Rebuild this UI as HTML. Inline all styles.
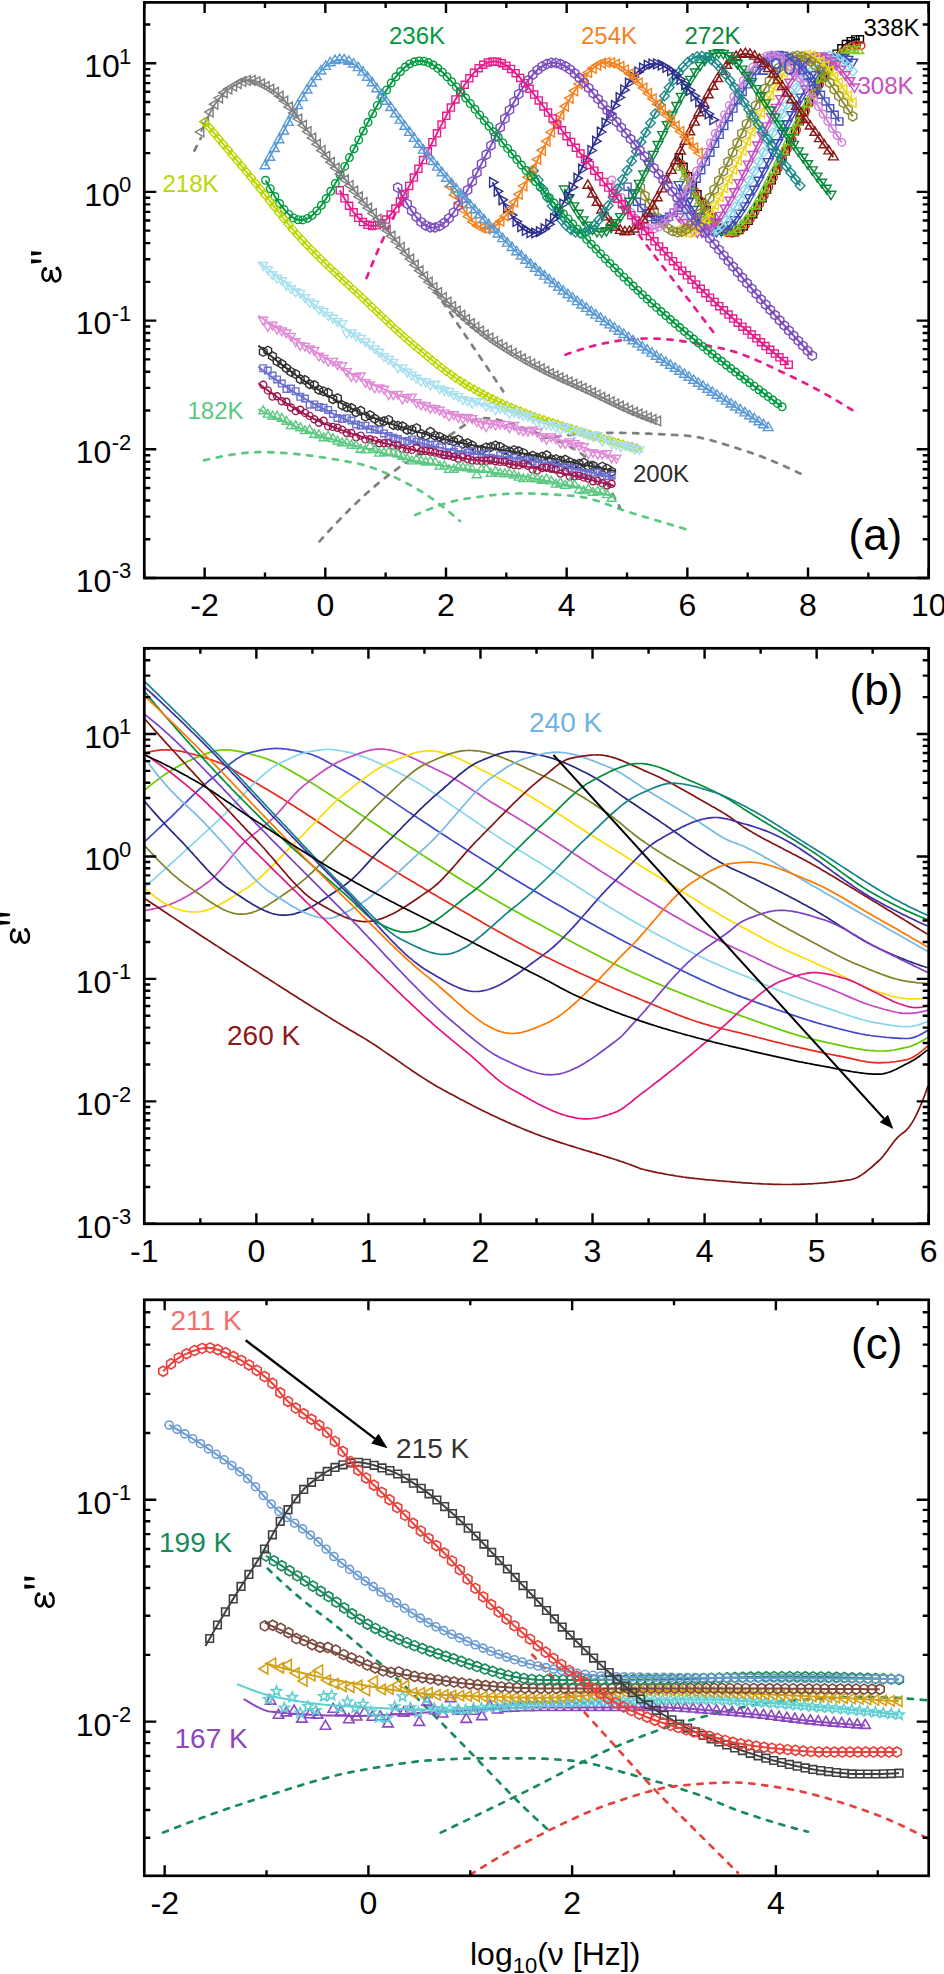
<!DOCTYPE html>
<html><head><meta charset="utf-8"><style>
html,body{margin:0;padding:0;background:#fff;}
svg{display:block;} text{font-family:"Liberation Sans",sans-serif;}
</style></head><body>
<svg width="944" height="1974" viewBox="0 0 944 1974">
<path d="M204.0 460.4 205.2 460.1 206.4 459.8 207.7 459.5 208.9 459.2 210.1 458.9 211.3 458.7 212.5 458.4 213.7 458.1 214.9 457.9 216.1 457.6 217.3 457.4 218.5 457.1 219.7 456.9 220.9 456.6 222.1 456.4 223.3 456.1 224.6 455.9 225.8 455.7 227.0 455.5 228.2 455.3 229.4 455.1 230.6 454.9 231.8 454.7 233.0 454.5 234.2 454.3 235.4 454.1 236.6 453.9 237.8 453.8 239.0 453.6 240.2 453.5 241.4 453.3 242.7 453.2 243.9 453.1 245.1 452.9 246.3 452.8 247.5 452.7 248.7 452.6 249.9 452.5 251.1 452.5 252.3 452.4 253.5 452.3 254.7 452.3 255.9 452.2 257.1 452.2 258.3 452.2 259.5 452.1 260.8 452.1 262.0 452.1 263.2 452.1 264.4 452.1 265.6 452.2 266.8 452.2 268.0 452.2 269.2 452.2 270.4 452.3 271.6 452.3 272.8 452.3 274.0 452.4 275.2 452.4 276.4 452.5 277.6 452.6 278.9 452.6 280.1 452.7 281.3 452.8 282.5 452.8 283.7 452.9 284.9 453.0 286.1 453.1 287.3 453.2 288.5 453.3 289.7 453.4 290.9 453.5 292.1 453.6 293.3 453.7 294.5 453.8 295.7 453.9 297.0 454.1 298.2 454.2 299.4 454.3 300.6 454.4 301.8 454.6 303.0 454.7 304.2 454.9 305.4 455.0 306.6 455.1 307.8 455.3 309.0 455.4 310.2 455.6 311.4 455.8 312.6 455.9 313.9 456.1 315.1 456.3 316.3 456.4 317.5 456.6 318.7 456.8 319.9 457.0 321.1 457.1 322.3 457.3 323.5 457.5 324.7 457.7 325.9 457.9 327.1 458.1 328.3 458.3 329.5 458.5 330.7 458.7 332.0 458.9 333.2 459.1 334.4 459.3 335.6 459.5 336.8 459.7 338.0 459.9 339.2 460.1 340.4 460.3 341.6 460.5 342.8 460.7 344.0 460.9 345.2 461.2 346.4 461.4 347.6 461.6 348.8 461.8 350.1 462.1 351.3 462.3 352.5 462.5 353.7 462.7 354.9 463.0 356.1 463.2 357.3 463.4 358.5 463.7 359.7 464.0 360.9 464.3 362.1 464.6 363.3 464.9 364.5 465.2 365.7 465.6 366.9 465.9 368.2 466.3 369.4 466.7 370.6 467.1 371.8 467.5 373.0 467.9 374.2 468.4 375.4 468.8 376.6 469.3 377.8 469.8 379.0 470.2 380.2 470.7 381.4 471.2 382.6 471.7 383.8 472.3 385.1 472.8 386.3 473.3 387.5 473.9 388.7 474.4 389.9 475.0 391.1 475.5 392.3 476.1 393.5 476.7 394.7 477.3 395.9 477.8 397.1 478.4 398.3 479.0 399.5 479.6 400.7 480.2 401.9 480.9 403.2 481.5 404.4 482.1 405.6 482.7 406.8 483.3 408.0 484.0 409.2 484.6 410.4 485.2 411.6 485.8 412.8 486.5 414.0 487.2 415.2 487.8 416.4 488.5 417.6 489.2 418.8 490.0 420.0 490.7 421.3 491.4 422.5 492.2 423.7 493.0 424.9 493.8 426.1 494.6 427.3 495.4 428.5 496.2 429.7 497.0 430.9 497.9 432.1 498.7 433.3 499.6 434.5 500.5 435.7 501.3 436.9 502.2 438.1 503.2 439.4 504.1 440.6 505.0 441.8 505.9 443.0 506.9 444.2 507.8 445.4 508.8 446.6 509.8 447.8 510.8 449.0 511.8 450.2 512.7 451.4 513.8 452.6 514.8 453.8 515.8 455.0 516.8 456.2 517.8 457.5 518.9 458.7 519.9 459.9 521.0" stroke="#5cc882" stroke-width="2.7" fill="none" stroke-dasharray="5.2 7.8" stroke-linecap="round"/>
<path d="M415.2 514.9 416.4 514.4 417.6 513.9 418.9 513.4 420.1 512.9 421.3 512.4 422.5 511.9 423.7 511.4 424.9 510.9 426.1 510.4 427.3 509.9 428.6 509.4 429.8 509.0 431.0 508.5 432.2 508.1 433.4 507.6 434.6 507.2 435.8 506.7 437.0 506.3 438.3 505.9 439.5 505.4 440.7 505.0 441.9 504.6 443.1 504.2 444.3 503.8 445.5 503.5 446.7 503.1 447.9 502.8 449.2 502.4 450.4 502.1 451.6 501.7 452.8 501.4 454.0 501.1 455.2 500.8 456.4 500.5 457.6 500.3 458.9 500.0 460.1 499.8 461.3 499.5 462.5 499.3 463.7 499.1 464.9 498.9 466.1 498.7 467.3 498.5 468.6 498.4 469.8 498.2 471.0 498.0 472.2 497.8 473.4 497.6 474.6 497.5 475.8 497.3 477.0 497.1 478.3 496.9 479.5 496.8 480.7 496.6 481.9 496.4 483.1 496.3 484.3 496.1 485.5 496.0 486.7 495.8 488.0 495.7 489.2 495.5 490.4 495.4 491.6 495.2 492.8 495.1 494.0 495.0 495.2 494.8 496.4 494.7 497.6 494.6 498.9 494.5 500.1 494.4 501.3 494.3 502.5 494.2 503.7 494.1 504.9 494.0 506.1 493.9 507.3 493.8 508.6 493.8 509.8 493.7 511.0 493.7 512.2 493.6 513.4 493.6 514.6 493.5 515.8 493.5 517.0 493.5 518.3 493.5 519.5 493.4 520.7 493.4 521.9 493.4 523.1 493.5 524.3 493.5 525.5 493.5 526.7 493.5 528.0 493.5 529.2 493.5 530.4 493.6 531.6 493.6 532.8 493.6 534.0 493.6 535.2 493.7 536.4 493.7 537.6 493.8 538.9 493.8 540.1 493.9 541.3 493.9 542.5 494.0 543.7 494.0 544.9 494.1 546.1 494.1 547.3 494.2 548.6 494.2 549.8 494.3 551.0 494.4 552.2 494.4 553.4 494.5 554.6 494.6 555.8 494.7 557.0 494.7 558.3 494.8 559.5 494.9 560.7 495.0 561.9 495.1 563.1 495.2 564.3 495.2 565.5 495.3 566.7 495.4 568.0 495.5 569.2 495.6 570.4 495.7 571.6 495.8 572.8 495.9 574.0 496.0 575.2 496.1 576.4 496.2 577.7 496.3 578.9 496.5 580.1 496.7 581.3 496.8 582.5 497.1 583.7 497.3 584.9 497.5 586.1 497.8 587.3 498.1 588.6 498.4 589.8 498.7 591.0 499.0 592.2 499.3 593.4 499.7 594.6 500.1 595.8 500.4 597.0 500.8 598.3 501.2 599.5 501.6 600.7 502.0 601.9 502.5 603.1 502.9 604.3 503.3 605.5 503.7 606.7 504.2 608.0 504.6 609.2 505.1 610.4 505.5 611.6 506.0 612.8 506.4 614.0 506.9 615.2 507.3 616.4 507.8 617.7 508.2 618.9 508.7 620.1 509.1 621.3 509.5 622.5 510.0 623.7 510.4 624.9 510.8 626.1 511.2 627.4 511.6 628.6 512.0 629.8 512.4 631.0 512.7 632.2 513.1 633.4 513.5 634.6 513.8 635.8 514.2 637.0 514.5 638.3 514.9 639.5 515.3 640.7 515.6 641.9 516.0 643.1 516.4 644.3 516.7 645.5 517.1 646.7 517.5 648.0 517.8 649.2 518.2 650.4 518.5 651.6 518.9 652.8 519.3 654.0 519.6 655.2 520.0 656.4 520.4 657.7 520.7 658.9 521.1 660.1 521.5 661.3 521.8 662.5 522.2 663.7 522.5 664.9 522.9 666.1 523.3 667.4 523.6 668.6 524.0 669.8 524.4 671.0 524.7 672.2 525.1 673.4 525.5 674.6 525.8 675.8 526.2 677.1 526.5 678.3 526.9 679.5 527.3 680.7 527.6 681.9 528.0 683.1 528.4 684.3 528.7 685.5 529.1" stroke="#5cc882" stroke-width="2.7" fill="none" stroke-dasharray="5.2 7.8" stroke-linecap="round"/>
<path d="M319.5 541.4 320.7 540.1 321.9 538.7 323.2 537.4 324.4 536.0 325.6 534.7 326.8 533.4 328.0 532.0 329.2 530.7 330.4 529.4 331.6 528.1 332.8 526.8 334.1 525.5 335.3 524.2 336.5 522.9 337.7 521.6 338.9 520.4 340.1 519.1 341.3 517.9 342.5 516.6 343.7 515.4 344.9 514.1 346.2 512.9 347.4 511.7 348.6 510.5 349.8 509.3 351.0 508.1 352.2 506.9 353.4 505.7 354.6 504.5 355.8 503.4 357.1 502.2 358.3 501.1 359.5 499.9 360.7 498.8 361.9 497.7 363.1 496.6 364.3 495.4 365.5 494.3 366.7 493.3 367.9 492.2 369.2 491.1 370.4 490.0 371.6 489.0 372.8 487.9 374.0 486.9 375.2 485.9 376.4 484.9 377.6 483.9 378.8 482.9 380.1 481.9 381.3 480.9 382.5 479.9 383.7 479.0 384.9 478.0 386.1 477.1 387.3 476.2 388.5 475.2 389.7 474.3 391.0 473.4 392.2 472.5 393.4 471.6 394.6 470.7 395.8 469.8 397.0 468.9 398.2 468.1 399.4 467.2 400.6 466.3 401.8 465.5 403.1 464.6 404.3 463.8 405.5 462.9 406.7 462.1 407.9 461.3 409.1 460.5 410.3 459.6 411.5 458.8 412.7 458.0 414.0 457.2 415.2 456.4 416.4 455.6 417.6 454.8 418.8 454.1 420.0 453.3 421.2 452.5 422.4 451.7 423.6 451.0 424.9 450.2 426.1 449.5 427.3 448.7 428.5 448.0 429.7 447.2 430.9 446.5 432.1 445.7 433.3 445.0 434.5 444.2 435.7 443.5 437.0 442.8 438.2 442.1 439.4 441.3 440.6 440.6 441.8 439.9 443.0 439.2 444.2 438.5 445.4 437.8 446.6 437.0 447.9 436.3 449.1 435.6 450.3 434.9 451.5 434.1 452.7 433.4 453.9 432.5 455.1 431.7 456.3 430.9 457.5 430.0 458.7 429.2 460.0 428.3 461.2 427.4 462.4 426.6 463.6 425.8 464.8 424.9 466.0 424.2 467.2 423.4 468.4 422.7 469.6 422.0 470.9 421.3 472.1 420.7 473.3 420.1 474.5 419.6 475.7 419.2 476.9 418.8 478.1 418.5 479.3 418.3 480.5 418.1 481.8 418.0 483.0 418.0 484.2 418.1 485.4 418.1 486.6 418.2 487.8 418.3 489.0 418.4 490.2 418.5 491.4 418.7 492.6 418.9 493.9 419.1 495.1 419.3 496.3 419.5 497.5 419.7 498.7 420.0 499.9 420.3 501.1 420.6 502.3 420.9 503.5 421.2 504.8 421.5 506.0 421.9 507.2 422.2 508.4 422.6 509.6 423.0 510.8 423.4 512.0 423.8 513.2 424.2 514.4 424.6 515.7 425.0 516.9 425.4 518.1 425.9 519.3 426.3 520.5 426.7 521.7 427.2 522.9 427.6 524.1 428.1 525.3 428.5 526.5 429.0 527.8 429.4 529.0 429.9 530.2 430.3 531.4 430.8 532.6 431.2 533.8 431.6 535.0 432.1 536.2 432.5 537.4 432.9 538.7 433.4 539.9 433.8 541.1 434.2 542.3 434.7 543.5 435.1 544.7 435.6 545.9 436.0 547.1 436.5 548.3 436.9 549.5 437.4 550.8 437.9 552.0 438.3 553.2 438.8 554.4 439.3 555.6 439.8 556.8 440.4 558.0 440.9 559.2 441.4 560.4 442.0 561.7 442.5 562.9 443.1 564.1 443.7 565.3 444.3 566.5 444.9 567.7 445.5 568.9 446.2 570.1 446.8 571.3 447.5 572.6 448.2 573.8 448.9 575.0 449.7 576.2 450.4 577.4 451.2 578.6 452.0 579.8 452.8 581.0 453.6 582.2 454.4 583.4 455.3 584.7 456.2 585.9 457.1 587.1 458.1 588.3 459.1 589.5 460.2 590.7 461.4 591.9 462.7 593.1 464.0 594.3 465.4 595.6 466.9 596.8 468.5 598.0 470.1 599.2 471.8 600.4 473.6 601.6 475.4 602.8 477.3 604.0 479.2 605.2 481.1 606.4 483.1 607.7 485.2 608.9 487.3 610.1 489.4 611.3 491.5 612.5 493.7 613.7 495.9 614.9 498.1 616.1 500.4 617.3 502.7 618.6 504.9 619.8 507.2" stroke="#7f7f7f" stroke-width="2.7" fill="none" stroke-dasharray="5.2 7.8" stroke-linecap="round"/>
<path d="M542.5 438.4 543.7 438.2 545.0 438.0 546.2 437.9 547.4 437.7 548.6 437.5 549.8 437.4 551.0 437.2 552.2 437.1 553.4 436.9 554.6 436.7 555.8 436.6 557.0 436.4 558.3 436.3 559.5 436.1 560.7 436.0 561.9 435.9 563.1 435.7 564.3 435.6 565.5 435.4 566.7 435.3 567.9 435.2 569.1 435.1 570.4 434.9 571.6 434.8 572.8 434.7 574.0 434.6 575.2 434.5 576.4 434.4 577.6 434.2 578.8 434.1 580.0 434.0 581.2 434.0 582.5 433.9 583.7 433.8 584.9 433.7 586.1 433.6 587.3 433.5 588.5 433.4 589.7 433.4 590.9 433.3 592.1 433.2 593.3 433.2 594.5 433.1 595.8 433.1 597.0 433.0 598.2 433.0 599.4 433.0 600.6 432.9 601.8 432.9 603.0 432.9 604.2 432.9 605.4 432.8 606.6 432.8 607.9 432.8 609.1 432.8 610.3 432.8 611.5 432.8 612.7 432.8 613.9 432.8 615.1 432.9 616.3 432.9 617.5 432.9 618.7 432.9 619.9 432.9 621.2 432.9 622.4 432.9 623.6 433.0 624.8 433.0 626.0 433.0 627.2 433.0 628.4 433.0 629.6 433.1 630.8 433.1 632.0 433.1 633.3 433.2 634.5 433.2 635.7 433.2 636.9 433.3 638.1 433.3 639.3 433.3 640.5 433.4 641.7 433.4 642.9 433.5 644.1 433.5 645.3 433.5 646.6 433.6 647.8 433.6 649.0 433.7 650.2 433.7 651.4 433.8 652.6 433.8 653.8 433.9 655.0 433.9 656.2 434.0 657.4 434.0 658.7 434.1 659.9 434.2 661.1 434.2 662.3 434.3 663.5 434.3 664.7 434.4 665.9 434.5 667.1 434.5 668.3 434.6 669.5 434.7 670.8 434.7 672.0 434.8 673.2 434.9 674.4 435.0 675.6 435.0 676.8 435.1 678.0 435.2 679.2 435.2 680.4 435.3 681.6 435.4 682.8 435.5 684.1 435.6 685.3 435.6 686.5 435.7 687.7 435.8 688.9 435.9 690.1 436.1 691.3 436.2 692.5 436.4 693.7 436.6 694.9 436.7 696.2 436.9 697.4 437.2 698.6 437.4 699.8 437.6 701.0 437.9 702.2 438.1 703.4 438.4 704.6 438.7 705.8 439.0 707.0 439.3 708.2 439.6 709.5 439.9 710.7 440.2 711.9 440.5 713.1 440.9 714.3 441.2 715.5 441.5 716.7 441.9 717.9 442.3 719.1 442.6 720.3 443.0 721.6 443.4 722.8 443.7 724.0 444.1 725.2 444.5 726.4 444.9 727.6 445.2 728.8 445.6 730.0 446.0 731.2 446.4 732.4 446.8 733.6 447.2 734.9 447.6 736.1 447.9 737.3 448.3 738.5 448.7 739.7 449.1 740.9 449.4 742.1 449.8 743.3 450.2 744.5 450.6 745.7 451.0 747.0 451.4 748.2 451.8 749.4 452.2 750.6 452.6 751.8 453.0 753.0 453.5 754.2 453.9 755.4 454.3 756.6 454.8 757.8 455.2 759.1 455.7 760.3 456.1 761.5 456.6 762.7 457.0 763.9 457.5 765.1 458.0 766.3 458.5 767.5 458.9 768.7 459.4 769.9 459.9 771.1 460.4 772.4 460.9 773.6 461.4 774.8 461.9 776.0 462.4 777.2 463.0 778.4 463.5 779.6 464.0 780.8 464.5 782.0 465.1 783.2 465.6 784.5 466.2 785.7 466.7 786.9 467.3 788.1 467.8 789.3 468.4 790.5 468.9 791.7 469.5 792.9 470.1 794.1 470.6 795.3 471.2 796.5 471.8 797.8 472.4 799.0 473.0 800.2 473.5 801.4 474.1" stroke="#7f7f7f" stroke-width="2.7" fill="none" stroke-dasharray="5.2 7.8" stroke-linecap="round"/>
<path d="M565.5 354.7 566.7 354.3 567.9 353.8 569.1 353.4 570.3 353.0 571.5 352.5 572.7 352.1 573.9 351.7 575.1 351.3 576.3 350.9 577.6 350.5 578.8 350.1 580.0 349.7 581.2 349.3 582.4 349.0 583.6 348.6 584.8 348.2 586.0 347.9 587.2 347.5 588.4 347.2 589.6 346.9 590.9 346.5 592.1 346.2 593.3 345.9 594.5 345.6 595.7 345.3 596.9 345.0 598.1 344.7 599.3 344.4 600.5 344.1 601.7 343.8 602.9 343.6 604.2 343.3 605.4 343.0 606.6 342.8 607.8 342.6 609.0 342.3 610.2 342.1 611.4 341.9 612.6 341.7 613.8 341.5 615.0 341.2 616.3 341.1 617.5 340.9 618.7 340.7 619.9 340.5 621.1 340.3 622.3 340.2 623.5 340.0 624.7 339.9 625.9 339.7 627.1 339.6 628.3 339.5 629.6 339.4 630.8 339.3 632.0 339.2 633.2 339.1 634.4 339.0 635.6 338.9 636.8 338.8 638.0 338.8 639.2 338.7 640.4 338.6 641.6 338.6 642.9 338.6 644.1 338.5 645.3 338.5 646.5 338.5 647.7 338.5 648.9 338.5 650.1 338.5 651.3 338.5 652.5 338.5 653.7 338.6 654.9 338.6 656.2 338.7 657.4 338.7 658.6 338.8 659.8 338.8 661.0 338.9 662.2 339.0 663.4 339.1 664.6 339.2 665.8 339.3 667.0 339.4 668.3 339.5 669.5 339.6 670.7 339.7 671.9 339.9 673.1 340.0 674.3 340.2 675.5 340.3 676.7 340.4 677.9 340.6 679.1 340.8 680.3 340.9 681.6 341.1 682.8 341.3 684.0 341.4 685.2 341.6 686.4 341.8 687.6 342.0 688.8 342.2 690.0 342.4 691.2 342.6 692.4 342.8 693.6 343.0 694.9 343.2 696.1 343.4 697.3 343.6 698.5 343.9 699.7 344.1 700.9 344.3 702.1 344.5 703.3 344.8 704.5 345.0 705.7 345.2 706.9 345.5 708.2 345.7 709.4 345.9 710.6 346.2 711.8 346.4 713.0 346.6 714.2 346.9 715.4 347.1 716.6 347.4 717.8 347.6 719.0 347.8 720.2 348.1 721.5 348.3 722.7 348.6 723.9 348.9 725.1 349.1 726.3 349.4 727.5 349.8 728.7 350.1 729.9 350.4 731.1 350.8 732.3 351.1 733.6 351.5 734.8 351.9 736.0 352.3 737.2 352.7 738.4 353.1 739.6 353.5 740.8 353.9 742.0 354.3 743.2 354.8 744.4 355.2 745.6 355.7 746.9 356.2 748.1 356.7 749.3 357.1 750.5 357.6 751.7 358.1 752.9 358.6 754.1 359.1 755.3 359.7 756.5 360.2 757.7 360.7 758.9 361.3 760.2 361.8 761.4 362.3 762.6 362.9 763.8 363.4 765.0 364.0 766.2 364.6 767.4 365.1 768.6 365.7 769.8 366.3 771.0 366.8 772.2 367.4 773.5 368.0 774.7 368.5 775.9 369.1 777.1 369.7 778.3 370.3 779.5 370.9 780.7 371.4 781.9 372.0 783.1 372.6 784.3 373.2 785.6 373.8 786.8 374.3 788.0 374.9 789.2 375.5 790.4 376.1 791.6 376.6 792.8 377.2 794.0 377.8 795.2 378.3 796.4 378.9 797.6 379.5 798.9 380.1 800.1 380.7 801.3 381.3 802.5 381.9 803.7 382.5 804.9 383.1 806.1 383.7 807.3 384.3 808.5 385.0 809.7 385.6 810.9 386.2 812.2 386.9 813.4 387.5 814.6 388.2 815.8 388.8 817.0 389.5 818.2 390.1 819.4 390.8 820.6 391.4 821.8 392.1 823.0 392.8 824.2 393.5 825.5 394.1 826.7 394.8 827.9 395.5 829.1 396.2 830.3 396.9 831.5 397.6 832.7 398.3 833.9 399.0 835.1 399.7 836.3 400.4 837.5 401.1 838.8 401.9 840.0 402.6 841.2 403.3 842.4 404.0 843.6 404.8 844.8 405.5 846.0 406.2 847.2 407.0 848.4 407.7 849.6 408.5 850.9 409.2 852.1 410.0 853.3 410.7 854.5 411.5 855.7 412.2 856.9 413.0" stroke="#e61e8c" stroke-width="2.7" fill="none" stroke-dasharray="5.2 7.8" stroke-linecap="round"/>
<path d="M639.1 234.8 640.3 236.5 641.5 238.2 642.7 239.9 643.9 241.5 645.2 243.2 646.4 244.9 647.6 246.5 648.8 248.2 650.0 249.8 651.2 251.4 652.5 253.0 653.7 254.7 654.9 256.3 656.1 257.9 657.3 259.4 658.5 261.0 659.8 262.6 661.0 264.2 662.2 265.8 663.4 267.3 664.6 268.9 665.8 270.5 667.1 272.0 668.3 273.6 669.5 275.1 670.7 276.7 671.9 278.2 673.1 279.8 674.4 281.4 675.6 282.9 676.8 284.5 678.0 286.0 679.2 287.6 680.4 289.2 681.7 290.8 682.9 292.3 684.1 293.9 685.3 295.5 686.5 297.1 687.7 298.7 689.0 300.2 690.2 301.8 691.4 303.4 692.6 305.0 693.8 306.6 695.0 308.2 696.3 309.8 697.5 311.4 698.7 313.0 699.9 314.5 701.1 316.1 702.3 317.7 703.6 319.3 704.8 320.9 706.0 322.5 707.2 324.1 708.4 325.7 709.6 327.3 710.9 328.9 712.1 330.5 713.3 332.1" stroke="#e61e8c" stroke-width="2.7" fill="none" stroke-dasharray="5.2 7.8" stroke-linecap="round"/>
<path d="M366.5 278.0 367.8 274.9 369.0 271.8 370.2 268.7 371.5 265.7 372.7 262.7 374.0 259.7 375.2 256.8 376.5 253.9 377.7 251.0 378.9 248.2 380.2 245.4 381.4 242.6 382.7 239.9 383.9 237.2 385.1 234.5 386.4 231.9 387.6 229.3 388.9 226.7 390.1 224.1 391.3 221.6 392.6 219.2 393.8 216.7 395.1 214.3 396.3 211.9 397.6 209.6 398.8 207.2 400.0 205.0 401.3 202.7 402.5 200.5 403.8 198.3" stroke="#e61e8c" stroke-width="2.7" fill="none" stroke-dasharray="5.2 7.8" stroke-linecap="round"/>
<path d="M194.4 150.7 195.7 148.1 197.0 145.6 198.4 143.0 199.7 140.4 201.0 137.8" stroke="#7f7f7f" stroke-width="2.7" fill="none" stroke-dasharray="5.2 7.8" stroke-linecap="round"/>
<path d="M427.9 280.3 429.1 282.1 430.3 283.9 431.5 285.7 432.8 287.5 434.0 289.2 435.2 291.0 436.4 292.8 437.6 294.6 438.8 296.4 440.1 298.2 441.3 299.9 442.5 301.7 443.7 303.5 444.9 305.3 446.1 307.1 447.4 308.9 448.6 310.7 449.8 312.4 451.0 314.2 452.2 316.0 453.4 317.8 454.7 319.6 455.9 321.4 457.1 323.2 458.3 325.0 459.5 326.7 460.7 328.5 462.0 330.3 463.2 332.1 464.4 333.9 465.6 335.7 466.8 337.5 468.0 339.3 469.3 341.1 470.5 342.9 471.7 344.6 472.9 346.4 474.1 348.2 475.3 350.0 476.6 351.8 477.8 353.6 479.0 355.4 480.2 357.2 481.4 359.0 482.6 360.8 483.8 362.6 485.1 364.4 486.3 366.2 487.5 368.0 488.7 369.8 489.9 371.6 491.1 373.4 492.4 375.2 493.6 377.0 494.8 378.8 496.0 380.6 497.2 382.4 498.4 384.2 499.7 386.0 500.9 387.8 502.1 389.6 503.3 391.4" stroke="#7f7f7f" stroke-width="2.7" fill="none" stroke-dasharray="5.2 7.8" stroke-linecap="round"/>
<path d="M678.9 157.4 680.1 159.9 681.3 162.4 682.5 164.9 683.8 167.3 685.0 169.8 686.2 172.2 687.4 174.7 688.6 177.1 689.8 179.5 691.0 181.9 692.3 184.3 693.5 186.6 694.7 189.0 695.9 191.3 697.1 193.5 698.3 195.8 699.6 198.0 700.8 200.2 702.0 202.3 703.2 204.4 704.4 206.5 705.6 208.5 706.8 210.5 708.1 212.4 709.3 214.2 710.5 216.0 711.7 217.7 712.9 219.4 714.1 221.0 715.3 222.5 716.6 223.9 717.8 225.2 719.0 226.4 720.2 227.5 721.4 228.6 722.6 229.5 723.8 230.3 725.1 231.0 726.3 231.6 727.5 232.0 728.7 232.3 729.9 232.6 731.1 232.6 732.4 232.6 733.6 232.4 734.8 232.1 736.0 231.7 737.2 231.2 738.4 230.5 739.6 229.7 740.9 228.9 742.1 227.9 743.3 226.7 744.5 225.5 745.7 224.2 746.9 222.8 748.1 221.3 749.4 219.7 750.6 218.1 751.8 216.3 753.0 214.5 754.2 212.6 755.4 210.7 756.7 208.7 757.9 206.6 759.1 204.5 760.3 202.3 761.5 200.1 762.7 197.9 763.9 195.6 765.2 193.3 766.4 190.9 767.6 188.5 768.8 186.1 770.0 183.7 771.2 181.3 772.4 178.8 773.7 176.3 774.9 173.8 776.1 171.3 777.3 168.8 778.5 166.2 779.7 163.7 780.9 161.1 782.2 158.5 783.4 156.0 784.6 153.4 785.8 150.8 787.0 148.2 788.2 145.6 789.5 143.0 790.7 140.4 791.9 137.9 793.1 135.3 794.3 132.7 795.5 130.1 796.7 127.5 798.0 124.9 799.2 122.4 800.4 119.8 801.6 117.3 802.8 114.7 804.0 112.2 805.2 109.7 806.5 107.2 807.7 104.7 808.9 102.2 810.1 99.7 811.3 97.3 812.5 94.8 813.7 92.4 815.0 90.0 816.2 87.7 817.4 85.4 818.6 83.1 819.8 80.8 821.0 78.5 822.3 76.3 823.5 74.2 824.7 72.0 825.9 70.0 827.1 67.9 828.3 65.9 829.5 64.0 830.8 62.1 832.0 60.2 833.2 58.5 834.4 56.8 835.6 55.1 836.8 53.5 838.0 52.0 839.3 50.6 840.5 49.2 841.7 47.9 842.9 46.7 844.1 45.6 845.3 44.6 846.6 43.6 847.8 42.8 849.0 42.0 850.2 41.3 851.4 40.8 852.6 40.3 853.8 39.9 855.1 39.6 856.3 39.3 857.5 39.2 858.7 39.2 859.9 39.2" stroke="#000000" stroke-width="1.9" fill="none" stroke-linejoin="round"/>
<path d="M675.3 153.8h7.1v7.1h-7.1zM680.0 163.3h7.1v7.1h-7.1zM684.6 172.7h7.1v7.1h-7.1zM689.3 181.8h7.1v7.1h-7.1zM693.9 190.6h7.1v7.1h-7.1zM698.5 199.0h7.1v7.1h-7.1zM703.2 206.8h7.1v7.1h-7.1zM707.8 213.8h7.1v7.1h-7.1zM712.5 219.7h7.1v7.1h-7.1zM717.1 224.4h7.1v7.1h-7.1zM721.7 227.5h7.1v7.1h-7.1zM726.4 229.0h7.1v7.1h-7.1zM731.0 228.6h7.1v7.1h-7.1zM735.7 226.5h7.1v7.1h-7.1zM740.3 222.6h7.1v7.1h-7.1zM745.0 217.3h7.1v7.1h-7.1zM749.6 210.7h7.1v7.1h-7.1zM754.2 203.1h7.1v7.1h-7.1zM758.9 194.8h7.1v7.1h-7.1zM763.5 186.0h7.1v7.1h-7.1zM768.2 176.7h7.1v7.1h-7.1zM772.8 167.1h7.1v7.1h-7.1zM777.4 157.4h7.1v7.1h-7.1zM782.1 147.6h7.1v7.1h-7.1zM786.7 137.7h7.1v7.1h-7.1zM791.4 127.8h7.1v7.1h-7.1zM796.0 118.0h7.1v7.1h-7.1zM800.7 108.2h7.1v7.1h-7.1zM805.3 98.7h7.1v7.1h-7.1zM809.9 89.4h7.1v7.1h-7.1zM814.6 80.4h7.1v7.1h-7.1zM819.2 71.8h7.1v7.1h-7.1zM823.9 63.8h7.1v7.1h-7.1zM828.5 56.5h7.1v7.1h-7.1zM833.1 50.1h7.1v7.1h-7.1zM837.8 44.7h7.1v7.1h-7.1zM842.4 40.5h7.1v7.1h-7.1zM847.1 37.6h7.1v7.1h-7.1zM851.7 35.9h7.1v7.1h-7.1zM856.4 35.7h7.1v7.1h-7.1z" stroke="#000000" stroke-width="1.4" fill="none"/>
<path d="M681.3 164.2 682.5 166.6 683.7 169.1 684.9 171.5 686.1 173.9 687.3 176.4 688.6 178.8 689.8 181.1 691.0 183.5 692.2 185.9 693.4 188.2 694.6 190.5 695.8 192.8 697.0 195.0 698.2 197.2 699.4 199.4 700.6 201.6 701.8 203.7 703.0 205.7 704.2 207.8 705.4 209.8 706.7 211.7 707.9 213.6 709.1 215.4 710.3 217.1 711.5 218.8 712.7 220.4 713.9 222.0 715.1 223.4 716.3 224.8 717.5 226.1 718.7 227.3 719.9 228.4 721.1 229.4 722.3 230.3 723.5 231.1 724.8 231.7 726.0 232.3 727.2 232.7 728.4 233.1 729.6 233.3 730.8 233.3 732.0 233.3 733.2 233.1 734.4 232.9 735.6 232.5 736.8 231.9 738.0 231.3 739.2 230.5 740.4 229.7 741.7 228.7 742.9 227.6 744.1 226.4 745.3 225.2 746.5 223.8 747.7 222.3 748.9 220.8 750.1 219.2 751.3 217.5 752.5 215.7 753.7 213.9 754.9 212.0 756.1 210.1 757.3 208.1 758.5 206.0 759.8 203.9 761.0 201.8 762.2 199.6 763.4 197.4 764.6 195.1 765.8 192.8 767.0 190.5 768.2 188.2 769.4 185.8 770.6 183.4 771.8 181.0 773.0 178.6 774.2 176.2 775.4 173.7 776.6 171.2 777.9 168.8 779.1 166.3 780.3 163.8 781.5 161.3 782.7 158.8 783.9 156.2 785.1 153.7 786.3 151.2 787.5 148.7 788.7 146.2 789.9 143.6 791.1 141.1 792.3 138.6 793.5 136.1 794.7 133.5 796.0 131.0 797.2 128.5 798.4 126.0 799.6 123.5 800.8 121.0 802.0 118.6 803.2 116.1 804.4 113.6 805.6 111.2 806.8 108.8 808.0 106.3 809.2 103.9 810.4 101.6 811.6 99.2 812.9 96.9 814.1 94.5 815.3 92.3 816.5 90.0 817.7 87.7 818.9 85.5 820.1 83.4 821.3 81.2 822.5 79.1 823.7 77.0 824.9 75.0 826.1 73.0 827.3 71.1 828.5 69.2 829.7 67.4 831.0 65.6 832.2 63.9 833.4 62.2 834.6 60.6 835.8 59.1 837.0 57.6 838.2 56.3 839.4 54.9 840.6 53.7 841.8 52.5 843.0 51.5 844.2 50.5 845.4 49.5 846.6 48.7 847.8 48.0 849.1 47.3 850.3 46.7 851.5 46.3 852.7 45.9 853.9 45.6 855.1 45.4 856.3 45.3 857.5 45.2 858.7 45.3 859.9 45.4 861.1 45.6" stroke="#e8291c" stroke-width="1.9" fill="none" stroke-linejoin="round"/>
<path d="M677.5 164.2a3.8 3.8 0 1 0 7.6 0a3.8 3.8 0 1 0 -7.6 0M682.1 173.5a3.8 3.8 0 1 0 7.6 0a3.8 3.8 0 1 0 -7.6 0M686.8 182.7a3.8 3.8 0 1 0 7.6 0a3.8 3.8 0 1 0 -7.6 0M691.4 191.5a3.8 3.8 0 1 0 7.6 0a3.8 3.8 0 1 0 -7.6 0M696.0 200.0a3.8 3.8 0 1 0 7.6 0a3.8 3.8 0 1 0 -7.6 0M700.6 208.0a3.8 3.8 0 1 0 7.6 0a3.8 3.8 0 1 0 -7.6 0M705.2 215.2a3.8 3.8 0 1 0 7.6 0a3.8 3.8 0 1 0 -7.6 0M709.8 221.6a3.8 3.8 0 1 0 7.6 0a3.8 3.8 0 1 0 -7.6 0M714.4 226.8a3.8 3.8 0 1 0 7.6 0a3.8 3.8 0 1 0 -7.6 0M719.0 230.6a3.8 3.8 0 1 0 7.6 0a3.8 3.8 0 1 0 -7.6 0M723.6 232.8a3.8 3.8 0 1 0 7.6 0a3.8 3.8 0 1 0 -7.6 0M728.2 233.3a3.8 3.8 0 1 0 7.6 0a3.8 3.8 0 1 0 -7.6 0M732.9 232.0a3.8 3.8 0 1 0 7.6 0a3.8 3.8 0 1 0 -7.6 0M737.5 229.0a3.8 3.8 0 1 0 7.6 0a3.8 3.8 0 1 0 -7.6 0M742.1 224.5a3.8 3.8 0 1 0 7.6 0a3.8 3.8 0 1 0 -7.6 0M746.7 218.7a3.8 3.8 0 1 0 7.6 0a3.8 3.8 0 1 0 -7.6 0M751.3 211.8a3.8 3.8 0 1 0 7.6 0a3.8 3.8 0 1 0 -7.6 0M755.9 204.0a3.8 3.8 0 1 0 7.6 0a3.8 3.8 0 1 0 -7.6 0M760.5 195.6a3.8 3.8 0 1 0 7.6 0a3.8 3.8 0 1 0 -7.6 0M765.1 186.8a3.8 3.8 0 1 0 7.6 0a3.8 3.8 0 1 0 -7.6 0M769.7 177.6a3.8 3.8 0 1 0 7.6 0a3.8 3.8 0 1 0 -7.6 0M774.4 168.2a3.8 3.8 0 1 0 7.6 0a3.8 3.8 0 1 0 -7.6 0M779.0 158.6a3.8 3.8 0 1 0 7.6 0a3.8 3.8 0 1 0 -7.6 0M783.6 149.0a3.8 3.8 0 1 0 7.6 0a3.8 3.8 0 1 0 -7.6 0M788.2 139.4a3.8 3.8 0 1 0 7.6 0a3.8 3.8 0 1 0 -7.6 0M792.8 129.7a3.8 3.8 0 1 0 7.6 0a3.8 3.8 0 1 0 -7.6 0M797.4 120.2a3.8 3.8 0 1 0 7.6 0a3.8 3.8 0 1 0 -7.6 0M802.0 110.8a3.8 3.8 0 1 0 7.6 0a3.8 3.8 0 1 0 -7.6 0M806.6 101.6a3.8 3.8 0 1 0 7.6 0a3.8 3.8 0 1 0 -7.6 0M811.2 92.7a3.8 3.8 0 1 0 7.6 0a3.8 3.8 0 1 0 -7.6 0M815.8 84.2a3.8 3.8 0 1 0 7.6 0a3.8 3.8 0 1 0 -7.6 0M820.5 76.2a3.8 3.8 0 1 0 7.6 0a3.8 3.8 0 1 0 -7.6 0M825.1 68.7a3.8 3.8 0 1 0 7.6 0a3.8 3.8 0 1 0 -7.6 0M829.7 62.1a3.8 3.8 0 1 0 7.6 0a3.8 3.8 0 1 0 -7.6 0M834.3 56.4a3.8 3.8 0 1 0 7.6 0a3.8 3.8 0 1 0 -7.6 0M838.9 51.7a3.8 3.8 0 1 0 7.6 0a3.8 3.8 0 1 0 -7.6 0M843.5 48.3a3.8 3.8 0 1 0 7.6 0a3.8 3.8 0 1 0 -7.6 0M848.1 46.1a3.8 3.8 0 1 0 7.6 0a3.8 3.8 0 1 0 -7.6 0M852.7 45.2a3.8 3.8 0 1 0 7.6 0a3.8 3.8 0 1 0 -7.6 0M857.3 45.6a3.8 3.8 0 1 0 7.6 0a3.8 3.8 0 1 0 -7.6 0" stroke="#e8291c" stroke-width="1.4" fill="none"/>
<path d="M680.1 167.4 681.3 169.8 682.5 172.3 683.7 174.7 684.9 177.1 686.1 179.5 687.3 181.8 688.6 184.2 689.8 186.5 691.0 188.8 692.2 191.1 693.4 193.4 694.6 195.6 695.8 197.8 697.0 199.9 698.2 202.1 699.4 204.2 700.6 206.2 701.8 208.2 703.0 210.1 704.2 212.0 705.4 213.9 706.7 215.7 707.9 217.4 709.1 219.0 710.3 220.6 711.5 222.1 712.7 223.5 713.9 224.8 715.1 226.0 716.3 227.2 717.5 228.2 718.7 229.2 719.9 230.0 721.1 230.7 722.3 231.3 723.5 231.8 724.8 232.2 726.0 232.5 727.2 232.6 728.4 232.7 729.6 232.6 730.8 232.4 732.0 232.0 733.2 231.6 734.4 231.0 735.6 230.3 736.8 229.5 738.0 228.6 739.2 227.6 740.4 226.5 741.7 225.3 742.9 224.0 744.1 222.6 745.3 221.2 746.5 219.6 747.7 218.0 748.9 216.3 750.1 214.5 751.3 212.7 752.5 210.8 753.7 208.9 754.9 206.9 756.1 204.8 757.3 202.7 758.5 200.6 759.8 198.4 761.0 196.2 762.2 194.0 763.4 191.8 764.6 189.5 765.8 187.2 767.0 184.8 768.2 182.5 769.4 180.1 770.6 177.7 771.8 175.3 773.0 172.9 774.2 170.4 775.4 168.0 776.6 165.5 777.9 163.1 779.1 160.6 780.3 158.1 781.5 155.7 782.7 153.2 783.9 150.7 785.1 148.2 786.3 145.7 787.5 143.3 788.7 140.8 789.9 138.3 791.1 135.8 792.3 133.3 793.5 130.9 794.7 128.4 796.0 126.0 797.2 123.5 798.4 121.1 799.6 118.6 800.8 116.2 802.0 113.8 803.2 111.4 804.4 109.1 805.6 106.7 806.8 104.4 808.0 102.1 809.2 99.8 810.4 97.5 811.6 95.2 812.9 93.0 814.1 90.8 815.3 88.7 816.5 86.5 817.7 84.4 818.9 82.4 820.1 80.4 821.3 78.4 822.5 76.4 823.7 74.6 824.9 72.7 826.1 70.9 827.3 69.2 828.5 67.5 829.7 65.9 831.0 64.4 832.2 62.9 833.4 61.5 834.6 60.1 835.8 58.9 837.0 57.7 838.2 56.6 839.4 55.5 840.6 54.6 841.8 53.7 843.0 53.0 844.2 52.3 845.4 51.7 846.6 51.1 847.8 50.7 849.1 50.4 850.3 50.1 851.5 49.9 852.7 49.9 853.9 49.9 855.1 50.0 856.3 50.1 857.5 50.4 858.7 50.7" stroke="#78c81e" stroke-width="1.9" fill="none" stroke-linejoin="round"/>
<path d="M675.2 170.2l4.9 -8.4l4.9 8.4zM679.9 179.6l4.9 -8.4l4.9 8.4zM684.6 188.8l4.9 -8.4l4.9 8.4zM689.3 197.7l4.9 -8.4l4.9 8.4zM694.0 206.1l4.9 -8.4l4.9 8.4zM698.7 213.9l4.9 -8.4l4.9 8.4zM703.4 220.8l4.9 -8.4l4.9 8.4zM708.1 226.7l4.9 -8.4l4.9 8.4zM712.8 231.2l4.9 -8.4l4.9 8.4zM717.5 234.2l4.9 -8.4l4.9 8.4zM722.2 235.4l4.9 -8.4l4.9 8.4zM726.9 234.9l4.9 -8.4l4.9 8.4zM731.6 232.6l4.9 -8.4l4.9 8.4zM736.3 228.6l4.9 -8.4l4.9 8.4zM741.0 223.2l4.9 -8.4l4.9 8.4zM745.7 216.6l4.9 -8.4l4.9 8.4zM750.4 209.0l4.9 -8.4l4.9 8.4zM755.1 200.8l4.9 -8.4l4.9 8.4zM759.8 192.0l4.9 -8.4l4.9 8.4zM764.5 182.9l4.9 -8.4l4.9 8.4zM769.2 173.5l4.9 -8.4l4.9 8.4zM773.9 163.9l4.9 -8.4l4.9 8.4zM778.6 154.3l4.9 -8.4l4.9 8.4zM783.3 144.6l4.9 -8.4l4.9 8.4zM788.0 135.0l4.9 -8.4l4.9 8.4zM792.7 125.4l4.9 -8.4l4.9 8.4zM797.4 116.0l4.9 -8.4l4.9 8.4zM802.1 106.8l4.9 -8.4l4.9 8.4zM806.8 97.9l4.9 -8.4l4.9 8.4zM811.5 89.4l4.9 -8.4l4.9 8.4zM816.2 81.5l4.9 -8.4l4.9 8.4zM820.9 74.2l4.9 -8.4l4.9 8.4zM825.6 67.8l4.9 -8.4l4.9 8.4zM830.3 62.3l4.9 -8.4l4.9 8.4zM835.0 57.9l4.9 -8.4l4.9 8.4zM839.7 54.9l4.9 -8.4l4.9 8.4zM844.4 53.1l4.9 -8.4l4.9 8.4zM849.1 52.7l4.9 -8.4l4.9 8.4zM853.8 53.5l4.9 -8.4l4.9 8.4z" stroke="#78c81e" stroke-width="1.4" fill="none"/>
<path d="M678.9 184.4 680.1 186.7 681.3 189.0 682.5 191.2 683.7 193.5 684.9 195.7 686.1 197.8 687.3 200.0 688.6 202.1 689.8 204.1 691.0 206.1 692.2 208.1 693.4 210.0 694.6 211.9 695.8 213.6 697.0 215.4 698.2 217.0 699.4 218.6 700.6 220.1 701.8 221.6 703.0 222.9 704.2 224.2 705.4 225.4 706.7 226.4 707.9 227.4 709.1 228.3 710.3 229.1 711.5 229.7 712.7 230.3 713.9 230.7 715.1 231.0 716.3 231.2 717.5 231.3 718.7 231.2 719.9 231.1 721.1 230.8 722.3 230.4 723.5 229.9 724.8 229.2 726.0 228.5 727.2 227.7 728.4 226.7 729.6 225.7 730.8 224.5 732.0 223.3 733.2 222.0 734.4 220.5 735.6 219.1 736.8 217.5 738.0 215.8 739.2 214.1 740.4 212.4 741.7 210.5 742.9 208.6 744.1 206.7 745.3 204.7 746.5 202.7 747.7 200.6 748.9 198.5 750.1 196.3 751.3 194.1 752.5 191.9 753.7 189.7 754.9 187.4 756.1 185.1 757.3 182.8 758.5 180.5 759.8 178.1 761.0 175.7 762.2 173.4 763.4 171.0 764.6 168.6 765.8 166.2 767.0 163.7 768.2 161.3 769.4 158.9 770.6 156.4 771.8 154.0 773.0 151.6 774.2 149.1 775.4 146.7 776.6 144.2 777.9 141.8 779.1 139.4 780.3 136.9 781.5 134.5 782.7 132.1 783.9 129.7 785.1 127.3 786.3 124.9 787.5 122.5 788.7 120.1 789.9 117.8 791.1 115.4 792.3 113.1 793.5 110.8 794.7 108.5 796.0 106.2 797.2 104.0 798.4 101.7 799.6 99.5 800.8 97.3 802.0 95.2 803.2 93.1 804.4 91.0 805.6 89.0 806.8 87.0 808.0 85.0 809.2 83.1 810.4 81.2 811.6 79.4 812.9 77.6 814.1 75.9 815.3 74.3 816.5 72.7 817.7 71.1 818.9 69.7 820.1 68.3 821.3 66.9 822.5 65.7 823.7 64.5 824.9 63.4 826.1 62.4 827.3 61.5 828.5 60.7 829.7 59.9 831.0 59.2 832.2 58.6 833.4 58.2 834.6 57.8 835.8 57.5 837.0 57.2 838.2 57.1 839.4 57.1 840.6 57.1 841.8 57.3 843.0 57.5 844.2 57.8 845.4 58.2 846.6 58.6 847.8 59.2 849.1 59.8 850.3 60.5 851.5 61.2 852.7 62.0" stroke="#3a4ab8" stroke-width="1.9" fill="none" stroke-linejoin="round"/>
<path d="M674.0 181.6l4.9 8.4l4.9 -8.4zM678.7 190.4l4.9 8.4l4.9 -8.4zM683.4 198.8l4.9 8.4l4.9 -8.4zM688.1 206.6l4.9 8.4l4.9 -8.4zM692.8 213.5l4.9 8.4l4.9 -8.4zM697.5 219.4l4.9 8.4l4.9 -8.4zM702.2 224.0l4.9 8.4l4.9 -8.4zM706.9 227.0l4.9 8.4l4.9 -8.4zM711.6 228.4l4.9 8.4l4.9 -8.4zM716.3 228.0l4.9 8.4l4.9 -8.4zM721.0 225.8l4.9 8.4l4.9 -8.4zM725.7 221.9l4.9 8.4l4.9 -8.4zM730.4 216.7l4.9 8.4l4.9 -8.4zM735.1 210.3l4.9 8.4l4.9 -8.4zM739.8 202.9l4.9 8.4l4.9 -8.4zM744.5 194.8l4.9 8.4l4.9 -8.4zM749.2 186.2l4.9 8.4l4.9 -8.4zM753.9 177.3l4.9 8.4l4.9 -8.4zM758.6 168.0l4.9 8.4l4.9 -8.4zM763.3 158.6l4.9 8.4l4.9 -8.4zM768.0 149.2l4.9 8.4l4.9 -8.4zM772.7 139.7l4.9 8.4l4.9 -8.4zM777.4 130.2l4.9 8.4l4.9 -8.4zM782.1 120.8l4.9 8.4l4.9 -8.4zM786.8 111.7l4.9 8.4l4.9 -8.4zM791.5 102.7l4.9 8.4l4.9 -8.4zM796.2 94.1l4.9 8.4l4.9 -8.4zM800.8 86.0l4.9 8.4l4.9 -8.4zM805.5 78.5l4.9 8.4l4.9 -8.4zM810.2 71.7l4.9 8.4l4.9 -8.4zM814.9 65.8l4.9 8.4l4.9 -8.4zM819.6 61.0l4.9 8.4l4.9 -8.4zM824.3 57.4l4.9 8.4l4.9 -8.4zM829.0 55.2l4.9 8.4l4.9 -8.4zM833.7 54.3l4.9 8.4l4.9 -8.4zM838.4 54.7l4.9 8.4l4.9 -8.4zM843.1 56.4l4.9 8.4l4.9 -8.4zM847.8 59.2l4.9 8.4l4.9 -8.4z" stroke="#3a4ab8" stroke-width="1.4" fill="none"/>
<path d="M678.9 202.0 680.1 204.1 681.3 206.1 682.5 208.1 683.7 210.1 684.9 212.0 686.1 213.8 687.3 215.6 688.6 217.3 689.8 218.9 691.0 220.5 692.2 222.0 693.4 223.4 694.6 224.7 695.8 225.9 697.0 227.1 698.2 228.1 699.4 229.0 700.6 229.8 701.8 230.6 703.0 231.2 704.2 231.6 705.4 232.0 706.7 232.3 707.9 232.4 709.1 232.4 710.3 232.3 711.5 232.1 712.7 231.7 713.9 231.2 715.1 230.7 716.3 230.0 717.5 229.1 718.7 228.2 719.9 227.2 721.1 226.1 722.3 224.9 723.5 223.5 724.8 222.1 726.0 220.6 727.2 219.1 728.4 217.4 729.6 215.7 730.8 213.9 732.0 212.1 733.2 210.2 734.4 208.2 735.6 206.2 736.8 204.2 738.0 202.1 739.2 199.9 740.4 197.7 741.7 195.5 742.9 193.3 744.1 191.0 745.3 188.7 746.5 186.4 747.7 184.0 748.9 181.6 750.1 179.3 751.3 176.9 752.5 174.4 753.7 172.0 754.9 169.6 756.1 167.1 757.3 164.6 758.5 162.2 759.8 159.7 761.0 157.2 762.2 154.7 763.4 152.3 764.6 149.8 765.8 147.3 767.0 144.8 768.2 142.3 769.4 139.8 770.6 137.3 771.8 134.9 773.0 132.4 774.2 129.9 775.4 127.5 776.6 125.0 777.9 122.6 779.1 120.1 780.3 117.7 781.5 115.3 782.7 113.0 783.9 110.6 785.1 108.2 786.3 105.9 787.5 103.6 788.7 101.3 789.9 99.1 791.1 96.8 792.3 94.6 793.5 92.5 794.7 90.3 796.0 88.2 797.2 86.2 798.4 84.2 799.6 82.2 800.8 80.3 802.0 78.4 803.2 76.6 804.4 74.9 805.6 73.2 806.8 71.5 808.0 70.0 809.2 68.5 810.4 67.0 811.6 65.7 812.9 64.4 814.1 63.2 815.3 62.1 816.5 61.1 817.7 60.2 818.9 59.3 820.1 58.6 821.3 57.9 822.5 57.4 823.7 56.9 824.9 56.5 826.1 56.3 827.3 56.1 828.5 56.0 829.7 56.0 831.0 56.1 832.2 56.3 833.4 56.6 834.6 57.0 835.8 57.5 837.0 58.0 838.2 58.6 839.4 59.3 840.6 60.1 841.8 60.9 843.0 61.9 844.2 62.8 845.4 63.9 846.6 65.0 847.8 66.1 849.1 67.3 850.3 68.6 851.5 69.9 852.7 71.2" stroke="#88d8ea" stroke-width="1.9" fill="none" stroke-linejoin="round"/>
<path d="M678.9 197.3l4.8 4.8l-4.8 4.8l-4.8 -4.8zM683.6 205.1l4.8 4.8l-4.8 4.8l-4.8 -4.8zM688.3 212.2l4.8 4.8l-4.8 4.8l-4.8 -4.8zM693.0 218.2l4.8 4.8l-4.8 4.8l-4.8 -4.8zM697.7 222.9l4.8 4.8l-4.8 4.8l-4.8 -4.8zM702.4 226.1l4.8 4.8l-4.8 4.8l-4.8 -4.8zM707.1 227.6l4.8 4.8l-4.8 4.8l-4.8 -4.8zM711.8 227.2l4.8 4.8l-4.8 4.8l-4.8 -4.8zM716.5 225.1l4.8 4.8l-4.8 4.8l-4.8 -4.8zM721.2 221.3l4.8 4.8l-4.8 4.8l-4.8 -4.8zM725.9 216.0l4.8 4.8l-4.8 4.8l-4.8 -4.8zM730.6 209.5l4.8 4.8l-4.8 4.8l-4.8 -4.8zM735.3 202.1l4.8 4.8l-4.8 4.8l-4.8 -4.8zM740.0 193.9l4.8 4.8l-4.8 4.8l-4.8 -4.8zM744.7 185.1l4.8 4.8l-4.8 4.8l-4.8 -4.8zM749.3 176.0l4.8 4.8l-4.8 4.8l-4.8 -4.8zM754.0 166.6l4.8 4.8l-4.8 4.8l-4.8 -4.8zM758.7 157.0l4.8 4.8l-4.8 4.8l-4.8 -4.8zM763.4 147.4l4.8 4.8l-4.8 4.8l-4.8 -4.8zM768.1 137.7l4.8 4.8l-4.8 4.8l-4.8 -4.8zM772.8 128.0l4.8 4.8l-4.8 4.8l-4.8 -4.8zM777.5 118.5l4.8 4.8l-4.8 4.8l-4.8 -4.8zM782.2 109.1l4.8 4.8l-4.8 4.8l-4.8 -4.8zM786.9 100.0l4.8 4.8l-4.8 4.8l-4.8 -4.8zM791.6 91.2l4.8 4.8l-4.8 4.8l-4.8 -4.8zM796.3 82.9l4.8 4.8l-4.8 4.8l-4.8 -4.8zM801.0 75.2l4.8 4.8l-4.8 4.8l-4.8 -4.8zM805.7 68.3l4.8 4.8l-4.8 4.8l-4.8 -4.8zM810.4 62.3l4.8 4.8l-4.8 4.8l-4.8 -4.8zM815.1 57.5l4.8 4.8l-4.8 4.8l-4.8 -4.8zM819.8 54.0l4.8 4.8l-4.8 4.8l-4.8 -4.8zM824.5 51.9l4.8 4.8l-4.8 4.8l-4.8 -4.8zM829.2 51.3l4.8 4.8l-4.8 4.8l-4.8 -4.8zM833.9 52.0l4.8 4.8l-4.8 4.8l-4.8 -4.8zM838.6 54.1l4.8 4.8l-4.8 4.8l-4.8 -4.8zM843.3 57.3l4.8 4.8l-4.8 4.8l-4.8 -4.8zM848.0 61.5l4.8 4.8l-4.8 4.8l-4.8 -4.8zM852.7 66.5l4.8 4.8l-4.8 4.8l-4.8 -4.8z" stroke="#88d8ea" stroke-width="1.4" fill="none"/>
<path d="M678.9 216.5 680.1 218.2 681.3 219.8 682.5 221.3 683.7 222.8 685.0 224.1 686.2 225.4 687.4 226.6 688.6 227.6 689.8 228.6 691.0 229.5 692.2 230.2 693.4 230.9 694.6 231.4 695.9 231.8 697.1 232.1 698.3 232.2 699.5 232.3 700.7 232.2 701.9 232.0 703.1 231.7 704.3 231.2 705.5 230.7 706.8 230.0 708.0 229.2 709.2 228.3 710.4 227.3 711.6 226.2 712.8 225.0 714.0 223.7 715.2 222.3 716.4 220.8 717.6 219.2 718.9 217.6 720.1 215.9 721.3 214.1 722.5 212.2 723.7 210.3 724.9 208.3 726.1 206.3 727.3 204.3 728.5 202.2 729.8 200.0 731.0 197.8 732.2 195.6 733.4 193.3 734.6 191.0 735.8 188.7 737.0 186.4 738.2 184.0 739.4 181.6 740.7 179.2 741.9 176.8 743.1 174.4 744.3 171.9 745.5 169.4 746.7 167.0 747.9 164.5 749.1 162.0 750.3 159.5 751.6 157.0 752.8 154.5 754.0 152.0 755.2 149.5 756.4 147.0 757.6 144.4 758.8 141.9 760.0 139.4 761.2 136.9 762.5 134.4 763.7 131.9 764.9 129.4 766.1 127.0 767.3 124.5 768.5 122.0 769.7 119.6 770.9 117.1 772.1 114.7 773.4 112.3 774.6 109.9 775.8 107.6 777.0 105.2 778.2 102.9 779.4 100.6 780.6 98.3 781.8 96.0 783.0 93.8 784.2 91.6 785.5 89.5 786.7 87.4 787.9 85.3 789.1 83.3 790.3 81.3 791.5 79.4 792.7 77.5 793.9 75.7 795.1 73.9 796.4 72.2 797.6 70.6 798.8 69.0 800.0 67.5 801.2 66.1 802.4 64.8 803.6 63.5 804.8 62.3 806.0 61.3 807.3 60.3 808.5 59.4 809.7 58.5 810.9 57.8 812.1 57.2 813.3 56.7 814.5 56.3 815.7 56.0 816.9 55.8 818.2 55.7 819.4 55.6 820.6 55.7 821.8 55.9 823.0 56.2 824.2 56.5 825.4 57.0 826.6 57.5 827.8 58.2 829.1 58.9 830.3 59.7 831.5 60.5 832.7 61.5 833.9 62.5 835.1 63.6 836.3 64.7 837.5 65.9 838.7 67.1 840.0 68.4 841.2 69.8 842.4 71.2 843.6 72.6 844.8 74.1 846.0 75.6 847.2 77.1 848.4 78.7 849.6 80.2 850.9 81.9 852.1 83.5 853.3 85.1 854.5 86.8" stroke="#c850c0" stroke-width="1.9" fill="none" stroke-linejoin="round"/>
<path d="M674.0 213.7l4.9 8.4l4.9 -8.4zM678.7 219.7l4.9 8.4l4.9 -8.4zM683.3 224.4l4.9 8.4l4.9 -8.4zM687.9 227.7l4.9 8.4l4.9 -8.4zM692.5 229.3l4.9 8.4l4.9 -8.4zM697.1 229.2l4.9 8.4l4.9 -8.4zM701.8 227.3l4.9 8.4l4.9 -8.4zM706.4 223.7l4.9 8.4l4.9 -8.4zM711.0 218.7l4.9 8.4l4.9 -8.4zM715.6 212.4l4.9 8.4l4.9 -8.4zM720.2 205.2l4.9 8.4l4.9 -8.4zM724.9 197.2l4.9 8.4l4.9 -8.4zM729.5 188.7l4.9 8.4l4.9 -8.4zM734.1 179.8l4.9 8.4l4.9 -8.4zM738.7 170.5l4.9 8.4l4.9 -8.4zM743.3 161.1l4.9 8.4l4.9 -8.4zM748.0 151.5l4.9 8.4l4.9 -8.4zM752.6 142.0l4.9 8.4l4.9 -8.4zM757.2 132.4l4.9 8.4l4.9 -8.4zM761.8 122.9l4.9 8.4l4.9 -8.4zM766.5 113.6l4.9 8.4l4.9 -8.4zM771.1 104.4l4.9 8.4l4.9 -8.4zM775.7 95.6l4.9 8.4l4.9 -8.4zM780.3 87.2l4.9 8.4l4.9 -8.4zM784.9 79.3l4.9 8.4l4.9 -8.4zM789.6 72.2l4.9 8.4l4.9 -8.4zM794.2 65.9l4.9 8.4l4.9 -8.4zM798.8 60.7l4.9 8.4l4.9 -8.4zM803.4 56.7l4.9 8.4l4.9 -8.4zM808.0 54.1l4.9 8.4l4.9 -8.4zM812.7 52.9l4.9 8.4l4.9 -8.4zM817.3 53.2l4.9 8.4l4.9 -8.4zM821.9 54.8l4.9 8.4l4.9 -8.4zM826.5 57.7l4.9 8.4l4.9 -8.4zM831.1 61.6l4.9 8.4l4.9 -8.4zM835.8 66.4l4.9 8.4l4.9 -8.4zM840.4 71.8l4.9 8.4l4.9 -8.4zM845.0 77.7l4.9 8.4l4.9 -8.4zM849.6 84.0l4.9 8.4l4.9 -8.4z" stroke="#c850c0" stroke-width="1.4" fill="none"/>
<path d="M678.9 229.4 680.1 230.2 681.3 230.9 682.5 231.5 683.7 232.0 685.0 232.3 686.2 232.5 687.4 232.6 688.6 232.6 689.8 232.5 691.0 232.2 692.2 231.8 693.4 231.3 694.6 230.7 695.9 229.9 697.1 229.1 698.3 228.1 699.5 227.1 700.7 225.9 701.9 224.6 703.1 223.3 704.3 221.8 705.5 220.3 706.8 218.7 708.0 217.0 709.2 215.2 710.4 213.4 711.6 211.5 712.8 209.5 714.0 207.5 715.2 205.5 716.4 203.4 717.6 201.2 718.9 199.1 720.1 196.8 721.3 194.6 722.5 192.3 723.7 190.0 724.9 187.6 726.1 185.2 727.3 182.9 728.5 180.4 729.8 178.0 731.0 175.6 732.2 173.1 733.4 170.6 734.6 168.2 735.8 165.7 737.0 163.2 738.2 160.7 739.4 158.1 740.7 155.6 741.9 153.1 743.1 150.6 744.3 148.1 745.5 145.5 746.7 143.0 747.9 140.5 749.1 138.0 750.3 135.4 751.6 132.9 752.8 130.4 754.0 127.9 755.2 125.4 756.4 122.9 757.6 120.5 758.8 118.0 760.0 115.6 761.2 113.1 762.5 110.7 763.7 108.3 764.9 105.9 766.1 103.6 767.3 101.3 768.5 99.0 769.7 96.7 770.9 94.4 772.1 92.2 773.4 90.0 774.6 87.9 775.8 85.8 777.0 83.7 778.2 81.7 779.4 79.7 780.6 77.8 781.8 76.0 783.0 74.1 784.3 72.4 785.5 70.7 786.7 69.1 787.9 67.6 789.1 66.1 790.3 64.8 791.5 63.5 792.7 62.2 793.9 61.1 795.2 60.1 796.4 59.1 797.6 58.3 798.8 57.6 800.0 56.9 801.2 56.4 802.4 55.9 803.6 55.6 804.8 55.3 806.0 55.2 807.3 55.2 808.5 55.2 809.7 55.4 810.9 55.6 812.1 56.0 813.3 56.5 814.5 57.0 815.7 57.6 816.9 58.3 818.2 59.1 819.4 60.0 820.6 61.0 821.8 62.0 823.0 63.1 824.2 64.2 825.4 65.4 826.6 66.7 827.8 68.0 829.1 69.4 830.3 70.8 831.5 72.3 832.7 73.8 833.9 75.3 835.1 76.9 836.3 78.5 837.5 80.1 838.7 81.7 840.0 83.4 841.2 85.1 842.4 86.8 843.6 88.5 844.8 90.3 846.0 92.0 847.2 93.8 848.4 95.5 849.6 97.3 850.9 99.1 852.1 100.8 853.3 102.6" stroke="#ebd520" stroke-width="1.9" fill="none" stroke-linejoin="round"/>
<path d="M681.7 224.6l-8.4 4.9l8.4 4.9zM686.3 227.0l-8.4 4.9l8.4 4.9zM690.9 227.8l-8.4 4.9l8.4 4.9zM695.5 226.8l-8.4 4.9l8.4 4.9zM700.1 224.1l-8.4 4.9l8.4 4.9zM704.7 219.8l-8.4 4.9l8.4 4.9zM709.2 214.2l-8.4 4.9l8.4 4.9zM713.8 207.5l-8.4 4.9l8.4 4.9zM718.4 200.0l-8.4 4.9l8.4 4.9zM723.0 191.7l-8.4 4.9l8.4 4.9zM727.6 183.0l-8.4 4.9l8.4 4.9zM732.2 173.9l-8.4 4.9l8.4 4.9zM736.8 164.6l-8.4 4.9l8.4 4.9zM741.4 155.1l-8.4 4.9l8.4 4.9zM746.0 145.6l-8.4 4.9l8.4 4.9zM750.5 136.0l-8.4 4.9l8.4 4.9zM755.1 126.5l-8.4 4.9l8.4 4.9zM759.7 117.0l-8.4 4.9l8.4 4.9zM764.3 107.8l-8.4 4.9l8.4 4.9zM768.9 98.7l-8.4 4.9l8.4 4.9zM773.5 90.0l-8.4 4.9l8.4 4.9zM778.1 81.8l-8.4 4.9l8.4 4.9zM782.7 74.2l-8.4 4.9l8.4 4.9zM787.3 67.3l-8.4 4.9l8.4 4.9zM791.8 61.3l-8.4 4.9l8.4 4.9zM796.4 56.5l-8.4 4.9l8.4 4.9zM801.0 53.0l-8.4 4.9l8.4 4.9zM805.6 50.9l-8.4 4.9l8.4 4.9zM810.2 50.3l-8.4 4.9l8.4 4.9zM814.8 51.1l-8.4 4.9l8.4 4.9zM819.4 53.2l-8.4 4.9l8.4 4.9zM824.0 56.6l-8.4 4.9l8.4 4.9zM828.6 60.9l-8.4 4.9l8.4 4.9zM833.1 66.0l-8.4 4.9l8.4 4.9zM837.7 71.8l-8.4 4.9l8.4 4.9zM842.3 77.9l-8.4 4.9l8.4 4.9zM846.9 84.4l-8.4 4.9l8.4 4.9zM851.5 91.0l-8.4 4.9l8.4 4.9zM856.1 97.8l-8.4 4.9l8.4 4.9z" stroke="#ebd520" stroke-width="1.4" fill="none"/>
<path d="M640.3 187.3 641.5 189.5 642.7 191.8 643.9 194.1 645.1 196.3 646.3 198.5 647.5 200.6 648.7 202.7 649.9 204.8 651.1 206.8 652.3 208.8 653.6 210.7 654.8 212.6 656.0 214.4 657.2 216.1 658.4 217.8 659.6 219.4 660.8 220.9 662.0 222.4 663.2 223.8 664.4 225.0 665.6 226.2 666.8 227.3 668.0 228.3 669.2 229.2 670.5 230.0 671.7 230.7 672.9 231.2 674.1 231.6 675.3 232.0 676.5 232.2 677.7 232.3 678.9 232.2 680.1 232.1 681.3 231.8 682.5 231.4 683.7 230.9 684.9 230.2 686.1 229.5 687.3 228.6 688.6 227.7 689.8 226.6 691.0 225.5 692.2 224.2 693.4 222.9 694.6 221.4 695.8 219.9 697.0 218.3 698.2 216.6 699.4 214.9 700.6 213.1 701.8 211.2 703.0 209.3 704.2 207.3 705.4 205.3 706.7 203.2 707.9 201.1 709.1 199.0 710.3 196.8 711.5 194.5 712.7 192.3 713.9 190.0 715.1 187.7 716.3 185.4 717.5 183.0 718.7 180.6 719.9 178.2 721.1 175.8 722.3 173.4 723.5 171.0 724.8 168.5 726.0 166.1 727.2 163.6 728.4 161.1 729.6 158.6 730.8 156.2 732.0 153.7 733.2 151.2 734.4 148.7 735.6 146.2 736.8 143.7 738.0 141.2 739.2 138.7 740.4 136.2 741.7 133.8 742.9 131.3 744.1 128.8 745.3 126.4 746.5 123.9 747.7 121.5 748.9 119.0 750.1 116.6 751.3 114.2 752.5 111.8 753.7 109.5 754.9 107.1 756.1 104.8 757.3 102.5 758.5 100.2 759.8 97.9 761.0 95.7 762.2 93.5 763.4 91.3 764.6 89.2 765.8 87.1 767.0 85.0 768.2 83.0 769.4 81.1 770.6 79.2 771.8 77.3 773.0 75.5 774.2 73.7 775.4 72.1 776.6 70.4 777.9 68.9 779.1 67.4 780.3 66.0 781.5 64.7 782.7 63.5 783.9 62.3 785.1 61.2 786.3 60.3 787.5 59.4 788.7 58.6 789.9 57.9 791.1 57.3 792.3 56.8 793.5 56.4 794.7 56.1 796.0 55.9 797.2 55.9 798.4 55.9 799.6 56.0 800.8 56.2 802.0 56.5 803.2 56.9 804.4 57.4 805.6 58.0 806.8 58.6 808.0 59.4 809.2 60.2 810.4 61.1 811.6 62.1 812.9 63.1 814.1 64.2 815.3 65.4 816.5 66.6 817.7 67.9 818.9 69.3 820.1 70.6 821.3 72.1 822.5 73.5 823.7 75.1 824.9 76.6 826.1 78.2 827.3 79.8 828.5 81.4 829.7 83.1 831.0 84.8 832.2 86.5 833.4 88.2 834.6 89.9 835.8 91.6 837.0 93.4 838.2 95.1 839.4 96.9 840.6 98.7 841.8 100.5 843.0 102.2 844.2 104.0 845.4 105.8 846.6 107.6 847.8 109.3 849.1 111.1 850.3 112.9 851.5 114.6 852.7 116.4" stroke="#8a8a30" stroke-width="1.9" fill="none" stroke-linejoin="round"/>
<path d="M644.4 189.6L640.3 192.0L636.2 189.6L636.2 184.9L640.3 182.5L644.4 184.9zM649.0 198.3L644.9 200.6L640.8 198.3L640.8 193.5L644.9 191.1L649.0 193.5zM653.6 206.4L649.5 208.8L645.4 206.4L645.4 201.7L649.5 199.3L653.6 201.7zM658.2 214.0L654.1 216.3L650.0 214.0L650.0 209.2L654.1 206.8L658.2 209.2zM662.9 220.7L658.8 223.0L654.6 220.7L654.6 215.9L658.8 213.5L662.9 215.9zM667.5 226.3L663.4 228.7L659.3 226.3L659.3 221.6L663.4 219.2L667.5 221.6zM672.1 230.6L668.0 233.0L663.9 230.6L663.9 225.9L668.0 223.5L672.1 225.9zM676.7 233.5L672.6 235.8L668.5 233.5L668.5 228.7L672.6 226.3L676.7 228.7zM681.3 234.6L677.2 237.0L673.1 234.6L673.1 229.9L677.2 227.5L681.3 229.9zM686.0 234.0L681.8 236.4L677.7 234.0L677.7 229.2L681.8 226.9L686.0 229.2zM690.6 231.7L686.5 234.0L682.3 231.7L682.3 226.9L686.5 224.5L690.6 226.9zM695.2 227.7L691.1 230.1L687.0 227.7L687.0 223.0L691.1 220.6L695.2 223.0zM699.8 222.4L695.7 224.8L691.6 222.4L691.6 217.7L695.7 215.3L699.8 217.7zM704.4 215.9L700.3 218.3L696.2 215.9L696.2 211.2L700.3 208.8L704.4 211.2zM709.0 208.6L704.9 210.9L700.8 208.6L700.8 203.8L704.9 201.4L709.0 203.8zM713.7 200.5L709.5 202.9L705.4 200.5L705.4 195.7L709.5 193.3L713.7 195.7zM718.3 191.9L714.2 194.2L710.0 191.9L710.0 187.1L714.2 184.7L718.3 187.1zM722.9 182.9L718.8 185.3L714.7 182.9L714.7 178.1L718.8 175.8L722.9 178.1zM727.5 173.7L723.4 176.0L719.3 173.7L719.3 168.9L723.4 166.5L727.5 168.9zM732.1 164.2L728.0 166.6L723.9 164.2L723.9 159.5L728.0 157.1L732.1 159.5zM736.7 154.7L732.6 157.1L728.5 154.7L728.5 150.0L732.6 147.6L736.7 150.0zM741.4 145.2L737.2 147.6L733.1 145.2L733.1 140.5L737.2 138.1L741.4 140.5zM746.0 135.7L741.9 138.1L737.7 135.7L737.7 131.0L741.9 128.6L746.0 131.0zM750.6 126.3L746.5 128.7L742.4 126.3L742.4 121.5L746.5 119.2L750.6 121.5zM755.2 117.0L751.1 119.4L747.0 117.0L747.0 112.3L751.1 109.9L755.2 112.3zM759.8 108.0L755.7 110.3L751.6 108.0L751.6 103.2L755.7 100.8L759.8 103.2zM764.4 99.2L760.3 101.6L756.2 99.2L756.2 94.5L760.3 92.1L764.4 94.5zM769.1 90.9L764.9 93.3L760.8 90.9L760.8 86.2L764.9 83.8L769.1 86.2zM773.7 83.2L769.6 85.6L765.4 83.2L765.4 78.4L769.6 76.1L773.7 78.4zM778.3 76.2L774.2 78.6L770.1 76.2L770.1 71.4L774.2 69.1L778.3 71.4zM782.9 70.1L778.8 72.5L774.7 70.1L774.7 65.4L778.8 63.0L782.9 65.4zM787.5 65.1L783.4 67.5L779.3 65.1L779.3 60.4L783.4 58.0L787.5 60.4zM792.1 61.4L788.0 63.8L783.9 61.4L783.9 56.6L788.0 54.3L792.1 56.6zM796.8 59.1L792.6 61.5L788.5 59.1L788.5 54.3L792.6 52.0L796.8 54.3zM801.4 58.2L797.3 60.6L793.2 58.2L793.2 53.5L797.3 51.1L801.4 53.5zM806.0 58.8L801.9 61.2L797.8 58.8L797.8 54.1L801.9 51.7L806.0 54.1zM810.6 60.8L806.5 63.2L802.4 60.8L802.4 56.1L806.5 53.7L810.6 56.1zM815.2 64.0L811.1 66.4L807.0 64.0L807.0 59.3L811.1 56.9L815.2 59.3zM819.9 68.2L815.7 70.6L811.6 68.2L811.6 63.5L815.7 61.1L819.9 63.5zM824.5 73.3L820.4 75.7L816.2 73.3L816.2 68.6L820.4 66.2L824.5 68.6zM829.1 79.0L825.0 81.4L820.9 79.0L820.9 74.3L825.0 71.9L829.1 74.3zM833.7 85.2L829.6 87.6L825.5 85.2L825.5 80.5L829.6 78.1L833.7 80.5zM838.3 91.7L834.2 94.1L830.1 91.7L830.1 87.0L834.2 84.6L838.3 87.0zM842.9 98.4L838.8 100.8L834.7 98.4L834.7 93.7L838.8 91.3L842.9 93.7zM847.6 105.2L843.4 107.6L839.3 105.2L839.3 100.5L843.4 98.1L847.6 100.5zM852.2 112.0L848.1 114.4L843.9 112.0L843.9 107.3L848.1 104.9L852.2 107.3zM856.8 118.7L852.7 121.1L848.6 118.7L848.6 114.0L852.7 111.6L856.8 114.0z" stroke="#8a8a30" stroke-width="1.4" fill="none"/>
<path d="M627.6 186.7 628.8 188.8 630.0 190.9 631.2 192.9 632.5 194.9 633.7 196.9 634.9 198.8 636.1 200.6 637.3 202.4 638.5 204.1 639.7 205.8 640.9 207.4 642.1 208.9 643.3 210.3 644.6 211.7 645.8 213.0 647.0 214.1 648.2 215.2 649.4 216.2 650.6 217.1 651.8 217.9 653.0 218.5 654.2 219.1 655.4 219.5 656.7 219.9 657.9 220.1 659.1 220.2 660.3 220.2 661.5 220.1 662.7 219.9 663.9 219.5 665.1 219.1 666.3 218.5 667.5 217.8 668.8 217.0 670.0 216.2 671.2 215.2 672.4 214.1 673.6 213.0 674.8 211.7 676.0 210.4 677.2 209.0 678.4 207.5 679.7 205.9 680.9 204.3 682.1 202.6 683.3 200.9 684.5 199.1 685.7 197.3 686.9 195.4 688.1 193.4 689.3 191.4 690.5 189.4 691.8 187.4 693.0 185.3 694.2 183.2 695.4 181.0 696.6 178.9 697.8 176.7 699.0 174.4 700.2 172.2 701.4 170.0 702.6 167.7 703.9 165.4 705.1 163.1 706.3 160.8 707.5 158.5 708.7 156.2 709.9 153.9 711.1 151.5 712.3 149.2 713.5 146.8 714.7 144.5 716.0 142.1 717.2 139.8 718.4 137.4 719.6 135.1 720.8 132.7 722.0 130.4 723.2 128.1 724.4 125.7 725.6 123.4 726.8 121.1 728.1 118.8 729.3 116.5 730.5 114.2 731.7 111.9 732.9 109.7 734.1 107.4 735.3 105.2 736.5 103.0 737.7 100.8 739.0 98.6 740.2 96.5 741.4 94.3 742.6 92.2 743.8 90.2 745.0 88.2 746.2 86.2 747.4 84.2 748.6 82.3 749.8 80.4 751.1 78.5 752.3 76.8 753.5 75.0 754.7 73.3 755.9 71.7 757.1 70.1 758.3 68.6 759.5 67.2 760.7 65.8 761.9 64.5 763.2 63.2 764.4 62.1 765.6 61.0 766.8 60.0 768.0 59.1 769.2 58.3 770.4 57.5 771.6 56.9 772.8 56.4 774.0 55.9 775.3 55.5 776.5 55.3 777.7 55.1 778.9 55.0 780.1 55.0 781.3 55.1 782.5 55.3 783.7 55.6 784.9 56.0 786.1 56.5 787.4 57.1 788.6 57.7 789.8 58.4 791.0 59.2 792.2 60.1 793.4 61.0 794.6 62.0 795.8 63.1 797.0 64.3 798.3 65.4 799.5 66.7 800.7 68.0 801.9 69.4 803.1 70.7 804.3 72.2 805.5 73.7 806.7 75.2 807.9 76.7 809.1 78.3 810.4 79.9 811.6 81.5 812.8 83.2 814.0 84.9 815.2 86.5 816.4 88.3 817.6 90.0 818.8 91.7 820.0 93.4 821.2 95.2 822.5 96.9 823.7 98.7 824.9 100.5 826.1 102.2 827.3 104.0 828.5 105.8 829.7 107.5 830.9 109.3 832.1 111.1 833.3 112.8 834.6 114.6 835.8 116.3 837.0 118.1 838.2 119.8 839.4 121.5" stroke="#4a55c0" stroke-width="1.9" fill="none" stroke-linejoin="round"/>
<path d="M624.0 183.1h7.1v7.1h-7.1zM628.7 191.0h7.1v7.1h-7.1zM633.3 198.2h7.1v7.1h-7.1zM637.9 204.5h7.1v7.1h-7.1zM642.5 209.7h7.1v7.1h-7.1zM647.1 213.5h7.1v7.1h-7.1zM651.7 215.9h7.1v7.1h-7.1zM656.3 216.7h7.1v7.1h-7.1zM660.9 215.8h7.1v7.1h-7.1zM665.5 213.3h7.1v7.1h-7.1zM670.1 209.3h7.1v7.1h-7.1zM674.7 204.2h7.1v7.1h-7.1zM679.3 197.9h7.1v7.1h-7.1zM683.9 190.9h7.1v7.1h-7.1zM688.5 183.3h7.1v7.1h-7.1zM693.1 175.1h7.1v7.1h-7.1zM697.7 166.7h7.1v7.1h-7.1zM702.3 158.0h7.1v7.1h-7.1zM706.9 149.2h7.1v7.1h-7.1zM711.5 140.3h7.1v7.1h-7.1zM716.1 131.3h7.1v7.1h-7.1zM720.7 122.4h7.1v7.1h-7.1zM725.3 113.6h7.1v7.1h-7.1zM729.9 105.0h7.1v7.1h-7.1zM734.5 96.6h7.1v7.1h-7.1zM739.1 88.5h7.1v7.1h-7.1zM743.8 80.8h7.1v7.1h-7.1zM748.4 73.7h7.1v7.1h-7.1zM753.0 67.3h7.1v7.1h-7.1zM757.6 61.8h7.1v7.1h-7.1zM762.2 57.3h7.1v7.1h-7.1zM766.8 54.0h7.1v7.1h-7.1zM771.4 52.1h7.1v7.1h-7.1zM776.0 51.5h7.1v7.1h-7.1zM780.6 52.2h7.1v7.1h-7.1zM785.2 54.2h7.1v7.1h-7.1zM789.8 57.4h7.1v7.1h-7.1zM794.4 61.6h7.1v7.1h-7.1zM799.0 66.6h7.1v7.1h-7.1zM803.6 72.2h7.1v7.1h-7.1zM808.2 78.3h7.1v7.1h-7.1zM812.8 84.7h7.1v7.1h-7.1zM817.4 91.2h7.1v7.1h-7.1zM822.0 97.9h7.1v7.1h-7.1zM826.6 104.7h7.1v7.1h-7.1zM831.2 111.3h7.1v7.1h-7.1zM835.8 117.9h7.1v7.1h-7.1z" stroke="#4a55c0" stroke-width="1.4" fill="none"/>
<path d="M611.9 180.0 613.1 182.3 614.3 184.6 615.6 186.9 616.8 189.2 618.0 191.4 619.2 193.6 620.4 195.8 621.6 197.9 622.8 200.0 624.0 202.0 625.2 204.0 626.4 206.0 627.7 207.9 628.9 209.7 630.1 211.5 631.3 213.2 632.5 214.9 633.7 216.5 634.9 218.0 636.1 219.4 637.3 220.7 638.5 222.0 639.8 223.2 641.0 224.2 642.2 225.2 643.4 226.0 644.6 226.8 645.8 227.4 647.0 227.9 648.2 228.3 649.4 228.6 650.6 228.8 651.9 228.9 653.1 228.8 654.3 228.6 655.5 228.3 656.7 227.9 657.9 227.4 659.1 226.7 660.3 226.0 661.5 225.1 662.7 224.2 664.0 223.1 665.2 222.0 666.4 220.7 667.6 219.4 668.8 217.9 670.0 216.4 671.2 214.9 672.4 213.2 673.6 211.5 674.8 209.7 676.1 207.9 677.3 206.0 678.5 204.0 679.7 202.0 680.9 200.0 682.1 197.9 683.3 195.8 684.5 193.6 685.7 191.4 686.9 189.2 688.1 187.0 689.4 184.7 690.6 182.4 691.8 180.1 693.0 177.8 694.2 175.4 695.4 173.1 696.6 170.7 697.8 168.3 699.0 165.9 700.2 163.5 701.5 161.0 702.7 158.6 703.9 156.2 705.1 153.7 706.3 151.3 707.5 148.9 708.7 146.4 709.9 144.0 711.1 141.5 712.3 139.1 713.6 136.6 714.8 134.2 716.0 131.7 717.2 129.3 718.4 126.9 719.6 124.4 720.8 122.0 722.0 119.6 723.2 117.2 724.4 114.8 725.7 112.5 726.9 110.1 728.1 107.8 729.3 105.5 730.5 103.2 731.7 100.9 732.9 98.6 734.1 96.4 735.3 94.2 736.5 92.0 737.8 89.9 739.0 87.8 740.2 85.7 741.4 83.7 742.6 81.7 743.8 79.7 745.0 77.8 746.2 76.0 747.4 74.2 748.6 72.5 749.9 70.8 751.1 69.2 752.3 67.7 753.5 66.2 754.7 64.8 755.9 63.5 757.1 62.3 758.3 61.2 759.5 60.1 760.7 59.2 762.0 58.3 763.2 57.5 764.4 56.9 765.6 56.3 766.8 55.8 768.0 55.5 769.2 55.2 770.4 55.1 771.6 55.0 772.8 55.1 774.1 55.3 775.3 55.5 776.5 55.9 777.7 56.3 778.9 56.9 780.1 57.6 781.3 58.3 782.5 59.1 783.7 60.0 784.9 61.0 786.2 62.1 787.4 63.2 788.6 64.5 789.8 65.7 791.0 67.1 792.2 68.5 793.4 69.9 794.6 71.4 795.8 73.0 797.0 74.6 798.3 76.2 799.5 77.9 800.7 79.6 801.9 81.3 803.1 83.1 804.3 84.8 805.5 86.7 806.7 88.5 807.9 90.3 809.1 92.2 810.4 94.1 811.6 95.9 812.8 97.8 814.0 99.7 815.2 101.6 816.4 103.5 817.6 105.4 818.8 107.4 820.0 109.3 821.2 111.2 822.5 113.1 823.7 115.0 824.9 116.9 826.1 118.7 827.3 120.6 828.5 122.5 829.7 124.3 830.9 126.2 832.1 128.0 833.3 129.9 834.6 131.7 835.8 133.5 837.0 135.3 838.2 137.1 839.4 138.9 840.6 140.7 841.8 142.4" stroke="#d080d8" stroke-width="1.9" fill="none" stroke-linejoin="round"/>
<path d="M608.1 180.0a3.8 3.8 0 1 0 7.6 0a3.8 3.8 0 1 0 -7.6 0M612.8 188.9a3.8 3.8 0 1 0 7.6 0a3.8 3.8 0 1 0 -7.6 0M617.5 197.4a3.8 3.8 0 1 0 7.6 0a3.8 3.8 0 1 0 -7.6 0M622.2 205.3a3.8 3.8 0 1 0 7.6 0a3.8 3.8 0 1 0 -7.6 0M626.9 212.4a3.8 3.8 0 1 0 7.6 0a3.8 3.8 0 1 0 -7.6 0M631.6 218.5a3.8 3.8 0 1 0 7.6 0a3.8 3.8 0 1 0 -7.6 0M636.3 223.4a3.8 3.8 0 1 0 7.6 0a3.8 3.8 0 1 0 -7.6 0M641.0 226.9a3.8 3.8 0 1 0 7.6 0a3.8 3.8 0 1 0 -7.6 0M645.7 228.6a3.8 3.8 0 1 0 7.6 0a3.8 3.8 0 1 0 -7.6 0M650.4 228.7a3.8 3.8 0 1 0 7.6 0a3.8 3.8 0 1 0 -7.6 0M655.1 226.9a3.8 3.8 0 1 0 7.6 0a3.8 3.8 0 1 0 -7.6 0M659.8 223.5a3.8 3.8 0 1 0 7.6 0a3.8 3.8 0 1 0 -7.6 0M664.4 218.6a3.8 3.8 0 1 0 7.6 0a3.8 3.8 0 1 0 -7.6 0M669.1 212.5a3.8 3.8 0 1 0 7.6 0a3.8 3.8 0 1 0 -7.6 0M673.8 205.4a3.8 3.8 0 1 0 7.6 0a3.8 3.8 0 1 0 -7.6 0M678.5 197.6a3.8 3.8 0 1 0 7.6 0a3.8 3.8 0 1 0 -7.6 0M683.2 189.1a3.8 3.8 0 1 0 7.6 0a3.8 3.8 0 1 0 -7.6 0M687.9 180.3a3.8 3.8 0 1 0 7.6 0a3.8 3.8 0 1 0 -7.6 0M692.6 171.2a3.8 3.8 0 1 0 7.6 0a3.8 3.8 0 1 0 -7.6 0M697.3 161.8a3.8 3.8 0 1 0 7.6 0a3.8 3.8 0 1 0 -7.6 0M702.0 152.4a3.8 3.8 0 1 0 7.6 0a3.8 3.8 0 1 0 -7.6 0M706.7 142.9a3.8 3.8 0 1 0 7.6 0a3.8 3.8 0 1 0 -7.6 0M711.4 133.4a3.8 3.8 0 1 0 7.6 0a3.8 3.8 0 1 0 -7.6 0M716.1 124.0a3.8 3.8 0 1 0 7.6 0a3.8 3.8 0 1 0 -7.6 0M720.7 114.7a3.8 3.8 0 1 0 7.6 0a3.8 3.8 0 1 0 -7.6 0M725.4 105.6a3.8 3.8 0 1 0 7.6 0a3.8 3.8 0 1 0 -7.6 0M730.1 96.8a3.8 3.8 0 1 0 7.6 0a3.8 3.8 0 1 0 -7.6 0M734.8 88.4a3.8 3.8 0 1 0 7.6 0a3.8 3.8 0 1 0 -7.6 0M739.5 80.6a3.8 3.8 0 1 0 7.6 0a3.8 3.8 0 1 0 -7.6 0M744.2 73.4a3.8 3.8 0 1 0 7.6 0a3.8 3.8 0 1 0 -7.6 0M748.9 67.2a3.8 3.8 0 1 0 7.6 0a3.8 3.8 0 1 0 -7.6 0M753.6 62.1a3.8 3.8 0 1 0 7.6 0a3.8 3.8 0 1 0 -7.6 0M758.3 58.2a3.8 3.8 0 1 0 7.6 0a3.8 3.8 0 1 0 -7.6 0M763.0 55.9a3.8 3.8 0 1 0 7.6 0a3.8 3.8 0 1 0 -7.6 0M767.7 55.0a3.8 3.8 0 1 0 7.6 0a3.8 3.8 0 1 0 -7.6 0M772.3 55.8a3.8 3.8 0 1 0 7.6 0a3.8 3.8 0 1 0 -7.6 0M777.0 58.0a3.8 3.8 0 1 0 7.6 0a3.8 3.8 0 1 0 -7.6 0M781.7 61.5a3.8 3.8 0 1 0 7.6 0a3.8 3.8 0 1 0 -7.6 0M786.4 66.2a3.8 3.8 0 1 0 7.6 0a3.8 3.8 0 1 0 -7.6 0M791.1 71.8a3.8 3.8 0 1 0 7.6 0a3.8 3.8 0 1 0 -7.6 0M795.8 78.0a3.8 3.8 0 1 0 7.6 0a3.8 3.8 0 1 0 -7.6 0M800.5 84.8a3.8 3.8 0 1 0 7.6 0a3.8 3.8 0 1 0 -7.6 0M805.2 91.9a3.8 3.8 0 1 0 7.6 0a3.8 3.8 0 1 0 -7.6 0M809.9 99.2a3.8 3.8 0 1 0 7.6 0a3.8 3.8 0 1 0 -7.6 0M814.6 106.6a3.8 3.8 0 1 0 7.6 0a3.8 3.8 0 1 0 -7.6 0M819.3 114.0a3.8 3.8 0 1 0 7.6 0a3.8 3.8 0 1 0 -7.6 0M824.0 121.3a3.8 3.8 0 1 0 7.6 0a3.8 3.8 0 1 0 -7.6 0M828.6 128.5a3.8 3.8 0 1 0 7.6 0a3.8 3.8 0 1 0 -7.6 0M833.3 135.5a3.8 3.8 0 1 0 7.6 0a3.8 3.8 0 1 0 -7.6 0M838.0 142.4a3.8 3.8 0 1 0 7.6 0a3.8 3.8 0 1 0 -7.6 0" stroke="#d080d8" stroke-width="1.4" fill="none"/>
<text x="756" y="75" font-size="24" fill="#4a55c0">290K</text>
<path d="M587.8 185.5 589.0 187.8 590.2 190.1 591.4 192.4 592.6 194.6 593.8 196.8 595.0 199.0 596.3 201.1 597.5 203.2 598.7 205.3 599.9 207.3 601.1 209.3 602.3 211.2 603.5 213.0 604.7 214.8 605.9 216.6 607.1 218.2 608.4 219.8 609.6 221.3 610.8 222.7 612.0 224.1 613.2 225.3 614.4 226.5 615.6 227.5 616.8 228.5 618.0 229.3 619.2 230.0 620.5 230.7 621.7 231.2 622.9 231.5 624.1 231.8 625.3 231.9 626.5 231.9 627.7 231.8 628.9 231.6 630.1 231.2 631.3 230.8 632.5 230.2 633.8 229.5 635.0 228.6 636.2 227.7 637.4 226.7 638.6 225.5 639.8 224.3 641.0 222.9 642.2 221.5 643.4 220.0 644.6 218.4 645.9 216.7 647.1 215.0 648.3 213.1 649.5 211.3 650.7 209.3 651.9 207.3 653.1 205.3 654.3 203.2 655.5 201.0 656.7 198.8 658.0 196.6 659.2 194.4 660.4 192.1 661.6 189.8 662.8 187.4 664.0 185.0 665.2 182.6 666.4 180.2 667.6 177.8 668.8 175.4 670.1 172.9 671.3 170.4 672.5 167.9 673.7 165.4 674.9 162.9 676.1 160.4 677.3 157.9 678.5 155.4 679.7 152.8 680.9 150.3 682.1 147.8 683.4 145.2 684.6 142.7 685.8 140.2 687.0 137.6 688.2 135.1 689.4 132.6 690.6 130.1 691.8 127.6 693.0 125.1 694.2 122.6 695.5 120.1 696.7 117.6 697.9 115.2 699.1 112.7 700.3 110.3 701.5 107.9 702.7 105.5 703.9 103.1 705.1 100.8 706.3 98.5 707.6 96.2 708.8 93.9 710.0 91.7 711.2 89.5 712.4 87.4 713.6 85.2 714.8 83.2 716.0 81.1 717.2 79.1 718.4 77.2 719.6 75.3 720.9 73.5 722.1 71.7 723.3 70.0 724.5 68.4 725.7 66.8 726.9 65.4 728.1 64.0 729.3 62.6 730.5 61.4 731.7 60.2 733.0 59.1 734.2 58.2 735.4 57.3 736.6 56.5 737.8 55.8 739.0 55.2 740.2 54.7 741.4 54.3 742.6 54.0 743.8 53.8 745.1 53.7 746.3 53.7 747.5 53.8 748.7 54.0 749.9 54.3 751.1 54.7 752.3 55.2 753.5 55.8 754.7 56.4 755.9 57.1 757.2 57.9 758.4 58.8 759.6 59.8 760.8 60.8 762.0 61.9 763.2 63.0 764.4 64.2 765.6 65.5 766.8 66.8 768.0 68.1 769.2 69.5 770.5 71.0 771.7 72.4 772.9 74.0 774.1 75.5 775.3 77.1 776.5 78.7 777.7 80.3 778.9 81.9 780.1 83.6 781.3 85.2 782.6 86.9 783.8 88.6 785.0 90.3 786.2 92.0 787.4 93.8 788.6 95.5 789.8 97.2 791.0 99.0 792.2 100.7 793.4 102.4 794.7 104.2 795.9 105.9 797.1 107.6 798.3 109.4 799.5 111.1 800.7 112.8 801.9 114.5 803.1 116.3 804.3 118.0 805.5 119.7 806.8 121.4 808.0 123.0 809.2 124.7 810.4 126.4 811.6 128.1 812.8 129.7 814.0 131.4 815.2 133.0 816.4 134.7 817.6 136.3 818.8 137.9 820.1 139.6 821.3 141.2 822.5 142.8 823.7 144.4 824.9 146.0 826.1 147.6 827.3 149.2 828.5 150.8 829.7 152.4 830.9 154.0 832.2 155.5 833.4 157.1" stroke="#8b1a1a" stroke-width="1.9" fill="none" stroke-linejoin="round"/>
<path d="M582.9 188.3l4.9 -8.4l4.9 8.4zM587.6 197.0l4.9 -8.4l4.9 8.4zM592.2 205.3l4.9 -8.4l4.9 8.4zM596.8 213.0l4.9 -8.4l4.9 8.4zM601.5 219.9l4.9 -8.4l4.9 8.4zM606.1 225.7l4.9 -8.4l4.9 8.4zM610.7 230.3l4.9 -8.4l4.9 8.4zM615.4 233.4l4.9 -8.4l4.9 8.4zM620.0 234.7l4.9 -8.4l4.9 8.4zM624.6 234.3l4.9 -8.4l4.9 8.4zM629.3 232.0l4.9 -8.4l4.9 8.4zM633.9 228.2l4.9 -8.4l4.9 8.4zM638.5 222.8l4.9 -8.4l4.9 8.4zM643.2 216.3l4.9 -8.4l4.9 8.4zM647.8 208.9l4.9 -8.4l4.9 8.4zM652.4 200.7l4.9 -8.4l4.9 8.4zM657.1 191.9l4.9 -8.4l4.9 8.4zM661.7 182.8l4.9 -8.4l4.9 8.4zM666.3 173.4l4.9 -8.4l4.9 8.4zM671.0 163.8l4.9 -8.4l4.9 8.4zM675.6 154.1l4.9 -8.4l4.9 8.4zM680.2 144.4l4.9 -8.4l4.9 8.4zM684.9 134.7l4.9 -8.4l4.9 8.4zM689.5 125.1l4.9 -8.4l4.9 8.4zM694.1 115.7l4.9 -8.4l4.9 8.4zM698.8 106.5l4.9 -8.4l4.9 8.4zM703.4 97.7l4.9 -8.4l4.9 8.4zM708.0 89.3l4.9 -8.4l4.9 8.4zM712.7 81.5l4.9 -8.4l4.9 8.4zM717.3 74.4l4.9 -8.4l4.9 8.4zM721.9 68.3l4.9 -8.4l4.9 8.4zM726.6 63.3l4.9 -8.4l4.9 8.4zM731.2 59.6l4.9 -8.4l4.9 8.4zM735.8 57.3l4.9 -8.4l4.9 8.4zM740.5 56.5l4.9 -8.4l4.9 8.4zM745.1 57.2l4.9 -8.4l4.9 8.4zM749.7 59.1l4.9 -8.4l4.9 8.4zM754.4 62.3l4.9 -8.4l4.9 8.4zM759.0 66.5l4.9 -8.4l4.9 8.4zM763.6 71.5l4.9 -8.4l4.9 8.4zM768.3 77.1l4.9 -8.4l4.9 8.4zM772.9 83.1l4.9 -8.4l4.9 8.4zM777.5 89.5l4.9 -8.4l4.9 8.4zM782.2 96.1l4.9 -8.4l4.9 8.4zM786.8 102.7l4.9 -8.4l4.9 8.4zM791.4 109.3l4.9 -8.4l4.9 8.4zM796.1 116.0l4.9 -8.4l4.9 8.4zM800.7 122.5l4.9 -8.4l4.9 8.4zM805.3 129.0l4.9 -8.4l4.9 8.4zM810.0 135.3l4.9 -8.4l4.9 8.4zM814.6 141.6l4.9 -8.4l4.9 8.4zM819.2 147.8l4.9 -8.4l4.9 8.4zM823.9 153.9l4.9 -8.4l4.9 8.4zM828.5 159.9l4.9 -8.4l4.9 8.4z" stroke="#8b1a1a" stroke-width="1.4" fill="none"/>
<path d="M564.3 188.8 565.5 191.1 566.7 193.4 567.9 195.6 569.1 197.8 570.3 199.9 571.5 202.1 572.7 204.1 573.9 206.2 575.1 208.2 576.3 210.1 577.5 212.0 578.7 213.8 579.9 215.6 581.2 217.3 582.4 218.9 583.6 220.4 584.8 221.9 586.0 223.3 587.2 224.6 588.4 225.8 589.6 226.9 590.8 227.9 592.0 228.8 593.2 229.5 594.4 230.2 595.6 230.8 596.8 231.2 598.0 231.5 599.3 231.7 600.5 231.8 601.7 231.7 602.9 231.6 604.1 231.3 605.3 230.9 606.5 230.3 607.7 229.7 608.9 228.9 610.1 228.0 611.3 227.0 612.5 225.9 613.7 224.7 614.9 223.4 616.1 222.0 617.4 220.5 618.6 218.9 619.8 217.3 621.0 215.6 622.2 213.8 623.4 211.9 624.6 210.0 625.8 208.0 627.0 205.9 628.2 203.8 629.4 201.7 630.6 199.5 631.8 197.3 633.0 195.1 634.2 192.8 635.5 190.4 636.7 188.1 637.9 185.7 639.1 183.3 640.3 180.9 641.5 178.4 642.7 176.0 643.9 173.5 645.1 171.0 646.3 168.5 647.5 166.0 648.7 163.5 649.9 161.0 651.1 158.4 652.3 155.9 653.6 153.3 654.8 150.8 656.0 148.2 657.2 145.7 658.4 143.1 659.6 140.5 660.8 138.0 662.0 135.4 663.2 132.9 664.4 130.4 665.6 127.8 666.8 125.3 668.0 122.8 669.2 120.3 670.5 117.8 671.7 115.3 672.9 112.8 674.1 110.3 675.3 107.9 676.5 105.5 677.7 103.1 678.9 100.7 680.1 98.3 681.3 96.0 682.5 93.7 683.7 91.4 684.9 89.2 686.1 87.0 687.3 84.8 688.6 82.7 689.8 80.6 691.0 78.6 692.2 76.6 693.4 74.7 694.6 72.8 695.8 71.0 697.0 69.3 698.2 67.6 699.4 66.0 700.6 64.5 701.8 63.0 703.0 61.7 704.2 60.4 705.4 59.2 706.7 58.1 707.9 57.1 709.1 56.2 710.3 55.4 711.5 54.7 712.7 54.1 713.9 53.6 715.1 53.2 716.3 52.9 717.5 52.7 718.7 52.6 719.9 52.7 721.1 52.8 722.3 53.0 723.5 53.4 724.8 53.8 726.0 54.3 727.2 55.0 728.4 55.7 729.6 56.5 730.8 57.4 732.0 58.3 733.2 59.4 734.4 60.5 735.6 61.6 736.8 62.9 738.0 64.2 739.2 65.5 740.4 66.9 741.7 68.4 742.9 69.9 744.1 71.4 745.3 73.0 746.5 74.6 747.7 76.3 748.9 78.0 750.1 79.7 751.3 81.4 752.5 83.2 753.7 84.9 754.9 86.7 756.1 88.5 757.3 90.3 758.5 92.2 759.8 94.0 761.0 95.8 762.2 97.7 763.4 99.5 764.6 101.4 765.8 103.2 767.0 105.1 768.2 106.9 769.4 108.7 770.6 110.6 771.8 112.4 773.0 114.3 774.2 116.1 775.4 117.9 776.6 119.7 777.9 121.5 779.1 123.3 780.3 125.1 781.5 126.9 782.7 128.7 783.9 130.4 785.1 132.2 786.3 133.9 787.5 135.7 788.7 137.4 789.9 139.1 791.1 140.8 792.3 142.5 793.5 144.2 794.7 145.9 796.0 147.6 797.2 149.3 798.4 151.0 799.6 152.6 800.8 154.3 802.0 155.9 803.2 157.6 804.4 159.2 805.6 160.9 806.8 162.5 808.0 164.1 809.2 165.7 810.4 167.3 811.6 169.0 812.9 170.6 814.1 172.2 815.3 173.8 816.5 175.3 817.7 176.9 818.9 178.5 820.1 180.1 821.3 181.7 822.5 183.2 823.7 184.8 824.9 186.4 826.1 187.9 827.3 189.5 828.5 191.0 829.7 192.6 831.0 194.1" stroke="#0a8a3c" stroke-width="1.9" fill="none" stroke-linejoin="round"/>
<path d="M559.4 186.0l4.9 8.4l4.9 -8.4zM564.1 194.7l4.9 8.4l4.9 -8.4zM568.8 202.9l4.9 8.4l4.9 -8.4zM573.4 210.3l4.9 8.4l4.9 -8.4zM578.1 216.9l4.9 8.4l4.9 -8.4zM582.8 222.2l4.9 8.4l4.9 -8.4zM587.5 226.2l4.9 8.4l4.9 -8.4zM592.1 228.5l4.9 8.4l4.9 -8.4zM596.8 228.9l4.9 8.4l4.9 -8.4zM601.5 227.6l4.9 8.4l4.9 -8.4zM606.2 224.4l4.9 8.4l4.9 -8.4zM610.9 219.7l4.9 8.4l4.9 -8.4zM615.5 213.6l4.9 8.4l4.9 -8.4zM620.2 206.4l4.9 8.4l4.9 -8.4zM624.9 198.3l4.9 8.4l4.9 -8.4zM629.6 189.6l4.9 8.4l4.9 -8.4zM634.3 180.4l4.9 8.4l4.9 -8.4zM638.9 170.9l4.9 8.4l4.9 -8.4zM643.6 161.2l4.9 8.4l4.9 -8.4zM648.3 151.4l4.9 8.4l4.9 -8.4zM653.0 141.5l4.9 8.4l4.9 -8.4zM657.7 131.6l4.9 8.4l4.9 -8.4zM662.3 121.7l4.9 8.4l4.9 -8.4zM667.0 112.0l4.9 8.4l4.9 -8.4zM671.7 102.5l4.9 8.4l4.9 -8.4zM676.4 93.4l4.9 8.4l4.9 -8.4zM681.0 84.6l4.9 8.4l4.9 -8.4zM685.7 76.4l4.9 8.4l4.9 -8.4zM690.4 69.0l4.9 8.4l4.9 -8.4zM695.1 62.5l4.9 8.4l4.9 -8.4zM699.8 57.2l4.9 8.4l4.9 -8.4zM704.4 53.2l4.9 8.4l4.9 -8.4zM709.1 50.7l4.9 8.4l4.9 -8.4zM713.8 49.8l4.9 8.4l4.9 -8.4zM718.5 50.5l4.9 8.4l4.9 -8.4zM723.2 52.7l4.9 8.4l4.9 -8.4zM727.8 56.1l4.9 8.4l4.9 -8.4zM732.5 60.7l4.9 8.4l4.9 -8.4zM737.2 66.1l4.9 8.4l4.9 -8.4zM741.9 72.2l4.9 8.4l4.9 -8.4zM746.6 78.8l4.9 8.4l4.9 -8.4zM751.2 85.6l4.9 8.4l4.9 -8.4zM755.9 92.7l4.9 8.4l4.9 -8.4zM760.6 99.9l4.9 8.4l4.9 -8.4zM765.3 107.0l4.9 8.4l4.9 -8.4zM769.9 114.1l4.9 8.4l4.9 -8.4zM774.6 121.1l4.9 8.4l4.9 -8.4zM779.3 128.0l4.9 8.4l4.9 -8.4zM784.0 134.8l4.9 8.4l4.9 -8.4zM788.7 141.4l4.9 8.4l4.9 -8.4zM793.3 147.9l4.9 8.4l4.9 -8.4zM798.0 154.3l4.9 8.4l4.9 -8.4zM802.7 160.7l4.9 8.4l4.9 -8.4zM807.4 166.9l4.9 8.4l4.9 -8.4zM812.1 173.1l4.9 8.4l4.9 -8.4zM816.7 179.3l4.9 8.4l4.9 -8.4zM821.4 185.3l4.9 8.4l4.9 -8.4zM826.1 191.3l4.9 8.4l4.9 -8.4z" stroke="#0a8a3c" stroke-width="1.4" fill="none"/>
<path d="M533.5 170.7 534.7 173.1 535.9 175.5 537.1 177.9 538.3 180.3 539.5 182.7 540.7 185.0 541.9 187.3 543.1 189.6 544.3 191.9 545.6 194.2 546.8 196.4 548.0 198.6 549.2 200.7 550.4 202.8 551.6 204.9 552.8 206.9 554.0 208.9 555.2 210.9 556.4 212.7 557.6 214.6 558.8 216.3 560.0 218.0 561.2 219.6 562.4 221.2 563.7 222.7 564.9 224.1 566.1 225.4 567.3 226.6 568.5 227.7 569.7 228.7 570.9 229.7 572.1 230.5 573.3 231.2 574.5 231.8 575.7 232.3 576.9 232.7 578.1 232.9 579.3 233.0 580.5 233.1 581.8 233.0 583.0 232.7 584.2 232.4 585.4 232.0 586.6 231.4 587.8 230.7 589.0 229.9 590.2 229.0 591.4 228.0 592.6 227.0 593.8 225.8 595.0 224.5 596.2 223.1 597.4 221.7 598.6 220.1 599.9 218.5 601.1 216.9 602.3 215.1 603.5 213.3 604.7 211.5 605.9 209.5 607.1 207.6 608.3 205.6 609.5 203.5 610.7 201.4 611.9 199.3 613.1 197.1 614.3 194.9 615.5 192.7 616.8 190.4 618.0 188.1 619.2 185.8 620.4 183.5 621.6 181.2 622.8 178.8 624.0 176.4 625.2 174.0 626.4 171.6 627.6 169.2 628.8 166.8 630.0 164.4 631.2 161.9 632.4 159.5 633.6 157.0 634.9 154.6 636.1 152.1 637.3 149.7 638.5 147.2 639.7 144.8 640.9 142.3 642.1 139.8 643.3 137.4 644.5 134.9 645.7 132.5 646.9 130.0 648.1 127.6 649.3 125.2 650.5 122.8 651.7 120.4 653.0 118.0 654.2 115.6 655.4 113.2 656.6 110.8 657.8 108.5 659.0 106.2 660.2 103.9 661.4 101.6 662.6 99.3 663.8 97.1 665.0 94.9 666.2 92.7 667.4 90.6 668.6 88.5 669.8 86.4 671.1 84.4 672.3 82.4 673.5 80.5 674.7 78.6 675.9 76.7 677.1 74.9 678.3 73.2 679.5 71.6 680.7 70.0 681.9 68.4 683.1 67.0 684.3 65.6 685.5 64.3 686.7 63.1 687.9 62.0 689.2 60.9 690.4 60.0 691.6 59.1 692.8 58.4 694.0 57.7 695.2 57.2 696.4 56.7 697.6 56.4 698.8 56.2 700.0 56.0 701.2 56.0 702.4 56.1 703.6 56.2 704.8 56.5 706.1 56.9 707.3 57.4 708.5 58.0 709.7 58.6 710.9 59.4 712.1 60.2 713.3 61.1 714.5 62.1 715.7 63.2 716.9 64.4 718.1 65.6 719.3 66.9 720.5 68.2 721.7 69.7 722.9 71.1 724.2 72.6 725.4 74.2 726.6 75.8 727.8 77.4 729.0 79.1 730.2 80.8 731.4 82.6 732.6 84.3 733.8 86.1 735.0 88.0 736.2 89.8 737.4 91.7 738.6 93.5 739.8 95.4 741.0 97.3 742.3 99.2 743.5 101.1 744.7 103.1 745.9 105.0 747.1 106.9 748.3 108.8 749.5 110.8 750.7 112.7 751.9 114.6 753.1 116.6 754.3 118.5 755.5 120.4 756.7 122.3 757.9 124.2 759.1 126.1 760.4 128.0 761.6 129.8 762.8 131.7 764.0 133.6 765.2 135.4 766.4 137.3 767.6 139.1 768.8 140.9 770.0 142.7 771.2 144.6 772.4 146.3 773.6 148.1 774.8 149.9 776.0 151.7 777.3 153.5 778.5 155.2 779.7 157.0 780.9 158.7 782.1 160.4 783.3 162.2 784.5 163.9 785.7 165.6 786.9 167.3 788.1 169.0 789.3 170.7 790.5 172.4 791.7 174.0 792.9 175.7 794.1 177.4 795.4 179.1 796.6 180.7 797.8 182.4 799.0 184.0 800.2 185.7" stroke="#1f8a8a" stroke-width="1.9" fill="none" stroke-linejoin="round"/>
<path d="M533.5 166.0l4.8 4.8l-4.8 4.8l-4.8 -4.8zM538.2 175.3l4.8 4.8l-4.8 4.8l-4.8 -4.8zM542.8 184.3l4.8 4.8l-4.8 4.8l-4.8 -4.8zM547.5 193.0l4.8 4.8l-4.8 4.8l-4.8 -4.8zM552.2 201.2l4.8 4.8l-4.8 4.8l-4.8 -4.8zM556.9 208.7l4.8 4.8l-4.8 4.8l-4.8 -4.8zM561.6 215.3l4.8 4.8l-4.8 4.8l-4.8 -4.8zM566.2 220.8l4.8 4.8l-4.8 4.8l-4.8 -4.8zM570.9 224.9l4.8 4.8l-4.8 4.8l-4.8 -4.8zM575.6 227.5l4.8 4.8l-4.8 4.8l-4.8 -4.8zM580.3 228.3l4.8 4.8l-4.8 4.8l-4.8 -4.8zM585.0 227.4l4.8 4.8l-4.8 4.8l-4.8 -4.8zM589.6 224.7l4.8 4.8l-4.8 4.8l-4.8 -4.8zM594.3 220.5l4.8 4.8l-4.8 4.8l-4.8 -4.8zM599.0 214.9l4.8 4.8l-4.8 4.8l-4.8 -4.8zM603.7 208.3l4.8 4.8l-4.8 4.8l-4.8 -4.8zM608.3 200.7l4.8 4.8l-4.8 4.8l-4.8 -4.8zM613.0 192.5l4.8 4.8l-4.8 4.8l-4.8 -4.8zM617.7 183.9l4.8 4.8l-4.8 4.8l-4.8 -4.8zM622.4 174.8l4.8 4.8l-4.8 4.8l-4.8 -4.8zM627.1 165.6l4.8 4.8l-4.8 4.8l-4.8 -4.8zM631.7 156.2l4.8 4.8l-4.8 4.8l-4.8 -4.8zM636.4 146.6l4.8 4.8l-4.8 4.8l-4.8 -4.8zM641.1 137.1l4.8 4.8l-4.8 4.8l-4.8 -4.8zM645.8 127.6l4.8 4.8l-4.8 4.8l-4.8 -4.8zM650.5 118.2l4.8 4.8l-4.8 4.8l-4.8 -4.8zM655.1 108.9l4.8 4.8l-4.8 4.8l-4.8 -4.8zM659.8 99.9l4.8 4.8l-4.8 4.8l-4.8 -4.8zM664.5 91.1l4.8 4.8l-4.8 4.8l-4.8 -4.8zM669.2 82.8l4.8 4.8l-4.8 4.8l-4.8 -4.8zM673.8 75.1l4.8 4.8l-4.8 4.8l-4.8 -4.8zM678.5 68.1l4.8 4.8l-4.8 4.8l-4.8 -4.8zM683.2 62.1l4.8 4.8l-4.8 4.8l-4.8 -4.8zM687.9 57.3l4.8 4.8l-4.8 4.8l-4.8 -4.8zM692.6 53.8l4.8 4.8l-4.8 4.8l-4.8 -4.8zM697.2 51.7l4.8 4.8l-4.8 4.8l-4.8 -4.8zM701.9 51.3l4.8 4.8l-4.8 4.8l-4.8 -4.8zM706.6 52.4l4.8 4.8l-4.8 4.8l-4.8 -4.8zM711.3 54.9l4.8 4.8l-4.8 4.8l-4.8 -4.8zM716.0 58.7l4.8 4.8l-4.8 4.8l-4.8 -4.8zM720.6 63.6l4.8 4.8l-4.8 4.8l-4.8 -4.8zM725.3 69.4l4.8 4.8l-4.8 4.8l-4.8 -4.8zM730.0 75.8l4.8 4.8l-4.8 4.8l-4.8 -4.8zM734.7 82.7l4.8 4.8l-4.8 4.8l-4.8 -4.8zM739.4 89.9l4.8 4.8l-4.8 4.8l-4.8 -4.8zM744.0 97.3l4.8 4.8l-4.8 4.8l-4.8 -4.8zM748.7 104.8l4.8 4.8l-4.8 4.8l-4.8 -4.8zM753.4 112.2l4.8 4.8l-4.8 4.8l-4.8 -4.8zM758.1 119.6l4.8 4.8l-4.8 4.8l-4.8 -4.8zM762.7 126.9l4.8 4.8l-4.8 4.8l-4.8 -4.8zM767.4 134.1l4.8 4.8l-4.8 4.8l-4.8 -4.8zM772.1 141.1l4.8 4.8l-4.8 4.8l-4.8 -4.8zM776.8 148.0l4.8 4.8l-4.8 4.8l-4.8 -4.8zM781.5 154.8l4.8 4.8l-4.8 4.8l-4.8 -4.8zM786.1 161.5l4.8 4.8l-4.8 4.8l-4.8 -4.8zM790.8 168.0l4.8 4.8l-4.8 4.8l-4.8 -4.8zM795.5 174.5l4.8 4.8l-4.8 4.8l-4.8 -4.8zM800.2 180.9l4.8 4.8l-4.8 4.8l-4.8 -4.8z" stroke="#1f8a8a" stroke-width="1.4" fill="none"/>
<path d="M492.5 182.2 493.7 184.6 494.9 186.9 496.1 189.2 497.3 191.5 498.5 193.8 499.7 196.0 500.9 198.2 502.1 200.3 503.3 202.5 504.6 204.5 505.8 206.6 507.0 208.6 508.2 210.5 509.4 212.4 510.6 214.2 511.8 216.0 513.0 217.7 514.2 219.3 515.4 220.9 516.7 222.4 517.9 223.8 519.1 225.1 520.3 226.3 521.5 227.5 522.7 228.5 523.9 229.5 525.1 230.3 526.3 231.0 527.5 231.6 528.8 232.1 530.0 232.5 531.2 232.8 532.4 233.0 533.6 233.0 534.8 232.9 536.0 232.7 537.2 232.4 538.4 232.0 539.6 231.5 540.9 230.8 542.1 230.0 543.3 229.2 544.5 228.2 545.7 227.1 546.9 226.0 548.1 224.7 549.3 223.4 550.5 222.0 551.7 220.5 553.0 218.9 554.2 217.3 555.4 215.5 556.6 213.8 557.8 211.9 559.0 210.1 560.2 208.1 561.4 206.2 562.6 204.1 563.8 202.1 565.1 200.0 566.3 197.8 567.5 195.7 568.7 193.5 569.9 191.2 571.1 189.0 572.3 186.7 573.5 184.4 574.7 182.1 575.9 179.8 577.2 177.5 578.4 175.1 579.6 172.8 580.8 170.4 582.0 168.0 583.2 165.6 584.4 163.2 585.6 160.9 586.8 158.5 588.0 156.0 589.3 153.6 590.5 151.2 591.7 148.8 592.9 146.4 594.1 144.0 595.3 141.6 596.5 139.3 597.7 136.9 598.9 134.5 600.2 132.1 601.4 129.8 602.6 127.4 603.8 125.1 605.0 122.8 606.2 120.5 607.4 118.2 608.6 115.9 609.8 113.7 611.0 111.4 612.3 109.2 613.5 107.0 614.7 104.9 615.9 102.7 617.1 100.6 618.3 98.6 619.5 96.5 620.7 94.5 621.9 92.6 623.1 90.7 624.4 88.8 625.6 87.0 626.8 85.2 628.0 83.5 629.2 81.8 630.4 80.2 631.6 78.7 632.8 77.2 634.0 75.8 635.2 74.4 636.5 73.1 637.7 71.9 638.9 70.8 640.1 69.7 641.3 68.8 642.5 67.9 643.7 67.1 644.9 66.3 646.1 65.7 647.3 65.2 648.6 64.7 649.8 64.3 651.0 64.1 652.2 63.9 653.4 63.8 654.6 63.7 655.8 63.8 657.0 63.9 658.2 64.2 659.4 64.5 660.7 64.9 661.9 65.3 663.1 65.9 664.3 66.5 665.5 67.2 666.7 67.9 667.9 68.7 669.1 69.6 670.3 70.5 671.5 71.5 672.8 72.6 674.0 73.6 675.2 74.8 676.4 75.9 677.6 77.1 678.8 78.4 680.0 79.7 681.2 81.0 682.4 82.3 683.6 83.7 684.9 85.1 686.1 86.5 687.3 87.9 688.5 89.4 689.7 90.8 690.9 92.3 692.1 93.8 693.3 95.3 694.5 96.8 695.7 98.3 697.0 99.8 698.2 101.4 699.4 102.9 700.6 104.4 701.8 106.0 703.0 107.5 704.2 109.0 705.4 110.6 706.6 112.1 707.8 113.6 709.1 115.1 710.3 116.7 711.5 118.2 712.7 119.7" stroke="#2e2e8f" stroke-width="1.9" fill="none" stroke-linejoin="round"/>
<path d="M489.6 177.4l8.4 4.9l-8.4 4.9zM494.3 186.4l8.4 4.9l-8.4 4.9zM499.0 194.9l8.4 4.9l-8.4 4.9zM503.7 202.9l8.4 4.9l-8.4 4.9zM508.4 210.2l8.4 4.9l-8.4 4.9zM513.1 216.6l8.4 4.9l-8.4 4.9zM517.8 221.8l8.4 4.9l-8.4 4.9zM522.4 225.5l8.4 4.9l-8.4 4.9zM527.1 227.7l8.4 4.9l-8.4 4.9zM531.8 228.1l8.4 4.9l-8.4 4.9zM536.5 226.8l8.4 4.9l-8.4 4.9zM541.2 223.8l8.4 4.9l-8.4 4.9zM545.9 219.3l8.4 4.9l-8.4 4.9zM550.6 213.5l8.4 4.9l-8.4 4.9zM555.2 206.7l8.4 4.9l-8.4 4.9zM559.9 199.1l8.4 4.9l-8.4 4.9zM564.6 190.9l8.4 4.9l-8.4 4.9zM569.3 182.3l8.4 4.9l-8.4 4.9zM574.0 173.3l8.4 4.9l-8.4 4.9zM578.7 164.2l8.4 4.9l-8.4 4.9zM583.4 154.9l8.4 4.9l-8.4 4.9zM588.0 145.6l8.4 4.9l-8.4 4.9zM592.7 136.3l8.4 4.9l-8.4 4.9zM597.4 127.1l8.4 4.9l-8.4 4.9zM602.1 118.1l8.4 4.9l-8.4 4.9zM606.8 109.2l8.4 4.9l-8.4 4.9zM611.5 100.7l8.4 4.9l-8.4 4.9zM616.2 92.6l8.4 4.9l-8.4 4.9zM620.8 85.0l8.4 4.9l-8.4 4.9zM625.5 78.1l8.4 4.9l-8.4 4.9zM630.2 72.1l8.4 4.9l-8.4 4.9zM634.9 67.0l8.4 4.9l-8.4 4.9zM639.6 63.1l8.4 4.9l-8.4 4.9zM644.3 60.4l8.4 4.9l-8.4 4.9zM649.0 59.1l8.4 4.9l-8.4 4.9zM653.6 59.0l8.4 4.9l-8.4 4.9zM658.3 60.2l8.4 4.9l-8.4 4.9zM663.0 62.5l8.4 4.9l-8.4 4.9zM667.7 65.8l8.4 4.9l-8.4 4.9zM672.4 69.9l8.4 4.9l-8.4 4.9zM677.1 74.7l8.4 4.9l-8.4 4.9zM681.8 79.9l8.4 4.9l-8.4 4.9zM686.5 85.4l8.4 4.9l-8.4 4.9zM691.1 91.2l8.4 4.9l-8.4 4.9zM695.8 97.1l8.4 4.9l-8.4 4.9zM700.5 103.0l8.4 4.9l-8.4 4.9zM705.2 109.0l8.4 4.9l-8.4 4.9zM709.9 114.8l8.4 4.9l-8.4 4.9z" stroke="#2e2e8f" stroke-width="1.4" fill="none"/>
<path d="M450.2 186.4 451.4 188.7 452.6 190.9 453.8 193.1 455.1 195.3 456.3 197.4 457.5 199.5 458.7 201.5 459.9 203.6 461.1 205.5 462.3 207.4 463.5 209.3 464.7 211.1 465.9 212.8 467.2 214.5 468.4 216.1 469.6 217.6 470.8 219.0 472.0 220.4 473.2 221.6 474.4 222.8 475.6 223.9 476.8 224.9 478.0 225.8 479.2 226.5 480.5 227.2 481.7 227.7 482.9 228.2 484.1 228.5 485.3 228.7 486.5 228.8 487.7 228.8 488.9 228.6 490.1 228.4 491.3 228.0 492.6 227.5 493.8 226.9 495.0 226.2 496.2 225.4 497.4 224.5 498.6 223.5 499.8 222.3 501.0 221.1 502.2 219.8 503.4 218.5 504.7 217.0 505.9 215.5 507.1 213.9 508.3 212.2 509.5 210.5 510.7 208.7 511.9 206.8 513.1 204.9 514.3 203.0 515.5 201.0 516.7 198.9 518.0 196.9 519.2 194.7 520.4 192.6 521.6 190.4 522.8 188.2 524.0 186.0 525.2 183.8 526.4 181.5 527.6 179.2 528.8 176.9 530.1 174.6 531.3 172.3 532.5 169.9 533.7 167.6 534.9 165.2 536.1 162.9 537.3 160.5 538.5 158.1 539.7 155.7 540.9 153.4 542.2 151.0 543.4 148.6 544.6 146.2 545.8 143.8 547.0 141.5 548.2 139.1 549.4 136.7 550.6 134.4 551.8 132.0 553.0 129.7 554.3 127.4 555.5 125.0 556.7 122.7 557.9 120.4 559.1 118.2 560.3 115.9 561.5 113.7 562.7 111.5 563.9 109.3 565.1 107.1 566.3 104.9 567.6 102.8 568.8 100.7 570.0 98.7 571.2 96.6 572.4 94.7 573.6 92.7 574.8 90.8 576.0 88.9 577.2 87.1 578.4 85.3 579.7 83.6 580.9 81.9 582.1 80.3 583.3 78.7 584.5 77.2 585.7 75.7 586.9 74.4 588.1 73.0 589.3 71.8 590.5 70.6 591.8 69.5 593.0 68.5 594.2 67.5 595.4 66.6 596.6 65.8 597.8 65.1 599.0 64.5 600.2 63.9 601.4 63.5 602.6 63.1 603.8 62.8 605.1 62.5 606.3 62.4 607.5 62.3 608.7 62.3 609.9 62.4 611.1 62.6 612.3 62.9 613.5 63.2 614.7 63.6 615.9 64.0 617.2 64.5 618.4 65.1 619.6 65.8 620.8 66.5 622.0 67.3 623.2 68.1 624.4 68.9 625.6 69.9 626.8 70.8 628.0 71.8 629.3 72.9 630.5 74.0 631.7 75.1 632.9 76.2 634.1 77.4 635.3 78.6 636.5 79.9 637.7 81.1 638.9 82.4 640.1 83.7 641.3 85.0 642.6 86.4 643.8 87.7 645.0 89.1 646.2 90.5 647.4 91.9 648.6 93.3 649.8 94.7 651.0 96.1 652.2 97.5 653.4 98.9 654.7 100.3 655.9 101.8 657.1 103.2 658.3 104.6 659.5 106.1 660.7 107.5 661.9 108.9 663.1 110.4 664.3 111.8 665.5 113.3 666.8 114.7 668.0 116.1 669.2 117.5 670.4 119.0 671.6 120.4 672.8 121.8 674.0 123.3 675.2 124.7 676.4 126.1 677.6 127.5 678.8 128.9 680.1 130.4 681.3 131.8 682.5 133.2 683.7 134.6 684.9 136.0 686.1 137.5 687.3 138.9 688.5 140.3 689.7 141.7 690.9 143.1 692.2 144.5 693.4 146.0 694.6 147.4 695.8 148.8 697.0 150.2 698.2 151.6 699.4 153.1" stroke="#f5821f" stroke-width="1.9" fill="none" stroke-linejoin="round"/>
<path d="M453.0 181.5l-8.4 4.9l8.4 4.9zM457.6 190.0l-8.4 4.9l8.4 4.9zM462.3 198.0l-8.4 4.9l8.4 4.9zM466.9 205.2l-8.4 4.9l8.4 4.9zM471.5 211.6l-8.4 4.9l8.4 4.9zM476.1 216.9l-8.4 4.9l8.4 4.9zM480.7 220.8l-8.4 4.9l8.4 4.9zM485.3 223.2l-8.4 4.9l8.4 4.9zM489.9 224.0l-8.4 4.9l8.4 4.9zM494.6 223.0l-8.4 4.9l8.4 4.9zM499.2 220.4l-8.4 4.9l8.4 4.9zM503.8 216.3l-8.4 4.9l8.4 4.9zM508.4 211.0l-8.4 4.9l8.4 4.9zM513.0 204.5l-8.4 4.9l8.4 4.9zM517.6 197.3l-8.4 4.9l8.4 4.9zM522.2 189.4l-8.4 4.9l8.4 4.9zM526.9 181.1l-8.4 4.9l8.4 4.9zM531.5 172.4l-8.4 4.9l8.4 4.9zM536.1 163.5l-8.4 4.9l8.4 4.9zM540.7 154.5l-8.4 4.9l8.4 4.9zM545.3 145.4l-8.4 4.9l8.4 4.9zM549.9 136.3l-8.4 4.9l8.4 4.9zM554.5 127.3l-8.4 4.9l8.4 4.9zM559.2 118.5l-8.4 4.9l8.4 4.9zM563.8 109.8l-8.4 4.9l8.4 4.9zM568.4 101.4l-8.4 4.9l8.4 4.9zM573.0 93.4l-8.4 4.9l8.4 4.9zM577.6 85.9l-8.4 4.9l8.4 4.9zM582.2 79.0l-8.4 4.9l8.4 4.9zM586.9 72.9l-8.4 4.9l8.4 4.9zM591.5 67.6l-8.4 4.9l8.4 4.9zM596.1 63.4l-8.4 4.9l8.4 4.9zM600.7 60.2l-8.4 4.9l8.4 4.9zM605.3 58.3l-8.4 4.9l8.4 4.9zM609.9 57.5l-8.4 4.9l8.4 4.9zM614.5 57.9l-8.4 4.9l8.4 4.9zM619.2 59.3l-8.4 4.9l8.4 4.9zM623.8 61.7l-8.4 4.9l8.4 4.9zM628.4 65.0l-8.4 4.9l8.4 4.9zM633.0 68.9l-8.4 4.9l8.4 4.9zM637.6 73.3l-8.4 4.9l8.4 4.9zM642.2 78.1l-8.4 4.9l8.4 4.9zM646.8 83.2l-8.4 4.9l8.4 4.9zM651.5 88.5l-8.4 4.9l8.4 4.9zM656.1 93.8l-8.4 4.9l8.4 4.9zM660.7 99.3l-8.4 4.9l8.4 4.9zM665.3 104.8l-8.4 4.9l8.4 4.9zM669.9 110.2l-8.4 4.9l8.4 4.9zM674.5 115.7l-8.4 4.9l8.4 4.9zM679.1 121.1l-8.4 4.9l8.4 4.9zM683.8 126.6l-8.4 4.9l8.4 4.9zM688.4 132.0l-8.4 4.9l8.4 4.9zM693.0 137.4l-8.4 4.9l8.4 4.9zM697.6 142.8l-8.4 4.9l8.4 4.9zM702.2 148.2l-8.4 4.9l8.4 4.9z" stroke="#f5821f" stroke-width="1.4" fill="none"/>
<path d="M397.7 187.5 398.9 189.8 400.1 192.0 401.3 194.1 402.6 196.3 403.8 198.3 405.0 200.4 406.2 202.4 407.4 204.4 408.6 206.3 409.8 208.1 411.0 209.9 412.2 211.6 413.4 213.3 414.6 214.9 415.8 216.4 417.1 217.8 418.3 219.2 419.5 220.4 420.7 221.6 421.9 222.7 423.1 223.7 424.3 224.5 425.5 225.3 426.7 226.0 427.9 226.5 429.1 227.0 430.4 227.3 431.6 227.5 432.8 227.6 434.0 227.6 435.2 227.5 436.4 227.2 437.6 226.8 438.8 226.3 440.0 225.8 441.2 225.1 442.4 224.3 443.6 223.3 444.9 222.3 446.1 221.2 447.3 220.0 448.5 218.8 449.7 217.4 450.9 215.9 452.1 214.4 453.3 212.8 454.5 211.2 455.7 209.5 456.9 207.7 458.1 205.8 459.4 204.0 460.6 202.0 461.8 200.0 463.0 198.0 464.2 196.0 465.4 193.9 466.6 191.7 467.8 189.6 469.0 187.4 470.2 185.2 471.4 183.0 472.7 180.7 473.9 178.5 475.1 176.2 476.3 173.9 477.5 171.6 478.7 169.2 479.9 166.9 481.1 164.6 482.3 162.2 483.5 159.9 484.7 157.5 485.9 155.1 487.2 152.8 488.4 150.4 489.6 148.0 490.8 145.7 492.0 143.3 493.2 141.0 494.4 138.6 495.6 136.2 496.8 133.9 498.0 131.6 499.2 129.2 500.4 126.9 501.7 124.6 502.9 122.3 504.1 120.1 505.3 117.8 506.5 115.6 507.7 113.3 508.9 111.1 510.1 109.0 511.3 106.8 512.5 104.7 513.7 102.6 514.9 100.5 516.2 98.4 517.4 96.4 518.6 94.4 519.8 92.5 521.0 90.6 522.2 88.8 523.4 86.9 524.6 85.2 525.8 83.5 527.0 81.8 528.2 80.2 529.5 78.6 530.7 77.1 531.9 75.7 533.1 74.3 534.3 73.0 535.5 71.8 536.7 70.7 537.9 69.6 539.1 68.6 540.3 67.6 541.5 66.8 542.7 66.0 544.0 65.3 545.2 64.7 546.4 64.2 547.6 63.7 548.8 63.4 550.0 63.1 551.2 62.9 552.4 62.8 553.6 62.8 554.8 62.8 556.0 62.9 557.2 63.1 558.5 63.4 559.7 63.8 560.9 64.2 562.1 64.7 563.3 65.3 564.5 65.9 565.7 66.6 566.9 67.3 568.1 68.1 569.3 69.0 570.5 69.9 571.7 70.8 573.0 71.9 574.2 72.9 575.4 74.0 576.6 75.1 577.8 76.3 579.0 77.5 580.2 78.7 581.4 79.9 582.6 81.2 583.8 82.5 585.0 83.9 586.3 85.2 587.5 86.6 588.7 88.0 589.9 89.4 591.1 90.8 592.3 92.2 593.5 93.6 594.7 95.1 595.9 96.5 597.1 98.0 598.3 99.4 599.5 100.9 600.8 102.4 602.0 103.8 603.2 105.3 604.4 106.8 605.6 108.3 606.8 109.8 608.0 111.3 609.2 112.7 610.4 114.2 611.6 115.7 612.8 117.2 614.0 118.7 615.3 120.2 616.5 121.6 617.7 123.1 618.9 124.6 620.1 126.1 621.3 127.6 622.5 129.1 623.7 130.6 624.9 132.0 626.1 133.5 627.3 135.0 628.6 136.5 629.8 138.0 631.0 139.5 632.2 141.0 633.4 142.5 634.6 144.0 635.8 145.5 637.0 147.0 638.2 148.5 639.4 150.0 640.6 151.5 641.8 153.0 643.1 154.5 644.3 156.0 645.5 157.5 646.7 159.0 647.9 160.6 649.1 162.1 650.3 163.6 651.5 165.1 652.7 166.6 653.9 168.2 655.1 169.7 656.3 171.2 657.6 172.7 658.8 174.3 660.0 175.8 661.2 177.3 662.4 178.9 663.6 180.4 664.8 181.9 666.0 183.5 667.2 185.0 668.4 186.5 669.6 188.0 670.8 189.6 672.1 191.1 673.3 192.6 674.5 194.2 675.7 195.7 676.9 197.2 678.1 198.8 679.3 200.3 680.5 201.8 681.7 203.4 682.9 204.9 684.1 206.4 685.4 207.9 686.6 209.5 687.8 211.0 689.0 212.5 690.2 214.0 691.4 215.5 692.6 217.0 693.8 218.6 695.0 220.1 696.2 221.6 697.4 223.1 698.6 224.6 699.9 226.1 701.1 227.6 702.3 229.1 703.5 230.6 704.7 232.1 705.9 233.6 707.1 235.1 708.3 236.6 709.5 238.1 710.7 239.6 711.9 241.0 713.1 242.5 714.4 244.0 715.6 245.5 716.8 247.0 718.0 248.4 719.2 249.9 720.4 251.4 721.6 252.8 722.8 254.3 724.0 255.8 725.2 257.2 726.4 258.7 727.6 260.1 728.9 261.6 730.1 263.0 731.3 264.5 732.5 265.9 733.7 267.4 734.9 268.8 736.1 270.3 737.3 271.7 738.5 273.1 739.7 274.6 740.9 276.0 742.2 277.4 743.4 278.8 744.6 280.2 745.8 281.7 747.0 283.1 748.2 284.5 749.4 285.9 750.6 287.3 751.8 288.7 753.0 290.1 754.2 291.5 755.4 292.9 756.7 294.3 757.9 295.7 759.1 297.1 760.3 298.5 761.5 299.8 762.7 301.2 763.9 302.6 765.1 304.0 766.3 305.4 767.5 306.7 768.7 308.1 769.9 309.5 771.2 310.8 772.4 312.2 773.6 313.5 774.8 314.9 776.0 316.2 777.2 317.6 778.4 318.9 779.6 320.3 780.8 321.6 782.0 323.0 783.2 324.3 784.5 325.6 785.7 327.0 786.9 328.3 788.1 329.6 789.3 330.9 790.5 332.3 791.7 333.6 792.9 334.9 794.1 336.2 795.3 337.5 796.5 338.8 797.7 340.1 799.0 341.4 800.2 342.8 801.4 344.1 802.6 345.3 803.8 346.6 805.0 347.9 806.2 349.2 807.4 350.5 808.6 351.8 809.8 353.1 811.0 354.4 812.2 355.6" stroke="#7b4cc0" stroke-width="1.9" fill="none" stroke-linejoin="round"/>
<path d="M401.8 189.9L397.7 192.3L393.6 189.9L393.6 185.2L397.7 182.8L401.8 185.2zM406.5 198.3L402.4 200.7L398.3 198.3L398.3 193.6L402.4 191.2L406.5 193.6zM411.2 206.2L407.0 208.5L402.9 206.2L402.9 201.4L407.0 199.0L411.2 201.4zM415.8 213.2L411.7 215.6L407.6 213.2L407.6 208.5L411.7 206.1L415.8 208.5zM420.5 219.4L416.4 221.7L412.2 219.4L412.2 214.6L416.4 212.2L420.5 214.6zM425.1 224.3L421.0 226.7L416.9 224.3L416.9 219.5L421.0 217.2L425.1 219.5zM429.8 227.8L425.7 230.2L421.6 227.8L421.6 223.0L425.7 220.7L429.8 223.0zM434.4 229.7L430.3 232.1L426.2 229.7L426.2 224.9L430.3 222.5L434.4 224.9zM439.1 229.9L435.0 232.2L430.9 229.9L430.9 225.1L435.0 222.7L439.1 225.1zM443.8 228.3L439.6 230.7L435.5 228.3L435.5 223.6L439.6 221.2L443.8 223.6zM448.4 225.2L444.3 227.6L440.2 225.2L440.2 220.4L444.3 218.1L448.4 220.4zM453.1 220.6L449.0 223.0L444.8 220.6L444.8 215.9L449.0 213.5L453.1 215.9zM457.7 214.8L453.6 217.2L449.5 214.8L449.5 210.1L453.6 207.7L457.7 210.1zM462.4 208.0L458.3 210.4L454.2 208.0L454.2 203.3L458.3 200.9L462.4 203.3zM467.0 200.5L462.9 202.9L458.8 200.5L458.8 195.7L462.9 193.4L467.0 195.7zM471.7 192.4L467.6 194.8L463.5 192.4L463.5 187.6L467.6 185.3L471.7 187.6zM476.4 183.9L472.2 186.2L468.1 183.9L468.1 179.1L472.2 176.7L476.4 179.1zM481.0 175.1L476.9 177.4L472.8 175.1L472.8 170.3L476.9 167.9L481.0 170.3zM485.7 166.1L481.6 168.4L477.4 166.1L477.4 161.3L481.6 158.9L485.7 161.3zM490.3 157.0L486.2 159.4L482.1 157.0L482.1 152.2L486.2 149.9L490.3 152.2zM495.0 147.9L490.9 150.2L486.8 147.9L486.8 143.1L490.9 140.7L495.0 143.1zM499.6 138.8L495.5 141.2L491.4 138.8L491.4 134.0L495.5 131.7L499.6 134.0zM504.3 129.8L500.2 132.2L496.1 129.8L496.1 125.1L500.2 122.7L504.3 125.1zM509.0 121.0L504.8 123.4L500.7 121.0L500.7 116.2L504.8 113.9L509.0 116.2zM513.6 112.4L509.5 114.8L505.4 112.4L505.4 107.7L509.5 105.3L513.6 107.7zM518.3 104.2L514.2 106.6L510.0 104.2L510.0 99.5L514.2 97.1L518.3 99.5zM522.9 96.4L518.8 98.8L514.7 96.4L514.7 91.7L518.8 89.3L522.9 91.7zM527.6 89.2L523.5 91.6L519.4 89.2L519.4 84.5L523.5 82.1L527.6 84.5zM532.2 82.7L528.1 85.1L524.0 82.7L524.0 78.0L528.1 75.6L532.2 78.0zM536.9 77.0L532.8 79.4L528.7 77.0L528.7 72.3L532.8 69.9L536.9 72.3zM541.6 72.4L537.4 74.7L533.3 72.4L533.3 67.6L537.4 65.2L541.6 67.6zM546.2 68.8L542.1 71.2L538.0 68.8L538.0 64.0L542.1 61.7L546.2 64.0zM550.9 66.4L546.8 68.8L542.6 66.4L542.6 61.6L546.8 59.3L550.9 61.6zM555.5 65.2L551.4 67.6L547.3 65.2L547.3 60.5L551.4 58.1L555.5 60.5zM560.2 65.3L556.1 67.7L552.0 65.3L552.0 60.6L556.1 58.2L560.2 60.6zM564.9 66.5L560.7 68.9L556.6 66.5L556.6 61.8L560.7 59.4L564.9 61.8zM569.5 68.8L565.4 71.1L561.3 68.8L561.3 64.0L565.4 61.6L569.5 64.0zM574.2 71.9L570.1 74.3L565.9 71.9L565.9 67.1L570.1 64.8L574.2 67.1zM578.8 75.8L574.7 78.1L570.6 75.8L570.6 71.0L574.7 68.6L578.8 71.0zM583.5 80.2L579.4 82.6L575.3 80.2L575.3 75.5L579.4 73.1L583.5 75.5zM588.1 85.1L584.0 87.5L579.9 85.1L579.9 80.4L584.0 78.0L588.1 80.4zM592.8 90.3L588.7 92.7L584.6 90.3L584.6 85.6L588.7 83.2L592.8 85.6zM597.5 95.8L593.3 98.2L589.2 95.8L589.2 91.0L593.3 88.7L597.5 91.0zM602.1 101.4L598.0 103.8L593.9 101.4L593.9 96.6L598.0 94.3L602.1 96.6zM606.8 107.1L602.7 109.4L598.5 107.1L598.5 102.3L602.7 99.9L606.8 102.3zM611.4 112.8L607.3 115.2L603.2 112.8L603.2 108.0L607.3 105.6L611.4 108.0zM616.1 118.5L612.0 120.9L607.9 118.5L607.9 113.7L612.0 111.4L616.1 113.7zM620.7 124.2L616.6 126.6L612.5 124.2L612.5 119.5L616.6 117.1L620.7 119.5zM625.4 129.9L621.3 132.3L617.2 129.9L617.2 125.2L621.3 122.8L625.4 125.2zM630.1 135.7L625.9 138.0L621.8 135.7L621.8 130.9L625.9 128.5L630.1 130.9zM634.7 141.4L630.6 143.8L626.5 141.4L626.5 136.7L630.6 134.3L634.7 136.7zM639.4 147.2L635.3 149.5L631.1 147.2L631.1 142.4L635.3 140.0L639.4 142.4zM644.0 153.0L639.9 155.3L635.8 153.0L635.8 148.2L639.9 145.8L644.0 148.2zM648.7 158.8L644.6 161.1L640.5 158.8L640.5 154.0L644.6 151.6L648.7 154.0zM653.3 164.6L649.2 167.0L645.1 164.6L645.1 159.9L649.2 157.5L653.3 159.9zM658.0 170.5L653.9 172.9L649.8 170.5L649.8 165.7L653.9 163.4L658.0 165.7zM662.7 176.4L658.5 178.7L654.4 176.4L654.4 171.6L658.5 169.2L662.7 171.6zM667.3 182.3L663.2 184.6L659.1 182.3L659.1 177.5L663.2 175.1L667.3 177.5zM672.0 188.2L667.9 190.5L663.7 188.2L663.7 183.4L667.9 181.0L672.0 183.4zM676.6 194.1L672.5 196.5L668.4 194.1L668.4 189.3L672.5 186.9L676.6 189.3zM681.3 200.0L677.2 202.4L673.1 200.0L673.1 195.2L677.2 192.8L681.3 195.2zM685.9 205.9L681.8 208.2L677.7 205.9L677.7 201.1L681.8 198.7L685.9 201.1zM690.6 211.7L686.5 214.1L682.4 211.7L682.4 207.0L686.5 204.6L690.6 207.0zM695.3 217.6L691.1 220.0L687.0 217.6L687.0 212.8L691.1 210.5L695.3 212.8zM699.9 223.4L695.8 225.8L691.7 223.4L691.7 218.7L695.8 216.3L699.9 218.7zM704.6 229.2L700.5 231.6L696.3 229.2L696.3 224.5L700.5 222.1L704.6 224.5zM709.2 235.0L705.1 237.4L701.0 235.0L701.0 230.3L705.1 227.9L709.2 230.3zM713.9 240.8L709.8 243.1L705.7 240.8L705.7 236.0L709.8 233.6L713.9 236.0zM718.6 246.5L714.4 248.9L710.3 246.5L710.3 241.7L714.4 239.4L718.6 241.7zM723.2 252.2L719.1 254.5L715.0 252.2L715.0 247.4L719.1 245.0L723.2 247.4zM727.9 257.8L723.8 260.2L719.6 257.8L719.6 253.1L723.8 250.7L727.9 253.1zM732.5 263.4L728.4 265.8L724.3 263.4L724.3 258.7L728.4 256.3L732.5 258.7zM737.2 269.0L733.1 271.4L729.0 269.0L729.0 264.3L733.1 261.9L737.2 264.3zM741.8 274.6L737.7 276.9L733.6 274.6L733.6 269.8L737.7 267.4L741.8 269.8zM746.5 280.1L742.4 282.4L738.3 280.1L738.3 275.3L742.4 272.9L746.5 275.3zM751.2 285.5L747.0 287.9L742.9 285.5L742.9 280.8L747.0 278.4L751.2 280.8zM755.8 290.9L751.7 293.3L747.6 290.9L747.6 286.2L751.7 283.8L755.8 286.2zM760.5 296.3L756.4 298.7L752.2 296.3L752.2 291.6L756.4 289.2L760.5 291.6zM765.1 301.7L761.0 304.1L756.9 301.7L756.9 296.9L761.0 294.6L765.1 296.9zM769.8 307.0L765.7 309.4L761.6 307.0L761.6 302.2L765.7 299.9L769.8 302.2zM774.4 312.3L770.3 314.6L766.2 312.3L766.2 307.5L770.3 305.1L774.4 307.5zM779.1 317.5L775.0 319.9L770.9 317.5L770.9 312.7L775.0 310.4L779.1 312.7zM783.8 322.7L779.6 325.1L775.5 322.7L775.5 317.9L779.6 315.6L783.8 317.9zM788.4 327.8L784.3 330.2L780.2 327.8L780.2 323.1L784.3 320.7L788.4 323.1zM793.1 333.0L789.0 335.3L784.8 333.0L784.8 328.2L789.0 325.8L793.1 328.2zM797.7 338.0L793.6 340.4L789.5 338.0L789.5 333.3L793.6 330.9L797.7 333.3zM802.4 343.1L798.3 345.5L794.2 343.1L794.2 338.3L798.3 336.0L802.4 338.3zM807.0 348.1L802.9 350.5L798.8 348.1L798.8 343.4L802.9 341.0L807.0 343.4zM811.7 353.1L807.6 355.5L803.5 353.1L803.5 348.3L807.6 346.0L811.7 348.3zM816.4 358.0L812.2 360.4L808.1 358.0L808.1 353.3L812.2 350.9L816.4 353.3z" stroke="#7b4cc0" stroke-width="1.4" fill="none"/>
<path d="M339.8 190.3 341.0 192.5 342.2 194.6 343.4 196.7 344.6 198.8 345.8 200.8 347.1 202.7 348.3 204.6 349.5 206.4 350.7 208.2 351.9 210.0 353.1 211.6 354.3 213.2 355.5 214.7 356.7 216.1 357.9 217.5 359.2 218.7 360.4 219.9 361.6 221.0 362.8 222.0 364.0 222.8 365.2 223.6 366.4 224.3 367.6 224.8 368.8 225.3 370.0 225.6 371.3 225.8 372.5 226.0 373.7 225.9 374.9 225.8 376.1 225.6 377.3 225.2 378.5 224.8 379.7 224.2 380.9 223.5 382.1 222.7 383.4 221.9 384.6 220.9 385.8 219.8 387.0 218.7 388.2 217.4 389.4 216.1 390.6 214.7 391.8 213.2 393.0 211.6 394.2 210.0 395.5 208.3 396.7 206.6 397.9 204.8 399.1 203.0 400.3 201.1 401.5 199.1 402.7 197.2 403.9 195.1 405.1 193.1 406.3 191.0 407.6 188.9 408.8 186.8 410.0 184.6 411.2 182.4 412.4 180.2 413.6 178.0 414.8 175.7 416.0 173.5 417.2 171.2 418.4 168.9 419.7 166.6 420.9 164.3 422.1 162.0 423.3 159.7 424.5 157.4 425.7 155.0 426.9 152.7 428.1 150.4 429.3 148.0 430.5 145.7 431.8 143.4 433.0 141.0 434.2 138.7 435.4 136.4 436.6 134.1 437.8 131.7 439.0 129.4 440.2 127.1 441.4 124.9 442.6 122.6 443.9 120.3 445.1 118.1 446.3 115.8 447.5 113.6 448.7 111.4 449.9 109.2 451.1 107.1 452.3 104.9 453.5 102.8 454.7 100.7 456.0 98.7 457.2 96.7 458.4 94.7 459.6 92.7 460.8 90.8 462.0 88.9 463.2 87.0 464.4 85.2 465.6 83.5 466.8 81.8 468.1 80.1 469.3 78.5 470.5 77.0 471.7 75.5 472.9 74.1 474.1 72.7 475.3 71.4 476.5 70.2 477.7 69.1 478.9 68.0 480.2 67.0 481.4 66.1 482.6 65.2 483.8 64.5 485.0 63.8 486.2 63.2 487.4 62.7 488.6 62.3 489.8 61.9 491.0 61.7 492.3 61.5 493.5 61.4 494.7 61.5 495.9 61.5 497.1 61.7 498.3 62.0 499.5 62.3 500.7 62.7 501.9 63.2 503.1 63.8 504.4 64.4 505.6 65.1 506.8 65.9 508.0 66.7 509.2 67.6 510.4 68.5 511.6 69.5 512.8 70.5 514.0 71.6 515.2 72.8 516.5 74.0 517.7 75.2 518.9 76.4 520.1 77.7 521.3 79.1 522.5 80.4 523.7 81.8 524.9 83.2 526.1 84.6 527.4 86.1 528.6 87.6 529.8 89.1 531.0 90.6 532.2 92.1 533.4 93.6 534.6 95.1 535.8 96.7 537.0 98.2 538.2 99.8 539.5 101.3 540.7 102.9 541.9 104.5 543.1 106.1 544.3 107.6 545.5 109.2 546.7 110.8 547.9 112.3 549.1 113.9 550.3 115.5 551.6 117.0 552.8 118.6 554.0 120.2 555.2 121.7 556.4 123.3 557.6 124.8 558.8 126.4 560.0 127.9 561.2 129.4 562.4 131.0 563.7 132.5 564.9 134.0 566.1 135.6 567.3 137.1 568.5 138.6 569.7 140.1 570.9 141.6 572.1 143.2 573.3 144.7 574.5 146.2 575.8 147.7 577.0 149.2 578.2 150.7 579.4 152.2 580.6 153.7 581.8 155.2 583.0 156.7 584.2 158.2 585.4 159.7 586.6 161.2 587.9 162.7 589.1 164.2 590.3 165.6 591.5 167.1 592.7 168.6 593.9 170.1 595.1 171.6 596.3 173.1 597.5 174.6 598.7 176.1 600.0 177.5 601.2 179.0 602.4 180.5 603.6 182.0 604.8 183.4 606.0 184.9 607.2 186.4 608.4 187.9 609.6 189.3 610.8 190.8 612.1 192.2 613.3 193.7 614.5 195.2 615.7 196.6 616.9 198.1 618.1 199.5 619.3 201.0 620.5 202.4 621.7 203.8 622.9 205.3 624.2 206.7 625.4 208.1 626.6 209.6 627.8 211.0 629.0 212.4 630.2 213.8 631.4 215.2 632.6 216.6 633.8 218.0 635.0 219.4 636.3 220.8 637.5 222.2 638.7 223.6 639.9 225.0 641.1 226.4 642.3 227.8 643.5 229.1 644.7 230.5 645.9 231.9 647.1 233.2 648.4 234.6 649.6 235.9 650.8 237.3 652.0 238.6 653.2 239.9 654.4 241.3 655.6 242.6 656.8 243.9 658.0 245.2 659.2 246.6 660.5 247.9 661.7 249.2 662.9 250.5 664.1 251.8 665.3 253.0 666.5 254.3 667.7 255.6 668.9 256.9 670.1 258.2 671.3 259.4 672.6 260.7 673.8 262.0 675.0 263.2 676.2 264.5 677.4 265.7 678.6 266.9 679.8 268.2 681.0 269.4 682.2 270.6 683.4 271.9 684.7 273.1 685.9 274.3 687.1 275.5 688.3 276.7 689.5 277.9 690.7 279.1 691.9 280.3 693.1 281.5 694.3 282.7 695.5 283.8 696.8 285.0 698.0 286.2 699.2 287.4 700.4 288.5 701.6 289.7 702.8 290.8 704.0 292.0 705.2 293.1 706.4 294.3 707.6 295.4 708.9 296.5 710.1 297.7 711.3 298.8 712.5 299.9 713.7 301.1 714.9 302.2 716.1 303.3 717.3 304.4 718.5 305.5 719.7 306.6 721.0 307.7 722.2 308.8 723.4 309.9 724.6 311.0 725.8 312.1 727.0 313.1 728.2 314.2 729.4 315.3 730.6 316.4 731.8 317.4 733.1 318.5 734.3 319.6 735.5 320.6 736.7 321.7 737.9 322.7 739.1 323.8 740.3 324.8 741.5 325.9 742.7 326.9 743.9 327.9 745.2 329.0 746.4 330.0 747.6 331.0 748.8 332.1 750.0 333.1 751.2 334.1 752.4 335.1 753.6 336.2 754.8 337.2 756.0 338.2 757.3 339.2 758.5 340.2 759.7 341.2 760.9 342.2 762.1 343.2 763.3 344.2 764.5 345.2 765.7 346.2 766.9 347.2 768.1 348.2 769.4 349.2 770.6 350.1 771.8 351.1 773.0 352.1 774.2 353.1 775.4 354.1 776.6 355.0 777.8 356.0 779.0 357.0 780.2 358.0 781.5 358.9 782.7 359.9 783.9 360.8 785.1 361.8 786.3 362.8 787.5 363.7 788.7 364.7" stroke="#e61e8c" stroke-width="1.9" fill="none" stroke-linejoin="round"/>
<path d="M336.2 186.8h7.1v7.1h-7.1zM340.9 194.8h7.1v7.1h-7.1zM345.5 202.2h7.1v7.1h-7.1zM350.1 208.8h7.1v7.1h-7.1zM354.7 214.3h7.1v7.1h-7.1zM359.4 218.5h7.1v7.1h-7.1zM364.0 221.3h7.1v7.1h-7.1zM368.6 222.4h7.1v7.1h-7.1zM373.3 221.8h7.1v7.1h-7.1zM377.9 219.6h7.1v7.1h-7.1zM382.5 216.0h7.1v7.1h-7.1zM387.1 211.0h7.1v7.1h-7.1zM391.8 205.0h7.1v7.1h-7.1zM396.4 198.0h7.1v7.1h-7.1zM401.0 190.5h7.1v7.1h-7.1zM405.7 182.4h7.1v7.1h-7.1zM410.3 174.0h7.1v7.1h-7.1zM414.9 165.3h7.1v7.1h-7.1zM419.5 156.5h7.1v7.1h-7.1zM424.2 147.6h7.1v7.1h-7.1zM428.8 138.6h7.1v7.1h-7.1zM433.4 129.8h7.1v7.1h-7.1zM438.0 121.0h7.1v7.1h-7.1zM442.7 112.3h7.1v7.1h-7.1zM447.3 104.0h7.1v7.1h-7.1zM451.9 95.9h7.1v7.1h-7.1zM456.6 88.3h7.1v7.1h-7.1zM461.2 81.2h7.1v7.1h-7.1zM465.8 74.8h7.1v7.1h-7.1zM470.4 69.3h7.1v7.1h-7.1zM475.1 64.7h7.1v7.1h-7.1zM479.7 61.2h7.1v7.1h-7.1zM484.3 59.0h7.1v7.1h-7.1zM489.0 57.9h7.1v7.1h-7.1zM493.6 58.2h7.1v7.1h-7.1zM498.2 59.6h7.1v7.1h-7.1zM502.8 62.1h7.1v7.1h-7.1zM507.5 65.4h7.1v7.1h-7.1zM512.1 69.6h7.1v7.1h-7.1zM516.7 74.4h7.1v7.1h-7.1zM521.4 79.6h7.1v7.1h-7.1zM526.0 85.2h7.1v7.1h-7.1zM530.6 91.0h7.1v7.1h-7.1zM535.2 96.9h7.1v7.1h-7.1zM539.9 102.9h7.1v7.1h-7.1zM544.5 109.0h7.1v7.1h-7.1zM549.1 114.9h7.1v7.1h-7.1zM553.7 120.9h7.1v7.1h-7.1zM558.4 126.8h7.1v7.1h-7.1zM563.0 132.6h7.1v7.1h-7.1zM567.6 138.4h7.1v7.1h-7.1zM572.3 144.2h7.1v7.1h-7.1zM576.9 150.0h7.1v7.1h-7.1zM581.5 155.7h7.1v7.1h-7.1zM586.1 161.4h7.1v7.1h-7.1zM590.8 167.1h7.1v7.1h-7.1zM595.4 172.8h7.1v7.1h-7.1zM600.0 178.4h7.1v7.1h-7.1zM604.7 184.0h7.1v7.1h-7.1zM609.3 189.6h7.1v7.1h-7.1zM613.9 195.2h7.1v7.1h-7.1zM618.5 200.7h7.1v7.1h-7.1zM623.2 206.2h7.1v7.1h-7.1zM627.8 211.6h7.1v7.1h-7.1zM632.4 217.0h7.1v7.1h-7.1zM637.1 222.3h7.1v7.1h-7.1zM641.7 227.5h7.1v7.1h-7.1zM646.3 232.7h7.1v7.1h-7.1zM650.9 237.8h7.1v7.1h-7.1zM655.6 242.9h7.1v7.1h-7.1zM660.2 247.8h7.1v7.1h-7.1zM664.8 252.8h7.1v7.1h-7.1zM669.5 257.6h7.1v7.1h-7.1zM674.1 262.4h7.1v7.1h-7.1zM678.7 267.1h7.1v7.1h-7.1zM683.3 271.8h7.1v7.1h-7.1zM688.0 276.3h7.1v7.1h-7.1zM692.6 280.9h7.1v7.1h-7.1zM697.2 285.3h7.1v7.1h-7.1zM701.8 289.7h7.1v7.1h-7.1zM706.5 294.1h7.1v7.1h-7.1zM711.1 298.4h7.1v7.1h-7.1zM715.7 302.6h7.1v7.1h-7.1zM720.4 306.8h7.1v7.1h-7.1zM725.0 311.0h7.1v7.1h-7.1zM729.6 315.0h7.1v7.1h-7.1zM734.2 319.1h7.1v7.1h-7.1zM738.9 323.1h7.1v7.1h-7.1zM743.5 327.0h7.1v7.1h-7.1zM748.1 331.0h7.1v7.1h-7.1zM752.8 334.8h7.1v7.1h-7.1zM757.4 338.7h7.1v7.1h-7.1zM762.0 342.5h7.1v7.1h-7.1zM766.6 346.3h7.1v7.1h-7.1zM771.3 350.0h7.1v7.1h-7.1zM775.9 353.8h7.1v7.1h-7.1zM780.5 357.5h7.1v7.1h-7.1zM785.2 361.1h7.1v7.1h-7.1z" stroke="#e61e8c" stroke-width="1.4" fill="none"/>
<path d="M265.6 180.3 266.8 182.5 268.0 184.7 269.2 186.9 270.4 189.0 271.6 191.1 272.8 193.1 274.0 195.1 275.2 197.0 276.4 198.9 277.6 200.7 278.9 202.5 280.1 204.2 281.3 205.9 282.5 207.4 283.7 208.9 284.9 210.4 286.1 211.7 287.3 212.9 288.5 214.1 289.7 215.2 290.9 216.1 292.1 217.0 293.3 217.8 294.5 218.4 295.7 219.0 297.0 219.4 298.2 219.7 299.4 219.9 300.6 220.0 301.8 220.0 303.0 219.9 304.2 219.6 305.4 219.3 306.6 218.8 307.8 218.3 309.0 217.6 310.2 216.8 311.4 215.9 312.6 214.9 313.9 213.9 315.1 212.7 316.3 211.4 317.5 210.1 318.7 208.7 319.9 207.2 321.1 205.7 322.3 204.1 323.5 202.4 324.7 200.7 325.9 198.9 327.1 197.0 328.3 195.1 329.5 193.2 330.7 191.2 332.0 189.2 333.2 187.2 334.4 185.1 335.6 183.0 336.8 180.9 338.0 178.7 339.2 176.6 340.4 174.4 341.6 172.1 342.8 169.9 344.0 167.7 345.2 165.4 346.4 163.1 347.6 160.9 348.8 158.6 350.1 156.3 351.3 154.0 352.5 151.7 353.7 149.4 354.9 147.1 356.1 144.8 357.3 142.5 358.5 140.1 359.7 137.8 360.9 135.5 362.1 133.2 363.3 131.0 364.5 128.7 365.7 126.4 366.9 124.1 368.2 121.9 369.4 119.7 370.6 117.4 371.8 115.2 373.0 113.0 374.2 110.8 375.4 108.7 376.6 106.6 377.8 104.4 379.0 102.4 380.2 100.3 381.4 98.3 382.6 96.2 383.8 94.3 385.1 92.3 386.3 90.4 387.5 88.6 388.7 86.7 389.9 85.0 391.1 83.2 392.3 81.5 393.5 79.9 394.7 78.3 395.9 76.8 397.1 75.3 398.3 73.9 399.5 72.6 400.7 71.3 401.9 70.1 403.2 68.9 404.4 67.8 405.6 66.8 406.8 65.9 408.0 65.0 409.2 64.3 410.4 63.6 411.6 62.9 412.8 62.4 414.0 61.9 415.2 61.6 416.4 61.3 417.6 61.1 418.8 60.9 420.0 60.9 421.3 60.9 422.5 61.0 423.7 61.2 424.9 61.4 426.1 61.8 427.3 62.2 428.5 62.6 429.7 63.2 430.9 63.8 432.1 64.4 433.3 65.2 434.5 65.9 435.7 66.8 436.9 67.6 438.1 68.6 439.4 69.6 440.6 70.6 441.8 71.6 443.0 72.8 444.2 73.9 445.4 75.1 446.6 76.3 447.8 77.5 449.0 78.8 450.2 80.1 451.4 81.4 452.6 82.7 453.8 84.0 455.0 85.4 456.2 86.8 457.5 88.2 458.7 89.6 459.9 91.0 461.1 92.5 462.3 93.9 463.5 95.3 464.7 96.8 465.9 98.3 467.1 99.7 468.3 101.2 469.5 102.6 470.7 104.1 471.9 105.6 473.1 107.1 474.4 108.5 475.6 110.0 476.8 111.5 478.0 112.9 479.2 114.4 480.4 115.9 481.6 117.3 482.8 118.8 484.0 120.2 485.2 121.7 486.4 123.2 487.6 124.6 488.8 126.1 490.0 127.5 491.2 129.0 492.5 130.4 493.7 131.9 494.9 133.3 496.1 134.7 497.3 136.2 498.5 137.6 499.7 139.1 500.9 140.5 502.1 141.9 503.3 143.4 504.5 144.8 505.7 146.3 506.9 147.7 508.1 149.1 509.3 150.6 510.6 152.0 511.8 153.4 513.0 154.9 514.2 156.3 515.4 157.7 516.6 159.2 517.8 160.6 519.0 162.0 520.2 163.5 521.4 164.9 522.6 166.3 523.8 167.8 525.0 169.2 526.2 170.6 527.4 172.0 528.7 173.5 529.9 174.9 531.1 176.3 532.3 177.7 533.5 179.2 534.7 180.6 535.9 182.0 537.1 183.4 538.3 184.8 539.5 186.3 540.7 187.7 541.9 189.1 543.1 190.5 544.3 191.9 545.6 193.3 546.8 194.7 548.0 196.1 549.2 197.5 550.4 198.9 551.6 200.3 552.8 201.7 554.0 203.0 555.2 204.4 556.4 205.8 557.6 207.2 558.8 208.6 560.0 209.9 561.2 211.3 562.4 212.7 563.7 214.0 564.9 215.4 566.1 216.7 567.3 218.1 568.5 219.4 569.7 220.8 570.9 222.1 572.1 223.5 573.3 224.8 574.5 226.1 575.7 227.4 576.9 228.8 578.1 230.1 579.3 231.4 580.5 232.7 581.8 234.0 583.0 235.3 584.2 236.6 585.4 237.9 586.6 239.2 587.8 240.5 589.0 241.8 590.2 243.0 591.4 244.3 592.6 245.6 593.8 246.9 595.0 248.1 596.2 249.4 597.4 250.6 598.6 251.9 599.9 253.1 601.1 254.4 602.3 255.6 603.5 256.9 604.7 258.1 605.9 259.3 607.1 260.5 608.3 261.8 609.5 263.0 610.7 264.2 611.9 265.4 613.1 266.6 614.3 267.8 615.5 269.0 616.8 270.2 618.0 271.4 619.2 272.6 620.4 273.7 621.6 274.9 622.8 276.1 624.0 277.3 625.2 278.4 626.4 279.6 627.6 280.8 628.8 281.9 630.0 283.1 631.2 284.2 632.4 285.3 633.6 286.5 634.9 287.6 636.1 288.8 637.3 289.9 638.5 291.0 639.7 292.1 640.9 293.2 642.1 294.4 643.3 295.5 644.5 296.6 645.7 297.7 646.9 298.8 648.1 299.9 649.3 301.0 650.5 302.1 651.7 303.2 653.0 304.2 654.2 305.3 655.4 306.4 656.6 307.5 657.8 308.5 659.0 309.6 660.2 310.7 661.4 311.7 662.6 312.8 663.8 313.8 665.0 314.9 666.2 315.9 667.4 317.0 668.6 318.0 669.8 319.1 671.1 320.1 672.3 321.1 673.5 322.2 674.7 323.2 675.9 324.2 677.1 325.3 678.3 326.3 679.5 327.3 680.7 328.3 681.9 329.3 683.1 330.3 684.3 331.3 685.5 332.4 686.7 333.4 687.9 334.4 689.2 335.4 690.4 336.3 691.6 337.3 692.8 338.3 694.0 339.3 695.2 340.3 696.4 341.3 697.6 342.3 698.8 343.3 700.0 344.2 701.2 345.2 702.4 346.2 703.6 347.1 704.8 348.1 706.1 349.1 707.3 350.0 708.5 351.0 709.7 352.0 710.9 352.9 712.1 353.9 713.3 354.8 714.5 355.8 715.7 356.7 716.9 357.7 718.1 358.6 719.3 359.6 720.5 360.5 721.7 361.5 722.9 362.4 724.2 363.3 725.4 364.3 726.6 365.2 727.8 366.2 729.0 367.1 730.2 368.0 731.4 368.9 732.6 369.9 733.8 370.8 735.0 371.7 736.2 372.6 737.4 373.6 738.6 374.5 739.8 375.4 741.0 376.3 742.3 377.2 743.5 378.1 744.7 379.1 745.9 380.0 747.1 380.9 748.3 381.8 749.5 382.7 750.7 383.6 751.9 384.5 753.1 385.4 754.3 386.3 755.5 387.2 756.7 388.1 757.9 389.0 759.1 389.9 760.4 390.8 761.6 391.7 762.8 392.6 764.0 393.5 765.2 394.4 766.4 395.3 767.6 396.2 768.8 397.1 770.0 397.9 771.2 398.8 772.4 399.7 773.6 400.6 774.8 401.5 776.0 402.4 777.3 403.3 778.5 404.1 779.7 405.0 780.9 405.9 782.1 406.8" stroke="#009a3e" stroke-width="1.9" fill="none" stroke-linejoin="round"/>
<path d="M261.8 180.3a3.8 3.8 0 1 0 7.6 0a3.8 3.8 0 1 0 -7.6 0M266.5 188.7a3.8 3.8 0 1 0 7.6 0a3.8 3.8 0 1 0 -7.6 0M271.1 196.5a3.8 3.8 0 1 0 7.6 0a3.8 3.8 0 1 0 -7.6 0M275.8 203.5a3.8 3.8 0 1 0 7.6 0a3.8 3.8 0 1 0 -7.6 0M280.4 209.6a3.8 3.8 0 1 0 7.6 0a3.8 3.8 0 1 0 -7.6 0M285.1 214.4a3.8 3.8 0 1 0 7.6 0a3.8 3.8 0 1 0 -7.6 0M289.7 217.9a3.8 3.8 0 1 0 7.6 0a3.8 3.8 0 1 0 -7.6 0M294.4 219.7a3.8 3.8 0 1 0 7.6 0a3.8 3.8 0 1 0 -7.6 0M299.0 219.9a3.8 3.8 0 1 0 7.6 0a3.8 3.8 0 1 0 -7.6 0M303.7 218.4a3.8 3.8 0 1 0 7.6 0a3.8 3.8 0 1 0 -7.6 0M308.3 215.4a3.8 3.8 0 1 0 7.6 0a3.8 3.8 0 1 0 -7.6 0M313.0 210.9a3.8 3.8 0 1 0 7.6 0a3.8 3.8 0 1 0 -7.6 0M317.6 205.3a3.8 3.8 0 1 0 7.6 0a3.8 3.8 0 1 0 -7.6 0M322.3 198.6a3.8 3.8 0 1 0 7.6 0a3.8 3.8 0 1 0 -7.6 0M326.9 191.3a3.8 3.8 0 1 0 7.6 0a3.8 3.8 0 1 0 -7.6 0M331.6 183.4a3.8 3.8 0 1 0 7.6 0a3.8 3.8 0 1 0 -7.6 0M336.3 175.0a3.8 3.8 0 1 0 7.6 0a3.8 3.8 0 1 0 -7.6 0M340.9 166.4a3.8 3.8 0 1 0 7.6 0a3.8 3.8 0 1 0 -7.6 0M345.6 157.6a3.8 3.8 0 1 0 7.6 0a3.8 3.8 0 1 0 -7.6 0M350.2 148.8a3.8 3.8 0 1 0 7.6 0a3.8 3.8 0 1 0 -7.6 0M354.9 139.9a3.8 3.8 0 1 0 7.6 0a3.8 3.8 0 1 0 -7.6 0M359.5 131.0a3.8 3.8 0 1 0 7.6 0a3.8 3.8 0 1 0 -7.6 0M364.2 122.3a3.8 3.8 0 1 0 7.6 0a3.8 3.8 0 1 0 -7.6 0M368.8 113.7a3.8 3.8 0 1 0 7.6 0a3.8 3.8 0 1 0 -7.6 0M373.5 105.4a3.8 3.8 0 1 0 7.6 0a3.8 3.8 0 1 0 -7.6 0M378.1 97.5a3.8 3.8 0 1 0 7.6 0a3.8 3.8 0 1 0 -7.6 0M382.8 90.0a3.8 3.8 0 1 0 7.6 0a3.8 3.8 0 1 0 -7.6 0M387.4 83.0a3.8 3.8 0 1 0 7.6 0a3.8 3.8 0 1 0 -7.6 0M392.1 76.8a3.8 3.8 0 1 0 7.6 0a3.8 3.8 0 1 0 -7.6 0M396.7 71.5a3.8 3.8 0 1 0 7.6 0a3.8 3.8 0 1 0 -7.6 0M401.4 67.1a3.8 3.8 0 1 0 7.6 0a3.8 3.8 0 1 0 -7.6 0M406.0 63.9a3.8 3.8 0 1 0 7.6 0a3.8 3.8 0 1 0 -7.6 0M410.7 61.8a3.8 3.8 0 1 0 7.6 0a3.8 3.8 0 1 0 -7.6 0M415.4 60.9a3.8 3.8 0 1 0 7.6 0a3.8 3.8 0 1 0 -7.6 0M420.0 61.2a3.8 3.8 0 1 0 7.6 0a3.8 3.8 0 1 0 -7.6 0M424.7 62.6a3.8 3.8 0 1 0 7.6 0a3.8 3.8 0 1 0 -7.6 0M429.3 65.0a3.8 3.8 0 1 0 7.6 0a3.8 3.8 0 1 0 -7.6 0M434.0 68.3a3.8 3.8 0 1 0 7.6 0a3.8 3.8 0 1 0 -7.6 0M438.6 72.2a3.8 3.8 0 1 0 7.6 0a3.8 3.8 0 1 0 -7.6 0M443.3 76.7a3.8 3.8 0 1 0 7.6 0a3.8 3.8 0 1 0 -7.6 0M447.9 81.7a3.8 3.8 0 1 0 7.6 0a3.8 3.8 0 1 0 -7.6 0M452.6 86.9a3.8 3.8 0 1 0 7.6 0a3.8 3.8 0 1 0 -7.6 0M457.2 92.4a3.8 3.8 0 1 0 7.6 0a3.8 3.8 0 1 0 -7.6 0M461.9 98.0a3.8 3.8 0 1 0 7.6 0a3.8 3.8 0 1 0 -7.6 0M466.5 103.6a3.8 3.8 0 1 0 7.6 0a3.8 3.8 0 1 0 -7.6 0M471.2 109.3a3.8 3.8 0 1 0 7.6 0a3.8 3.8 0 1 0 -7.6 0M475.8 114.9a3.8 3.8 0 1 0 7.6 0a3.8 3.8 0 1 0 -7.6 0M480.5 120.6a3.8 3.8 0 1 0 7.6 0a3.8 3.8 0 1 0 -7.6 0M485.2 126.2a3.8 3.8 0 1 0 7.6 0a3.8 3.8 0 1 0 -7.6 0M489.8 131.8a3.8 3.8 0 1 0 7.6 0a3.8 3.8 0 1 0 -7.6 0M494.5 137.3a3.8 3.8 0 1 0 7.6 0a3.8 3.8 0 1 0 -7.6 0M499.1 142.9a3.8 3.8 0 1 0 7.6 0a3.8 3.8 0 1 0 -7.6 0M503.8 148.4a3.8 3.8 0 1 0 7.6 0a3.8 3.8 0 1 0 -7.6 0M508.4 154.0a3.8 3.8 0 1 0 7.6 0a3.8 3.8 0 1 0 -7.6 0M513.1 159.5a3.8 3.8 0 1 0 7.6 0a3.8 3.8 0 1 0 -7.6 0M517.7 165.0a3.8 3.8 0 1 0 7.6 0a3.8 3.8 0 1 0 -7.6 0M522.4 170.5a3.8 3.8 0 1 0 7.6 0a3.8 3.8 0 1 0 -7.6 0M527.0 176.0a3.8 3.8 0 1 0 7.6 0a3.8 3.8 0 1 0 -7.6 0M531.7 181.5a3.8 3.8 0 1 0 7.6 0a3.8 3.8 0 1 0 -7.6 0M536.3 187.0a3.8 3.8 0 1 0 7.6 0a3.8 3.8 0 1 0 -7.6 0M541.0 192.4a3.8 3.8 0 1 0 7.6 0a3.8 3.8 0 1 0 -7.6 0M545.6 197.8a3.8 3.8 0 1 0 7.6 0a3.8 3.8 0 1 0 -7.6 0M550.3 203.1a3.8 3.8 0 1 0 7.6 0a3.8 3.8 0 1 0 -7.6 0M554.9 208.4a3.8 3.8 0 1 0 7.6 0a3.8 3.8 0 1 0 -7.6 0M559.6 213.7a3.8 3.8 0 1 0 7.6 0a3.8 3.8 0 1 0 -7.6 0M564.3 218.9a3.8 3.8 0 1 0 7.6 0a3.8 3.8 0 1 0 -7.6 0M568.9 224.1a3.8 3.8 0 1 0 7.6 0a3.8 3.8 0 1 0 -7.6 0M573.6 229.2a3.8 3.8 0 1 0 7.6 0a3.8 3.8 0 1 0 -7.6 0M578.2 234.3a3.8 3.8 0 1 0 7.6 0a3.8 3.8 0 1 0 -7.6 0M582.9 239.3a3.8 3.8 0 1 0 7.6 0a3.8 3.8 0 1 0 -7.6 0M587.5 244.2a3.8 3.8 0 1 0 7.6 0a3.8 3.8 0 1 0 -7.6 0M592.2 249.1a3.8 3.8 0 1 0 7.6 0a3.8 3.8 0 1 0 -7.6 0M596.8 253.9a3.8 3.8 0 1 0 7.6 0a3.8 3.8 0 1 0 -7.6 0M601.5 258.7a3.8 3.8 0 1 0 7.6 0a3.8 3.8 0 1 0 -7.6 0M606.1 263.4a3.8 3.8 0 1 0 7.6 0a3.8 3.8 0 1 0 -7.6 0M610.8 268.0a3.8 3.8 0 1 0 7.6 0a3.8 3.8 0 1 0 -7.6 0M615.4 272.6a3.8 3.8 0 1 0 7.6 0a3.8 3.8 0 1 0 -7.6 0M620.1 277.2a3.8 3.8 0 1 0 7.6 0a3.8 3.8 0 1 0 -7.6 0M624.7 281.6a3.8 3.8 0 1 0 7.6 0a3.8 3.8 0 1 0 -7.6 0M629.4 286.0a3.8 3.8 0 1 0 7.6 0a3.8 3.8 0 1 0 -7.6 0M634.1 290.4a3.8 3.8 0 1 0 7.6 0a3.8 3.8 0 1 0 -7.6 0M638.7 294.7a3.8 3.8 0 1 0 7.6 0a3.8 3.8 0 1 0 -7.6 0M643.4 299.0a3.8 3.8 0 1 0 7.6 0a3.8 3.8 0 1 0 -7.6 0M648.0 303.2a3.8 3.8 0 1 0 7.6 0a3.8 3.8 0 1 0 -7.6 0M652.7 307.4a3.8 3.8 0 1 0 7.6 0a3.8 3.8 0 1 0 -7.6 0M657.3 311.5a3.8 3.8 0 1 0 7.6 0a3.8 3.8 0 1 0 -7.6 0M662.0 315.5a3.8 3.8 0 1 0 7.6 0a3.8 3.8 0 1 0 -7.6 0M666.6 319.6a3.8 3.8 0 1 0 7.6 0a3.8 3.8 0 1 0 -7.6 0M671.3 323.5a3.8 3.8 0 1 0 7.6 0a3.8 3.8 0 1 0 -7.6 0M675.9 327.5a3.8 3.8 0 1 0 7.6 0a3.8 3.8 0 1 0 -7.6 0M680.6 331.4a3.8 3.8 0 1 0 7.6 0a3.8 3.8 0 1 0 -7.6 0M685.2 335.2a3.8 3.8 0 1 0 7.6 0a3.8 3.8 0 1 0 -7.6 0M689.9 339.1a3.8 3.8 0 1 0 7.6 0a3.8 3.8 0 1 0 -7.6 0M694.5 342.9a3.8 3.8 0 1 0 7.6 0a3.8 3.8 0 1 0 -7.6 0M699.2 346.6a3.8 3.8 0 1 0 7.6 0a3.8 3.8 0 1 0 -7.6 0M703.8 350.3a3.8 3.8 0 1 0 7.6 0a3.8 3.8 0 1 0 -7.6 0M708.5 354.0a3.8 3.8 0 1 0 7.6 0a3.8 3.8 0 1 0 -7.6 0M713.2 357.7a3.8 3.8 0 1 0 7.6 0a3.8 3.8 0 1 0 -7.6 0M717.8 361.3a3.8 3.8 0 1 0 7.6 0a3.8 3.8 0 1 0 -7.6 0M722.5 365.0a3.8 3.8 0 1 0 7.6 0a3.8 3.8 0 1 0 -7.6 0M727.1 368.6a3.8 3.8 0 1 0 7.6 0a3.8 3.8 0 1 0 -7.6 0M731.8 372.1a3.8 3.8 0 1 0 7.6 0a3.8 3.8 0 1 0 -7.6 0M736.4 375.7a3.8 3.8 0 1 0 7.6 0a3.8 3.8 0 1 0 -7.6 0M741.1 379.2a3.8 3.8 0 1 0 7.6 0a3.8 3.8 0 1 0 -7.6 0M745.7 382.7a3.8 3.8 0 1 0 7.6 0a3.8 3.8 0 1 0 -7.6 0M750.4 386.2a3.8 3.8 0 1 0 7.6 0a3.8 3.8 0 1 0 -7.6 0M755.0 389.7a3.8 3.8 0 1 0 7.6 0a3.8 3.8 0 1 0 -7.6 0M759.7 393.1a3.8 3.8 0 1 0 7.6 0a3.8 3.8 0 1 0 -7.6 0M764.3 396.6a3.8 3.8 0 1 0 7.6 0a3.8 3.8 0 1 0 -7.6 0M769.0 400.0a3.8 3.8 0 1 0 7.6 0a3.8 3.8 0 1 0 -7.6 0M773.6 403.4a3.8 3.8 0 1 0 7.6 0a3.8 3.8 0 1 0 -7.6 0M778.3 406.8a3.8 3.8 0 1 0 7.6 0a3.8 3.8 0 1 0 -7.6 0" stroke="#009a3e" stroke-width="1.4" fill="none"/>
<path d="M265.0 166.0 266.2 163.8 267.4 161.6 268.6 159.3 269.8 157.1 271.0 154.8 272.2 152.6 273.4 150.3 274.6 148.1 275.8 145.8 277.0 143.5 278.3 141.3 279.5 139.0 280.7 136.7 281.9 134.5 283.1 132.2 284.3 130.0 285.5 127.7 286.7 125.5 287.9 123.3 289.1 121.0 290.3 118.8 291.5 116.6 292.7 114.4 293.9 112.3 295.1 110.1 296.4 108.0 297.6 105.8 298.8 103.7 300.0 101.7 301.2 99.6 302.4 97.6 303.6 95.6 304.8 93.6 306.0 91.7 307.2 89.7 308.4 87.9 309.6 86.0 310.8 84.2 312.0 82.5 313.2 80.8 314.5 79.1 315.7 77.5 316.9 75.9 318.1 74.4 319.3 73.0 320.5 71.6 321.7 70.3 322.9 69.0 324.1 67.9 325.3 66.7 326.5 65.7 327.7 64.8 328.9 63.9 330.1 63.1 331.3 62.3 332.6 61.7 333.8 61.2 335.0 60.7 336.2 60.3 337.4 60.0 338.6 59.8 339.8 59.7 341.0 59.7 342.2 59.7 343.4 59.9 344.6 60.1 345.8 60.4 347.0 60.8 348.2 61.3 349.5 61.8 350.7 62.4 351.9 63.1 353.1 63.9 354.3 64.7 355.5 65.6 356.7 66.6 357.9 67.6 359.1 68.6 360.3 69.8 361.5 70.9 362.7 72.1 363.9 73.4 365.1 74.7 366.3 76.1 367.6 77.4 368.8 78.8 370.0 80.3 371.2 81.7 372.4 83.2 373.6 84.8 374.8 86.3 376.0 87.8 377.2 89.4 378.4 91.0 379.6 92.6 380.8 94.2 382.0 95.8 383.2 97.5 384.4 99.1 385.7 100.7 386.9 102.4 388.1 104.0 389.3 105.7 390.5 107.3 391.7 109.0 392.9 110.6 394.1 112.2 395.3 113.9 396.5 115.5 397.7 117.1 398.9 118.8 400.1 120.4 401.3 122.0 402.5 123.6 403.8 125.2 405.0 126.8 406.2 128.4 407.4 129.9 408.6 131.5 409.8 133.1 411.0 134.6 412.2 136.2 413.4 137.7 414.6 139.3 415.8 140.8 417.0 142.3 418.2 143.9 419.4 145.4 420.7 146.9 421.9 148.4 423.1 149.9 424.3 151.4 425.5 152.9 426.7 154.4 427.9 155.8 429.1 157.3 430.3 158.8 431.5 160.3 432.7 161.7 433.9 163.2 435.1 164.6 436.3 166.1 437.5 167.5 438.8 169.0 440.0 170.4 441.2 171.8 442.4 173.3 443.6 174.7 444.8 176.1 446.0 177.6 447.2 179.0 448.4 180.4 449.6 181.8 450.8 183.2 452.0 184.6 453.2 186.0 454.4 187.4 455.6 188.8 456.9 190.2 458.1 191.5 459.3 192.9 460.5 194.3 461.7 195.6 462.9 197.0 464.1 198.4 465.3 199.7 466.5 201.1 467.7 202.4 468.9 203.7 470.1 205.1 471.3 206.4 472.5 207.7 473.7 209.0 475.0 210.3 476.2 211.6 477.4 212.9 478.6 214.2 479.8 215.5 481.0 216.8 482.2 218.1 483.4 219.4 484.6 220.6 485.8 221.9 487.0 223.1 488.2 224.4 489.4 225.6 490.6 226.9 491.8 228.1 493.1 229.3 494.3 230.5 495.5 231.7 496.7 232.9 497.9 234.1 499.1 235.3 500.3 236.5 501.5 237.7 502.7 238.9 503.9 240.1 505.1 241.2 506.3 242.4 507.5 243.5 508.7 244.7 510.0 245.8 511.2 247.0 512.4 248.1 513.6 249.2 514.8 250.3 516.0 251.4 517.2 252.6 518.4 253.7 519.6 254.8 520.8 255.8 522.0 256.9 523.2 258.0 524.4 259.1 525.6 260.2 526.8 261.2 528.1 262.3 529.3 263.3 530.5 264.4 531.7 265.4 532.9 266.5 534.1 267.5 535.3 268.5 536.5 269.6 537.7 270.6 538.9 271.6 540.1 272.6 541.3 273.6 542.5 274.6 543.7 275.6 544.9 276.6 546.2 277.6 547.4 278.6 548.6 279.6 549.8 280.6 551.0 281.5 552.2 282.5 553.4 283.5 554.6 284.4 555.8 285.4 557.0 286.3 558.2 287.3 559.4 288.2 560.6 289.2 561.8 290.1 563.0 291.0 564.3 292.0 565.5 292.9 566.7 293.8 567.9 294.8 569.1 295.7 570.3 296.6 571.5 297.5 572.7 298.4 573.9 299.3 575.1 300.2 576.3 301.1 577.5 302.0 578.7 302.9 579.9 303.8 581.2 304.7 582.4 305.6 583.6 306.5 584.8 307.3 586.0 308.2 587.2 309.1 588.4 310.0 589.6 310.8 590.8 311.7 592.0 312.6 593.2 313.4 594.4 314.3 595.6 315.2 596.8 316.0 598.0 316.9 599.3 317.7 600.5 318.6 601.7 319.4 602.9 320.3 604.1 321.1 605.3 322.0 606.5 322.8 607.7 323.7 608.9 324.5 610.1 325.3 611.3 326.2 612.5 327.0 613.7 327.8 614.9 328.7 616.1 329.5 617.4 330.3 618.6 331.1 619.8 332.0 621.0 332.8 622.2 333.6 623.4 334.4 624.6 335.2 625.8 336.1 627.0 336.9 628.2 337.7 629.4 338.5 630.6 339.3 631.8 340.1 633.0 340.9 634.2 341.7 635.5 342.6 636.7 343.4 637.9 344.2 639.1 345.0 640.3 345.8 641.5 346.6 642.7 347.4 643.9 348.2 645.1 349.0 646.3 349.8 647.5 350.6 648.7 351.4 649.9 352.2 651.1 352.9 652.3 353.7 653.6 354.5 654.8 355.3 656.0 356.1 657.2 356.9 658.4 357.7 659.6 358.5 660.8 359.3 662.0 360.1 663.2 360.8 664.4 361.6 665.6 362.4 666.8 363.2 668.0 364.0 669.2 364.8 670.5 365.6 671.7 366.3 672.9 367.1 674.1 367.9 675.3 368.7 676.5 369.5 677.7 370.2 678.9 371.0 680.1 371.8 681.3 372.6 682.5 373.4 683.7 374.1 684.9 374.9 686.1 375.7 687.3 376.5 688.6 377.2 689.8 378.0 691.0 378.8 692.2 379.6 693.4 380.3 694.6 381.1 695.8 381.9 697.0 382.6 698.2 383.4 699.4 384.2 700.6 385.0 701.8 385.7 703.0 386.5 704.2 387.3 705.4 388.0 706.7 388.8 707.9 389.6 709.1 390.4 710.3 391.1 711.5 391.9 712.7 392.7 713.9 393.4 715.1 394.2 716.3 395.0 717.5 395.7 718.7 396.5 719.9 397.3 721.1 398.0 722.3 398.8 723.5 399.6 724.8 400.3 726.0 401.1 727.2 401.9 728.4 402.6 729.6 403.4 730.8 404.2 732.0 404.9 733.2 405.7 734.4 406.4 735.6 407.2 736.8 408.0 738.0 408.7 739.2 409.5 740.4 410.3 741.7 411.0 742.9 411.8 744.1 412.6 745.3 413.3 746.5 414.1 747.7 414.8 748.9 415.6 750.1 416.4 751.3 417.1 752.5 417.9 753.7 418.6 754.9 419.4 756.1 420.2 757.3 420.9 758.5 421.7 759.8 422.5 761.0 423.2 762.2 424.0 763.4 424.7 764.6 425.5 765.8 426.3 767.0 427.0 768.2 427.8" stroke="#5b9bd5" stroke-width="1.9" fill="none" stroke-linejoin="round"/>
<path d="M260.1 168.8l4.9 -8.4l4.9 8.4zM264.8 160.2l4.9 -8.4l4.9 8.4zM269.4 151.5l4.9 -8.4l4.9 8.4zM274.1 142.7l4.9 -8.4l4.9 8.4zM278.8 134.0l4.9 -8.4l4.9 8.4zM283.4 125.4l4.9 -8.4l4.9 8.4zM288.1 116.9l4.9 -8.4l4.9 8.4zM292.7 108.6l4.9 -8.4l4.9 8.4zM297.4 100.6l4.9 -8.4l4.9 8.4zM302.1 93.0l4.9 -8.4l4.9 8.4zM306.7 86.0l4.9 -8.4l4.9 8.4zM311.4 79.6l4.9 -8.4l4.9 8.4zM316.0 74.0l4.9 -8.4l4.9 8.4zM320.7 69.4l4.9 -8.4l4.9 8.4zM325.3 65.8l4.9 -8.4l4.9 8.4zM330.0 63.5l4.9 -8.4l4.9 8.4zM334.7 62.5l4.9 -8.4l4.9 8.4zM339.3 62.8l4.9 -8.4l4.9 8.4zM344.0 64.3l4.9 -8.4l4.9 8.4zM348.6 67.0l4.9 -8.4l4.9 8.4zM353.3 70.6l4.9 -8.4l4.9 8.4zM358.0 75.1l4.9 -8.4l4.9 8.4zM362.6 80.2l4.9 -8.4l4.9 8.4zM367.3 85.8l4.9 -8.4l4.9 8.4zM371.9 91.7l4.9 -8.4l4.9 8.4zM376.6 97.9l4.9 -8.4l4.9 8.4zM381.3 104.2l4.9 -8.4l4.9 8.4zM385.9 110.5l4.9 -8.4l4.9 8.4zM390.6 116.9l4.9 -8.4l4.9 8.4zM395.2 123.1l4.9 -8.4l4.9 8.4zM399.9 129.3l4.9 -8.4l4.9 8.4zM404.6 135.4l4.9 -8.4l4.9 8.4zM409.2 141.4l4.9 -8.4l4.9 8.4zM413.9 147.3l4.9 -8.4l4.9 8.4zM418.5 153.1l4.9 -8.4l4.9 8.4zM423.2 158.9l4.9 -8.4l4.9 8.4zM427.9 164.5l4.9 -8.4l4.9 8.4zM432.5 170.1l4.9 -8.4l4.9 8.4zM437.2 175.7l4.9 -8.4l4.9 8.4zM441.8 181.2l4.9 -8.4l4.9 8.4zM446.5 186.6l4.9 -8.4l4.9 8.4zM451.2 192.0l4.9 -8.4l4.9 8.4zM455.8 197.3l4.9 -8.4l4.9 8.4zM460.5 202.6l4.9 -8.4l4.9 8.4zM465.1 207.7l4.9 -8.4l4.9 8.4zM469.8 212.8l4.9 -8.4l4.9 8.4zM474.5 217.8l4.9 -8.4l4.9 8.4zM479.1 222.8l4.9 -8.4l4.9 8.4zM483.8 227.6l4.9 -8.4l4.9 8.4zM488.4 232.4l4.9 -8.4l4.9 8.4zM493.1 237.0l4.9 -8.4l4.9 8.4zM497.7 241.6l4.9 -8.4l4.9 8.4zM502.4 246.1l4.9 -8.4l4.9 8.4zM507.1 250.5l4.9 -8.4l4.9 8.4zM511.7 254.8l4.9 -8.4l4.9 8.4zM516.4 259.0l4.9 -8.4l4.9 8.4zM521.0 263.2l4.9 -8.4l4.9 8.4zM525.7 267.3l4.9 -8.4l4.9 8.4zM530.4 271.3l4.9 -8.4l4.9 8.4zM535.0 275.2l4.9 -8.4l4.9 8.4zM539.7 279.1l4.9 -8.4l4.9 8.4zM544.3 282.9l4.9 -8.4l4.9 8.4zM549.0 286.6l4.9 -8.4l4.9 8.4zM553.7 290.3l4.9 -8.4l4.9 8.4zM558.3 294.0l4.9 -8.4l4.9 8.4zM563.0 297.5l4.9 -8.4l4.9 8.4zM567.6 301.1l4.9 -8.4l4.9 8.4zM572.3 304.6l4.9 -8.4l4.9 8.4zM577.0 308.0l4.9 -8.4l4.9 8.4zM581.6 311.4l4.9 -8.4l4.9 8.4zM586.3 314.8l4.9 -8.4l4.9 8.4zM590.9 318.1l4.9 -8.4l4.9 8.4zM595.6 321.4l4.9 -8.4l4.9 8.4zM600.3 324.7l4.9 -8.4l4.9 8.4zM604.9 327.9l4.9 -8.4l4.9 8.4zM609.6 331.1l4.9 -8.4l4.9 8.4zM614.2 334.3l4.9 -8.4l4.9 8.4zM618.9 337.5l4.9 -8.4l4.9 8.4zM623.6 340.6l4.9 -8.4l4.9 8.4zM628.2 343.8l4.9 -8.4l4.9 8.4zM632.9 346.9l4.9 -8.4l4.9 8.4zM637.5 350.0l4.9 -8.4l4.9 8.4zM642.2 353.1l4.9 -8.4l4.9 8.4zM646.9 356.1l4.9 -8.4l4.9 8.4zM651.5 359.2l4.9 -8.4l4.9 8.4zM656.2 362.2l4.9 -8.4l4.9 8.4zM660.8 365.3l4.9 -8.4l4.9 8.4zM665.5 368.3l4.9 -8.4l4.9 8.4zM670.2 371.3l4.9 -8.4l4.9 8.4zM674.8 374.3l4.9 -8.4l4.9 8.4zM679.5 377.3l4.9 -8.4l4.9 8.4zM684.1 380.3l4.9 -8.4l4.9 8.4zM688.8 383.3l4.9 -8.4l4.9 8.4zM693.4 386.3l4.9 -8.4l4.9 8.4zM698.1 389.3l4.9 -8.4l4.9 8.4zM702.8 392.2l4.9 -8.4l4.9 8.4zM707.4 395.2l4.9 -8.4l4.9 8.4zM712.1 398.2l4.9 -8.4l4.9 8.4zM716.7 401.1l4.9 -8.4l4.9 8.4zM721.4 404.1l4.9 -8.4l4.9 8.4zM726.1 407.0l4.9 -8.4l4.9 8.4zM730.7 410.0l4.9 -8.4l4.9 8.4zM735.4 412.9l4.9 -8.4l4.9 8.4zM740.0 415.9l4.9 -8.4l4.9 8.4zM744.7 418.8l4.9 -8.4l4.9 8.4zM749.4 421.8l4.9 -8.4l4.9 8.4zM754.0 424.7l4.9 -8.4l4.9 8.4zM758.7 427.7l4.9 -8.4l4.9 8.4zM763.3 430.6l4.9 -8.4l4.9 8.4z" stroke="#5b9bd5" stroke-width="1.4" fill="none"/>
<path d="M201.0 131.9 202.2 129.1 203.4 126.3 204.6 123.6 205.9 120.9 207.1 118.4 208.3 116.0 209.5 113.7 210.7 111.4 211.9 109.3 213.1 107.2 214.3 105.3 215.5 103.5 216.7 101.7 217.9 100.1 219.1 98.6 220.4 97.1 221.6 95.7 222.8 94.4 224.0 93.1 225.2 92.0 226.4 90.9 227.6 90.0 228.8 89.2 230.0 88.4 231.2 87.7 232.4 86.9 233.6 86.2 234.9 85.5 236.1 84.8 237.3 84.1 238.5 83.5 239.7 82.9 240.9 82.3 242.1 81.8 243.3 81.4 244.5 81.0 245.7 80.7 246.9 80.4 248.1 80.3 249.4 80.2 250.6 80.2 251.8 80.3 253.0 80.5 254.2 80.8 255.4 81.1 256.6 81.5 257.8 82.0 259.0 82.5 260.2 83.1 261.4 83.7 262.6 84.3 263.9 85.0 265.1 85.7 266.3 86.4 267.5 87.1 268.7 87.8 269.9 88.6 271.1 89.3 272.3 90.0 273.5 90.8 274.7 91.6 275.9 92.5 277.1 93.5 278.4 94.5 279.6 95.6 280.8 96.7 282.0 97.8 283.2 99.0 284.4 100.4 285.6 101.8 286.8 103.3 288.0 104.9 289.2 106.4 290.4 108.0 291.6 109.6 292.9 111.1 294.1 112.7 295.3 114.2 296.5 115.8 297.7 117.4 298.9 119.0 300.1 120.6 301.3 122.2 302.5 123.8 303.7 125.5 304.9 127.1 306.1 128.7 307.4 130.4 308.6 132.0 309.8 133.7 311.0 135.3 312.2 136.9 313.4 138.6 314.6 140.2 315.8 141.8 317.0 143.5 318.2 145.1 319.4 146.7 320.6 148.3 321.9 149.9 323.1 151.4 324.3 153.0 325.5 154.5 326.7 156.1 327.9 157.6 329.1 159.1 330.3 160.7 331.5 162.2 332.7 163.7 333.9 165.2 335.1 166.8 336.4 168.3 337.6 169.8 338.8 171.3 340.0 172.8 341.2 174.3 342.4 175.8 343.6 177.3 344.8 178.8 346.0 180.3 347.2 181.7 348.4 183.2 349.6 184.7 350.9 186.2 352.1 187.7 353.3 189.1 354.5 190.6 355.7 192.1 356.9 193.5 358.1 195.0 359.3 196.5 360.5 197.9 361.7 199.4 362.9 200.9 364.1 202.3 365.4 203.8 366.6 205.2 367.8 206.7 369.0 208.1 370.2 209.6 371.4 211.1 372.6 212.5 373.8 214.0 375.0 215.4 376.2 216.9 377.4 218.3 378.6 219.8 379.9 221.2 381.1 222.7 382.3 224.1 383.5 225.6 384.7 227.0 385.9 228.5 387.1 229.9 388.3 231.4 389.5 232.8 390.7 234.3 391.9 235.8 393.1 237.2 394.4 238.7 395.6 240.1 396.8 241.6 398.0 243.1 399.2 244.5 400.4 246.0 401.6 247.5 402.8 249.0 404.0 250.5 405.2 252.1 406.4 253.6 407.6 255.1 408.9 256.6 410.1 258.1 411.3 259.7 412.5 261.2 413.7 262.7 414.9 264.2 416.1 265.7 417.3 267.3 418.5 268.8 419.7 270.3 420.9 271.8 422.1 273.3 423.4 274.7 424.6 276.2 425.8 277.7 427.0 279.1 428.2 280.6 429.4 282.0 430.6 283.4 431.8 284.8 433.0 286.2 434.2 287.6 435.4 289.0 436.6 290.3 437.9 291.6 439.1 292.9 440.3 294.2 441.5 295.5 442.7 296.7 443.9 298.0 445.1 299.2 446.3 300.4 447.5 301.6 448.7 302.8 449.9 303.9 451.1 305.1 452.4 306.3 453.6 307.4 454.8 308.6 456.0 309.7 457.2 310.8 458.4 312.0 459.6 313.1 460.8 314.2 462.0 315.3 463.2 316.4 464.4 317.5 465.7 318.5 466.9 319.6 468.1 320.7 469.3 321.7 470.5 322.7 471.7 323.8 472.9 324.8 474.1 325.8 475.3 326.8 476.5 327.8 477.7 328.8 478.9 329.7 480.2 330.7 481.4 331.6 482.6 332.6 483.8 333.5 485.0 334.4 486.2 335.3 487.4 336.2 488.6 337.1 489.8 338.0 491.0 338.8 492.2 339.7 493.4 340.5 494.7 341.4 495.9 342.2 497.1 343.0 498.3 343.8 499.5 344.6 500.7 345.4 501.9 346.2 503.1 347.0 504.3 347.8 505.5 348.6 506.7 349.3 507.9 350.1 509.2 350.8 510.4 351.6 511.6 352.3 512.8 353.0 514.0 353.7 515.2 354.5 516.4 355.2 517.6 355.9 518.8 356.6 520.0 357.3 521.2 358.0 522.4 358.6 523.7 359.3 524.9 360.0 526.1 360.7 527.3 361.3 528.5 362.0 529.7 362.7 530.9 363.3 532.1 364.0 533.3 364.6 534.5 365.3 535.7 365.9 536.9 366.5 538.2 367.2 539.4 367.8 540.6 368.4 541.8 369.1 543.0 369.7 544.2 370.3 545.4 370.9 546.6 371.5 547.8 372.1 549.0 372.7 550.2 373.2 551.4 373.8 552.7 374.4 553.9 375.0 555.1 375.5 556.3 376.1 557.5 376.7 558.7 377.2 559.9 377.8 561.1 378.3 562.3 378.9 563.5 379.4 564.7 380.0 565.9 380.5 567.2 381.0 568.4 381.6 569.6 382.1 570.8 382.7 572.0 383.2 573.2 383.7 574.4 384.3 575.6 384.8 576.8 385.4 578.0 385.9 579.2 386.5 580.4 387.0 581.7 387.6 582.9 388.1 584.1 388.7 585.3 389.2 586.5 389.8 587.7 390.4 588.9 390.9 590.1 391.5 591.3 392.1 592.5 392.7 593.7 393.2 594.9 393.8 596.2 394.4 597.4 395.0 598.6 395.6 599.8 396.2 601.0 396.7 602.2 397.3 603.4 397.9 604.6 398.5 605.8 399.1 607.0 399.7 608.2 400.3 609.4 400.8 610.7 401.4 611.9 402.0 613.1 402.6 614.3 403.1 615.5 403.7 616.7 404.3 617.9 404.9 619.1 405.4 620.3 406.0 621.5 406.5 622.7 407.1 623.9 407.6 625.2 408.2 626.4 408.7 627.6 409.3 628.8 409.8 630.0 410.3 631.2 410.8 632.4 411.3 633.6 411.8 634.8 412.3 636.0 412.8 637.2 413.3 638.4 413.8 639.7 414.3 640.9 414.8 642.1 415.2 643.3 415.7 644.5 416.2 645.7 416.6 646.9 417.1 648.1 417.5 649.3 418.0 650.5 418.4 651.7 418.9 652.9 419.3 654.2 419.7 655.4 420.2 656.6 420.6 657.8 421.0" stroke="#7f7f7f" stroke-width="1.9" fill="none" stroke-linejoin="round"/>
<path d="M203.8 127.1l-8.4 4.9l8.4 4.9zM208.5 116.5l-8.4 4.9l8.4 4.9zM213.1 107.2l-8.4 4.9l8.4 4.9zM217.8 99.4l-8.4 4.9l8.4 4.9zM222.5 93.1l-8.4 4.9l8.4 4.9zM227.1 87.9l-8.4 4.9l8.4 4.9zM231.8 84.2l-8.4 4.9l8.4 4.9zM236.5 81.3l-8.4 4.9l8.4 4.9zM241.1 78.7l-8.4 4.9l8.4 4.9zM245.8 76.6l-8.4 4.9l8.4 4.9zM250.4 75.5l-8.4 4.9l8.4 4.9zM255.1 75.5l-8.4 4.9l8.4 4.9zM259.8 76.8l-8.4 4.9l8.4 4.9zM264.4 78.9l-8.4 4.9l8.4 4.9zM269.1 81.6l-8.4 4.9l8.4 4.9zM273.7 84.3l-8.4 4.9l8.4 4.9zM278.4 87.4l-8.4 4.9l8.4 4.9zM283.1 91.3l-8.4 4.9l8.4 4.9zM287.7 96.1l-8.4 4.9l8.4 4.9zM292.4 102.0l-8.4 4.9l8.4 4.9zM297.0 108.0l-8.4 4.9l8.4 4.9zM301.7 114.1l-8.4 4.9l8.4 4.9zM306.4 120.4l-8.4 4.9l8.4 4.9zM311.0 126.7l-8.4 4.9l8.4 4.9zM315.7 133.0l-8.4 4.9l8.4 4.9zM320.3 139.3l-8.4 4.9l8.4 4.9zM325.0 145.5l-8.4 4.9l8.4 4.9zM329.7 151.4l-8.4 4.9l8.4 4.9zM334.3 157.3l-8.4 4.9l8.4 4.9zM339.0 163.2l-8.4 4.9l8.4 4.9zM343.7 169.0l-8.4 4.9l8.4 4.9zM348.3 174.8l-8.4 4.9l8.4 4.9zM353.0 180.5l-8.4 4.9l8.4 4.9zM357.6 186.2l-8.4 4.9l8.4 4.9zM362.3 191.8l-8.4 4.9l8.4 4.9zM367.0 197.5l-8.4 4.9l8.4 4.9zM371.6 203.1l-8.4 4.9l8.4 4.9zM376.3 208.7l-8.4 4.9l8.4 4.9zM380.9 214.3l-8.4 4.9l8.4 4.9zM385.6 219.9l-8.4 4.9l8.4 4.9zM390.3 225.5l-8.4 4.9l8.4 4.9zM394.9 231.1l-8.4 4.9l8.4 4.9zM399.6 236.7l-8.4 4.9l8.4 4.9zM404.2 242.5l-8.4 4.9l8.4 4.9zM408.9 248.3l-8.4 4.9l8.4 4.9zM413.6 254.2l-8.4 4.9l8.4 4.9zM418.2 260.0l-8.4 4.9l8.4 4.9zM422.9 265.8l-8.4 4.9l8.4 4.9zM427.5 271.6l-8.4 4.9l8.4 4.9zM432.2 277.2l-8.4 4.9l8.4 4.9zM436.9 282.6l-8.4 4.9l8.4 4.9zM441.5 287.7l-8.4 4.9l8.4 4.9zM446.2 292.6l-8.4 4.9l8.4 4.9zM450.9 297.2l-8.4 4.9l8.4 4.9zM455.5 301.7l-8.4 4.9l8.4 4.9zM460.2 306.2l-8.4 4.9l8.4 4.9zM464.8 310.4l-8.4 4.9l8.4 4.9zM469.5 314.6l-8.4 4.9l8.4 4.9zM474.2 318.6l-8.4 4.9l8.4 4.9zM478.8 322.5l-8.4 4.9l8.4 4.9zM483.5 326.2l-8.4 4.9l8.4 4.9zM488.1 329.8l-8.4 4.9l8.4 4.9zM492.8 333.2l-8.4 4.9l8.4 4.9zM497.5 336.5l-8.4 4.9l8.4 4.9zM502.1 339.7l-8.4 4.9l8.4 4.9zM506.8 342.7l-8.4 4.9l8.4 4.9zM511.4 345.6l-8.4 4.9l8.4 4.9zM516.1 348.5l-8.4 4.9l8.4 4.9zM520.8 351.2l-8.4 4.9l8.4 4.9zM525.4 353.9l-8.4 4.9l8.4 4.9zM530.1 356.5l-8.4 4.9l8.4 4.9zM534.7 359.0l-8.4 4.9l8.4 4.9zM539.4 361.5l-8.4 4.9l8.4 4.9zM544.1 363.9l-8.4 4.9l8.4 4.9zM548.7 366.3l-8.4 4.9l8.4 4.9zM553.4 368.6l-8.4 4.9l8.4 4.9zM558.0 370.8l-8.4 4.9l8.4 4.9zM562.7 372.9l-8.4 4.9l8.4 4.9zM567.4 375.0l-8.4 4.9l8.4 4.9zM572.0 377.1l-8.4 4.9l8.4 4.9zM576.7 379.2l-8.4 4.9l8.4 4.9zM581.4 381.3l-8.4 4.9l8.4 4.9zM586.0 383.4l-8.4 4.9l8.4 4.9zM590.7 385.6l-8.4 4.9l8.4 4.9zM595.3 387.8l-8.4 4.9l8.4 4.9zM600.0 390.0l-8.4 4.9l8.4 4.9zM604.7 392.3l-8.4 4.9l8.4 4.9zM609.3 394.6l-8.4 4.9l8.4 4.9zM614.0 396.8l-8.4 4.9l8.4 4.9zM618.6 399.0l-8.4 4.9l8.4 4.9zM623.3 401.2l-8.4 4.9l8.4 4.9zM628.0 403.3l-8.4 4.9l8.4 4.9zM632.6 405.4l-8.4 4.9l8.4 4.9zM637.3 407.3l-8.4 4.9l8.4 4.9zM641.9 409.2l-8.4 4.9l8.4 4.9zM646.6 411.0l-8.4 4.9l8.4 4.9zM651.3 412.8l-8.4 4.9l8.4 4.9zM655.9 414.5l-8.4 4.9l8.4 4.9zM660.6 416.1l-8.4 4.9l8.4 4.9z" stroke="#7f7f7f" stroke-width="1.4" fill="none"/>
<path d="M204.6 122.1 205.8 123.6 207.1 125.0 208.3 126.4 209.5 127.8 210.7 129.3 211.9 130.7 213.1 132.1 214.3 133.5 215.5 135.0 216.7 136.4 217.9 137.8 219.1 139.3 220.3 140.7 221.6 142.1 222.8 143.6 224.0 145.0 225.2 146.4 226.4 147.9 227.6 149.3 228.8 150.7 230.0 152.2 231.2 153.6 232.4 155.1 233.6 156.5 234.8 158.0 236.1 159.4 237.3 160.9 238.5 162.3 239.7 163.8 240.9 165.2 242.1 166.7 243.3 168.1 244.5 169.6 245.7 171.0 246.9 172.5 248.1 174.0 249.4 175.4 250.6 176.9 251.8 178.3 253.0 179.8 254.2 181.3 255.4 182.8 256.6 184.3 257.8 185.8 259.0 187.4 260.2 188.9 261.4 190.4 262.6 191.9 263.9 193.5 265.1 195.0 266.3 196.6 267.5 198.1 268.7 199.6 269.9 201.2 271.1 202.7 272.3 204.3 273.5 205.8 274.7 207.3 275.9 208.9 277.1 210.4 278.4 211.9 279.6 213.5 280.8 215.0 282.0 216.5 283.2 218.0 284.4 219.5 285.6 221.0 286.8 222.4 288.0 223.9 289.2 225.3 290.4 226.8 291.6 228.2 292.9 229.6 294.1 231.0 295.3 232.4 296.5 233.8 297.7 235.2 298.9 236.5 300.1 237.8 301.3 239.2 302.5 240.5 303.7 241.7 304.9 243.0 306.1 244.3 307.4 245.6 308.6 246.8 309.8 248.1 311.0 249.3 312.2 250.5 313.4 251.8 314.6 253.0 315.8 254.2 317.0 255.4 318.2 256.6 319.4 257.8 320.6 258.9 321.9 260.1 323.1 261.3 324.3 262.5 325.5 263.6 326.7 264.8 327.9 265.9 329.1 267.1 330.3 268.2 331.5 269.3 332.7 270.5 333.9 271.6 335.2 272.7 336.4 273.9 337.6 275.0 338.8 276.1 340.0 277.2 341.2 278.3 342.4 279.5 343.6 280.6 344.8 281.7 346.0 282.8 347.2 283.9 348.4 285.0 349.7 286.1 350.9 287.2 352.1 288.4 353.3 289.5 354.5 290.6 355.7 291.7 356.9 292.8 358.1 293.9 359.3 295.1 360.5 296.2 361.7 297.3 362.9 298.4 364.2 299.6 365.4 300.7 366.6 301.8 367.8 303.0 369.0 304.1 370.2 305.3 371.4 306.4 372.6 307.5 373.8 308.7 375.0 309.8 376.2 311.0 377.4 312.1 378.7 313.3 379.9 314.4 381.1 315.6 382.3 316.7 383.5 317.8 384.7 319.0 385.9 320.1 387.1 321.2 388.3 322.4 389.5 323.5 390.7 324.6 391.9 325.8 393.2 326.9 394.4 328.0 395.6 329.1 396.8 330.2 398.0 331.3 399.2 332.4 400.4 333.5 401.6 334.6 402.8 335.7 404.0 336.7 405.2 337.8 406.4 338.9 407.7 339.9 408.9 341.0 410.1 342.0 411.3 343.0 412.5 344.1 413.7 345.1 414.9 346.1 416.1 347.1 417.3 348.1 418.5 349.1 419.7 350.1 420.9 351.1 422.2 352.1 423.4 353.1 424.6 354.1 425.8 355.1 427.0 356.0 428.2 357.0 429.4 358.0 430.6 359.0 431.8 360.0 433.0 361.0 434.2 361.9 435.5 362.9 436.7 363.8 437.9 364.8 439.1 365.7 440.3 366.7 441.5 367.6 442.7 368.5 443.9 369.5 445.1 370.4 446.3 371.3 447.5 372.2 448.7 373.1 450.0 373.9 451.2 374.8 452.4 375.7 453.6 376.5 454.8 377.4 456.0 378.2 457.2 379.0 458.4 379.8 459.6 380.6 460.8 381.4 462.0 382.2 463.2 382.9 464.5 383.7 465.7 384.4 466.9 385.1 468.1 385.9 469.3 386.6 470.5 387.3 471.7 388.0 472.9 388.7 474.1 389.3 475.3 390.0 476.5 390.7 477.7 391.3 479.0 392.0 480.2 392.7 481.4 393.3 482.6 393.9 483.8 394.6 485.0 395.2 486.2 395.8 487.4 396.5 488.6 397.1 489.8 397.7 491.0 398.3 492.2 398.9 493.5 399.5 494.7 400.0 495.9 400.6 497.1 401.2 498.3 401.8 499.5 402.3 500.7 402.9 501.9 403.4 503.1 404.0 504.3 404.5 505.5 405.1 506.7 405.6 508.0 406.1 509.2 406.7 510.4 407.2 511.6 407.7 512.8 408.2 514.0 408.7 515.2 409.2 516.4 409.7 517.6 410.2 518.8 410.7 520.0 411.2 521.2 411.7 522.5 412.2 523.7 412.6 524.9 413.1 526.1 413.6 527.3 414.0 528.5 414.5 529.7 414.9 530.9 415.4 532.1 415.8 533.3 416.2 534.5 416.7 535.8 417.1 537.0 417.5 538.2 418.0 539.4 418.4 540.6 418.8 541.8 419.2 543.0 419.6 544.2 420.0 545.4 420.4 546.6 420.9 547.8 421.3 549.0 421.7 550.3 422.1 551.5 422.5 552.7 422.8 553.9 423.2 555.1 423.6 556.3 424.0 557.5 424.4 558.7 424.8 559.9 425.2 561.1 425.6 562.3 426.0 563.5 426.4 564.8 426.7 566.0 427.1 567.2 427.5 568.4 427.9 569.6 428.3 570.8 428.7 572.0 429.1 573.2 429.4 574.4 429.8 575.6 430.2 576.8 430.6 578.0 431.0 579.3 431.4 580.5 431.7 581.7 432.1 582.9 432.5 584.1 432.9 585.3 433.2 586.5 433.6 587.7 434.0 588.9 434.4 590.1 434.7 591.3 435.1 592.5 435.5 593.8 435.9 595.0 436.2 596.2 436.6 597.4 437.0 598.6 437.3 599.8 437.7 601.0 438.0 602.2 438.4 603.4 438.8 604.6 439.1 605.8 439.5 607.0 439.8 608.3 440.2 609.5 440.5 610.7 440.9 611.9 441.2 613.1 441.6 614.3 441.9 615.5 442.3 616.7 442.6 617.9 443.0 619.1 443.3 620.3 443.7 621.6 444.0 622.8 444.4 624.0 444.7 625.2 445.0 626.4 445.4 627.6 445.7 628.8 446.0 630.0 446.4 631.2 446.7 632.4 447.0 633.6 447.4 634.8 447.7 636.1 448.0 637.3 448.3 638.5 448.7 639.7 449.0 640.9 449.3" stroke="#bcd600" stroke-width="1.9" fill="none" stroke-linejoin="round"/>
<path d="M204.6 117.8l4.3 4.3l-4.3 4.3l-4.3 -4.3zM209.3 123.3l4.3 4.3l-4.3 4.3l-4.3 -4.3zM213.9 128.8l4.3 4.3l-4.3 4.3l-4.3 -4.3zM218.6 134.3l4.3 4.3l-4.3 4.3l-4.3 -4.3zM223.2 139.8l4.3 4.3l-4.3 4.3l-4.3 -4.3zM227.9 145.3l4.3 4.3l-4.3 4.3l-4.3 -4.3zM232.5 150.9l4.3 4.3l-4.3 4.3l-4.3 -4.3zM237.2 156.4l4.3 4.3l-4.3 4.3l-4.3 -4.3zM241.8 162.0l4.3 4.3l-4.3 4.3l-4.3 -4.3zM246.5 167.6l4.3 4.3l-4.3 4.3l-4.3 -4.3zM251.1 173.2l4.3 4.3l-4.3 4.3l-4.3 -4.3zM255.7 179.0l4.3 4.3l-4.3 4.3l-4.3 -4.3zM260.4 184.8l4.3 4.3l-4.3 4.3l-4.3 -4.3zM265.0 190.7l4.3 4.3l-4.3 4.3l-4.3 -4.3zM269.7 196.6l4.3 4.3l-4.3 4.3l-4.3 -4.3zM274.3 202.5l4.3 4.3l-4.3 4.3l-4.3 -4.3zM279.0 208.4l4.3 4.3l-4.3 4.3l-4.3 -4.3zM283.6 214.2l4.3 4.3l-4.3 4.3l-4.3 -4.3zM288.3 219.9l4.3 4.3l-4.3 4.3l-4.3 -4.3zM292.9 225.4l4.3 4.3l-4.3 4.3l-4.3 -4.3zM297.6 230.7l4.3 4.3l-4.3 4.3l-4.3 -4.3zM302.2 235.8l4.3 4.3l-4.3 4.3l-4.3 -4.3zM306.9 240.7l4.3 4.3l-4.3 4.3l-4.3 -4.3zM311.5 245.5l4.3 4.3l-4.3 4.3l-4.3 -4.3zM316.1 250.2l4.3 4.3l-4.3 4.3l-4.3 -4.3zM320.8 254.8l4.3 4.3l-4.3 4.3l-4.3 -4.3zM325.4 259.3l4.3 4.3l-4.3 4.3l-4.3 -4.3zM330.1 263.7l4.3 4.3l-4.3 4.3l-4.3 -4.3zM334.7 268.0l4.3 4.3l-4.3 4.3l-4.3 -4.3zM339.4 272.4l4.3 4.3l-4.3 4.3l-4.3 -4.3zM344.0 276.7l4.3 4.3l-4.3 4.3l-4.3 -4.3zM348.7 280.9l4.3 4.3l-4.3 4.3l-4.3 -4.3zM353.3 285.2l4.3 4.3l-4.3 4.3l-4.3 -4.3zM358.0 289.5l4.3 4.3l-4.3 4.3l-4.3 -4.3zM362.6 293.8l4.3 4.3l-4.3 4.3l-4.3 -4.3zM367.3 298.2l4.3 4.3l-4.3 4.3l-4.3 -4.3zM371.9 302.6l4.3 4.3l-4.3 4.3l-4.3 -4.3zM376.5 307.0l4.3 4.3l-4.3 4.3l-4.3 -4.3zM381.2 311.4l4.3 4.3l-4.3 4.3l-4.3 -4.3zM385.8 315.7l4.3 4.3l-4.3 4.3l-4.3 -4.3zM390.5 320.1l4.3 4.3l-4.3 4.3l-4.3 -4.3zM395.1 324.4l4.3 4.3l-4.3 4.3l-4.3 -4.3zM399.8 328.6l4.3 4.3l-4.3 4.3l-4.3 -4.3zM404.4 332.8l4.3 4.3l-4.3 4.3l-4.3 -4.3zM409.1 336.8l4.3 4.3l-4.3 4.3l-4.3 -4.3zM413.7 340.8l4.3 4.3l-4.3 4.3l-4.3 -4.3zM418.4 344.6l4.3 4.3l-4.3 4.3l-4.3 -4.3zM423.0 348.5l4.3 4.3l-4.3 4.3l-4.3 -4.3zM427.6 352.3l4.3 4.3l-4.3 4.3l-4.3 -4.3zM432.3 356.1l4.3 4.3l-4.3 4.3l-4.3 -4.3zM436.9 359.8l4.3 4.3l-4.3 4.3l-4.3 -4.3zM441.6 363.4l4.3 4.3l-4.3 4.3l-4.3 -4.3zM446.2 366.9l4.3 4.3l-4.3 4.3l-4.3 -4.3zM450.9 370.3l4.3 4.3l-4.3 4.3l-4.3 -4.3zM455.5 373.6l4.3 4.3l-4.3 4.3l-4.3 -4.3zM460.2 376.7l4.3 4.3l-4.3 4.3l-4.3 -4.3zM464.8 379.6l4.3 4.3l-4.3 4.3l-4.3 -4.3zM469.5 382.4l4.3 4.3l-4.3 4.3l-4.3 -4.3zM474.1 385.0l4.3 4.3l-4.3 4.3l-4.3 -4.3zM478.8 387.6l4.3 4.3l-4.3 4.3l-4.3 -4.3zM483.4 390.1l4.3 4.3l-4.3 4.3l-4.3 -4.3zM488.0 392.5l4.3 4.3l-4.3 4.3l-4.3 -4.3zM492.7 394.8l4.3 4.3l-4.3 4.3l-4.3 -4.3zM497.3 397.0l4.3 4.3l-4.3 4.3l-4.3 -4.3zM502.0 399.2l4.3 4.3l-4.3 4.3l-4.3 -4.3zM506.6 401.3l4.3 4.3l-4.3 4.3l-4.3 -4.3zM511.3 403.3l4.3 4.3l-4.3 4.3l-4.3 -4.3zM515.9 405.2l4.3 4.3l-4.3 4.3l-4.3 -4.3zM520.6 407.1l4.3 4.3l-4.3 4.3l-4.3 -4.3zM525.2 408.9l4.3 4.3l-4.3 4.3l-4.3 -4.3zM529.9 410.7l4.3 4.3l-4.3 4.3l-4.3 -4.3zM534.5 412.4l4.3 4.3l-4.3 4.3l-4.3 -4.3zM539.2 414.0l4.3 4.3l-4.3 4.3l-4.3 -4.3zM543.8 415.6l4.3 4.3l-4.3 4.3l-4.3 -4.3zM548.4 417.2l4.3 4.3l-4.3 4.3l-4.3 -4.3zM553.1 418.7l4.3 4.3l-4.3 4.3l-4.3 -4.3zM557.7 420.2l4.3 4.3l-4.3 4.3l-4.3 -4.3zM562.4 421.7l4.3 4.3l-4.3 4.3l-4.3 -4.3zM567.0 423.2l4.3 4.3l-4.3 4.3l-4.3 -4.3zM571.7 424.7l4.3 4.3l-4.3 4.3l-4.3 -4.3zM576.3 426.1l4.3 4.3l-4.3 4.3l-4.3 -4.3zM581.0 427.6l4.3 4.3l-4.3 4.3l-4.3 -4.3zM585.6 429.0l4.3 4.3l-4.3 4.3l-4.3 -4.3zM590.3 430.5l4.3 4.3l-4.3 4.3l-4.3 -4.3zM594.9 431.9l4.3 4.3l-4.3 4.3l-4.3 -4.3zM599.6 433.3l4.3 4.3l-4.3 4.3l-4.3 -4.3zM604.2 434.7l4.3 4.3l-4.3 4.3l-4.3 -4.3zM608.8 436.1l4.3 4.3l-4.3 4.3l-4.3 -4.3zM613.5 437.4l4.3 4.3l-4.3 4.3l-4.3 -4.3zM618.1 438.7l4.3 4.3l-4.3 4.3l-4.3 -4.3zM622.8 440.1l4.3 4.3l-4.3 4.3l-4.3 -4.3zM627.4 441.4l4.3 4.3l-4.3 4.3l-4.3 -4.3zM632.1 442.6l4.3 4.3l-4.3 4.3l-4.3 -4.3zM636.7 443.9l4.3 4.3l-4.3 4.3l-4.3 -4.3z" stroke="#bcd600" stroke-width="1.4" fill="none"/>
<path d="M258.3 261.7 259.5 262.6 260.8 263.5 262.0 264.5 263.2 265.4 264.4 266.4 265.6 267.3 266.8 268.2 268.0 269.2 269.2 270.1 270.4 271.1 271.6 272.0 272.8 272.9 274.0 273.9 275.2 274.8 276.4 275.7 277.6 276.7 278.9 277.6 280.1 278.5 281.3 279.5 282.5 280.4 283.7 281.3 284.9 282.3 286.1 283.2 287.3 284.1 288.5 285.0 289.7 286.0 290.9 286.9 292.1 287.8 293.3 288.7 294.5 289.7 295.7 290.6 297.0 291.5 298.2 292.4 299.4 293.4 300.6 294.3 301.8 295.2 303.0 296.1 304.2 297.1 305.4 298.0 306.6 298.9 307.8 299.8 309.0 300.7 310.2 301.7 311.4 302.6 312.6 303.5 313.9 304.4 315.1 305.3 316.3 306.2 317.5 307.2 318.7 308.1 319.9 309.0 321.1 309.9 322.3 310.8 323.5 311.8 324.7 312.7 325.9 313.6 327.1 314.5 328.3 315.5 329.5 316.4 330.7 317.3 332.0 318.2 333.2 319.1 334.4 320.1 335.6 321.0 336.8 321.9 338.0 322.8 339.2 323.7 340.4 324.6 341.6 325.5 342.8 326.4 344.0 327.4 345.2 328.3 346.4 329.2 347.6 330.1 348.8 331.0 350.1 331.9 351.3 332.8 352.5 333.6 353.7 334.5 354.9 335.4 356.1 336.3 357.3 337.2 358.5 338.0 359.7 338.9 360.9 339.8 362.1 340.6 363.3 341.5 364.5 342.3 365.7 343.2 366.9 344.1 368.2 344.9 369.4 345.8 370.6 346.6 371.8 347.5 373.0 348.4 374.2 349.2 375.4 350.1 376.6 351.0 377.8 351.8 379.0 352.7 380.2 353.5 381.4 354.4 382.6 355.2 383.8 356.1 385.1 356.9 386.3 357.8 387.5 358.6 388.7 359.5 389.9 360.3 391.1 361.1 392.3 362.0 393.5 362.8 394.7 363.6 395.9 364.4 397.1 365.2 398.3 366.0 399.5 366.8 400.7 367.6 401.9 368.3 403.2 369.1 404.4 369.9 405.6 370.6 406.8 371.3 408.0 372.1 409.2 372.8 410.4 373.5 411.6 374.2 412.8 374.9 414.0 375.5 415.2 376.2 416.4 376.9 417.6 377.5 418.8 378.1 420.0 378.8 421.3 379.4 422.5 380.1 423.7 380.7 424.9 381.3 426.1 381.9 427.3 382.5 428.5 383.1 429.7 383.8 430.9 384.4 432.1 385.0 433.3 385.5 434.5 386.1 435.7 386.7 436.9 387.3 438.1 387.9 439.4 388.4 440.6 389.0 441.8 389.5 443.0 390.1 444.2 390.6 445.4 391.2 446.6 391.7 447.8 392.2 449.0 392.7 450.2 393.3 451.4 393.8 452.6 394.3 453.8 394.8 455.0 395.2 456.2 395.7 457.5 396.2 458.7 396.7 459.9 397.1 461.1 397.6 462.3 398.1 463.5 398.5 464.7 398.9 465.9 399.4 467.1 399.8 468.3 400.2 469.5 400.6 470.7 401.0 471.9 401.4 473.1 401.8 474.4 402.2 475.6 402.6 476.8 402.9 478.0 403.3 479.2 403.7 480.4 404.0 481.6 404.4 482.8 404.7 484.0 405.1 485.2 405.4 486.4 405.7 487.6 406.1 488.8 406.4 490.0 406.7 491.2 407.1 492.5 407.4 493.7 407.7 494.9 408.0 496.1 408.4 497.3 408.7 498.5 409.0 499.7 409.3 500.9 409.7 502.1 410.0 503.3 410.3 504.5 410.6 505.7 411.0 506.9 411.3 508.1 411.6 509.3 411.9 510.6 412.3 511.8 412.6 513.0 413.0 514.2 413.3 515.4 413.6 516.6 414.0 517.8 414.3 519.0 414.7 520.2 415.0 521.4 415.4 522.6 415.8 523.8 416.1 525.0 416.5 526.2 416.8 527.4 417.2 528.7 417.5 529.9 417.9 531.1 418.2 532.3 418.6 533.5 418.9 534.7 419.3 535.9 419.7 537.1 420.0 538.3 420.4 539.5 420.7 540.7 421.1 541.9 421.4 543.1 421.8 544.3 422.1 545.6 422.5 546.8 422.9 548.0 423.2 549.2 423.6 550.4 423.9 551.6 424.3 552.8 424.6 554.0 425.0 555.2 425.4 556.4 425.7 557.6 426.1 558.8 426.4 560.0 426.8 561.2 427.1 562.4 427.5 563.7 427.9 564.9 428.2 566.1 428.6 567.3 428.9 568.5 429.3 569.7 429.7 570.9 430.0 572.1 430.4 573.3 430.7 574.5 431.1 575.7 431.5 576.9 431.8 578.1 432.2 579.3 432.5 580.5 432.9 581.8 433.3 583.0 433.6 584.2 434.0 585.4 434.3 586.6 434.7 587.8 435.1 589.0 435.4 590.2 435.8 591.4 436.1 592.6 436.5 593.8 436.9 595.0 437.2 596.2 437.6 597.4 438.0 598.6 438.3 599.9 438.7 601.1 439.0 602.3 439.4 603.5 439.8 604.7 440.1 605.9 440.5 607.1 440.9 608.3 441.2 609.5 441.6 610.7 442.0 611.9 442.3 613.1 442.7 614.3 443.1 615.5 443.4 616.8 443.8 618.0 444.2 619.2 444.5 620.4 444.9 621.6 445.2 622.8 445.6 624.0 446.0 625.2 446.3 626.4 446.7 627.6 447.1 628.8 447.5 630.0 447.8 631.2 448.2 632.4 448.6 633.6 448.9 634.9 449.3 636.1 449.7 637.3 450.0 638.5 450.4 639.7 450.8 640.9 451.1 642.1 451.5 643.3 451.9" stroke="#a8e0f0" stroke-width="1.9" fill="none" stroke-linejoin="round"/>
<path d="M258.7 262.5l4.5 7.8l4.5 -7.8zM263.3 266.7l4.5 7.8l4.5 -7.8zM268.0 271.8l4.5 7.8l4.5 -7.8zM272.6 275.3l4.5 7.8l4.5 -7.8zM277.3 277.8l4.5 7.8l4.5 -7.8zM281.9 282.3l4.5 7.8l4.5 -7.8zM286.5 285.7l4.5 7.8l4.5 -7.8zM291.2 289.0l4.5 7.8l4.5 -7.8zM295.8 290.4l4.5 7.8l4.5 -7.8zM300.5 294.8l4.5 7.8l4.5 -7.8zM305.1 299.3l4.5 7.8l4.5 -7.8zM309.8 301.3l4.5 7.8l4.5 -7.8zM314.4 306.6l4.5 7.8l4.5 -7.8zM319.1 308.6l4.5 7.8l4.5 -7.8zM323.7 312.5l4.5 7.8l4.5 -7.8zM328.4 315.3l4.5 7.8l4.5 -7.8zM333.0 318.6l4.5 7.8l4.5 -7.8zM337.6 320.9l4.5 7.8l4.5 -7.8zM342.3 330.6l4.5 7.8l4.5 -7.8zM346.9 329.9l4.5 7.8l4.5 -7.8zM351.6 333.2l4.5 7.8l4.5 -7.8zM356.2 335.4l4.5 7.8l4.5 -7.8zM360.9 339.0l4.5 7.8l4.5 -7.8zM365.5 341.9l4.5 7.8l4.5 -7.8zM370.2 345.9l4.5 7.8l4.5 -7.8zM374.8 349.2l4.5 7.8l4.5 -7.8zM379.5 353.7l4.5 7.8l4.5 -7.8zM384.1 356.5l4.5 7.8l4.5 -7.8zM388.8 359.4l4.5 7.8l4.5 -7.8zM393.4 365.0l4.5 7.8l4.5 -7.8zM398.0 364.9l4.5 7.8l4.5 -7.8zM402.7 369.2l4.5 7.8l4.5 -7.8zM407.3 372.3l4.5 7.8l4.5 -7.8zM412.0 375.3l4.5 7.8l4.5 -7.8zM416.6 378.5l4.5 7.8l4.5 -7.8zM421.3 379.0l4.5 7.8l4.5 -7.8zM425.9 382.4l4.5 7.8l4.5 -7.8zM430.6 381.2l4.5 7.8l4.5 -7.8zM435.2 385.9l4.5 7.8l4.5 -7.8zM439.9 387.5l4.5 7.8l4.5 -7.8zM444.5 388.6l4.5 7.8l4.5 -7.8zM449.2 391.8l4.5 7.8l4.5 -7.8zM453.8 393.6l4.5 7.8l4.5 -7.8zM458.4 396.8l4.5 7.8l4.5 -7.8zM463.1 397.7l4.5 7.8l4.5 -7.8zM467.7 400.4l4.5 7.8l4.5 -7.8zM472.4 398.6l4.5 7.8l4.5 -7.8zM477.0 399.0l4.5 7.8l4.5 -7.8zM481.7 403.3l4.5 7.8l4.5 -7.8zM486.3 403.6l4.5 7.8l4.5 -7.8zM491.0 406.8l4.5 7.8l4.5 -7.8zM495.6 405.6l4.5 7.8l4.5 -7.8zM500.3 406.0l4.5 7.8l4.5 -7.8zM504.9 410.6l4.5 7.8l4.5 -7.8zM509.6 409.2l4.5 7.8l4.5 -7.8zM514.2 410.9l4.5 7.8l4.5 -7.8zM518.8 412.6l4.5 7.8l4.5 -7.8zM523.5 413.5l4.5 7.8l4.5 -7.8zM528.1 415.3l4.5 7.8l4.5 -7.8zM532.8 420.0l4.5 7.8l4.5 -7.8zM537.4 421.6l4.5 7.8l4.5 -7.8zM542.1 421.7l4.5 7.8l4.5 -7.8zM546.7 422.2l4.5 7.8l4.5 -7.8zM551.4 424.4l4.5 7.8l4.5 -7.8zM556.0 426.7l4.5 7.8l4.5 -7.8zM560.7 424.3l4.5 7.8l4.5 -7.8zM565.3 426.8l4.5 7.8l4.5 -7.8zM570.0 430.9l4.5 7.8l4.5 -7.8zM574.6 428.4l4.5 7.8l4.5 -7.8zM579.2 430.2l4.5 7.8l4.5 -7.8zM583.9 432.4l4.5 7.8l4.5 -7.8zM588.5 433.7l4.5 7.8l4.5 -7.8zM593.2 432.8l4.5 7.8l4.5 -7.8zM597.8 438.4l4.5 7.8l4.5 -7.8zM602.5 436.1l4.5 7.8l4.5 -7.8zM607.1 441.1l4.5 7.8l4.5 -7.8zM611.8 441.8l4.5 7.8l4.5 -7.8zM616.4 443.9l4.5 7.8l4.5 -7.8zM621.1 442.7l4.5 7.8l4.5 -7.8zM625.7 444.4l4.5 7.8l4.5 -7.8zM630.4 446.1l4.5 7.8l4.5 -7.8zM635.0 446.6l4.5 7.8l4.5 -7.8z" stroke="#a8e0f0" stroke-width="1.4" fill="none"/>
<path d="M258.3 315.8 259.5 316.6 260.8 317.4 262.0 318.2 263.2 319.0 264.4 319.8 265.6 320.6 266.8 321.4 268.0 322.2 269.2 322.9 270.4 323.7 271.6 324.5 272.8 325.3 274.0 326.1 275.2 326.8 276.4 327.6 277.6 328.4 278.9 329.2 280.1 329.9 281.3 330.7 282.5 331.5 283.7 332.2 284.9 333.0 286.1 333.8 287.3 334.5 288.5 335.3 289.7 336.0 290.9 336.8 292.1 337.6 293.3 338.3 294.5 339.1 295.7 339.8 297.0 340.6 298.2 341.3 299.4 342.1 300.6 342.8 301.8 343.6 303.0 344.3 304.2 345.0 305.4 345.8 306.6 346.5 307.8 347.3 309.0 348.0 310.2 348.7 311.4 349.5 312.6 350.2 313.9 350.9 315.1 351.7 316.3 352.4 317.5 353.1 318.7 353.9 319.9 354.6 321.1 355.4 322.3 356.1 323.5 356.9 324.7 357.6 325.9 358.3 327.1 359.1 328.3 359.8 329.5 360.6 330.7 361.3 332.0 362.1 333.2 362.8 334.4 363.5 335.6 364.3 336.8 365.0 338.0 365.7 339.2 366.5 340.4 367.2 341.6 367.9 342.8 368.6 344.0 369.3 345.2 370.0 346.4 370.7 347.6 371.4 348.8 372.1 350.1 372.8 351.3 373.5 352.5 374.1 353.7 374.8 354.9 375.4 356.1 376.1 357.3 376.7 358.5 377.4 359.7 378.0 360.9 378.6 362.1 379.2 363.3 379.8 364.5 380.4 365.7 381.0 366.9 381.6 368.2 382.1 369.4 382.7 370.6 383.3 371.8 383.8 373.0 384.4 374.2 384.9 375.4 385.4 376.6 386.0 377.8 386.5 379.0 387.0 380.2 387.6 381.4 388.1 382.6 388.6 383.8 389.1 385.1 389.6 386.3 390.1 387.5 390.6 388.7 391.1 389.9 391.6 391.1 392.1 392.3 392.6 393.5 393.1 394.7 393.6 395.9 394.0 397.1 394.5 398.3 395.0 399.5 395.5 400.7 395.9 401.9 396.4 403.2 396.9 404.4 397.3 405.6 397.8 406.8 398.2 408.0 398.7 409.2 399.2 410.4 399.6 411.6 400.1 412.8 400.5 414.0 401.0 415.2 401.4 416.4 401.9 417.6 402.3 418.8 402.8 420.0 403.2 421.3 403.7 422.5 404.1 423.7 404.6 424.9 405.0 426.1 405.5 427.3 405.9 428.5 406.4 429.7 406.8 430.9 407.3 432.1 407.7 433.3 408.1 434.5 408.6 435.7 409.0 436.9 409.4 438.1 409.9 439.4 410.3 440.6 410.7 441.8 411.1 443.0 411.6 444.2 412.0 445.4 412.4 446.6 412.8 447.8 413.2 449.0 413.6 450.2 414.0 451.4 414.4 452.6 414.7 453.8 415.1 455.0 415.5 456.2 415.8 457.5 416.2 458.7 416.6 459.9 416.9 461.1 417.2 462.3 417.6 463.5 417.9 464.7 418.2 465.9 418.5 467.1 418.8 468.3 419.1 469.5 419.4 470.7 419.7 471.9 420.0 473.1 420.3 474.4 420.5 475.6 420.8 476.8 421.1 478.0 421.3 479.2 421.6 480.4 421.8 481.6 422.0 482.8 422.3 484.0 422.5 485.2 422.7 486.4 423.0 487.6 423.2 488.8 423.4 490.0 423.6 491.2 423.9 492.5 424.1 493.7 424.3 494.9 424.5 496.1 424.8 497.3 425.0 498.5 425.2 499.7 425.4 500.9 425.7 502.1 425.9 503.3 426.1 504.5 426.4 505.7 426.6 506.9 426.8 508.1 427.1 509.3 427.3 510.6 427.6 511.8 427.9 513.0 428.1 514.2 428.4 515.4 428.7 516.6 429.0 517.8 429.2 519.0 429.5 520.2 429.8 521.4 430.1 522.6 430.4 523.8 430.7 525.0 431.0 526.2 431.3 527.4 431.6 528.7 431.9 529.9 432.2 531.1 432.5 532.3 432.8 533.5 433.1 534.7 433.5 535.9 433.8 537.1 434.1 538.3 434.4 539.5 434.7 540.7 435.0 541.9 435.4 543.1 435.7 544.3 436.0 545.6 436.3 546.8 436.7 548.0 437.0 549.2 437.3 550.4 437.7 551.6 438.0 552.8 438.3 554.0 438.7 555.2 439.0 556.4 439.4 557.6 439.7 558.8 440.1 560.0 440.4 561.2 440.8 562.4 441.1 563.7 441.5 564.9 441.8 566.1 442.2 567.3 442.5 568.5 442.9 569.7 443.3 570.9 443.6 572.1 444.0 573.3 444.4 574.5 444.7 575.7 445.1 576.9 445.5 578.1 445.8 579.3 446.2 580.5 446.6 581.8 447.0 583.0 447.4 584.2 447.7 585.4 448.1 586.6 448.5 587.8 448.9 589.0 449.3 590.2 449.7 591.4 450.1 592.6 450.5 593.8 450.9 595.0 451.3 596.2 451.7 597.4 452.1 598.6 452.5 599.9 452.9 601.1 453.3 602.3 453.7 603.5 454.1 604.7 454.5 605.9 455.0 607.1 455.4 608.3 455.8 609.5 456.2 610.7 456.6 611.9 457.1 613.1 457.5 614.3 457.9 615.5 458.3 616.8 458.8 618.0 459.2" stroke="#e08ad8" stroke-width="1.9" fill="none" stroke-linejoin="round"/>
<path d="M258.7 317.3l4.5 7.8l4.5 -7.8zM263.3 323.6l4.5 7.8l4.5 -7.8zM268.0 322.3l4.5 7.8l4.5 -7.8zM272.6 326.3l4.5 7.8l4.5 -7.8zM277.3 328.0l4.5 7.8l4.5 -7.8zM281.9 330.0l4.5 7.8l4.5 -7.8zM286.5 333.5l4.5 7.8l4.5 -7.8zM291.2 338.7l4.5 7.8l4.5 -7.8zM295.8 342.6l4.5 7.8l4.5 -7.8zM300.5 343.4l4.5 7.8l4.5 -7.8zM305.1 345.9l4.5 7.8l4.5 -7.8zM309.8 347.5l4.5 7.8l4.5 -7.8zM314.4 353.2l4.5 7.8l4.5 -7.8zM319.1 355.4l4.5 7.8l4.5 -7.8zM323.7 358.4l4.5 7.8l4.5 -7.8zM328.4 358.4l4.5 7.8l4.5 -7.8zM333.0 361.9l4.5 7.8l4.5 -7.8zM337.6 362.8l4.5 7.8l4.5 -7.8zM342.3 368.6l4.5 7.8l4.5 -7.8zM346.9 373.6l4.5 7.8l4.5 -7.8zM351.6 374.4l4.5 7.8l4.5 -7.8zM356.2 373.0l4.5 7.8l4.5 -7.8zM360.9 379.6l4.5 7.8l4.5 -7.8zM365.5 382.0l4.5 7.8l4.5 -7.8zM370.2 385.0l4.5 7.8l4.5 -7.8zM374.8 385.0l4.5 7.8l4.5 -7.8zM379.5 386.2l4.5 7.8l4.5 -7.8zM384.1 391.9l4.5 7.8l4.5 -7.8zM388.8 391.9l4.5 7.8l4.5 -7.8zM393.4 391.4l4.5 7.8l4.5 -7.8zM398.0 396.4l4.5 7.8l4.5 -7.8zM402.7 394.8l4.5 7.8l4.5 -7.8zM407.3 394.1l4.5 7.8l4.5 -7.8zM412.0 399.8l4.5 7.8l4.5 -7.8zM416.6 402.1l4.5 7.8l4.5 -7.8zM421.3 402.8l4.5 7.8l4.5 -7.8zM425.9 405.2l4.5 7.8l4.5 -7.8zM430.6 405.6l4.5 7.8l4.5 -7.8zM435.2 407.2l4.5 7.8l4.5 -7.8zM439.9 410.1l4.5 7.8l4.5 -7.8zM444.5 413.0l4.5 7.8l4.5 -7.8zM449.2 411.8l4.5 7.8l4.5 -7.8zM453.8 414.3l4.5 7.8l4.5 -7.8zM458.4 415.5l4.5 7.8l4.5 -7.8zM463.1 414.5l4.5 7.8l4.5 -7.8zM467.7 415.7l4.5 7.8l4.5 -7.8zM472.4 418.7l4.5 7.8l4.5 -7.8zM477.0 421.2l4.5 7.8l4.5 -7.8zM481.7 423.7l4.5 7.8l4.5 -7.8zM486.3 420.5l4.5 7.8l4.5 -7.8zM491.0 422.0l4.5 7.8l4.5 -7.8zM495.6 421.3l4.5 7.8l4.5 -7.8zM500.3 421.6l4.5 7.8l4.5 -7.8zM504.9 424.7l4.5 7.8l4.5 -7.8zM509.6 422.5l4.5 7.8l4.5 -7.8zM514.2 426.9l4.5 7.8l4.5 -7.8zM518.8 428.1l4.5 7.8l4.5 -7.8zM523.5 428.3l4.5 7.8l4.5 -7.8zM528.1 427.2l4.5 7.8l4.5 -7.8zM532.8 429.3l4.5 7.8l4.5 -7.8zM537.4 433.8l4.5 7.8l4.5 -7.8zM542.1 436.3l4.5 7.8l4.5 -7.8zM546.7 434.0l4.5 7.8l4.5 -7.8zM551.4 435.9l4.5 7.8l4.5 -7.8zM556.0 440.1l4.5 7.8l4.5 -7.8zM560.7 440.6l4.5 7.8l4.5 -7.8zM565.3 438.9l4.5 7.8l4.5 -7.8zM570.0 440.6l4.5 7.8l4.5 -7.8zM574.6 442.8l4.5 7.8l4.5 -7.8zM579.2 443.8l4.5 7.8l4.5 -7.8zM583.9 450.6l4.5 7.8l4.5 -7.8zM588.5 449.6l4.5 7.8l4.5 -7.8zM593.2 451.4l4.5 7.8l4.5 -7.8zM597.8 451.3l4.5 7.8l4.5 -7.8zM602.5 450.6l4.5 7.8l4.5 -7.8zM607.1 455.1l4.5 7.8l4.5 -7.8zM611.8 455.3l4.5 7.8l4.5 -7.8z" stroke="#e08ad8" stroke-width="1.4" fill="none"/>
<path d="M258.3 345.6 259.5 346.6 260.8 347.6 262.0 348.6 263.2 349.7 264.4 350.7 265.6 351.7 266.8 352.7 268.0 353.7 269.2 354.7 270.4 355.6 271.6 356.6 272.8 357.6 274.1 358.6 275.3 359.5 276.5 360.5 277.7 361.4 278.9 362.4 280.1 363.3 281.3 364.2 282.5 365.2 283.7 366.1 284.9 367.0 286.1 367.9 287.4 368.8 288.6 369.7 289.8 370.6 291.0 371.5 292.2 372.4 293.4 373.2 294.6 374.1 295.8 375.0 297.0 375.8 298.2 376.7 299.4 377.5 300.6 378.3 301.9 379.2 303.1 380.0 304.3 380.8 305.5 381.6 306.7 382.4 307.9 383.2 309.1 384.0 310.3 384.7 311.5 385.5 312.7 386.3 313.9 387.0 315.2 387.8 316.4 388.5 317.6 389.3 318.8 390.0 320.0 390.8 321.2 391.5 322.4 392.2 323.6 393.0 324.8 393.7 326.0 394.4 327.2 395.1 328.5 395.8 329.7 396.6 330.9 397.3 332.1 398.0 333.3 398.7 334.5 399.3 335.7 400.0 336.9 400.7 338.1 401.4 339.3 402.0 340.5 402.7 341.7 403.3 343.0 404.0 344.2 404.6 345.4 405.3 346.6 405.9 347.8 406.5 349.0 407.1 350.2 407.7 351.4 408.3 352.6 408.9 353.8 409.5 355.0 410.1 356.3 410.6 357.5 411.2 358.7 411.7 359.9 412.3 361.1 412.8 362.3 413.3 363.5 413.8 364.7 414.3 365.9 414.8 367.1 415.3 368.3 415.8 369.6 416.3 370.8 416.7 372.0 417.2 373.2 417.6 374.4 418.1 375.6 418.5 376.8 419.0 378.0 419.4 379.2 419.9 380.4 420.3 381.6 420.7 382.8 421.1 384.1 421.5 385.3 422.0 386.5 422.4 387.7 422.8 388.9 423.2 390.1 423.6 391.3 424.0 392.5 424.3 393.7 424.7 394.9 425.1 396.1 425.5 397.4 425.9 398.6 426.2 399.8 426.6 401.0 427.0 402.2 427.3 403.4 427.7 404.6 428.1 405.8 428.4 407.0 428.8 408.2 429.1 409.4 429.5 410.7 429.8 411.9 430.2 413.1 430.5 414.3 430.9 415.5 431.2 416.7 431.6 417.9 431.9 419.1 432.3 420.3 432.6 421.5 432.9 422.7 433.3 423.9 433.6 425.2 434.0 426.4 434.3 427.6 434.6 428.8 435.0 430.0 435.3 431.2 435.6 432.4 435.9 433.6 436.3 434.8 436.6 436.0 436.9 437.2 437.2 438.5 437.5 439.7 437.8 440.9 438.2 442.1 438.5 443.3 438.8 444.5 439.1 445.7 439.4 446.9 439.7 448.1 440.0 449.3 440.2 450.5 440.5 451.8 440.8 453.0 441.1 454.2 441.4 455.4 441.7 456.6 441.9 457.8 442.2 459.0 442.5 460.2 442.7 461.4 443.0 462.6 443.2 463.8 443.5 465.0 443.7 466.3 444.0 467.5 444.2 468.7 444.4 469.9 444.7 471.1 444.9 472.3 445.1 473.5 445.3 474.7 445.5 475.9 445.8 477.1 446.0 478.3 446.2 479.6 446.4 480.8 446.6 482.0 446.8 483.2 447.0 484.4 447.2 485.6 447.4 486.8 447.6 488.0 447.7 489.2 447.9 490.4 448.1 491.6 448.3 492.8 448.5 494.1 448.7 495.3 448.9 496.5 449.1 497.7 449.2 498.9 449.4 500.1 449.6 501.3 449.8 502.5 450.0 503.7 450.2 504.9 450.4 506.1 450.6 507.4 450.7 508.6 450.9 509.8 451.1 511.0 451.3 512.2 451.5 513.4 451.7 514.6 451.9 515.8 452.1 517.0 452.4 518.2 452.6 519.4 452.8 520.7 453.0 521.9 453.2 523.1 453.4 524.3 453.6 525.5 453.9 526.7 454.1 527.9 454.3 529.1 454.5 530.3 454.7 531.5 454.9 532.7 455.2 533.9 455.4 535.2 455.6 536.4 455.8 537.6 456.0 538.8 456.3 540.0 456.5 541.2 456.7 542.4 456.9 543.6 457.1 544.8 457.4 546.0 457.6 547.2 457.8 548.5 458.0 549.7 458.3 550.9 458.5 552.1 458.7 553.3 458.9 554.5 459.2 555.7 459.4 556.9 459.6 558.1 459.8 559.3 460.1 560.5 460.3 561.8 460.5 563.0 460.7 564.2 461.0 565.4 461.2 566.6 461.4 567.8 461.7 569.0 461.9 570.2 462.1 571.4 462.4 572.6 462.6 573.8 462.8 575.0 463.1 576.3 463.3 577.5 463.5 578.7 463.8 579.9 464.0 581.1 464.2 582.3 464.5 583.5 464.7 584.7 464.9 585.9 465.2 587.1 465.4 588.3 465.7 589.6 465.9 590.8 466.1 592.0 466.4 593.2 466.6 594.4 466.9 595.6 467.1 596.8 467.3 598.0 467.6 599.2 467.8 600.4 468.1 601.6 468.3 602.9 468.6 604.1 468.8 605.3 469.1 606.5 469.3 607.7 469.6 608.9 469.8 610.1 470.1 611.3 470.3 612.5 470.5 613.7 470.8 614.9 471.1" stroke="#2f2f2f" stroke-width="1.9" fill="none" stroke-linejoin="round"/>
<path d="M267.0 354.1L263.2 356.3L259.4 354.1L259.4 349.7L263.2 347.5L267.0 349.7zM271.6 352.8L267.8 355.0L264.0 352.8L264.0 348.4L267.8 346.2L271.6 348.4zM276.3 358.4L272.5 360.6L268.6 358.4L268.6 354.0L272.5 351.8L276.3 354.0zM280.9 363.6L277.1 365.8L273.3 363.6L273.3 359.2L277.1 357.0L280.9 359.2zM285.6 366.2L281.8 368.4L277.9 366.2L277.9 361.8L281.8 359.6L285.6 361.8zM290.2 370.4L286.4 372.6L282.6 370.4L282.6 366.0L286.4 363.8L290.2 366.0zM294.9 374.1L291.0 376.3L287.2 374.1L287.2 369.7L291.0 367.5L294.9 369.7zM299.5 376.3L295.7 378.5L291.9 376.3L291.9 371.9L295.7 369.7L299.5 371.9zM304.1 381.4L300.3 383.6L296.5 381.4L296.5 377.0L300.3 374.8L304.1 377.0zM308.8 382.2L305.0 384.4L301.2 382.2L301.2 377.8L305.0 375.6L308.8 377.8zM313.4 386.4L309.6 388.6L305.8 386.4L305.8 382.0L309.6 379.8L313.4 382.0zM318.1 387.4L314.3 389.6L310.5 387.4L310.5 383.0L314.3 380.8L318.1 383.0zM322.7 392.0L318.9 394.2L315.1 392.0L315.1 387.6L318.9 385.4L322.7 387.6zM327.4 393.6L323.6 395.8L319.8 393.6L319.8 389.2L323.6 387.0L327.4 389.2zM332.0 395.0L328.2 397.2L324.4 395.0L324.4 390.6L328.2 388.4L332.0 390.6zM336.7 401.4L332.9 403.6L329.0 401.4L329.0 397.0L332.9 394.8L336.7 397.0zM341.3 400.4L337.5 402.6L333.7 400.4L333.7 396.0L337.5 393.8L341.3 396.0zM346.0 407.4L342.1 409.6L338.3 407.4L338.3 403.0L342.1 400.8L346.0 403.0zM350.6 409.5L346.8 411.7L343.0 409.5L343.0 405.1L346.8 402.9L350.6 405.1zM355.3 410.2L351.4 412.4L347.6 410.2L347.6 405.8L351.4 403.6L355.3 405.8zM359.9 414.5L356.1 416.7L352.3 414.5L352.3 410.1L356.1 407.9L359.9 410.1zM364.5 413.0L360.7 415.2L356.9 413.0L356.9 408.6L360.7 406.4L364.5 408.6zM369.2 418.8L365.4 421.0L361.6 418.8L361.6 414.4L365.4 412.2L369.2 414.4zM373.8 417.4L370.0 419.6L366.2 417.4L366.2 413.0L370.0 410.8L373.8 413.0zM378.5 420.9L374.7 423.1L370.9 420.9L370.9 416.5L374.7 414.3L378.5 416.5zM383.1 424.1L379.3 426.3L375.5 424.1L375.5 419.7L379.3 417.5L383.1 419.7zM387.8 423.4L384.0 425.6L380.2 423.4L380.2 419.0L384.0 416.8L387.8 419.0zM392.4 422.1L388.6 424.3L384.8 422.1L384.8 417.7L388.6 415.5L392.4 417.7zM397.1 427.2L393.3 429.4L389.4 427.2L389.4 422.8L393.3 420.6L397.1 422.8zM401.7 427.8L397.9 430.0L394.1 427.8L394.1 423.4L397.9 421.2L401.7 423.4zM406.4 428.5L402.5 430.7L398.7 428.5L398.7 424.1L402.5 421.9L406.4 424.1zM411.0 432.0L407.2 434.2L403.4 432.0L403.4 427.6L407.2 425.4L411.0 427.6zM415.7 432.1L411.8 434.3L408.0 432.1L408.0 427.7L411.8 425.5L415.7 427.7zM420.3 430.3L416.5 432.5L412.7 430.3L412.7 425.9L416.5 423.7L420.3 425.9zM424.9 436.1L421.1 438.3L417.3 436.1L417.3 431.7L421.1 429.5L424.9 431.7zM429.6 437.9L425.8 440.1L422.0 437.9L422.0 433.5L425.8 431.3L429.6 433.5zM434.2 434.0L430.4 436.2L426.6 434.0L426.6 429.6L430.4 427.4L434.2 429.6zM438.9 437.9L435.1 440.1L431.3 437.9L431.3 433.5L435.1 431.3L438.9 433.5zM443.5 439.1L439.7 441.3L435.9 439.1L435.9 434.7L439.7 432.5L443.5 434.7zM448.2 441.7L444.4 443.9L440.6 441.7L440.6 437.3L444.4 435.1L448.2 437.3zM452.8 442.3L449.0 444.5L445.2 442.3L445.2 437.9L449.0 435.7L452.8 437.9zM457.5 443.5L453.7 445.7L449.8 443.5L449.8 439.1L453.7 436.9L457.5 439.1zM462.1 441.9L458.3 444.1L454.5 441.9L454.5 437.5L458.3 435.3L462.1 437.5zM466.8 446.0L462.9 448.2L459.1 446.0L459.1 441.6L462.9 439.4L466.8 441.6zM471.4 445.4L467.6 447.6L463.8 445.4L463.8 441.0L467.6 438.8L471.4 441.0zM476.1 447.7L472.2 449.9L468.4 447.7L468.4 443.3L472.2 441.1L476.1 443.3zM480.7 452.1L476.9 454.3L473.1 452.1L473.1 447.7L476.9 445.5L480.7 447.7zM485.3 451.9L481.5 454.1L477.7 451.9L477.7 447.5L481.5 445.3L485.3 447.5zM490.0 449.6L486.2 451.8L482.4 449.6L482.4 445.2L486.2 443.0L490.0 445.2zM494.6 449.2L490.8 451.4L487.0 449.2L487.0 444.8L490.8 442.6L494.6 444.8zM499.3 447.7L495.5 449.9L491.7 447.7L491.7 443.3L495.5 441.1L499.3 443.3zM503.9 449.1L500.1 451.3L496.3 449.1L496.3 444.7L500.1 442.5L503.9 444.7zM508.6 452.0L504.8 454.2L501.0 452.0L501.0 447.6L504.8 445.4L508.6 447.6zM513.2 453.6L509.4 455.8L505.6 453.6L505.6 449.2L509.4 447.0L513.2 449.2zM517.9 452.3L514.1 454.5L510.2 452.3L510.2 447.9L514.1 445.7L517.9 447.9zM522.5 453.4L518.7 455.6L514.9 453.4L514.9 449.0L518.7 446.8L522.5 449.0zM527.2 455.3L523.3 457.5L519.5 455.3L519.5 450.9L523.3 448.7L527.2 450.9zM531.8 459.4L528.0 461.6L524.2 459.4L524.2 455.0L528.0 452.8L531.8 455.0zM536.4 457.9L532.6 460.1L528.8 457.9L528.8 453.5L532.6 451.3L536.4 453.5zM541.1 460.0L537.3 462.2L533.5 460.0L533.5 455.6L537.3 453.4L541.1 455.6zM545.7 458.9L541.9 461.1L538.1 458.9L538.1 454.5L541.9 452.3L545.7 454.5zM550.4 457.4L546.6 459.6L542.8 457.4L542.8 453.0L546.6 450.8L550.4 453.0zM555.0 461.5L551.2 463.7L547.4 461.5L547.4 457.1L551.2 454.9L555.0 457.1zM559.7 461.3L555.9 463.5L552.1 461.3L552.1 456.9L555.9 454.7L559.7 456.9zM564.3 462.9L560.5 465.1L556.7 462.9L556.7 458.5L560.5 456.3L564.3 458.5zM569.0 461.9L565.2 464.1L561.4 461.9L561.4 457.5L565.2 455.3L569.0 457.5zM573.6 464.3L569.8 466.5L566.0 464.3L566.0 459.9L569.8 457.7L573.6 459.9zM578.3 466.2L574.5 468.4L570.6 466.2L570.6 461.8L574.5 459.6L578.3 461.8zM582.9 466.0L579.1 468.2L575.3 466.0L575.3 461.6L579.1 459.4L582.9 461.6zM587.6 464.9L583.7 467.1L579.9 464.9L579.9 460.5L583.7 458.3L587.6 460.5zM592.2 468.2L588.4 470.4L584.6 468.2L584.6 463.8L588.4 461.6L592.2 463.8zM596.8 467.9L593.0 470.1L589.2 467.9L589.2 463.5L593.0 461.3L596.8 463.5zM601.5 472.1L597.7 474.3L593.9 472.1L593.9 467.7L597.7 465.5L601.5 467.7zM606.1 468.8L602.3 471.0L598.5 468.8L598.5 464.4L602.3 462.2L606.1 464.4zM610.8 470.8L607.0 473.0L603.2 470.8L603.2 466.4L607.0 464.2L610.8 466.4zM615.4 473.9L611.6 476.1L607.8 473.9L607.8 469.5L611.6 467.3L615.4 469.5z" stroke="#2f2f2f" stroke-width="1.4" fill="none"/>
<path d="M258.3 366.8 259.5 367.7 260.8 368.7 262.0 369.6 263.2 370.5 264.4 371.4 265.6 372.3 266.8 373.2 268.0 374.1 269.2 375.0 270.4 375.9 271.6 376.8 272.8 377.7 274.1 378.6 275.3 379.4 276.5 380.3 277.7 381.2 278.9 382.0 280.1 382.8 281.3 383.7 282.5 384.5 283.7 385.3 284.9 386.2 286.1 387.0 287.4 387.8 288.6 388.6 289.8 389.4 291.0 390.2 292.2 391.0 293.4 391.7 294.6 392.5 295.8 393.3 297.0 394.0 298.2 394.8 299.4 395.5 300.6 396.2 301.9 397.0 303.1 397.7 304.3 398.4 305.5 399.1 306.7 399.8 307.9 400.5 309.1 401.2 310.3 401.9 311.5 402.5 312.7 403.2 313.9 403.9 315.2 404.5 316.4 405.2 317.6 405.8 318.8 406.4 320.0 407.1 321.2 407.7 322.4 408.3 323.6 409.0 324.8 409.6 326.0 410.2 327.2 410.8 328.5 411.4 329.7 412.0 330.9 412.6 332.1 413.2 333.3 413.8 334.5 414.3 335.7 414.9 336.9 415.5 338.1 416.1 339.3 416.6 340.5 417.2 341.7 417.7 343.0 418.3 344.2 418.8 345.4 419.3 346.6 419.9 347.8 420.4 349.0 420.9 350.2 421.4 351.4 421.9 352.6 422.4 353.8 422.9 355.0 423.4 356.3 423.9 357.5 424.3 358.7 424.8 359.9 425.3 361.1 425.7 362.3 426.2 363.5 426.6 364.7 427.0 365.9 427.5 367.1 427.9 368.3 428.3 369.6 428.7 370.8 429.1 372.0 429.5 373.2 429.9 374.4 430.3 375.6 430.7 376.8 431.1 378.0 431.5 379.2 431.9 380.4 432.3 381.6 432.7 382.8 433.0 384.1 433.4 385.3 433.8 386.5 434.1 387.7 434.5 388.9 434.8 390.1 435.2 391.3 435.5 392.5 435.9 393.7 436.2 394.9 436.6 396.1 436.9 397.4 437.2 398.6 437.6 399.8 437.9 401.0 438.2 402.2 438.5 403.4 438.8 404.6 439.2 405.8 439.5 407.0 439.8 408.2 440.1 409.4 440.4 410.7 440.7 411.9 441.0 413.1 441.3 414.3 441.6 415.5 441.9 416.7 442.2 417.9 442.5 419.1 442.8 420.3 443.1 421.5 443.4 422.7 443.6 423.9 443.9 425.2 444.2 426.4 444.5 427.6 444.8 428.8 445.1 430.0 445.3 431.2 445.6 432.4 445.9 433.6 446.2 434.8 446.4 436.0 446.7 437.2 447.0 438.5 447.2 439.7 447.5 440.9 447.7 442.1 448.0 443.3 448.2 444.5 448.5 445.7 448.7 446.9 449.0 448.1 449.2 449.3 449.5 450.5 449.7 451.8 449.9 453.0 450.2 454.2 450.4 455.4 450.6 456.6 450.8 457.8 451.0 459.0 451.3 460.2 451.5 461.4 451.7 462.6 451.9 463.8 452.1 465.0 452.3 466.3 452.4 467.5 452.6 468.7 452.8 469.9 453.0 471.1 453.1 472.3 453.3 473.5 453.5 474.7 453.6 475.9 453.8 477.1 453.9 478.3 454.1 479.6 454.2 480.8 454.4 482.0 454.5 483.2 454.7 484.4 454.8 485.6 454.9 486.8 455.1 488.0 455.2 489.2 455.3 490.4 455.5 491.6 455.6 492.8 455.7 494.1 455.9 495.3 456.0 496.5 456.1 497.7 456.3 498.9 456.4 500.1 456.5 501.3 456.7 502.5 456.8 503.7 456.9 504.9 457.1 506.1 457.2 507.4 457.4 508.6 457.5 509.8 457.7 511.0 457.8 512.2 458.0 513.4 458.2 514.6 458.3 515.8 458.5 517.0 458.7 518.2 458.9 519.4 459.0 520.7 459.2 521.9 459.4 523.1 459.6 524.3 459.8 525.5 460.0 526.7 460.1 527.9 460.3 529.1 460.5 530.3 460.7 531.5 460.9 532.7 461.1 533.9 461.3 535.2 461.5 536.4 461.7 537.6 461.9 538.8 462.1 540.0 462.3 541.2 462.5 542.4 462.8 543.6 463.0 544.8 463.2 546.0 463.4 547.2 463.6 548.5 463.8 549.7 464.0 550.9 464.3 552.1 464.5 553.3 464.7 554.5 464.9 555.7 465.2 556.9 465.4 558.1 465.6 559.3 465.8 560.5 466.1 561.8 466.3 563.0 466.5 564.2 466.8 565.4 467.0 566.6 467.2 567.8 467.5 569.0 467.7 570.2 468.0 571.4 468.2 572.6 468.5 573.8 468.7 575.0 469.0 576.3 469.2 577.5 469.5 578.7 469.7 579.9 470.0 581.1 470.2 582.3 470.5 583.5 470.7 584.7 471.0 585.9 471.3 587.1 471.5 588.3 471.8 589.6 472.1 590.8 472.3 592.0 472.6 593.2 472.9 594.4 473.1 595.6 473.4 596.8 473.7 598.0 474.0 599.2 474.3 600.4 474.5 601.6 474.8 602.9 475.1 604.1 475.4 605.3 475.7 606.5 476.0 607.7 476.2 608.9 476.5 610.1 476.8 611.3 477.1 612.5 477.4 613.7 477.7 614.9 478.0" stroke="#6a6fd0" stroke-width="1.9" fill="none" stroke-linejoin="round"/>
<path d="M259.9 364.9h6.6v6.6h-6.6zM264.5 367.3h6.6v6.6h-6.6zM269.2 372.3h6.6v6.6h-6.6zM273.8 376.1h6.6v6.6h-6.6zM278.5 380.3h6.6v6.6h-6.6zM283.1 385.7h6.6v6.6h-6.6zM287.7 385.3h6.6v6.6h-6.6zM292.4 387.9h6.6v6.6h-6.6zM297.0 393.5h6.6v6.6h-6.6zM301.7 395.2h6.6v6.6h-6.6zM306.3 401.4h6.6v6.6h-6.6zM311.0 401.1h6.6v6.6h-6.6zM315.6 403.6h6.6v6.6h-6.6zM320.3 404.5h6.6v6.6h-6.6zM324.9 406.6h6.6v6.6h-6.6zM329.6 410.6h6.6v6.6h-6.6zM334.2 414.6h6.6v6.6h-6.6zM338.8 415.8h6.6v6.6h-6.6zM343.5 414.9h6.6v6.6h-6.6zM348.1 417.2h6.6v6.6h-6.6zM352.8 421.1h6.6v6.6h-6.6zM357.4 422.5h6.6v6.6h-6.6zM362.1 422.4h6.6v6.6h-6.6zM366.7 426.0h6.6v6.6h-6.6zM371.4 426.3h6.6v6.6h-6.6zM376.0 426.8h6.6v6.6h-6.6zM380.7 430.1h6.6v6.6h-6.6zM385.3 432.7h6.6v6.6h-6.6zM390.0 434.4h6.6v6.6h-6.6zM394.6 435.7h6.6v6.6h-6.6zM399.2 438.1h6.6v6.6h-6.6zM403.9 437.8h6.6v6.6h-6.6zM408.5 436.1h6.6v6.6h-6.6zM413.2 438.4h6.6v6.6h-6.6zM417.8 439.3h6.6v6.6h-6.6zM422.5 440.4h6.6v6.6h-6.6zM427.1 441.6h6.6v6.6h-6.6zM431.8 441.2h6.6v6.6h-6.6zM436.4 444.1h6.6v6.6h-6.6zM441.1 451.2h6.6v6.6h-6.6zM445.7 443.3h6.6v6.6h-6.6zM450.4 448.5h6.6v6.6h-6.6zM455.0 446.4h6.6v6.6h-6.6zM459.6 451.0h6.6v6.6h-6.6zM464.3 449.2h6.6v6.6h-6.6zM468.9 447.7h6.6v6.6h-6.6zM473.6 451.2h6.6v6.6h-6.6zM478.2 450.9h6.6v6.6h-6.6zM482.9 450.0h6.6v6.6h-6.6zM487.5 454.4h6.6v6.6h-6.6zM492.2 455.5h6.6v6.6h-6.6zM496.8 452.0h6.6v6.6h-6.6zM501.5 452.3h6.6v6.6h-6.6zM506.1 456.2h6.6v6.6h-6.6zM510.8 454.5h6.6v6.6h-6.6zM515.4 457.3h6.6v6.6h-6.6zM520.0 456.9h6.6v6.6h-6.6zM524.7 456.9h6.6v6.6h-6.6zM529.3 458.0h6.6v6.6h-6.6zM534.0 459.9h6.6v6.6h-6.6zM538.6 460.3h6.6v6.6h-6.6zM543.3 463.0h6.6v6.6h-6.6zM547.9 461.4h6.6v6.6h-6.6zM552.6 460.4h6.6v6.6h-6.6zM557.2 463.8h6.6v6.6h-6.6zM561.9 463.5h6.6v6.6h-6.6zM566.5 465.1h6.6v6.6h-6.6zM571.2 465.3h6.6v6.6h-6.6zM575.8 468.6h6.6v6.6h-6.6zM580.4 469.5h6.6v6.6h-6.6zM585.1 470.8h6.6v6.6h-6.6zM589.7 469.5h6.6v6.6h-6.6zM594.4 469.2h6.6v6.6h-6.6zM599.0 473.2h6.6v6.6h-6.6zM603.7 472.9h6.6v6.6h-6.6zM608.3 472.4h6.6v6.6h-6.6z" stroke="#6a6fd0" stroke-width="1.4" fill="none"/>
<path d="M258.3 383.3 259.5 384.2 260.8 385.1 262.0 386.1 263.2 387.0 264.4 387.9 265.6 388.8 266.8 389.7 268.0 390.6 269.2 391.5 270.4 392.4 271.6 393.2 272.8 394.1 274.1 395.0 275.3 395.8 276.5 396.7 277.7 397.5 278.9 398.3 280.1 399.2 281.3 400.0 282.5 400.8 283.7 401.6 284.9 402.4 286.1 403.2 287.4 403.9 288.6 404.7 289.8 405.5 291.0 406.2 292.2 407.0 293.4 407.7 294.6 408.4 295.8 409.1 297.0 409.9 298.2 410.6 299.4 411.2 300.6 411.9 301.9 412.6 303.1 413.3 304.3 413.9 305.5 414.5 306.7 415.2 307.9 415.8 309.1 416.4 310.3 417.0 311.5 417.6 312.7 418.2 313.9 418.8 315.2 419.3 316.4 419.9 317.6 420.4 318.8 421.0 320.0 421.5 321.2 422.0 322.4 422.6 323.6 423.1 324.8 423.6 326.0 424.1 327.2 424.6 328.5 425.1 329.7 425.6 330.9 426.1 332.1 426.5 333.3 427.0 334.5 427.5 335.7 428.0 336.9 428.4 338.1 428.9 339.3 429.3 340.5 429.8 341.7 430.2 343.0 430.6 344.2 431.1 345.4 431.5 346.6 431.9 347.8 432.3 349.0 432.7 350.2 433.1 351.4 433.5 352.6 433.9 353.8 434.3 355.0 434.7 356.3 435.1 357.5 435.5 358.7 435.9 359.9 436.2 361.1 436.6 362.3 437.0 363.5 437.3 364.7 437.7 365.9 438.1 367.1 438.4 368.3 438.8 369.6 439.1 370.8 439.5 372.0 439.8 373.2 440.1 374.4 440.5 375.6 440.8 376.8 441.1 378.0 441.5 379.2 441.8 380.4 442.1 381.6 442.4 382.8 442.8 384.1 443.1 385.3 443.4 386.5 443.7 387.7 444.0 388.9 444.3 390.1 444.6 391.3 444.9 392.5 445.2 393.7 445.5 394.9 445.8 396.1 446.1 397.4 446.3 398.6 446.6 399.8 446.9 401.0 447.2 402.2 447.4 403.4 447.7 404.6 448.0 405.8 448.2 407.0 448.5 408.2 448.8 409.4 449.0 410.7 449.3 411.9 449.5 413.1 449.8 414.3 450.0 415.5 450.3 416.7 450.5 417.9 450.7 419.1 451.0 420.3 451.2 421.5 451.4 422.7 451.7 423.9 451.9 425.2 452.1 426.4 452.3 427.6 452.6 428.8 452.8 430.0 453.0 431.2 453.2 432.4 453.4 433.6 453.6 434.8 453.8 436.0 454.0 437.2 454.3 438.5 454.5 439.7 454.7 440.9 454.9 442.1 455.1 443.3 455.3 444.5 455.4 445.7 455.6 446.9 455.8 448.1 456.0 449.3 456.2 450.5 456.4 451.8 456.6 453.0 456.8 454.2 457.0 455.4 457.1 456.6 457.3 457.8 457.5 459.0 457.7 460.2 457.9 461.4 458.0 462.6 458.2 463.8 458.4 465.0 458.6 466.3 458.7 467.5 458.9 468.7 459.1 469.9 459.2 471.1 459.4 472.3 459.6 473.5 459.7 474.7 459.9 475.9 460.0 477.1 460.2 478.3 460.3 479.6 460.5 480.8 460.6 482.0 460.7 483.2 460.9 484.4 461.0 485.6 461.2 486.8 461.3 488.0 461.4 489.2 461.6 490.4 461.7 491.6 461.9 492.8 462.0 494.1 462.1 495.3 462.3 496.5 462.4 497.7 462.6 498.9 462.7 500.1 462.8 501.3 463.0 502.5 463.1 503.7 463.3 504.9 463.4 506.1 463.6 507.4 463.7 508.6 463.9 509.8 464.1 511.0 464.2 512.2 464.4 513.4 464.6 514.6 464.7 515.8 464.9 517.0 465.1 518.2 465.3 519.4 465.5 520.7 465.7 521.9 465.9 523.1 466.1 524.3 466.3 525.5 466.4 526.7 466.6 527.9 466.9 529.1 467.1 530.3 467.3 531.5 467.5 532.7 467.7 533.9 467.9 535.2 468.1 536.4 468.3 537.6 468.5 538.8 468.7 540.0 469.0 541.2 469.2 542.4 469.4 543.6 469.6 544.8 469.9 546.0 470.1 547.2 470.3 548.5 470.5 549.7 470.8 550.9 471.0 552.1 471.3 553.3 471.5 554.5 471.7 555.7 472.0 556.9 472.2 558.1 472.5 559.3 472.7 560.5 473.0 561.8 473.2 563.0 473.5 564.2 473.7 565.4 474.0 566.6 474.2 567.8 474.5 569.0 474.8 570.2 475.0 571.4 475.3 572.6 475.6 573.8 475.8 575.0 476.1 576.3 476.4 577.5 476.6 578.7 476.9 579.9 477.2 581.1 477.5 582.3 477.8 583.5 478.0 584.7 478.3 585.9 478.6 587.1 478.9 588.3 479.2 589.6 479.5 590.8 479.8 592.0 480.1 593.2 480.4 594.4 480.7 595.6 481.0 596.8 481.3 598.0 481.6 599.2 481.9 600.4 482.2 601.6 482.5 602.9 482.8 604.1 483.1 605.3 483.4 606.5 483.7 607.7 484.0 608.9 484.4 610.1 484.7 611.3 485.0 612.5 485.3 613.7 485.7 614.9 486.0" stroke="#a0174f" stroke-width="1.9" fill="none" stroke-linejoin="round"/>
<path d="M259.7 384.7a3.5 3.5 0 1 0 7.0 0a3.5 3.5 0 1 0 -7.0 0M264.3 390.4a3.5 3.5 0 1 0 7.0 0a3.5 3.5 0 1 0 -7.0 0M269.0 396.6a3.5 3.5 0 1 0 7.0 0a3.5 3.5 0 1 0 -7.0 0M273.6 396.3a3.5 3.5 0 1 0 7.0 0a3.5 3.5 0 1 0 -7.0 0M278.3 401.2a3.5 3.5 0 1 0 7.0 0a3.5 3.5 0 1 0 -7.0 0M282.9 401.8a3.5 3.5 0 1 0 7.0 0a3.5 3.5 0 1 0 -7.0 0M287.5 407.5a3.5 3.5 0 1 0 7.0 0a3.5 3.5 0 1 0 -7.0 0M292.2 411.1a3.5 3.5 0 1 0 7.0 0a3.5 3.5 0 1 0 -7.0 0M296.8 409.7a3.5 3.5 0 1 0 7.0 0a3.5 3.5 0 1 0 -7.0 0M301.5 412.9a3.5 3.5 0 1 0 7.0 0a3.5 3.5 0 1 0 -7.0 0M306.1 415.9a3.5 3.5 0 1 0 7.0 0a3.5 3.5 0 1 0 -7.0 0M310.8 419.3a3.5 3.5 0 1 0 7.0 0a3.5 3.5 0 1 0 -7.0 0M315.4 422.8a3.5 3.5 0 1 0 7.0 0a3.5 3.5 0 1 0 -7.0 0M320.1 420.7a3.5 3.5 0 1 0 7.0 0a3.5 3.5 0 1 0 -7.0 0M324.7 426.4a3.5 3.5 0 1 0 7.0 0a3.5 3.5 0 1 0 -7.0 0M329.4 426.9a3.5 3.5 0 1 0 7.0 0a3.5 3.5 0 1 0 -7.0 0M334.0 427.7a3.5 3.5 0 1 0 7.0 0a3.5 3.5 0 1 0 -7.0 0M338.6 429.6a3.5 3.5 0 1 0 7.0 0a3.5 3.5 0 1 0 -7.0 0M343.3 433.0a3.5 3.5 0 1 0 7.0 0a3.5 3.5 0 1 0 -7.0 0M347.9 433.0a3.5 3.5 0 1 0 7.0 0a3.5 3.5 0 1 0 -7.0 0M352.6 437.3a3.5 3.5 0 1 0 7.0 0a3.5 3.5 0 1 0 -7.0 0M357.2 435.6a3.5 3.5 0 1 0 7.0 0a3.5 3.5 0 1 0 -7.0 0M361.9 439.4a3.5 3.5 0 1 0 7.0 0a3.5 3.5 0 1 0 -7.0 0M366.5 439.3a3.5 3.5 0 1 0 7.0 0a3.5 3.5 0 1 0 -7.0 0M371.2 440.4a3.5 3.5 0 1 0 7.0 0a3.5 3.5 0 1 0 -7.0 0M375.8 443.3a3.5 3.5 0 1 0 7.0 0a3.5 3.5 0 1 0 -7.0 0M380.5 443.2a3.5 3.5 0 1 0 7.0 0a3.5 3.5 0 1 0 -7.0 0M385.1 443.4a3.5 3.5 0 1 0 7.0 0a3.5 3.5 0 1 0 -7.0 0M389.8 445.9a3.5 3.5 0 1 0 7.0 0a3.5 3.5 0 1 0 -7.0 0M394.4 445.5a3.5 3.5 0 1 0 7.0 0a3.5 3.5 0 1 0 -7.0 0M399.0 448.8a3.5 3.5 0 1 0 7.0 0a3.5 3.5 0 1 0 -7.0 0M403.7 449.4a3.5 3.5 0 1 0 7.0 0a3.5 3.5 0 1 0 -7.0 0M408.3 449.9a3.5 3.5 0 1 0 7.0 0a3.5 3.5 0 1 0 -7.0 0M413.0 447.5a3.5 3.5 0 1 0 7.0 0a3.5 3.5 0 1 0 -7.0 0M417.6 451.2a3.5 3.5 0 1 0 7.0 0a3.5 3.5 0 1 0 -7.0 0M422.3 451.0a3.5 3.5 0 1 0 7.0 0a3.5 3.5 0 1 0 -7.0 0M426.9 451.7a3.5 3.5 0 1 0 7.0 0a3.5 3.5 0 1 0 -7.0 0M431.6 452.6a3.5 3.5 0 1 0 7.0 0a3.5 3.5 0 1 0 -7.0 0M436.2 453.6a3.5 3.5 0 1 0 7.0 0a3.5 3.5 0 1 0 -7.0 0M440.9 455.2a3.5 3.5 0 1 0 7.0 0a3.5 3.5 0 1 0 -7.0 0M445.5 455.5a3.5 3.5 0 1 0 7.0 0a3.5 3.5 0 1 0 -7.0 0M450.2 456.8a3.5 3.5 0 1 0 7.0 0a3.5 3.5 0 1 0 -7.0 0M454.8 458.7a3.5 3.5 0 1 0 7.0 0a3.5 3.5 0 1 0 -7.0 0M459.4 457.1a3.5 3.5 0 1 0 7.0 0a3.5 3.5 0 1 0 -7.0 0M464.1 459.0a3.5 3.5 0 1 0 7.0 0a3.5 3.5 0 1 0 -7.0 0M468.7 460.5a3.5 3.5 0 1 0 7.0 0a3.5 3.5 0 1 0 -7.0 0M473.4 460.6a3.5 3.5 0 1 0 7.0 0a3.5 3.5 0 1 0 -7.0 0M478.0 461.0a3.5 3.5 0 1 0 7.0 0a3.5 3.5 0 1 0 -7.0 0M482.7 461.0a3.5 3.5 0 1 0 7.0 0a3.5 3.5 0 1 0 -7.0 0M487.3 460.3a3.5 3.5 0 1 0 7.0 0a3.5 3.5 0 1 0 -7.0 0M492.0 461.3a3.5 3.5 0 1 0 7.0 0a3.5 3.5 0 1 0 -7.0 0M496.6 461.9a3.5 3.5 0 1 0 7.0 0a3.5 3.5 0 1 0 -7.0 0M501.3 461.7a3.5 3.5 0 1 0 7.0 0a3.5 3.5 0 1 0 -7.0 0M505.9 463.8a3.5 3.5 0 1 0 7.0 0a3.5 3.5 0 1 0 -7.0 0M510.6 465.1a3.5 3.5 0 1 0 7.0 0a3.5 3.5 0 1 0 -7.0 0M515.2 465.4a3.5 3.5 0 1 0 7.0 0a3.5 3.5 0 1 0 -7.0 0M519.8 464.1a3.5 3.5 0 1 0 7.0 0a3.5 3.5 0 1 0 -7.0 0M524.5 465.7a3.5 3.5 0 1 0 7.0 0a3.5 3.5 0 1 0 -7.0 0M529.1 469.6a3.5 3.5 0 1 0 7.0 0a3.5 3.5 0 1 0 -7.0 0M533.8 470.2a3.5 3.5 0 1 0 7.0 0a3.5 3.5 0 1 0 -7.0 0M538.4 468.0a3.5 3.5 0 1 0 7.0 0a3.5 3.5 0 1 0 -7.0 0M543.1 467.9a3.5 3.5 0 1 0 7.0 0a3.5 3.5 0 1 0 -7.0 0M547.7 468.7a3.5 3.5 0 1 0 7.0 0a3.5 3.5 0 1 0 -7.0 0M552.4 469.6a3.5 3.5 0 1 0 7.0 0a3.5 3.5 0 1 0 -7.0 0M557.0 473.6a3.5 3.5 0 1 0 7.0 0a3.5 3.5 0 1 0 -7.0 0M561.7 471.8a3.5 3.5 0 1 0 7.0 0a3.5 3.5 0 1 0 -7.0 0M566.3 476.5a3.5 3.5 0 1 0 7.0 0a3.5 3.5 0 1 0 -7.0 0M571.0 476.2a3.5 3.5 0 1 0 7.0 0a3.5 3.5 0 1 0 -7.0 0M575.6 475.9a3.5 3.5 0 1 0 7.0 0a3.5 3.5 0 1 0 -7.0 0M580.2 477.4a3.5 3.5 0 1 0 7.0 0a3.5 3.5 0 1 0 -7.0 0M584.9 478.6a3.5 3.5 0 1 0 7.0 0a3.5 3.5 0 1 0 -7.0 0M589.5 481.3a3.5 3.5 0 1 0 7.0 0a3.5 3.5 0 1 0 -7.0 0M594.2 480.9a3.5 3.5 0 1 0 7.0 0a3.5 3.5 0 1 0 -7.0 0M598.8 483.2a3.5 3.5 0 1 0 7.0 0a3.5 3.5 0 1 0 -7.0 0M603.5 485.5a3.5 3.5 0 1 0 7.0 0a3.5 3.5 0 1 0 -7.0 0M608.1 483.7a3.5 3.5 0 1 0 7.0 0a3.5 3.5 0 1 0 -7.0 0" stroke="#a0174f" stroke-width="1.4" fill="none"/>
<path d="M258.3 409.1 259.5 409.8 260.8 410.4 262.0 411.0 263.2 411.6 264.4 412.2 265.6 412.8 266.8 413.4 268.0 414.0 269.2 414.6 270.4 415.2 271.6 415.8 272.8 416.4 274.1 416.9 275.3 417.5 276.5 418.1 277.7 418.7 278.9 419.2 280.1 419.8 281.3 420.3 282.5 420.9 283.7 421.4 284.9 422.0 286.1 422.5 287.4 423.0 288.6 423.6 289.8 424.1 291.0 424.6 292.2 425.1 293.4 425.6 294.6 426.1 295.8 426.6 297.0 427.1 298.2 427.6 299.4 428.1 300.6 428.6 301.9 429.0 303.1 429.5 304.3 430.0 305.5 430.4 306.7 430.9 307.9 431.3 309.1 431.8 310.3 432.2 311.5 432.6 312.7 433.1 313.9 433.5 315.2 433.9 316.4 434.3 317.6 434.7 318.8 435.1 320.0 435.5 321.2 435.9 322.4 436.3 323.6 436.7 324.8 437.1 326.0 437.5 327.2 437.8 328.5 438.2 329.7 438.6 330.9 438.9 332.1 439.3 333.3 439.6 334.5 440.0 335.7 440.3 336.9 440.7 338.1 441.0 339.3 441.4 340.5 441.7 341.7 442.0 343.0 442.4 344.2 442.7 345.4 443.0 346.6 443.4 347.8 443.7 349.0 444.0 350.2 444.4 351.4 444.7 352.6 445.0 353.8 445.3 355.0 445.6 356.3 446.0 357.5 446.3 358.7 446.6 359.9 446.9 361.1 447.3 362.3 447.6 363.5 447.9 364.7 448.2 365.9 448.6 367.1 448.9 368.3 449.2 369.6 449.5 370.8 449.9 372.0 450.2 373.2 450.5 374.4 450.9 375.6 451.2 376.8 451.5 378.0 451.8 379.2 452.2 380.4 452.5 381.6 452.8 382.8 453.1 384.1 453.5 385.3 453.8 386.5 454.1 387.7 454.4 388.9 454.7 390.1 455.0 391.3 455.4 392.5 455.7 393.7 456.0 394.9 456.3 396.1 456.6 397.4 456.9 398.6 457.2 399.8 457.5 401.0 457.8 402.2 458.0 403.4 458.3 404.6 458.6 405.8 458.9 407.0 459.1 408.2 459.4 409.4 459.7 410.7 459.9 411.9 460.2 413.1 460.4 414.3 460.7 415.5 460.9 416.7 461.2 417.9 461.4 419.1 461.6 420.3 461.9 421.5 462.1 422.7 462.3 423.9 462.6 425.2 462.8 426.4 463.0 427.6 463.2 428.8 463.4 430.0 463.6 431.2 463.9 432.4 464.1 433.6 464.3 434.8 464.5 436.0 464.7 437.2 464.9 438.5 465.1 439.7 465.3 440.9 465.5 442.1 465.7 443.3 465.9 444.5 466.1 445.7 466.2 446.9 466.4 448.1 466.6 449.3 466.8 450.5 467.0 451.8 467.2 453.0 467.4 454.2 467.5 455.4 467.7 456.6 467.9 457.8 468.1 459.0 468.3 460.2 468.4 461.4 468.6 462.6 468.8 463.8 469.0 465.0 469.1 466.3 469.3 467.5 469.5 468.7 469.6 469.9 469.8 471.1 470.0 472.3 470.1 473.5 470.3 474.7 470.4 475.9 470.6 477.1 470.7 478.3 470.9 479.6 471.0 480.8 471.2 482.0 471.3 483.2 471.4 484.4 471.6 485.6 471.7 486.8 471.9 488.0 472.0 489.2 472.1 490.4 472.3 491.6 472.4 492.8 472.5 494.1 472.7 495.3 472.8 496.5 473.0 497.7 473.1 498.9 473.2 500.1 473.4 501.3 473.5 502.5 473.7 503.7 473.8 504.9 474.0 506.1 474.1 507.4 474.3 508.6 474.4 509.8 474.6 511.0 474.8 512.2 474.9 513.4 475.1 514.6 475.3 515.8 475.5 517.0 475.7 518.2 475.8 519.4 476.0 520.7 476.2 521.9 476.4 523.1 476.6 524.3 476.8 525.5 477.0 526.7 477.2 527.9 477.4 529.1 477.6 530.3 477.8 531.5 478.0 532.7 478.2 533.9 478.5 535.2 478.7 536.4 478.9 537.6 479.1 538.8 479.3 540.0 479.5 541.2 479.8 542.4 480.0 543.6 480.2 544.8 480.4 546.0 480.7 547.2 480.9 548.5 481.1 549.7 481.4 550.9 481.6 552.1 481.9 553.3 482.1 554.5 482.3 555.7 482.6 556.9 482.8 558.1 483.1 559.3 483.3 560.5 483.6 561.8 483.8 563.0 484.1 564.2 484.4 565.4 484.6 566.6 484.9 567.8 485.1 569.0 485.4 570.2 485.7 571.4 485.9 572.6 486.2 573.8 486.5 575.0 486.8 576.3 487.0 577.5 487.3 578.7 487.6 579.9 487.9 581.1 488.2 582.3 488.4 583.5 488.7 584.7 489.0 585.9 489.3 587.1 489.6 588.3 489.9 589.6 490.2 590.8 490.5 592.0 490.8 593.2 491.1 594.4 491.4 595.6 491.7 596.8 492.0 598.0 492.3 599.2 492.6 600.4 492.9 601.6 493.2 602.9 493.5 604.1 493.9 605.3 494.2 606.5 494.5 607.7 494.8 608.9 495.1 610.1 495.5 611.3 495.8 612.5 496.1 613.7 496.5 614.9 496.8" stroke="#5cc882" stroke-width="1.9" fill="none" stroke-linejoin="round"/>
<path d="M258.7 413.8l4.5 -7.8l4.5 7.8zM263.3 417.1l4.5 -7.8l4.5 7.8zM268.0 419.0l4.5 -7.8l4.5 7.8zM272.6 419.3l4.5 -7.8l4.5 7.8zM277.3 421.2l4.5 -7.8l4.5 7.8zM281.9 424.3l4.5 -7.8l4.5 7.8zM286.5 428.6l4.5 -7.8l4.5 7.8zM291.2 428.7l4.5 -7.8l4.5 7.8zM295.8 430.8l4.5 -7.8l4.5 7.8zM300.5 433.6l4.5 -7.8l4.5 7.8zM305.1 432.8l4.5 -7.8l4.5 7.8zM309.8 437.3l4.5 -7.8l4.5 7.8zM314.4 437.7l4.5 -7.8l4.5 7.8zM319.1 440.8l4.5 -7.8l4.5 7.8zM323.7 439.1l4.5 -7.8l4.5 7.8zM328.4 441.5l4.5 -7.8l4.5 7.8zM333.0 444.0l4.5 -7.8l4.5 7.8zM337.6 445.7l4.5 -7.8l4.5 7.8zM342.3 445.7l4.5 -7.8l4.5 7.8zM346.9 448.1l4.5 -7.8l4.5 7.8zM351.6 448.4l4.5 -7.8l4.5 7.8zM356.2 452.2l4.5 -7.8l4.5 7.8zM360.9 452.9l4.5 -7.8l4.5 7.8zM365.5 448.8l4.5 -7.8l4.5 7.8zM370.2 452.6l4.5 -7.8l4.5 7.8zM374.8 456.1l4.5 -7.8l4.5 7.8zM379.5 455.7l4.5 -7.8l4.5 7.8zM384.1 455.0l4.5 -7.8l4.5 7.8zM388.8 455.8l4.5 -7.8l4.5 7.8zM393.4 456.9l4.5 -7.8l4.5 7.8zM398.0 459.2l4.5 -7.8l4.5 7.8zM402.7 461.6l4.5 -7.8l4.5 7.8zM407.3 463.9l4.5 -7.8l4.5 7.8zM412.0 462.0l4.5 -7.8l4.5 7.8zM416.6 463.8l4.5 -7.8l4.5 7.8zM421.3 465.0l4.5 -7.8l4.5 7.8zM425.9 464.1l4.5 -7.8l4.5 7.8zM430.6 465.1l4.5 -7.8l4.5 7.8zM435.2 469.1l4.5 -7.8l4.5 7.8zM439.9 468.9l4.5 -7.8l4.5 7.8zM444.5 472.4l4.5 -7.8l4.5 7.8zM449.2 472.3l4.5 -7.8l4.5 7.8zM453.8 470.3l4.5 -7.8l4.5 7.8zM458.4 470.4l4.5 -7.8l4.5 7.8zM463.1 470.7l4.5 -7.8l4.5 7.8zM467.7 472.0l4.5 -7.8l4.5 7.8zM472.4 477.7l4.5 -7.8l4.5 7.8zM477.0 472.2l4.5 -7.8l4.5 7.8zM481.7 471.8l4.5 -7.8l4.5 7.8zM486.3 476.3l4.5 -7.8l4.5 7.8zM491.0 474.3l4.5 -7.8l4.5 7.8zM495.6 476.2l4.5 -7.8l4.5 7.8zM500.3 476.7l4.5 -7.8l4.5 7.8zM504.9 476.5l4.5 -7.8l4.5 7.8zM509.6 478.1l4.5 -7.8l4.5 7.8zM514.2 480.1l4.5 -7.8l4.5 7.8zM518.8 481.6l4.5 -7.8l4.5 7.8zM523.5 481.6l4.5 -7.8l4.5 7.8zM528.1 480.1l4.5 -7.8l4.5 7.8zM532.8 481.7l4.5 -7.8l4.5 7.8zM537.4 483.2l4.5 -7.8l4.5 7.8zM542.1 482.0l4.5 -7.8l4.5 7.8zM546.7 483.9l4.5 -7.8l4.5 7.8zM551.4 487.1l4.5 -7.8l4.5 7.8zM556.0 485.8l4.5 -7.8l4.5 7.8zM560.7 488.3l4.5 -7.8l4.5 7.8zM565.3 486.0l4.5 -7.8l4.5 7.8zM570.0 487.7l4.5 -7.8l4.5 7.8zM574.6 492.8l4.5 -7.8l4.5 7.8zM579.2 493.6l4.5 -7.8l4.5 7.8zM583.9 492.0l4.5 -7.8l4.5 7.8zM588.5 495.3l4.5 -7.8l4.5 7.8zM593.2 494.2l4.5 -7.8l4.5 7.8zM597.8 494.8l4.5 -7.8l4.5 7.8zM602.5 497.6l4.5 -7.8l4.5 7.8zM607.1 501.3l4.5 -7.8l4.5 7.8z" stroke="#5cc882" stroke-width="1.4" fill="none"/>
<path d="M204.64 578.00v-10.5M204.64 2.40v10.5M325.32 578.00v-10.5M325.32 2.40v10.5M445.99 578.00v-10.5M445.99 2.40v10.5M566.67 578.00v-10.5M566.67 2.40v10.5M687.35 578.00v-10.5M687.35 2.40v10.5M808.02 578.00v-10.5M808.02 2.40v10.5M928.70 578.00v-10.5M928.70 2.40v10.5M144.30 578.00v-5.5M144.30 2.40v5.5M264.98 578.00v-5.5M264.98 2.40v5.5M385.65 578.00v-5.5M385.65 2.40v5.5M506.33 578.00v-5.5M506.33 2.40v5.5M627.01 578.00v-5.5M627.01 2.40v5.5M747.68 578.00v-5.5M747.68 2.40v5.5M868.36 578.00v-5.5M868.36 2.40v5.5M144.30 578.00h12M928.70 578.00h-12M144.30 539.26h6M928.70 539.26h-6M144.30 516.59h6M928.70 516.59h-6M144.30 500.51h6M928.70 500.51h-6M144.30 488.04h6M928.70 488.04h-6M144.30 477.85h6M928.70 477.85h-6M144.30 469.24h6M928.70 469.24h-6M144.30 461.77h6M928.70 461.77h-6M144.30 455.19h6M928.70 455.19h-6M144.30 449.30h12M928.70 449.30h-12M144.30 410.56h6M928.70 410.56h-6M144.30 387.89h6M928.70 387.89h-6M144.30 371.81h6M928.70 371.81h-6M144.30 359.34h6M928.70 359.34h-6M144.30 349.15h6M928.70 349.15h-6M144.30 340.54h6M928.70 340.54h-6M144.30 333.07h6M928.70 333.07h-6M144.30 326.49h6M928.70 326.49h-6M144.30 320.60h12M928.70 320.60h-12M144.30 281.86h6M928.70 281.86h-6M144.30 259.19h6M928.70 259.19h-6M144.30 243.11h6M928.70 243.11h-6M144.30 230.64h6M928.70 230.64h-6M144.30 220.45h6M928.70 220.45h-6M144.30 211.84h6M928.70 211.84h-6M144.30 204.37h6M928.70 204.37h-6M144.30 197.79h6M928.70 197.79h-6M144.30 191.90h12M928.70 191.90h-12M144.30 153.16h6M928.70 153.16h-6M144.30 130.49h6M928.70 130.49h-6M144.30 114.41h6M928.70 114.41h-6M144.30 101.94h6M928.70 101.94h-6M144.30 91.75h6M928.70 91.75h-6M144.30 83.14h6M928.70 83.14h-6M144.30 75.67h6M928.70 75.67h-6M144.30 69.09h6M928.70 69.09h-6M144.30 63.20h12M928.70 63.20h-12M144.30 24.46h6M928.70 24.46h-6" stroke="#000" stroke-width="2.4" fill="none"/>
<rect x="144.30" y="2.40" width="784.40" height="575.60" stroke="#000" stroke-width="2.7" fill="none"/>
<text x="119.8" y="77.0" text-anchor="end" font-size="32">10</text>
<text x="131.2" y="63.6" text-anchor="end" font-size="22">1</text>
<text x="119.8" y="205.7" text-anchor="end" font-size="32">10</text>
<text x="131.2" y="192.3" text-anchor="end" font-size="22">0</text>
<text x="111.4" y="334.4" text-anchor="end" font-size="32">10</text>
<text x="131.2" y="321.0" text-anchor="end" font-size="22">-1</text>
<text x="111.4" y="463.1" text-anchor="end" font-size="32">10</text>
<text x="131.2" y="449.7" text-anchor="end" font-size="22">-2</text>
<text x="111.4" y="591.8" text-anchor="end" font-size="32">10</text>
<text x="131.2" y="578.4" text-anchor="end" font-size="22">-3</text>
<text x="204.6" y="616.2" text-anchor="middle"  font-size="32">-2</text>
<text x="325.3" y="616.2" text-anchor="middle"  font-size="32">0</text>
<text x="446.0" y="616.2" text-anchor="middle"  font-size="32">2</text>
<text x="566.7" y="616.2" text-anchor="middle"  font-size="32">4</text>
<text x="687.3" y="616.2" text-anchor="middle"  font-size="32">6</text>
<text x="808.0" y="616.2" text-anchor="middle"  font-size="32">8</text>
<text x="928.7" y="616.2" text-anchor="middle"  font-size="32">10</text>
<path d="M144.3 753.2 146.5 752.6 148.8 752.1 151.0 751.5 153.3 751.1 155.5 750.7 157.8 750.4 160.0 750.1 162.3 749.9 164.5 749.8 166.7 749.8 169.0 749.9 171.2 750.0 173.5 750.2 175.7 750.5 178.0 750.8 180.2 751.2 182.5 751.6 184.7 752.1 186.9 752.6 189.2 753.2 191.4 753.8 193.7 754.4 195.9 755.0 198.2 755.7 200.4 756.4 202.7 757.1 204.9 757.8 207.1 758.5 209.4 759.2 211.6 759.9 213.9 760.7 216.1 761.5 218.4 762.4 220.6 763.3 222.9 764.4 225.1 765.5 227.3 766.6 229.6 767.8 231.8 769.0 234.1 770.3 236.3 771.6 238.6 772.9 240.8 774.2 243.1 775.5 245.3 776.8 247.5 778.1 249.8 779.5 252.0 780.8 254.3 782.0 256.5 783.3 258.8 784.6 261.0 785.9 263.3 787.2 265.5 788.5 267.7 789.8 270.0 791.2 272.2 792.5 274.5 793.9 276.7 795.3 279.0 796.7 281.2 798.0 283.4 799.4 285.7 800.9 287.9 802.3 290.2 803.7 292.4 805.1 294.7 806.5 296.9 808.0 299.2 809.4 301.4 810.8 303.6 812.3 305.9 813.7 308.1 815.2 310.4 816.7 312.6 818.2 314.9 819.7 317.1 821.2 319.4 822.7 321.6 824.3 323.8 825.8 326.1 827.3 328.3 828.9 330.6 830.4 332.8 831.9 335.1 833.4 337.3 834.9 339.6 836.4 341.8 837.9 344.0 839.3 346.3 840.8 348.5 842.2 350.8 843.7 353.0 845.1 355.3 846.5 357.5 847.9 359.8 849.3 362.0 850.7 364.2 852.2 366.5 853.6 368.7 855.0 371.0 856.4 373.2 857.8 375.5 859.1 377.7 860.5 380.0 861.9 382.2 863.3 384.4 864.7 386.7 866.0 388.9 867.4 391.2 868.8 393.4 870.1 395.7 871.5 397.9 872.9 400.2 874.2 402.4 875.6 404.6 876.9 406.9 878.3 409.1 879.6 411.4 881.0 413.6 882.3 415.9 883.6 418.1 885.0 420.4 886.3 422.6 887.6 424.8 889.0 427.1 890.3 429.3 891.6 431.6 892.9 433.8 894.2 436.1 895.5 438.3 896.9 440.6 898.2 442.8 899.5 445.0 900.8 447.3 902.1 449.5 903.4 451.8 904.7 454.0 906.0 456.3 907.3 458.5 908.6 460.8 909.9 463.0 911.2 465.2 912.5 467.5 913.8 469.7 915.1 472.0 916.4 474.2 917.7 476.5 919.0 478.7 920.3 481.0 921.6 483.2 922.9 485.4 924.2 487.7 925.4 489.9 926.7 492.2 928.0 494.4 929.3 496.7 930.5 498.9 931.8 501.2 933.1 503.4 934.3 505.6 935.6 507.9 936.8 510.1 938.0 512.4 939.3 514.6 940.5 516.9 941.7 519.1 942.9 521.4 944.1 523.6 945.3 525.8 946.5 528.1 947.7 530.3 948.9 532.6 950.1 534.8 951.2 537.1 952.4 539.3 953.5 541.6 954.6 543.8 955.8 546.0 956.9 548.3 958.0 550.5 959.1 552.8 960.2 555.0 961.3 557.3 962.4 559.5 963.5 561.7 964.5 564.0 965.6 566.2 966.7 568.5 967.7 570.7 968.8 573.0 969.8 575.2 970.9 577.5 971.9 579.7 973.0 581.9 974.0 584.2 975.0 586.4 976.0 588.7 977.0 590.9 978.1 593.2 979.1 595.4 980.1 597.7 981.1 599.9 982.1 602.1 983.0 604.4 984.0 606.6 985.0 608.9 986.0 611.1 987.0 613.4 987.9 615.6 988.9 617.9 989.9 620.1 990.8 622.3 991.8 624.6 992.7 626.8 993.7 629.1 994.6 631.3 995.6 633.6 996.5 635.8 997.4 638.1 998.4 640.3 999.3 642.5 1000.2 644.8 1001.2 647.0 1002.1 649.3 1003.0 651.5 1004.0 653.8 1004.9 656.0 1005.9 658.3 1006.8 660.5 1007.7 662.7 1008.7 665.0 1009.6 667.2 1010.5 669.5 1011.4 671.7 1012.3 674.0 1013.2 676.2 1014.1 678.5 1015.0 680.7 1015.9 682.9 1016.7 685.2 1017.6 687.4 1018.4 689.7 1019.2 691.9 1020.0 694.2 1020.7 696.4 1021.5 698.7 1022.2 700.9 1022.9 703.1 1023.6 705.4 1024.3 707.6 1024.9 709.9 1025.6 712.1 1026.2 714.4 1026.8 716.6 1027.3 718.9 1027.9 721.1 1028.4 723.3 1029.0 725.6 1029.5 727.8 1030.0 730.1 1030.5 732.3 1031.1 734.6 1031.6 736.8 1032.1 739.1 1032.7 741.3 1033.2 743.5 1033.8 745.8 1034.3 748.0 1034.9 750.3 1035.5 752.5 1036.0 754.8 1036.6 757.0 1037.2 759.3 1037.8 761.5 1038.3 763.7 1038.9 766.0 1039.5 768.2 1040.1 770.5 1040.6 772.7 1041.2 775.0 1041.8 777.2 1042.3 779.5 1042.9 781.7 1043.4 783.9 1044.0 786.2 1044.5 788.4 1045.0 790.7 1045.6 792.9 1046.1 795.2 1046.6 797.4 1047.1 799.7 1047.6 801.9 1048.2 804.1 1048.7 806.4 1049.2 808.6 1049.7 810.9 1050.2 813.1 1050.7 815.4 1051.2 817.6 1051.7 819.9 1052.1 822.1 1052.6 824.3 1053.1 826.6 1053.6 828.8 1054.0 831.1 1054.5 833.3 1054.9 835.6 1055.4 837.8 1055.8 840.0 1056.2 842.3 1056.7 844.5 1057.2 846.8 1057.7 849.0 1058.2 851.3 1058.7 853.5 1059.2 855.8 1059.7 858.0 1060.1 860.2 1060.6 862.5 1061.0 864.7 1061.4 867.0 1061.8 869.2 1062.1 871.5 1062.4 873.7 1062.6 876.0 1062.7 878.2 1062.8 880.4 1062.8 882.7 1062.7 884.9 1062.6 887.2 1062.5 889.4 1062.3 891.7 1062.0 893.9 1061.8 896.2 1061.5 898.4 1061.1 900.6 1060.8 902.9 1060.4 905.1 1059.9 907.4 1059.5 909.6 1058.7 911.9 1057.8 914.1 1056.5 916.4 1055.1 918.6 1053.6 920.8 1051.9 923.1 1050.1 925.3 1048.2 927.6 1046.2" stroke="#e8291c" stroke-width="1.7" fill="none" stroke-linejoin="round"/>
<path d="M144.3 790.4 146.5 788.6 148.8 786.7 151.0 784.9 153.3 783.1 155.5 781.4 157.8 779.7 160.0 778.0 162.3 776.4 164.5 774.8 166.7 773.3 169.0 771.8 171.2 770.4 173.5 769.0 175.7 767.7 178.0 766.4 180.2 765.1 182.5 764.0 184.7 762.8 186.9 761.7 189.2 760.7 191.4 759.7 193.7 758.8 195.9 757.9 198.2 757.0 200.4 756.1 202.7 755.2 204.9 754.3 207.1 753.4 209.4 752.6 211.6 751.9 213.9 751.3 216.1 750.7 218.4 750.3 220.6 750.0 222.9 749.8 225.1 749.8 227.3 749.9 229.6 750.0 231.8 750.3 234.1 750.6 236.3 750.9 238.6 751.3 240.8 751.7 243.1 752.2 245.3 752.8 247.5 753.3 249.8 753.9 252.0 754.5 254.3 755.1 256.5 755.8 258.8 756.4 261.0 757.0 263.3 757.7 265.5 758.4 267.7 759.2 270.0 760.1 272.2 761.0 274.5 762.1 276.7 763.1 279.0 764.3 281.2 765.5 283.4 766.7 285.7 767.9 287.9 769.2 290.2 770.5 292.4 771.8 294.7 773.2 296.9 774.5 299.2 775.8 301.4 777.1 303.6 778.4 305.9 779.7 308.1 781.0 310.4 782.3 312.6 783.6 314.9 785.0 317.1 786.4 319.4 787.8 321.6 789.2 323.8 790.6 326.1 792.1 328.3 793.5 330.6 795.0 332.8 796.4 335.1 797.9 337.3 799.4 339.6 800.8 341.8 802.3 344.0 803.7 346.3 805.2 348.5 806.6 350.8 808.1 353.0 809.5 355.3 811.0 357.5 812.5 359.8 814.0 362.0 815.4 364.2 816.9 366.5 818.4 368.7 819.9 371.0 821.3 373.2 822.8 375.5 824.3 377.7 825.8 380.0 827.3 382.2 828.7 384.4 830.2 386.7 831.7 388.9 833.2 391.2 834.7 393.4 836.2 395.7 837.6 397.9 839.1 400.2 840.6 402.4 842.0 404.6 843.5 406.9 844.9 409.1 846.4 411.4 847.8 413.6 849.3 415.9 850.8 418.1 852.2 420.4 853.7 422.6 855.1 424.8 856.6 427.1 858.0 429.3 859.5 431.6 860.9 433.8 862.3 436.1 863.8 438.3 865.2 440.6 866.7 442.8 868.1 445.0 869.5 447.3 870.9 449.5 872.4 451.8 873.8 454.0 875.2 456.3 876.6 458.5 878.0 460.8 879.3 463.0 880.7 465.2 882.1 467.5 883.4 469.7 884.8 472.0 886.1 474.2 887.5 476.5 888.8 478.7 890.1 481.0 891.5 483.2 892.8 485.4 894.1 487.7 895.4 489.9 896.7 492.2 898.0 494.4 899.3 496.7 900.6 498.9 901.9 501.2 903.2 503.4 904.4 505.6 905.7 507.9 907.0 510.1 908.2 512.4 909.5 514.6 910.7 516.9 912.0 519.1 913.2 521.4 914.5 523.6 915.7 525.8 917.0 528.1 918.2 530.3 919.4 532.6 920.7 534.8 921.9 537.1 923.1 539.3 924.3 541.6 925.5 543.8 926.7 546.0 928.0 548.3 929.2 550.5 930.4 552.8 931.6 555.0 932.8 557.3 934.0 559.5 935.2 561.7 936.4 564.0 937.6 566.2 938.8 568.5 940.1 570.7 941.3 573.0 942.5 575.2 943.7 577.5 944.9 579.7 946.0 581.9 947.2 584.2 948.4 586.4 949.6 588.7 950.8 590.9 952.0 593.2 953.1 595.4 954.3 597.7 955.5 599.9 956.6 602.1 957.8 604.4 958.9 606.6 960.0 608.9 961.2 611.1 962.3 613.4 963.4 615.6 964.5 617.9 965.6 620.1 966.7 622.3 967.8 624.6 968.8 626.8 969.9 629.1 970.9 631.3 972.0 633.6 973.0 635.8 974.0 638.1 975.1 640.3 976.1 642.5 977.1 644.8 978.0 647.0 979.0 649.3 980.0 651.5 981.0 653.8 981.9 656.0 982.9 658.3 983.9 660.5 984.8 662.7 985.8 665.0 986.7 667.2 987.6 669.5 988.6 671.7 989.5 674.0 990.4 676.2 991.3 678.5 992.2 680.7 993.1 682.9 994.0 685.2 994.9 687.4 995.8 689.7 996.7 691.9 997.6 694.2 998.5 696.4 999.3 698.7 1000.2 700.9 1001.1 703.1 1001.9 705.4 1002.8 707.6 1003.6 709.9 1004.5 712.1 1005.3 714.4 1006.1 716.6 1007.0 718.9 1007.8 721.1 1008.6 723.3 1009.5 725.6 1010.3 727.8 1011.1 730.1 1011.9 732.3 1012.7 734.6 1013.5 736.8 1014.3 739.1 1015.1 741.3 1015.9 743.5 1016.7 745.8 1017.5 748.0 1018.3 750.3 1019.1 752.5 1019.9 754.8 1020.7 757.0 1021.5 759.3 1022.3 761.5 1023.1 763.7 1023.9 766.0 1024.7 768.2 1025.5 770.5 1026.3 772.7 1027.1 775.0 1027.9 777.2 1028.6 779.5 1029.4 781.7 1030.2 783.9 1030.9 786.2 1031.6 788.4 1032.4 790.7 1033.1 792.9 1033.8 795.2 1034.5 797.4 1035.1 799.7 1035.8 801.9 1036.4 804.1 1037.1 806.4 1037.7 808.6 1038.2 810.9 1038.8 813.1 1039.3 815.4 1039.8 817.6 1040.3 819.9 1040.8 822.1 1041.3 824.3 1041.8 826.6 1042.4 828.8 1042.9 831.1 1043.4 833.3 1043.9 835.6 1044.4 837.8 1044.9 840.0 1045.4 842.3 1045.9 844.5 1046.4 846.8 1046.8 849.0 1047.3 851.3 1047.7 853.5 1048.1 855.8 1048.5 858.0 1048.9 860.2 1049.2 862.5 1049.6 864.7 1049.9 867.0 1050.1 869.2 1050.4 871.5 1050.6 873.7 1050.7 876.0 1050.9 878.2 1051.0 880.4 1051.0 882.7 1051.0 884.9 1051.0 887.2 1050.8 889.4 1050.6 891.7 1050.3 893.9 1050.0 896.2 1049.6 898.4 1049.2 900.6 1048.7 902.9 1048.2 905.1 1047.7 907.4 1047.2 909.6 1046.6 911.9 1045.8 914.1 1044.9 916.4 1043.9 918.6 1042.8 920.8 1041.6 923.1 1040.3 925.3 1039.0 927.6 1037.7" stroke="#66cc00" stroke-width="1.7" fill="none" stroke-linejoin="round"/>
<path d="M144.3 842.0 146.5 839.9 148.8 837.8 151.0 835.7 153.3 833.6 155.5 831.5 157.7 829.4 160.0 827.3 162.2 825.2 164.5 823.1 166.7 821.0 169.0 818.9 171.2 816.8 173.4 814.6 175.7 812.4 177.9 810.2 180.2 808.0 182.4 805.7 184.6 803.5 186.9 801.3 189.1 799.1 191.4 796.9 193.6 794.7 195.8 792.5 198.1 790.4 200.3 788.3 202.6 786.3 204.8 784.3 207.1 782.4 209.3 780.5 211.5 778.7 213.8 777.0 216.0 775.2 218.3 773.3 220.5 771.5 222.7 769.6 225.0 767.8 227.2 766.0 229.5 764.2 231.7 762.5 233.9 760.9 236.2 759.3 238.4 757.9 240.7 756.5 242.9 755.3 245.2 754.3 247.4 753.4 249.6 752.7 251.9 752.1 254.1 751.6 256.4 751.1 258.6 750.6 260.8 750.1 263.1 749.7 265.3 749.3 267.6 749.0 269.8 748.8 272.0 748.6 274.3 748.5 276.5 748.4 278.8 748.5 281.0 748.6 283.3 748.8 285.5 749.0 287.7 749.3 290.0 749.7 292.2 750.0 294.5 750.4 296.7 750.9 298.9 751.3 301.2 751.8 303.4 752.3 305.7 752.7 307.9 753.4 310.1 754.0 312.4 754.8 314.6 755.7 316.9 756.6 319.1 757.6 321.4 758.7 323.6 759.8 325.8 761.0 328.1 762.2 330.3 763.4 332.6 764.6 334.8 765.8 337.0 767.1 339.3 768.3 341.5 769.5 343.8 770.7 346.0 771.9 348.2 773.2 350.5 774.4 352.7 775.7 355.0 777.0 357.2 778.3 359.4 779.7 361.7 781.0 363.9 782.4 366.2 783.8 368.4 785.3 370.7 786.7 372.9 788.1 375.1 789.6 377.4 791.1 379.6 792.6 381.9 794.1 384.1 795.6 386.3 797.1 388.6 798.6 390.8 800.1 393.1 801.6 395.3 803.1 397.5 804.6 399.8 806.1 402.0 807.6 404.3 809.1 406.5 810.6 408.8 812.1 411.0 813.5 413.2 815.0 415.5 816.4 417.7 817.9 420.0 819.4 422.2 820.8 424.4 822.3 426.7 823.8 428.9 825.2 431.2 826.7 433.4 828.2 435.6 829.7 437.9 831.1 440.1 832.6 442.4 834.1 444.6 835.5 446.9 837.0 449.1 838.5 451.3 839.9 453.6 841.4 455.8 842.8 458.1 844.2 460.3 845.6 462.5 847.0 464.8 848.4 467.0 849.9 469.3 851.3 471.5 852.7 473.7 854.1 476.0 855.5 478.2 856.9 480.5 858.3 482.7 859.7 485.0 861.1 487.2 862.4 489.4 863.8 491.7 865.2 493.9 866.6 496.2 868.0 498.4 869.3 500.6 870.7 502.9 872.1 505.1 873.4 507.4 874.8 509.6 876.2 511.8 877.5 514.1 878.9 516.3 880.2 518.6 881.6 520.8 882.9 523.1 884.3 525.3 885.6 527.5 886.9 529.8 888.3 532.0 889.6 534.3 890.9 536.5 892.2 538.7 893.5 541.0 894.8 543.2 896.2 545.5 897.5 547.7 898.8 549.9 900.1 552.2 901.4 554.4 902.7 556.7 904.0 558.9 905.2 561.2 906.5 563.4 907.8 565.6 909.1 567.9 910.4 570.1 911.7 572.4 913.0 574.6 914.2 576.8 915.5 579.1 916.8 581.3 918.0 583.6 919.3 585.8 920.6 588.0 921.8 590.3 923.1 592.5 924.3 594.8 925.6 597.0 926.8 599.3 928.0 601.5 929.2 603.7 930.5 606.0 931.7 608.2 932.9 610.5 934.1 612.7 935.3 614.9 936.5 617.2 937.7 619.4 938.9 621.7 940.1 623.9 941.3 626.1 942.4 628.4 943.6 630.6 944.7 632.9 945.9 635.1 947.1 637.4 948.2 639.6 949.4 641.8 950.5 644.1 951.7 646.3 952.8 648.6 953.9 650.8 955.1 653.0 956.2 655.3 957.4 657.5 958.5 659.8 959.6 662.0 960.7 664.2 961.9 666.5 963.0 668.7 964.1 671.0 965.2 673.2 966.3 675.5 967.4 677.7 968.5 679.9 969.6 682.2 970.7 684.4 971.8 686.7 972.8 688.9 973.9 691.1 975.0 693.4 976.0 695.6 977.1 697.9 978.1 700.1 979.2 702.3 980.2 704.6 981.2 706.8 982.3 709.1 983.3 711.3 984.3 713.6 985.3 715.8 986.3 718.0 987.2 720.3 988.2 722.5 989.2 724.8 990.1 727.0 991.1 729.2 992.0 731.5 992.9 733.7 993.8 736.0 994.7 738.2 995.6 740.4 996.4 742.7 997.3 744.9 998.1 747.2 998.9 749.4 999.8 751.6 1000.6 753.9 1001.4 756.1 1002.3 758.4 1003.1 760.6 1003.9 762.9 1004.7 765.1 1005.5 767.3 1006.3 769.6 1007.1 771.8 1007.9 774.1 1008.7 776.3 1009.5 778.5 1010.2 780.8 1011.0 783.0 1011.8 785.3 1012.5 787.5 1013.3 789.7 1014.0 792.0 1014.8 794.2 1015.6 796.5 1016.3 798.7 1017.1 801.0 1017.8 803.2 1018.6 805.4 1019.3 807.7 1020.0 809.9 1020.7 812.2 1021.4 814.4 1022.1 816.6 1022.8 818.9 1023.4 821.1 1024.0 823.4 1024.7 825.6 1025.3 827.8 1025.9 830.1 1026.4 832.3 1027.0 834.6 1027.6 836.8 1028.2 839.1 1028.8 841.3 1029.3 843.5 1029.9 845.8 1030.5 848.0 1031.0 850.3 1031.5 852.5 1032.1 854.7 1032.6 857.0 1033.1 859.2 1033.5 861.5 1034.0 863.7 1034.4 865.9 1034.8 868.2 1035.1 870.4 1035.5 872.7 1035.8 874.9 1036.0 877.2 1036.3 879.4 1036.5 881.6 1036.8 883.9 1037.0 886.1 1037.3 888.4 1037.5 890.6 1037.7 892.8 1037.9 895.1 1038.1 897.3 1038.2 899.6 1038.3 901.8 1038.4 904.0 1038.5 906.3 1038.5 908.5 1038.5 910.8 1038.2 913.0 1037.6 915.3 1036.9 917.5 1036.0 919.7 1034.9 922.0 1033.7 924.2 1032.5 926.5 1031.2 928.7 1029.8" stroke="#3f48c8" stroke-width="1.7" fill="none" stroke-linejoin="round"/>
<path d="M144.3 887.6 146.5 885.6 148.8 883.6 151.0 881.6 153.3 879.6 155.5 877.6 157.7 875.6 160.0 873.6 162.2 871.6 164.5 869.6 166.7 867.6 169.0 865.5 171.2 863.5 173.4 861.5 175.7 859.5 177.9 857.4 180.2 855.4 182.4 853.4 184.6 851.3 186.9 849.3 189.1 847.2 191.4 845.2 193.6 843.1 195.8 841.1 198.1 839.0 200.3 836.9 202.6 834.9 204.8 832.8 207.1 830.7 209.3 828.6 211.5 826.5 213.8 824.4 216.0 822.4 218.3 820.3 220.5 818.2 222.7 816.0 225.0 813.8 227.2 811.5 229.5 809.2 231.7 806.9 233.9 804.5 236.2 802.1 238.4 799.7 240.7 797.3 242.9 795.0 245.2 792.6 247.4 790.2 249.6 787.9 251.9 785.6 254.1 783.4 256.4 781.2 258.6 779.1 260.8 777.0 263.1 775.0 265.3 773.1 267.6 771.3 269.8 769.6 272.0 767.9 274.3 766.4 276.5 765.1 278.8 763.8 281.0 762.6 283.3 761.5 285.5 760.4 287.7 759.4 290.0 758.4 292.2 757.4 294.5 756.4 296.7 755.5 298.9 754.7 301.2 753.9 303.4 753.2 305.7 752.6 307.9 752.0 310.1 751.5 312.4 751.1 314.6 750.8 316.9 750.4 319.1 750.1 321.4 749.8 323.6 749.6 325.8 749.5 328.1 749.4 330.3 749.5 332.6 749.7 334.8 749.9 337.0 750.2 339.3 750.6 341.5 751.0 343.8 751.3 346.0 751.8 348.2 752.2 350.5 752.7 352.7 753.3 355.0 753.9 357.2 754.6 359.4 755.3 361.7 756.1 363.9 756.9 366.2 757.7 368.4 758.6 370.7 759.5 372.9 760.4 375.1 761.4 377.4 762.4 379.6 763.4 381.9 764.4 384.1 765.5 386.3 766.6 388.6 767.7 390.8 768.8 393.1 769.9 395.3 771.0 397.5 772.1 399.8 773.3 402.0 774.4 404.3 775.5 406.5 776.7 408.8 777.8 411.0 779.0 413.2 780.2 415.5 781.4 417.7 782.8 420.0 784.1 422.2 785.5 424.4 786.9 426.7 788.3 428.9 789.8 431.2 791.3 433.4 792.8 435.6 794.3 437.9 795.8 440.1 797.3 442.4 798.9 444.6 800.4 446.9 802.0 449.1 803.5 451.3 805.1 453.6 806.6 455.8 808.1 458.1 809.7 460.3 811.1 462.5 812.6 464.8 814.1 467.0 815.7 469.3 817.2 471.5 818.7 473.7 820.3 476.0 821.8 478.2 823.4 480.5 824.9 482.7 826.5 485.0 828.0 487.2 829.5 489.4 831.1 491.7 832.6 493.9 834.1 496.2 835.6 498.4 837.1 500.6 838.6 502.9 840.0 505.1 841.5 507.4 842.9 509.6 844.3 511.8 845.7 514.1 847.1 516.3 848.5 518.6 849.9 520.8 851.2 523.1 852.6 525.3 854.0 527.5 855.3 529.8 856.7 532.0 858.1 534.3 859.4 536.5 860.8 538.7 862.1 541.0 863.5 543.2 864.9 545.5 866.3 547.7 867.7 549.9 869.1 552.2 870.5 554.4 871.9 556.7 873.3 558.9 874.8 561.2 876.2 563.4 877.6 565.6 879.1 567.9 880.5 570.1 881.9 572.4 883.4 574.6 884.8 576.8 886.3 579.1 887.7 581.3 889.2 583.6 890.6 585.8 892.0 588.0 893.5 590.3 894.9 592.5 896.4 594.8 897.8 597.0 899.2 599.3 900.6 601.5 902.1 603.7 903.5 606.0 904.9 608.2 906.3 610.5 907.7 612.7 909.0 614.9 910.4 617.2 911.8 619.4 913.1 621.7 914.5 623.9 915.8 626.1 917.1 628.4 918.5 630.6 919.8 632.9 921.1 635.1 922.3 637.4 923.6 639.6 924.8 641.8 926.1 644.1 927.3 646.3 928.6 648.6 929.8 650.8 931.0 653.0 932.2 655.3 933.4 657.5 934.6 659.8 935.9 662.0 937.0 664.2 938.2 666.5 939.4 668.7 940.6 671.0 941.8 673.2 943.0 675.5 944.1 677.7 945.3 679.9 946.4 682.2 947.6 684.4 948.7 686.7 949.8 688.9 951.0 691.1 952.1 693.4 953.2 695.6 954.3 697.9 955.4 700.1 956.5 702.3 957.5 704.6 958.6 706.8 959.7 709.1 960.7 711.3 961.7 713.6 962.8 715.8 963.8 718.0 964.8 720.3 965.8 722.5 966.8 724.8 967.8 727.0 968.8 729.2 969.8 731.5 970.7 733.7 971.6 736.0 972.4 738.2 973.3 740.4 974.2 742.7 975.0 744.9 976.0 747.2 976.9 749.4 977.8 751.6 978.8 753.9 979.8 756.1 980.7 758.4 981.7 760.6 982.7 762.9 983.7 765.1 984.7 767.3 985.6 769.6 986.6 771.8 987.5 774.1 988.5 776.3 989.4 778.5 990.3 780.8 991.2 783.0 992.1 785.3 993.0 787.5 993.8 789.7 994.7 792.0 995.6 794.2 996.4 796.5 997.3 798.7 998.1 801.0 998.9 803.2 999.8 805.4 1000.6 807.7 1001.4 809.9 1002.2 812.2 1003.0 814.4 1003.8 816.6 1004.6 818.9 1005.3 821.1 1006.1 823.4 1006.9 825.6 1007.6 827.8 1008.4 830.1 1009.1 832.3 1009.9 834.6 1010.6 836.8 1011.4 839.1 1012.2 841.3 1013.0 843.5 1013.7 845.8 1014.5 848.0 1015.3 850.3 1016.0 852.5 1016.7 854.7 1017.4 857.0 1018.1 859.2 1018.8 861.5 1019.4 863.7 1020.0 865.9 1020.6 868.2 1021.2 870.4 1021.7 872.7 1022.1 874.9 1022.6 877.2 1022.9 879.4 1023.3 881.6 1023.7 883.9 1024.1 886.1 1024.5 888.4 1024.9 890.6 1025.2 892.8 1025.6 895.1 1025.9 897.3 1026.1 899.6 1026.3 901.8 1026.5 904.0 1026.6 906.3 1026.7 908.5 1026.6 910.8 1026.4 913.0 1026.1 915.3 1025.7 917.5 1025.1 919.7 1024.4 922.0 1023.6 924.2 1022.8 926.5 1021.9 928.7 1021.0" stroke="#86d7ea" stroke-width="1.7" fill="none" stroke-linejoin="round"/>
<path d="M144.3 910.3 146.5 910.1 148.8 909.8 151.0 909.4 153.3 908.9 155.5 908.5 157.7 907.9 160.0 907.3 162.2 906.7 164.5 906.1 166.7 905.4 169.0 904.7 171.2 903.9 173.4 903.0 175.7 902.1 177.9 901.1 180.2 900.0 182.4 898.8 184.6 897.6 186.9 896.3 189.1 895.0 191.4 893.6 193.6 892.2 195.8 890.7 198.1 889.2 200.3 887.7 202.6 886.1 204.8 884.5 207.1 882.8 209.3 881.1 211.5 879.2 213.8 877.1 216.0 874.8 218.3 872.4 220.5 869.9 222.7 867.4 225.0 864.7 227.2 862.0 229.5 859.3 231.7 856.6 233.9 853.9 236.2 851.3 238.4 848.7 240.7 846.2 242.9 843.9 245.2 841.7 247.4 839.6 249.6 837.6 251.9 835.7 254.1 833.9 256.4 832.1 258.6 830.3 260.8 828.6 263.1 826.8 265.3 824.9 267.6 823.1 269.8 821.1 272.0 819.0 274.3 816.8 276.5 814.5 278.8 812.1 281.0 809.6 283.3 807.1 285.5 804.5 287.7 801.9 290.0 799.4 292.2 796.9 294.5 794.5 296.7 792.1 298.9 789.9 301.2 787.8 303.4 785.9 305.7 784.1 307.9 782.3 310.1 780.5 312.4 778.8 314.6 777.1 316.9 775.5 319.1 773.8 321.4 772.2 323.6 770.7 325.8 769.2 328.1 767.7 330.3 766.4 332.6 765.0 334.8 763.8 337.0 762.6 339.3 761.4 341.5 760.4 343.8 759.4 346.0 758.5 348.2 757.6 350.5 756.7 352.7 755.9 355.0 755.0 357.2 754.2 359.4 753.4 361.7 752.6 363.9 751.9 366.2 751.2 368.4 750.6 370.7 750.1 372.9 749.7 375.1 749.4 377.4 749.1 379.6 749.1 381.9 749.1 384.1 749.2 386.3 749.5 388.6 749.8 390.8 750.2 393.1 750.8 395.3 751.3 397.5 752.0 399.8 752.7 402.0 753.5 404.3 754.4 406.5 755.3 408.8 756.2 411.0 757.2 413.2 758.2 415.5 759.3 417.7 760.3 420.0 761.4 422.2 762.5 424.4 763.6 426.7 764.8 428.9 765.9 431.2 767.0 433.4 768.1 435.6 769.2 437.9 770.2 440.1 771.3 442.4 772.3 444.6 773.5 446.9 774.6 449.1 775.8 451.3 777.1 453.6 778.4 455.8 779.7 458.1 781.0 460.3 782.4 462.5 783.8 464.8 785.2 467.0 786.6 469.3 788.0 471.5 789.5 473.7 790.9 476.0 792.4 478.2 793.8 480.5 795.3 482.7 796.7 485.0 798.2 487.2 799.6 489.4 801.0 491.7 802.4 493.9 803.7 496.2 805.1 498.4 806.4 500.6 807.8 502.9 809.2 505.1 810.5 507.4 811.9 509.6 813.2 511.8 814.6 514.1 816.0 516.3 817.3 518.6 818.7 520.8 820.1 523.1 821.4 525.3 822.8 527.5 824.2 529.8 825.6 532.0 827.0 534.3 828.3 536.5 829.7 538.7 831.1 541.0 832.5 543.2 833.9 545.5 835.3 547.7 836.7 549.9 838.1 552.2 839.6 554.4 841.0 556.7 842.4 558.9 843.9 561.2 845.3 563.4 846.8 565.6 848.2 567.9 849.7 570.1 851.1 572.4 852.6 574.6 854.1 576.8 855.5 579.1 857.0 581.3 858.5 583.6 859.9 585.8 861.4 588.0 862.9 590.3 864.3 592.5 865.8 594.8 867.2 597.0 868.7 599.3 870.2 601.5 871.6 603.7 873.0 606.0 874.5 608.2 875.9 610.5 877.3 612.7 878.8 614.9 880.2 617.2 881.6 619.4 883.0 621.7 884.3 623.9 885.7 626.1 887.1 628.4 888.5 630.6 889.8 632.9 891.2 635.1 892.5 637.4 893.9 639.6 895.2 641.8 896.6 644.1 897.9 646.3 899.2 648.6 900.6 650.8 901.9 653.0 903.3 655.3 904.6 657.5 905.9 659.8 907.3 662.0 908.6 664.2 909.9 666.5 911.2 668.7 912.6 671.0 913.9 673.2 915.2 675.5 916.5 677.7 917.8 679.9 919.1 682.2 920.3 684.4 921.6 686.7 922.9 688.9 924.2 691.1 925.4 693.4 926.7 695.6 927.9 697.9 929.2 700.1 930.4 702.3 931.6 704.6 932.8 706.8 934.0 709.1 935.2 711.3 936.4 713.6 937.6 715.8 938.8 718.0 939.9 720.3 941.1 722.5 942.2 724.8 943.4 727.0 944.5 729.2 945.6 731.5 946.6 733.7 947.7 736.0 948.7 738.2 949.7 740.4 950.7 742.7 951.7 744.9 952.7 747.2 953.8 749.4 954.9 751.6 956.0 753.9 957.0 756.1 958.1 758.4 959.2 760.6 960.3 762.9 961.4 765.1 962.5 767.3 963.6 769.6 964.6 771.8 965.7 774.1 966.7 776.3 967.7 778.5 968.7 780.8 969.7 783.0 970.6 785.3 971.5 787.5 972.5 789.7 973.4 792.0 974.2 794.2 975.1 796.5 976.0 798.7 976.8 801.0 977.7 803.2 978.5 805.4 979.3 807.7 980.2 809.9 981.0 812.2 981.8 814.4 982.7 816.6 983.5 818.9 984.4 821.1 985.2 823.4 986.1 825.6 986.9 827.8 987.8 830.1 988.7 832.3 989.6 834.6 990.6 836.8 991.5 839.1 992.5 841.3 993.5 843.5 994.5 845.8 995.5 848.0 996.4 850.3 997.4 852.5 998.4 854.7 999.3 857.0 1000.3 859.2 1001.2 861.5 1002.1 863.7 1002.9 865.9 1003.7 868.2 1004.5 870.4 1005.3 872.7 1006.0 874.9 1006.6 877.2 1007.2 879.4 1007.9 881.6 1008.5 883.9 1009.2 886.1 1009.8 888.4 1010.4 890.6 1011.0 892.8 1011.5 895.1 1012.0 897.3 1012.5 899.6 1012.8 901.8 1013.1 904.0 1013.3 906.3 1013.4 908.5 1013.4 910.8 1013.3 913.0 1013.1 915.3 1012.9 917.5 1012.6 919.7 1012.2 922.0 1011.7 924.2 1011.2 926.5 1010.6 928.7 1009.9" stroke="#c846be" stroke-width="1.7" fill="none" stroke-linejoin="round"/>
<path d="M144.3 887.7 146.5 889.8 148.8 891.8 151.0 893.7 153.3 895.5 155.5 897.2 157.7 898.8 160.0 900.4 162.2 901.8 164.5 903.2 166.7 904.4 169.0 905.6 171.2 906.6 173.4 907.6 175.7 908.5 177.9 909.3 180.2 910.0 182.4 910.6 184.6 911.0 186.9 911.4 189.1 911.7 191.4 911.9 193.6 912.0 195.8 912.0 198.1 911.9 200.3 911.6 202.6 911.2 204.8 910.6 207.1 910.0 209.3 909.2 211.5 908.4 213.8 907.4 216.0 906.4 218.3 905.3 220.5 904.1 222.7 902.9 225.0 901.6 227.2 900.3 229.5 898.9 231.7 897.5 233.9 896.1 236.2 894.7 238.4 893.2 240.7 891.8 242.9 890.4 245.2 889.0 247.4 887.6 249.6 886.1 251.9 884.4 254.1 882.7 256.4 880.9 258.6 879.0 260.8 877.0 263.1 874.9 265.3 872.8 267.6 870.6 269.8 868.4 272.0 866.1 274.3 863.8 276.5 861.5 278.8 859.2 281.0 856.9 283.3 854.5 285.5 852.2 287.7 849.9 290.0 847.6 292.2 845.3 294.5 843.1 296.7 840.9 298.9 838.7 301.2 836.5 303.4 834.3 305.7 832.0 307.9 829.7 310.1 827.3 312.4 825.0 314.6 822.6 316.9 820.3 319.1 818.0 321.4 815.6 323.6 813.3 325.8 811.0 328.1 808.8 330.3 806.6 332.6 804.4 334.8 802.3 337.0 800.2 339.3 798.2 341.5 796.3 343.8 794.4 346.0 792.6 348.2 790.8 350.5 789.0 352.7 787.2 355.0 785.4 357.2 783.6 359.4 781.9 361.7 780.1 363.9 778.4 366.2 776.8 368.4 775.2 370.7 773.6 372.9 772.1 375.1 770.6 377.4 769.2 379.6 767.8 381.9 766.5 384.1 765.3 386.3 764.2 388.6 763.1 390.8 762.2 393.1 761.2 395.3 760.3 397.5 759.3 399.8 758.4 402.0 757.5 404.3 756.6 406.5 755.7 408.8 754.9 411.0 754.1 413.2 753.4 415.5 752.7 417.7 752.2 420.0 751.7 422.2 751.3 424.4 751.0 426.7 750.8 428.9 750.8 431.2 750.8 433.4 751.0 435.6 751.3 437.9 751.6 440.1 752.1 442.4 752.6 444.6 753.2 446.9 753.9 449.1 754.6 451.3 755.4 453.6 756.3 455.8 757.2 458.1 758.2 460.3 759.2 462.5 760.3 464.8 761.3 467.0 762.4 469.3 763.6 471.5 764.7 473.7 765.9 476.0 767.0 478.2 768.2 480.5 769.3 482.7 770.5 485.0 771.6 487.2 772.7 489.4 773.8 491.7 774.9 493.9 775.9 496.2 777.0 498.4 778.1 500.6 779.3 502.9 780.4 505.1 781.6 507.4 782.9 509.6 784.1 511.8 785.4 514.1 786.7 516.3 788.0 518.6 789.3 520.8 790.6 523.1 792.0 525.3 793.3 527.5 794.7 529.8 796.1 532.0 797.5 534.3 798.8 536.5 800.2 538.7 801.6 541.0 802.9 543.2 804.3 545.5 805.7 547.7 807.0 549.9 808.4 552.2 809.8 554.4 811.2 556.7 812.6 558.9 814.1 561.2 815.5 563.4 816.9 565.6 818.4 567.9 819.8 570.1 821.3 572.4 822.7 574.6 824.2 576.8 825.7 579.1 827.1 581.3 828.6 583.6 830.0 585.8 831.5 588.0 833.0 590.3 834.4 592.5 835.8 594.8 837.3 597.0 838.7 599.3 840.1 601.5 841.5 603.7 842.9 606.0 844.3 608.2 845.7 610.5 847.1 612.7 848.5 614.9 849.9 617.2 851.3 619.4 852.7 621.7 854.1 623.9 855.5 626.1 856.9 628.4 858.3 630.6 859.7 632.9 861.0 635.1 862.4 637.4 863.8 639.6 865.2 641.8 866.6 644.1 868.0 646.3 869.3 648.6 870.7 650.8 872.1 653.0 873.5 655.3 874.8 657.5 876.2 659.8 877.6 662.0 879.0 664.2 880.4 666.5 881.7 668.7 883.1 671.0 884.5 673.2 885.9 675.5 887.3 677.7 888.7 679.9 890.1 682.2 891.5 684.4 892.9 686.7 894.3 688.9 895.7 691.1 897.1 693.4 898.5 695.6 899.9 697.9 901.3 700.1 902.7 702.3 904.1 704.6 905.5 706.8 906.9 709.1 908.2 711.3 909.6 713.6 910.9 715.8 912.3 718.0 913.6 720.3 914.9 722.5 916.2 724.8 917.5 727.0 918.8 729.2 920.1 731.5 921.3 733.7 922.5 736.0 923.7 738.2 924.9 740.4 926.1 742.7 927.2 744.9 928.4 747.2 929.6 749.4 930.9 751.6 932.1 753.9 933.3 756.1 934.5 758.4 935.8 760.6 937.0 762.9 938.2 765.1 939.4 767.3 940.7 769.6 941.8 771.8 943.0 774.1 944.2 776.3 945.3 778.5 946.5 780.8 947.6 783.0 948.7 785.3 949.7 787.5 950.8 789.7 951.8 792.0 952.8 794.2 953.8 796.5 954.9 798.7 955.8 801.0 956.8 803.2 957.8 805.4 958.8 807.7 959.8 809.9 960.8 812.2 961.7 814.4 962.7 816.6 963.7 818.9 964.7 821.1 965.7 823.4 966.7 825.6 967.7 827.8 968.7 830.1 969.8 832.3 970.9 834.6 972.0 836.8 973.1 839.1 974.2 841.3 975.4 843.5 976.6 845.8 977.7 848.0 978.9 850.3 980.1 852.5 981.2 854.7 982.3 857.0 983.5 859.2 984.5 861.5 985.6 863.7 986.6 865.9 987.5 868.2 988.4 870.4 989.3 872.7 990.1 874.9 990.8 877.2 991.5 879.4 992.2 881.6 992.9 883.9 993.6 886.1 994.3 888.4 995.0 890.6 995.7 892.8 996.3 895.1 996.9 897.3 997.4 899.6 997.8 901.8 998.2 904.0 998.5 906.3 998.7 908.5 998.8 910.8 998.9 913.0 998.9 915.3 998.8 917.5 998.8 919.7 998.7 922.0 998.6 924.2 998.5 926.5 998.3 928.7 998.0" stroke="#ffdc00" stroke-width="1.7" fill="none" stroke-linejoin="round"/>
<path d="M144.3 845.1 146.5 847.6 148.8 850.1 151.0 852.5 153.3 854.9 155.5 857.3 157.7 859.7 160.0 862.0 162.2 864.2 164.5 866.5 166.7 868.6 169.0 870.7 171.2 872.8 173.4 874.8 175.7 876.7 177.9 878.6 180.2 880.5 182.4 882.2 184.6 883.9 186.9 885.5 189.1 887.1 191.4 888.6 193.6 890.1 195.8 891.7 198.1 893.3 200.3 894.9 202.6 896.5 204.8 898.1 207.1 899.7 209.3 901.2 211.5 902.7 213.8 904.1 216.0 905.5 218.3 906.8 220.5 908.0 222.7 909.2 225.0 910.3 227.2 911.2 229.5 912.0 231.7 912.8 233.9 913.3 236.2 913.8 238.4 914.1 240.7 914.2 242.9 914.2 245.2 914.0 247.4 913.7 249.6 913.2 251.9 912.6 254.1 911.8 256.4 911.0 258.6 910.0 260.8 908.9 263.1 907.8 265.3 906.5 267.6 905.2 269.8 903.8 272.0 902.4 274.3 901.0 276.5 899.5 278.8 897.9 281.0 896.4 283.3 894.8 285.5 893.3 287.7 891.7 290.0 890.2 292.2 888.7 294.5 887.2 296.7 885.6 298.9 883.9 301.2 882.1 303.4 880.2 305.7 878.3 307.9 876.3 310.1 874.2 312.4 872.1 314.6 869.9 316.9 867.7 319.1 865.5 321.4 863.2 323.6 860.9 325.8 858.6 328.1 856.2 330.3 853.9 332.6 851.6 334.8 849.2 337.0 846.9 339.3 844.6 341.5 842.4 343.8 840.1 346.0 837.9 348.2 835.6 350.5 833.3 352.7 831.0 355.0 828.6 357.2 826.3 359.4 823.9 361.7 821.5 363.9 819.1 366.2 816.7 368.4 814.3 370.7 811.9 372.9 809.6 375.1 807.3 377.4 805.0 379.6 802.8 381.9 800.6 384.1 798.4 386.3 796.3 388.6 794.2 390.8 792.1 393.1 790.0 395.3 787.8 397.5 785.7 399.8 783.5 402.0 781.4 404.3 779.3 406.5 777.3 408.8 775.4 411.0 773.5 413.2 771.7 415.5 770.0 417.7 768.5 420.0 767.0 422.2 765.7 424.4 764.6 426.7 763.6 428.9 762.5 431.2 761.5 433.4 760.5 435.6 759.4 437.9 758.5 440.1 757.5 442.4 756.6 444.6 755.7 446.9 754.9 449.1 754.1 451.3 753.4 453.6 752.7 455.8 752.1 458.1 751.6 460.3 751.2 462.5 750.8 464.8 750.6 467.0 750.5 469.3 750.4 471.5 750.5 473.7 750.6 476.0 750.8 478.2 751.0 480.5 751.4 482.7 751.8 485.0 752.2 487.2 752.8 489.4 753.3 491.7 754.0 493.9 754.6 496.2 755.4 498.4 756.1 500.6 756.9 502.9 757.8 505.1 758.7 507.4 759.6 509.6 760.5 511.8 761.5 514.1 762.5 516.3 763.5 518.6 764.5 520.8 765.5 523.1 766.6 525.3 767.6 527.5 768.7 529.8 769.7 532.0 770.8 534.3 771.8 536.5 772.9 538.7 773.9 541.0 774.9 543.2 775.9 545.5 776.9 547.7 777.9 549.9 778.9 552.2 780.0 554.4 781.1 556.7 782.2 558.9 783.4 561.2 784.6 563.4 785.8 565.6 787.0 567.9 788.3 570.1 789.5 572.4 790.8 574.6 792.2 576.8 793.5 579.1 794.9 581.3 796.2 583.6 797.6 585.8 799.0 588.0 800.4 590.3 801.9 592.5 803.3 594.8 804.8 597.0 806.3 599.3 807.8 601.5 809.3 603.7 810.8 606.0 812.3 608.2 813.8 610.5 815.4 612.7 817.1 614.9 818.8 617.2 820.6 619.4 822.4 621.7 824.2 623.9 826.1 626.1 828.0 628.4 829.8 630.6 831.7 632.9 833.5 635.1 835.3 637.4 837.0 639.6 838.7 641.8 840.3 644.1 841.8 646.3 843.4 648.6 844.9 650.8 846.4 653.0 847.9 655.3 849.3 657.5 850.8 659.8 852.2 662.0 853.6 664.2 855.0 666.5 856.4 668.7 857.8 671.0 859.1 673.2 860.5 675.5 861.8 677.7 863.2 679.9 864.5 682.2 865.8 684.4 867.1 686.7 868.5 688.9 869.8 691.1 871.1 693.4 872.4 695.6 873.7 697.9 875.0 700.1 876.3 702.3 877.6 704.6 878.9 706.8 880.3 709.1 881.6 711.3 882.9 713.6 884.3 715.8 885.6 718.0 887.0 720.3 888.4 722.5 889.7 724.8 891.1 727.0 892.5 729.2 894.0 731.5 895.4 733.7 896.9 736.0 898.4 738.2 899.9 740.4 901.3 742.7 902.8 744.9 904.1 747.2 905.5 749.4 906.9 751.6 908.2 753.9 909.5 756.1 910.9 758.4 912.2 760.6 913.5 762.9 914.8 765.1 916.1 767.3 917.4 769.6 918.7 771.8 919.9 774.1 921.2 776.3 922.4 778.5 923.7 780.8 924.9 783.0 926.2 785.3 927.4 787.5 928.6 789.7 929.9 792.0 931.1 794.2 932.3 796.5 933.5 798.7 934.7 801.0 935.9 803.2 937.1 805.4 938.3 807.7 939.5 809.9 940.7 812.2 941.9 814.4 943.1 816.6 944.3 818.9 945.5 821.1 946.7 823.4 947.9 825.6 949.1 827.8 950.3 830.1 951.5 832.3 952.6 834.6 953.8 836.8 955.0 839.1 956.1 841.3 957.2 843.5 958.3 845.8 959.4 848.0 960.5 850.3 961.5 852.5 962.5 854.7 963.5 857.0 964.4 859.2 965.3 861.5 966.2 863.7 967.1 865.9 968.1 868.2 969.0 870.4 969.9 872.7 970.8 874.9 971.7 877.2 972.6 879.4 973.4 881.6 974.3 883.9 975.1 886.1 975.9 888.4 976.6 890.6 977.4 892.8 978.1 895.1 978.7 897.3 979.3 899.6 979.9 901.8 980.4 904.0 980.8 906.3 981.2 908.5 981.6 910.8 981.9 913.0 982.2 915.3 982.5 917.5 982.8 919.7 983.0 922.0 983.2 924.2 983.4 926.5 983.6 928.7 983.7" stroke="#808028" stroke-width="1.7" fill="none" stroke-linejoin="round"/>
<path d="M144.3 801.0 146.5 803.6 148.8 806.2 151.0 808.8 153.3 811.4 155.5 813.9 157.8 816.4 160.0 818.9 162.3 821.3 164.5 823.7 166.7 826.1 169.0 828.5 171.2 830.8 173.5 833.2 175.7 835.5 178.0 837.8 180.2 840.1 182.5 842.4 184.7 844.8 186.9 847.3 189.2 849.7 191.4 852.2 193.7 854.7 195.9 857.2 198.2 859.7 200.4 862.2 202.7 864.7 204.9 867.1 207.1 869.5 209.4 871.9 211.6 874.2 213.9 876.4 216.1 878.5 218.4 880.6 220.6 882.5 222.9 884.4 225.1 886.1 227.3 887.8 229.6 889.3 231.8 890.7 234.1 892.2 236.3 893.8 238.6 895.3 240.8 896.8 243.1 898.3 245.3 899.8 247.5 901.2 249.8 902.6 252.0 904.0 254.3 905.3 256.5 906.6 258.8 907.8 261.0 909.0 263.3 910.0 265.5 911.0 267.7 911.9 270.0 912.8 272.2 913.5 274.5 914.1 276.7 914.5 279.0 914.9 281.2 915.1 283.4 915.2 285.7 915.2 287.9 915.0 290.2 914.7 292.4 914.3 294.7 913.8 296.9 913.1 299.2 912.4 301.4 911.6 303.6 910.6 305.9 909.6 308.1 908.6 310.4 907.4 312.6 906.2 314.9 904.9 317.1 903.6 319.4 902.2 321.6 900.8 323.8 899.3 326.1 897.9 328.3 896.3 330.6 894.8 332.8 893.3 335.1 891.7 337.3 890.2 339.6 888.6 341.8 887.1 344.0 885.6 346.3 884.0 348.5 882.2 350.8 880.3 353.0 878.3 355.3 876.2 357.5 874.0 359.8 871.7 362.0 869.3 364.2 866.9 366.5 864.4 368.7 861.9 371.0 859.4 373.2 856.9 375.5 854.5 377.7 852.0 380.0 849.6 382.2 847.3 384.4 845.0 386.7 842.8 388.9 840.5 391.2 838.3 393.4 836.0 395.7 833.8 397.9 831.5 400.2 829.3 402.4 827.0 404.6 824.7 406.9 822.5 409.1 820.2 411.4 818.0 413.6 815.8 415.9 813.6 418.1 811.4 420.4 809.2 422.6 807.1 424.8 804.9 427.1 802.8 429.3 800.8 431.6 798.7 433.8 796.7 436.1 794.8 438.3 792.8 440.6 790.9 442.8 789.0 445.0 787.0 447.3 785.1 449.5 783.1 451.8 781.1 454.0 779.2 456.3 777.3 458.5 775.4 460.8 773.5 463.0 771.8 465.2 770.0 467.5 768.4 469.7 766.8 472.0 765.4 474.2 764.0 476.5 762.8 478.7 761.7 481.0 760.7 483.2 759.8 485.4 758.9 487.7 758.0 489.9 757.1 492.2 756.2 494.4 755.4 496.7 754.6 498.9 753.9 501.2 753.2 503.4 752.6 505.6 752.2 507.9 751.8 510.1 751.5 512.4 751.4 514.6 751.4 516.9 751.5 519.1 751.6 521.4 751.8 523.6 752.1 525.8 752.4 528.1 752.8 530.3 753.2 532.6 753.6 534.8 754.1 537.1 754.5 539.3 755.0 541.6 755.5 543.8 756.0 546.0 756.5 548.3 757.1 550.5 757.7 552.8 758.4 555.0 759.1 557.3 759.9 559.5 760.8 561.7 761.7 564.0 762.6 566.2 763.5 568.5 764.5 570.7 765.5 573.0 766.6 575.2 767.6 577.5 768.7 579.7 769.8 581.9 770.9 584.2 772.0 586.4 773.1 588.7 774.2 590.9 775.5 593.2 776.7 595.4 778.1 597.7 779.4 599.9 780.8 602.1 782.3 604.4 783.8 606.6 785.3 608.9 786.8 611.1 788.4 613.4 789.9 615.6 791.5 617.9 793.1 620.1 794.6 622.3 796.2 624.6 797.7 626.8 799.2 629.1 800.7 631.3 802.2 633.6 803.7 635.8 805.2 638.1 806.7 640.3 808.2 642.5 809.7 644.8 811.2 647.0 812.7 649.3 814.2 651.5 815.7 653.8 817.3 656.0 818.8 658.3 820.3 660.5 821.9 662.7 823.4 665.0 824.9 667.2 826.5 669.5 828.0 671.7 829.6 674.0 831.2 676.2 832.8 678.5 834.4 680.7 836.0 682.9 837.6 685.2 839.2 687.4 840.9 689.7 842.5 691.9 844.0 694.2 845.6 696.4 847.1 698.7 848.6 700.9 850.0 703.1 851.5 705.4 853.0 707.6 854.5 709.9 855.9 712.1 857.4 714.4 858.8 716.6 860.1 718.9 861.5 721.1 862.8 723.3 864.1 725.6 865.3 727.8 866.5 730.1 867.7 732.3 868.7 734.6 869.7 736.8 870.7 739.1 871.7 741.3 872.7 743.5 873.7 745.8 874.8 748.0 875.9 750.3 877.0 752.5 878.0 754.8 879.1 757.0 880.2 759.3 881.3 761.5 882.4 763.7 883.5 766.0 884.7 768.2 885.8 770.5 886.9 772.7 888.0 775.0 889.2 777.2 890.3 779.5 891.4 781.7 892.6 783.9 893.7 786.2 894.9 788.4 896.1 790.7 897.2 792.9 898.4 795.2 899.6 797.4 900.8 799.7 902.0 801.9 903.2 804.1 904.4 806.4 905.6 808.6 906.9 810.9 908.1 813.1 909.3 815.4 910.6 817.6 911.9 819.9 913.2 822.1 914.5 824.3 915.9 826.6 917.3 828.8 918.7 831.1 920.1 833.3 921.6 835.6 923.0 837.8 924.4 840.0 925.9 842.3 927.3 844.5 928.8 846.8 930.2 849.0 931.6 851.3 933.1 853.5 934.5 855.8 935.8 858.0 937.2 860.2 938.5 862.5 939.9 864.7 941.1 867.0 942.4 869.2 943.6 871.5 944.8 873.7 945.9 876.0 947.0 878.2 948.1 880.4 949.2 882.7 950.2 884.9 951.2 887.2 952.2 889.4 953.2 891.7 954.2 893.9 955.2 896.2 956.2 898.4 957.1 900.6 958.0 902.9 958.9 905.1 959.8 907.4 960.7 909.6 961.5 911.9 962.4 914.1 963.2 916.4 964.0 918.6 964.8 920.8 965.6 923.1 966.3 925.3 967.0 927.6 967.8" stroke="#28287f" stroke-width="1.7" fill="none" stroke-linejoin="round"/>
<path d="M144.3 757.5 146.5 760.6 148.8 763.6 151.0 766.6 153.3 769.5 155.5 772.4 157.8 775.2 160.0 778.0 162.3 780.7 164.5 783.3 166.7 785.9 169.0 788.4 171.2 790.8 173.5 793.2 175.7 795.4 178.0 797.6 180.2 799.8 182.5 801.9 184.7 804.0 186.9 806.0 189.2 808.1 191.4 810.2 193.7 812.3 195.9 814.4 198.2 816.6 200.4 818.8 202.7 821.1 204.9 823.4 207.1 825.8 209.4 828.2 211.6 830.7 213.9 833.1 216.1 835.6 218.4 838.0 220.6 840.4 222.9 842.8 225.1 845.3 227.3 847.8 229.6 850.4 231.8 853.0 234.1 855.7 236.3 858.3 238.6 860.9 240.8 863.6 243.1 866.2 245.3 868.8 247.5 871.3 249.8 873.8 252.0 876.2 254.3 878.6 256.5 880.8 258.8 883.0 261.0 885.1 263.3 887.1 265.5 888.9 267.7 890.6 270.0 892.2 272.2 893.6 274.5 895.0 276.7 896.5 279.0 897.9 281.2 899.3 283.4 900.7 285.7 902.1 287.9 903.5 290.2 904.9 292.4 906.2 294.7 907.5 296.9 908.7 299.2 909.9 301.4 911.0 303.6 912.1 305.9 913.1 308.1 914.0 310.4 914.9 312.6 915.7 314.9 916.4 317.1 917.0 319.4 917.5 321.6 917.9 323.8 918.2 326.1 918.4 328.3 918.4 330.6 918.2 332.8 917.8 335.1 917.0 337.3 916.1 339.6 915.2 341.8 914.1 344.0 913.1 346.3 912.1 348.5 911.0 350.8 909.8 353.0 908.6 355.3 907.3 357.5 905.9 359.8 904.4 362.0 902.9 364.2 901.3 366.5 899.7 368.7 898.0 371.0 896.3 373.2 894.5 375.5 892.6 377.7 890.8 380.0 888.9 382.2 886.9 384.4 885.0 386.7 883.0 388.9 880.9 391.2 878.9 393.4 876.8 395.7 874.8 397.9 872.7 400.2 870.6 402.4 868.4 404.6 866.3 406.9 864.2 409.1 862.1 411.4 860.0 413.6 857.9 415.9 855.8 418.1 853.7 420.4 851.7 422.6 849.7 424.8 847.6 427.1 845.6 429.3 843.5 431.6 841.3 433.8 839.1 436.1 836.8 438.3 834.4 440.6 832.0 442.8 829.5 445.0 827.0 447.3 824.5 449.5 821.9 451.8 819.3 454.0 816.6 456.3 814.0 458.5 811.4 460.8 808.7 463.0 806.1 465.2 803.5 467.5 801.0 469.7 798.5 472.0 796.0 474.2 793.6 476.5 791.2 478.7 789.0 481.0 786.8 483.2 784.7 485.4 782.6 487.7 780.7 489.9 778.9 492.2 777.3 494.4 775.7 496.7 774.1 498.9 772.5 501.2 771.0 503.4 769.5 505.6 768.0 507.9 766.6 510.1 765.3 512.4 764.0 514.6 762.9 516.9 761.7 519.1 760.7 521.4 759.8 523.6 759.0 525.8 758.3 528.1 757.7 530.3 757.0 532.6 756.4 534.8 755.8 537.1 755.2 539.3 754.6 541.6 754.1 543.8 753.6 546.0 753.2 548.3 752.9 550.5 752.6 552.8 752.4 555.0 752.3 557.3 752.2 559.5 752.3 561.7 752.5 564.0 752.7 566.2 753.0 568.5 753.4 570.7 753.8 573.0 754.3 575.2 754.9 577.5 755.5 579.7 756.2 581.9 756.9 584.2 757.6 586.4 758.4 588.7 759.2 590.9 760.1 593.2 760.9 595.4 761.8 597.7 762.7 599.9 763.6 602.1 764.4 604.4 765.3 606.6 766.2 608.9 767.1 611.1 768.1 613.4 769.1 615.6 770.3 617.9 771.5 620.1 772.8 622.3 774.1 624.6 775.5 626.8 777.0 629.1 778.4 631.3 779.9 633.6 781.4 635.8 782.9 638.1 784.4 640.3 785.9 642.5 787.4 644.8 788.9 647.0 790.3 649.3 791.7 651.5 793.0 653.8 794.4 656.0 795.7 658.3 797.0 660.5 798.4 662.7 799.7 665.0 801.1 667.2 802.4 669.5 803.7 671.7 805.1 674.0 806.4 676.2 807.8 678.5 809.1 680.7 810.5 682.9 811.8 685.2 813.2 687.4 814.5 689.7 815.9 691.9 817.3 694.2 818.7 696.4 820.2 698.7 821.6 700.9 823.2 703.1 824.7 705.4 826.2 707.6 827.8 709.9 829.3 712.1 830.8 714.4 832.3 716.6 833.8 718.9 835.2 721.1 836.5 723.3 837.8 725.6 839.0 727.8 840.1 730.1 841.1 732.3 842.0 734.6 842.8 736.8 843.6 739.1 844.5 741.3 845.3 743.5 846.3 745.8 847.3 748.0 848.4 750.3 849.5 752.5 850.6 754.8 851.7 757.0 852.9 759.3 854.1 761.5 855.3 763.7 856.6 766.0 857.9 768.2 859.1 770.5 860.4 772.7 861.7 775.0 863.1 777.2 864.4 779.5 865.7 781.7 867.1 783.9 868.5 786.2 869.8 788.4 871.2 790.7 872.6 792.9 873.9 795.2 875.3 797.4 876.7 799.7 878.0 801.9 879.4 804.1 880.7 806.4 882.0 808.6 883.3 810.9 884.7 813.1 885.9 815.4 887.2 817.6 888.5 819.9 889.8 822.1 891.1 824.3 892.4 826.6 893.7 828.8 895.0 831.1 896.2 833.3 897.5 835.6 898.8 837.8 900.1 840.0 901.4 842.3 902.7 844.5 904.0 846.8 905.3 849.0 906.6 851.3 907.9 853.5 909.2 855.8 910.4 858.0 911.7 860.2 913.0 862.5 914.3 864.7 915.6 867.0 916.9 869.2 918.2 871.5 919.4 873.7 920.7 876.0 922.0 878.2 923.3 880.4 924.6 882.7 925.8 884.9 927.1 887.2 928.4 889.4 929.7 891.7 930.9 893.9 932.2 896.2 933.5 898.4 934.7 900.6 936.0 902.9 937.3 905.1 938.6 907.4 939.8 909.6 941.1 911.9 942.4 914.1 943.6 916.4 944.9 918.6 946.2 920.8 947.4 923.1 948.7 925.3 950.0 927.6 951.2" stroke="#78b9e6" stroke-width="1.7" fill="none" stroke-linejoin="round"/>
<path d="M144.3 718.4 146.5 721.0 148.8 723.5 151.0 726.0 153.3 728.6 155.5 731.1 157.8 733.6 160.0 736.1 162.3 738.6 164.5 741.1 166.7 743.6 169.0 746.1 171.2 748.5 173.5 751.0 175.7 753.5 178.0 756.0 180.2 758.4 182.5 760.9 184.7 763.3 186.9 765.8 189.2 768.3 191.4 770.7 193.7 773.1 195.9 775.6 198.2 778.0 200.4 780.5 202.7 782.9 204.9 785.3 207.1 787.7 209.4 790.2 211.6 792.6 213.9 795.0 216.1 797.4 218.4 799.8 220.6 802.2 222.9 804.6 225.1 807.0 227.3 809.4 229.6 811.8 231.8 814.2 234.1 816.6 236.3 819.0 238.6 821.4 240.8 823.8 243.1 826.2 245.3 828.5 247.5 830.9 249.8 833.2 252.0 835.5 254.3 837.9 256.5 840.2 258.8 842.6 261.0 845.0 263.3 847.5 265.5 850.0 267.7 852.6 270.0 855.2 272.2 857.8 274.5 860.4 276.7 863.1 279.0 865.7 281.2 868.3 283.4 870.9 285.7 873.5 287.9 876.1 290.2 878.6 292.4 881.0 294.7 883.4 296.9 885.8 299.2 888.0 301.4 890.2 303.6 892.3 305.9 894.3 308.1 896.2 310.4 897.9 312.6 899.6 314.9 901.1 317.1 902.5 319.4 903.7 321.6 905.0 323.8 906.3 326.1 907.5 328.3 908.8 330.6 910.0 332.8 911.2 335.1 912.4 337.3 913.6 339.6 914.6 341.8 915.7 344.0 916.7 346.3 917.6 348.5 918.4 350.8 919.2 353.0 919.8 355.3 920.4 357.5 920.9 359.8 921.2 362.0 921.5 364.2 921.6 366.5 921.6 368.7 921.4 371.0 921.2 373.2 920.8 375.5 920.4 377.7 919.8 380.0 919.1 382.2 918.4 384.4 917.5 386.7 916.6 388.9 915.6 391.2 914.5 393.4 913.4 395.7 912.2 397.9 911.0 400.2 909.6 402.4 908.3 404.6 906.9 406.9 905.5 409.1 904.0 411.4 902.5 413.6 901.0 415.9 899.5 418.1 898.0 420.4 896.4 422.6 894.9 424.8 893.4 427.1 891.8 429.3 890.3 431.6 888.7 433.8 886.9 436.1 885.0 438.3 883.0 440.6 880.8 442.8 878.6 445.0 876.2 447.3 873.8 449.5 871.4 451.8 868.9 454.0 866.3 456.3 863.7 458.5 861.1 460.8 858.5 463.0 855.9 465.2 853.3 467.5 850.7 469.7 848.2 472.0 845.8 474.2 843.4 476.5 841.0 478.7 838.8 481.0 836.5 483.2 834.2 485.4 832.0 487.7 829.7 489.9 827.4 492.2 825.1 494.4 822.8 496.7 820.5 498.9 818.2 501.2 815.9 503.4 813.6 505.6 811.4 507.9 809.1 510.1 806.9 512.4 804.7 514.6 802.4 516.9 800.3 519.1 798.1 521.4 796.0 523.6 793.8 525.8 791.8 528.1 789.7 530.3 787.7 532.6 785.7 534.8 783.8 537.1 781.9 539.3 780.0 541.6 778.2 543.8 776.4 546.0 774.6 548.3 772.8 550.5 770.9 552.8 769.0 555.0 767.2 557.3 765.4 559.5 763.7 561.7 762.2 564.0 760.9 566.2 759.8 568.5 758.9 570.7 758.4 573.0 757.9 575.2 757.4 577.5 757.0 579.7 756.6 581.9 756.2 584.2 755.9 586.4 755.6 588.7 755.4 590.9 755.2 593.2 755.0 595.4 755.0 597.7 754.9 599.9 755.0 602.1 755.2 604.4 755.5 606.6 755.9 608.9 756.4 611.1 757.0 613.4 757.6 615.6 758.3 617.9 759.1 620.1 759.9 622.3 760.8 624.6 761.7 626.8 762.7 629.1 763.7 631.3 764.7 633.6 765.7 635.8 766.7 638.1 767.8 640.3 768.8 642.5 769.8 644.8 770.9 647.0 771.8 649.3 772.8 651.5 773.7 653.8 774.7 656.0 775.7 658.3 776.8 660.5 777.8 662.7 778.9 665.0 780.0 667.2 781.2 669.5 782.3 671.7 783.5 674.0 784.7 676.2 785.9 678.5 787.2 680.7 788.4 682.9 789.7 685.2 791.0 687.4 792.2 689.7 793.5 691.9 794.8 694.2 796.1 696.4 797.4 698.7 798.7 700.9 800.0 703.1 801.3 705.4 802.6 707.6 803.8 709.9 805.1 712.1 806.4 714.4 807.6 716.6 808.9 718.9 810.2 721.1 811.5 723.3 812.9 725.6 814.3 727.8 815.7 730.1 817.2 732.3 818.8 734.6 820.4 736.8 822.1 739.1 823.8 741.3 825.4 743.5 826.9 745.8 828.3 748.0 829.7 750.3 831.0 752.5 832.4 754.8 833.7 757.0 835.0 759.3 836.2 761.5 837.5 763.7 838.7 766.0 839.9 768.2 841.1 770.5 842.3 772.7 843.5 775.0 844.6 777.2 845.8 779.5 847.0 781.7 848.1 783.9 849.3 786.2 850.4 788.4 851.5 790.7 852.7 792.9 853.9 795.2 855.0 797.4 856.2 799.7 857.4 801.9 858.6 804.1 859.8 806.4 861.0 808.6 862.2 810.9 863.5 813.1 864.8 815.4 866.0 817.6 867.3 819.9 868.6 822.1 870.0 824.3 871.3 826.6 872.6 828.8 873.9 831.1 875.3 833.3 876.6 835.6 878.0 837.8 879.3 840.0 880.7 842.3 882.0 844.5 883.4 846.8 884.7 849.0 886.1 851.3 887.5 853.5 888.8 855.8 890.2 858.0 891.6 860.2 893.0 862.5 894.3 864.7 895.7 867.0 897.1 869.2 898.4 871.5 899.8 873.7 901.2 876.0 902.5 878.2 903.9 880.4 905.3 882.7 906.6 884.9 908.0 887.2 909.4 889.4 910.8 891.7 912.1 893.9 913.5 896.2 914.9 898.4 916.3 900.6 917.7 902.9 919.0 905.1 920.4 907.4 921.8 909.6 923.2 911.9 924.6 914.1 926.0 916.4 927.4 918.6 928.7 920.8 930.1 923.1 931.5 925.3 932.9 927.6 934.3" stroke="#821414" stroke-width="1.7" fill="none" stroke-linejoin="round"/>
<path d="M144.3 691.4 146.5 694.1 148.8 696.7 151.0 699.4 153.3 702.1 155.5 704.7 157.8 707.3 160.0 710.0 162.3 712.6 164.5 715.2 166.7 717.8 169.0 720.4 171.2 722.9 173.5 725.5 175.7 728.1 178.0 730.6 180.2 733.1 182.5 735.7 184.7 738.2 186.9 740.7 189.2 743.2 191.4 745.7 193.7 748.2 195.9 750.7 198.2 753.1 200.4 755.6 202.7 758.0 204.9 760.5 207.1 762.9 209.4 765.3 211.6 767.7 213.9 770.1 216.1 772.5 218.4 774.9 220.6 777.2 222.9 779.6 225.1 782.0 227.3 784.3 229.6 786.6 231.8 789.0 234.1 791.3 236.3 793.6 238.6 795.9 240.8 798.2 243.1 800.5 245.3 802.7 247.5 805.0 249.8 807.2 252.0 809.5 254.3 811.7 256.5 813.9 258.8 816.2 261.0 818.4 263.3 820.6 265.5 822.7 267.7 824.9 270.0 827.1 272.2 829.2 274.5 831.3 276.7 833.4 279.0 835.5 281.2 837.6 283.4 839.7 285.7 841.8 287.9 843.8 290.2 845.9 292.4 847.9 294.7 849.9 296.9 851.9 299.2 853.9 301.4 855.9 303.6 857.9 305.9 859.9 308.1 861.9 310.4 863.9 312.6 865.8 314.9 867.8 317.1 869.8 319.4 871.7 321.6 873.7 323.8 875.6 326.1 877.6 328.3 879.5 330.6 881.5 332.8 883.4 335.1 885.4 337.3 887.4 339.6 889.3 341.8 891.3 344.0 893.2 346.3 895.3 348.5 897.4 350.8 899.5 353.0 901.7 355.3 903.9 357.5 906.2 359.8 908.4 362.0 910.5 364.2 912.6 366.5 914.6 368.7 916.6 371.0 918.4 373.2 920.0 375.5 921.5 377.7 922.8 380.0 924.0 382.2 925.0 384.4 926.1 386.7 927.1 388.9 928.1 391.2 929.0 393.4 929.9 395.7 930.6 397.9 931.2 400.2 931.7 402.4 932.1 404.6 932.2 406.9 932.2 409.1 932.0 411.4 931.7 413.6 931.2 415.9 930.6 418.1 929.9 420.4 929.0 422.6 928.0 424.8 927.0 427.1 925.8 429.3 924.5 431.6 923.1 433.8 921.7 436.1 920.2 438.3 918.6 440.6 917.0 442.8 915.3 445.0 913.6 447.3 911.8 449.5 910.1 451.8 908.3 454.0 906.4 456.3 904.6 458.5 902.8 460.8 901.0 463.0 899.2 465.2 897.4 467.5 895.6 469.7 893.9 472.0 892.3 474.2 890.5 476.5 888.7 478.7 886.8 481.0 884.9 483.2 882.9 485.4 880.9 487.7 878.8 489.9 876.6 492.2 874.5 494.4 872.2 496.7 870.0 498.9 867.7 501.2 865.5 503.4 863.2 505.6 860.8 507.9 858.5 510.1 856.2 512.4 853.9 514.6 851.6 516.9 849.3 519.1 847.0 521.4 844.8 523.6 842.6 525.8 840.4 528.1 838.2 530.3 836.0 532.6 833.8 534.8 831.6 537.1 829.4 539.3 827.2 541.6 825.1 543.8 823.0 546.0 820.9 548.3 818.7 550.5 816.6 552.8 814.4 555.0 812.1 557.3 809.9 559.5 807.7 561.7 805.5 564.0 803.3 566.2 801.1 568.5 798.9 570.7 796.9 573.0 794.8 575.2 792.8 577.5 790.9 579.7 789.1 581.9 787.3 584.2 785.7 586.4 784.1 588.7 782.7 590.9 781.4 593.2 780.2 595.4 779.0 597.7 777.9 599.9 776.7 602.1 775.6 604.4 774.4 606.6 773.3 608.9 772.2 611.1 771.1 613.4 770.1 615.6 769.1 617.9 768.2 620.1 767.4 622.3 766.6 624.6 765.9 626.8 765.2 629.1 764.7 631.3 764.2 633.6 763.9 635.8 763.7 638.1 763.5 640.3 763.5 642.5 763.6 644.8 763.8 647.0 764.2 649.3 764.6 651.5 765.1 653.8 765.7 656.0 766.3 658.3 767.0 660.5 767.8 662.7 768.6 665.0 769.5 667.2 770.4 669.5 771.4 671.7 772.4 674.0 773.4 676.2 774.4 678.5 775.4 680.7 776.5 682.9 777.5 685.2 778.5 687.4 779.5 689.7 780.4 691.9 781.4 694.2 782.3 696.4 783.2 698.7 784.2 700.9 785.2 703.1 786.2 705.4 787.2 707.6 788.3 709.9 789.4 712.1 790.5 714.4 791.6 716.6 792.7 718.9 793.9 721.1 795.1 723.3 796.3 725.6 797.5 727.8 798.8 730.1 800.1 732.3 801.5 734.6 803.0 736.8 804.4 739.1 805.9 741.3 807.4 743.5 808.9 745.8 810.3 748.0 811.7 750.3 813.1 752.5 814.5 754.8 815.9 757.0 817.3 759.3 818.7 761.5 820.1 763.7 821.4 766.0 822.8 768.2 824.2 770.5 825.5 772.7 826.9 775.0 828.2 777.2 829.6 779.5 831.0 781.7 832.3 783.9 833.7 786.2 835.1 788.4 836.5 790.7 837.8 792.9 839.2 795.2 840.6 797.4 842.0 799.7 843.4 801.9 844.8 804.1 846.3 806.4 847.7 808.6 849.1 810.9 850.6 813.1 852.1 815.4 853.5 817.6 855.1 819.9 856.6 822.1 858.2 824.3 859.8 826.6 861.4 828.8 863.0 831.1 864.6 833.3 866.3 835.6 867.9 837.8 869.6 840.0 871.2 842.3 872.9 844.5 874.5 846.8 876.1 849.0 877.7 851.3 879.3 853.5 880.9 855.8 882.5 858.0 884.0 860.2 885.5 862.5 887.0 864.7 888.4 867.0 889.8 869.2 891.2 871.5 892.5 873.7 893.8 876.0 895.0 878.2 896.3 880.4 897.5 882.7 898.7 884.9 899.9 887.2 901.1 889.4 902.3 891.7 903.5 893.9 904.6 896.2 905.7 898.4 906.8 900.6 907.9 902.9 909.0 905.1 910.1 907.4 911.1 909.6 912.1 911.9 913.1 914.1 914.1 916.4 915.1 918.6 916.0 920.8 917.0 923.1 917.9 925.3 918.8 927.6 919.6" stroke="#008c3c" stroke-width="1.7" fill="none" stroke-linejoin="round"/>
<path d="M144.3 681.2 146.5 683.4 148.8 685.5 151.0 687.7 153.3 689.9 155.5 692.0 157.8 694.2 160.0 696.4 162.3 698.6 164.5 700.8 166.7 703.0 169.0 705.2 171.2 707.4 173.5 709.6 175.7 711.8 178.0 714.0 180.2 716.2 182.5 718.5 184.7 720.7 186.9 723.0 189.2 725.2 191.4 727.5 193.7 729.7 195.9 732.0 198.2 734.2 200.4 736.5 202.7 738.8 204.9 741.1 207.1 743.4 209.4 745.7 211.6 748.0 213.9 750.3 216.1 752.6 218.4 754.9 220.6 757.2 222.9 759.6 225.1 761.9 227.3 764.3 229.6 766.7 231.8 769.0 234.1 771.4 236.3 773.8 238.6 776.2 240.8 778.6 243.1 781.0 245.3 783.4 247.5 785.8 249.8 788.2 252.0 790.6 254.3 793.0 256.5 795.4 258.8 797.9 261.0 800.3 263.3 802.7 265.5 805.1 267.7 807.5 270.0 809.8 272.2 812.2 274.5 814.6 276.7 817.0 279.0 819.3 281.2 821.7 283.4 824.1 285.7 826.4 287.9 828.8 290.2 831.2 292.4 833.6 294.7 836.0 296.9 838.4 299.2 840.8 301.4 843.2 303.6 845.6 305.9 847.9 308.1 850.3 310.4 852.7 312.6 855.1 314.9 857.4 317.1 859.8 319.4 862.2 321.6 864.5 323.8 866.8 326.1 869.1 328.3 871.4 330.6 873.7 332.8 876.0 335.1 878.3 337.3 880.5 339.6 882.7 341.8 884.9 344.0 887.1 346.3 889.3 348.5 891.6 350.8 893.8 353.0 896.1 355.3 898.5 357.5 900.8 359.8 903.2 362.0 905.5 364.2 907.9 366.5 910.2 368.7 912.5 371.0 914.8 373.2 917.0 375.5 919.2 377.7 921.4 380.0 923.5 382.2 925.5 384.4 927.5 386.7 929.4 388.9 931.2 391.2 932.9 393.4 934.5 395.7 936.1 397.9 937.5 400.2 938.7 402.4 939.9 404.6 941.0 406.9 942.2 409.1 943.3 411.4 944.4 413.6 945.5 415.9 946.6 418.1 947.6 420.4 948.6 422.6 949.6 424.8 950.4 427.1 951.3 429.3 952.0 431.6 952.7 433.8 953.2 436.1 953.7 438.3 954.0 440.6 954.3 442.8 954.4 445.0 954.4 447.3 954.2 449.5 953.8 451.8 953.3 454.0 952.6 456.3 951.8 458.5 950.9 460.8 949.8 463.0 948.6 465.2 947.3 467.5 946.0 469.7 944.5 472.0 942.9 474.2 941.2 476.5 939.5 478.7 937.7 481.0 935.9 483.2 934.0 485.4 932.1 487.7 930.1 489.9 928.1 492.2 926.1 494.4 924.1 496.7 922.1 498.9 920.1 501.2 918.1 503.4 916.1 505.6 914.2 507.9 912.3 510.1 910.5 512.4 908.7 514.6 906.9 516.9 905.1 519.1 903.3 521.4 901.4 523.6 899.5 525.8 897.6 528.1 895.6 530.3 893.6 532.6 891.6 534.8 889.5 537.1 887.4 539.3 885.3 541.6 883.2 543.8 881.1 546.0 879.0 548.3 876.8 550.5 874.6 552.8 872.3 555.0 870.0 557.3 867.6 559.5 865.3 561.7 862.9 564.0 860.5 566.2 858.1 568.5 855.8 570.7 853.4 573.0 851.1 575.2 848.8 577.5 846.6 579.7 844.3 581.9 842.2 584.2 840.1 586.4 838.0 588.7 835.9 590.9 833.7 593.2 831.6 595.4 829.4 597.7 827.3 599.9 825.1 602.1 822.9 604.4 820.8 606.6 818.6 608.9 816.5 611.1 814.5 613.4 812.5 615.6 810.5 617.9 808.6 620.1 806.7 622.3 804.9 624.6 803.2 626.8 801.6 629.1 800.0 631.3 798.5 633.6 797.2 635.8 795.9 638.1 794.8 640.3 793.8 642.5 792.7 644.8 791.7 647.0 790.7 649.3 789.7 651.5 788.7 653.8 787.8 656.0 786.9 658.3 786.1 660.5 785.4 662.7 784.7 665.0 784.2 667.2 783.7 669.5 783.4 671.7 783.3 674.0 783.2 676.2 783.3 678.5 783.5 680.7 783.7 682.9 784.0 685.2 784.3 687.4 784.8 689.7 785.2 691.9 785.8 694.2 786.3 696.4 786.9 698.7 787.5 700.9 788.2 703.1 788.9 705.4 789.5 707.6 790.2 709.9 790.9 712.1 791.6 714.4 792.3 716.6 793.0 718.9 793.8 721.1 794.7 723.3 795.7 725.6 796.7 727.8 797.7 730.1 798.8 732.3 799.9 734.6 801.0 736.8 802.2 739.1 803.3 741.3 804.5 743.5 805.6 745.8 806.8 748.0 808.0 750.3 809.2 752.5 810.4 754.8 811.6 757.0 812.9 759.3 814.2 761.5 815.5 763.7 816.8 766.0 818.2 768.2 819.6 770.5 820.9 772.7 822.3 775.0 823.7 777.2 825.1 779.5 826.5 781.7 827.9 783.9 829.4 786.2 830.8 788.4 832.2 790.7 833.7 792.9 835.1 795.2 836.6 797.4 838.0 799.7 839.4 801.9 840.9 804.1 842.3 806.4 843.7 808.6 845.1 810.9 846.5 813.1 847.9 815.4 849.3 817.6 850.7 819.9 852.1 822.1 853.5 824.3 854.9 826.6 856.4 828.8 857.8 831.1 859.3 833.3 860.7 835.6 862.2 837.8 863.7 840.0 865.1 842.3 866.6 844.5 868.1 846.8 869.5 849.0 871.0 851.3 872.5 853.5 873.9 855.8 875.4 858.0 876.8 860.2 878.3 862.5 879.7 864.7 881.1 867.0 882.6 869.2 884.0 871.5 885.4 873.7 886.8 876.0 888.2 878.2 889.5 880.4 890.9 882.7 892.2 884.9 893.6 887.2 894.9 889.4 896.1 891.7 897.4 893.9 898.7 896.2 899.9 898.4 901.1 900.6 902.3 902.9 903.5 905.1 904.6 907.4 905.8 909.6 906.9 911.9 908.0 914.1 909.1 916.4 910.1 918.6 911.2 920.8 912.3 923.1 913.3 925.3 914.3 927.6 915.3" stroke="#148289" stroke-width="1.7" fill="none" stroke-linejoin="round"/>
<path d="M144.3 686.7 146.5 688.8 148.8 690.8 151.0 692.9 153.3 695.0 155.5 697.0 157.8 699.1 160.0 701.2 162.3 703.3 164.5 705.4 166.7 707.5 169.0 709.6 171.2 711.8 173.5 713.9 175.7 716.1 178.0 718.2 180.2 720.4 182.5 722.5 184.7 724.7 186.9 726.9 189.2 729.1 191.4 731.3 193.7 733.5 195.9 735.7 198.2 737.9 200.4 740.1 202.7 742.4 204.9 744.6 207.1 746.9 209.4 749.1 211.6 751.4 213.9 753.7 216.1 755.9 218.4 758.3 220.6 760.6 222.9 762.9 225.1 765.3 227.3 767.6 229.6 770.0 231.8 772.4 234.1 774.8 236.3 777.2 238.6 779.6 240.8 782.0 243.1 784.5 245.3 786.9 247.5 789.3 249.8 791.7 252.0 794.2 254.3 796.6 256.5 799.0 258.8 801.4 261.0 803.8 263.3 806.3 265.5 808.7 267.7 811.0 270.0 813.4 272.2 815.8 274.5 818.2 276.7 820.5 279.0 822.9 281.2 825.2 283.4 827.5 285.7 829.9 287.9 832.2 290.2 834.5 292.4 836.9 294.7 839.2 296.9 841.5 299.2 843.9 301.4 846.2 303.6 848.5 305.9 850.8 308.1 853.1 310.4 855.4 312.6 857.7 314.9 860.0 317.1 862.3 319.4 864.6 321.6 866.9 323.8 869.2 326.1 871.5 328.3 873.8 330.6 876.0 332.8 878.3 335.1 880.6 337.3 882.8 339.6 885.1 341.8 887.3 344.0 889.6 346.3 891.8 348.5 894.1 350.8 896.5 353.0 898.8 355.3 901.2 357.5 903.6 359.8 906.0 362.0 908.5 364.2 910.9 366.5 913.4 368.7 915.9 371.0 918.3 373.2 920.8 375.5 923.3 377.7 925.7 380.0 928.2 382.2 930.6 384.4 933.0 386.7 935.4 388.9 937.8 391.2 940.1 393.4 942.4 395.7 944.7 397.9 946.9 400.2 949.1 402.4 951.2 404.6 953.3 406.9 955.3 409.1 957.3 411.4 959.2 413.6 961.1 415.9 962.8 418.1 964.5 420.4 966.2 422.6 967.7 424.8 969.2 427.1 970.6 429.3 971.9 431.6 973.2 433.8 974.5 436.1 975.9 438.3 977.2 440.6 978.5 442.8 979.8 445.0 981.1 447.3 982.4 449.5 983.6 451.8 984.7 454.0 985.8 456.3 986.8 458.5 987.8 460.8 988.6 463.0 989.4 465.2 990.1 467.5 990.6 469.7 991.0 472.0 991.3 474.2 991.5 476.5 991.5 478.7 991.4 481.0 991.1 483.2 990.7 485.4 990.3 487.7 989.7 489.9 989.0 492.2 988.1 494.4 987.3 496.7 986.3 498.9 985.2 501.2 984.0 503.4 982.8 505.6 981.5 507.9 980.2 510.1 978.8 512.4 977.3 514.6 975.8 516.9 974.3 519.1 972.7 521.4 971.1 523.6 969.5 525.8 967.8 528.1 966.1 530.3 964.5 532.6 962.8 534.8 961.1 537.1 959.5 539.3 957.8 541.6 956.2 543.8 954.6 546.0 952.9 548.3 951.2 550.5 949.4 552.8 947.5 555.0 945.5 557.3 943.4 559.5 941.3 561.7 939.1 564.0 936.9 566.2 934.5 568.5 932.2 570.7 929.8 573.0 927.3 575.2 924.9 577.5 922.4 579.7 919.8 581.9 917.3 584.2 914.7 586.4 912.2 588.7 909.6 590.9 907.0 593.2 904.4 595.4 901.9 597.7 899.3 599.9 896.8 602.1 894.3 604.4 891.9 606.6 889.5 608.9 887.1 611.1 884.8 613.4 882.5 615.6 880.3 617.9 878.0 620.1 875.7 622.3 873.4 624.6 871.0 626.8 868.6 629.1 866.2 631.3 863.8 633.6 861.5 635.8 859.1 638.1 856.8 640.3 854.6 642.5 852.4 644.8 850.3 647.0 848.3 649.3 846.4 651.5 844.7 653.8 843.0 656.0 841.5 658.3 840.1 660.5 838.9 662.7 837.6 665.0 836.3 667.2 835.0 669.5 833.8 671.7 832.5 674.0 831.3 676.2 830.1 678.5 828.9 680.7 827.7 682.9 826.6 685.2 825.6 687.4 824.5 689.7 823.6 691.9 822.6 694.2 821.8 696.4 821.0 698.7 820.3 700.9 819.6 703.1 819.0 705.4 818.6 707.6 818.2 709.9 817.8 712.1 817.6 714.4 817.5 716.6 817.5 718.9 817.7 721.1 817.9 723.3 818.3 725.6 818.7 727.8 819.2 730.1 819.8 732.3 820.4 734.6 821.1 736.8 821.7 739.1 822.4 741.3 823.1 743.5 823.7 745.8 824.3 748.0 824.9 750.3 825.6 752.5 826.3 754.8 827.0 757.0 827.7 759.3 828.5 761.5 829.3 763.7 830.1 766.0 830.9 768.2 831.8 770.5 832.7 772.7 833.7 775.0 834.7 777.2 835.8 779.5 836.9 781.7 838.0 783.9 839.2 786.2 840.4 788.4 841.7 790.7 843.0 792.9 844.3 795.2 845.7 797.4 847.1 799.7 848.5 801.9 850.0 804.1 851.5 806.4 853.0 808.6 854.5 810.9 856.0 813.1 857.6 815.4 859.2 817.6 860.7 819.9 862.3 822.1 863.9 824.3 865.6 826.6 867.2 828.8 868.8 831.1 870.4 833.3 872.1 835.6 873.7 837.8 875.3 840.0 876.9 842.3 878.5 844.5 880.1 846.8 881.7 849.0 883.3 851.3 884.8 853.5 886.4 855.8 887.9 858.0 889.4 860.2 890.8 862.5 892.3 864.7 893.7 867.0 895.1 869.2 896.5 871.5 897.8 873.7 899.1 876.0 900.4 878.2 901.6 880.4 902.8 882.7 904.0 884.9 905.2 887.2 906.4 889.4 907.6 891.7 908.7 893.9 909.9 896.2 911.0 898.4 912.2 900.6 913.3 902.9 914.4 905.1 915.5 907.4 916.6 909.6 917.7 911.9 918.7 914.1 919.8 916.4 920.9 918.6 921.9 920.8 922.9 923.1 924.0 925.3 925.0 927.6 926.0" stroke="#3c32aa" stroke-width="1.7" fill="none" stroke-linejoin="round"/>
<path d="M144.3 695.7 146.5 697.8 148.8 699.9 151.0 702.1 153.3 704.2 155.5 706.3 157.8 708.5 160.0 710.6 162.3 712.8 164.5 715.0 166.7 717.1 169.0 719.3 171.2 721.5 173.5 723.7 175.7 725.9 178.0 728.0 180.2 730.2 182.5 732.5 184.7 734.7 186.9 736.9 189.2 739.1 191.4 741.3 193.7 743.5 195.9 745.8 198.2 748.0 200.4 750.3 202.7 752.5 204.9 754.8 207.1 757.0 209.4 759.3 211.6 761.5 213.9 763.8 216.1 766.1 218.4 768.4 220.6 770.7 222.9 773.0 225.1 775.4 227.3 777.7 229.6 780.0 231.8 782.4 234.1 784.8 236.3 787.1 238.6 789.5 240.8 791.8 243.1 794.2 245.3 796.6 247.5 798.9 249.8 801.3 252.0 803.7 254.3 806.0 256.5 808.4 258.8 810.7 261.0 813.1 263.3 815.4 265.5 817.7 267.7 820.0 270.0 822.3 272.2 824.6 274.5 826.9 276.7 829.3 279.0 831.6 281.2 833.9 283.4 836.2 285.7 838.5 287.9 840.8 290.2 843.1 292.4 845.4 294.7 847.7 296.9 850.0 299.2 852.3 301.4 854.5 303.6 856.8 305.9 859.1 308.1 861.4 310.4 863.7 312.6 865.9 314.9 868.2 317.1 870.5 319.4 872.7 321.6 875.0 323.8 877.2 326.1 879.5 328.3 881.7 330.6 884.0 332.8 886.2 335.1 888.4 337.3 890.7 339.6 892.9 341.8 895.1 344.0 897.3 346.3 899.5 348.5 901.7 350.8 903.9 353.0 906.2 355.3 908.4 357.5 910.7 359.8 912.9 362.0 915.2 364.2 917.4 366.5 919.7 368.7 922.0 371.0 924.2 373.2 926.5 375.5 928.7 377.7 931.0 380.0 933.2 382.2 935.4 384.4 937.7 386.7 939.9 388.9 942.1 391.2 944.3 393.4 946.4 395.7 948.6 397.9 950.7 400.2 952.9 402.4 955.0 404.6 957.0 406.9 959.1 409.1 961.1 411.4 963.1 413.6 965.1 415.9 967.1 418.1 969.0 420.4 970.9 422.6 972.8 424.8 974.6 427.1 976.4 429.3 978.2 431.6 980.0 433.8 981.8 436.1 983.7 438.3 985.6 440.6 987.6 442.8 989.5 445.0 991.5 447.3 993.5 449.5 995.5 451.8 997.5 454.0 999.6 456.3 1001.6 458.5 1003.6 460.8 1005.5 463.0 1007.5 465.2 1009.4 467.5 1011.3 469.7 1013.1 472.0 1014.9 474.2 1016.7 476.5 1018.4 478.7 1020.0 481.0 1021.6 483.2 1023.1 485.4 1024.5 487.7 1025.8 489.9 1027.1 492.2 1028.2 494.4 1029.3 496.7 1030.2 498.9 1031.1 501.2 1031.8 503.4 1032.4 505.6 1032.9 507.9 1033.2 510.1 1033.4 512.4 1033.5 514.6 1033.4 516.9 1033.2 519.1 1032.9 521.4 1032.5 523.6 1031.9 525.8 1031.3 528.1 1030.6 530.3 1029.8 532.6 1029.0 534.8 1028.1 537.1 1027.2 539.3 1026.3 541.6 1025.3 543.8 1024.4 546.0 1023.5 548.3 1022.4 550.5 1021.2 552.8 1020.0 555.0 1018.6 557.3 1017.2 559.5 1015.7 561.7 1014.1 564.0 1012.4 566.2 1010.6 568.5 1008.8 570.7 1006.9 573.0 1005.0 575.2 1003.0 577.5 1000.9 579.7 998.8 581.9 996.7 584.2 994.5 586.4 992.3 588.7 990.0 590.9 987.7 593.2 985.4 595.4 983.1 597.7 980.7 599.9 978.4 602.1 976.0 604.4 973.6 606.6 971.2 608.9 968.8 611.1 966.5 613.4 964.1 615.6 961.8 617.9 959.4 620.1 957.1 622.3 954.8 624.6 952.6 626.8 950.4 629.1 948.2 631.3 946.0 633.6 943.7 635.8 941.3 638.1 938.9 640.3 936.4 642.5 933.9 644.8 931.3 647.0 928.7 649.3 926.1 651.5 923.4 653.8 920.8 656.0 918.2 658.3 915.5 660.5 912.9 662.7 910.4 665.0 907.8 667.2 905.3 669.5 902.8 671.7 900.4 674.0 898.1 676.2 895.8 678.5 893.6 680.7 891.5 682.9 889.5 685.2 887.6 687.4 885.8 689.7 884.2 691.9 882.6 694.2 881.2 696.4 879.7 698.7 878.2 700.9 876.8 703.1 875.4 705.4 874.0 707.6 872.6 709.9 871.3 712.1 870.1 714.4 869.0 716.6 867.9 718.9 866.9 721.1 866.0 723.3 865.2 725.6 864.6 727.8 864.1 730.1 863.7 732.3 863.4 734.6 863.2 736.8 862.9 739.1 862.7 741.3 862.5 743.5 862.4 745.8 862.3 748.0 862.2 750.3 862.2 752.5 862.3 754.8 862.5 757.0 862.7 759.3 863.0 761.5 863.4 763.7 863.9 766.0 864.4 768.2 865.0 770.5 865.7 772.7 866.3 775.0 867.1 777.2 867.8 779.5 868.7 781.7 869.5 783.9 870.4 786.2 871.3 788.4 872.2 790.7 873.1 792.9 874.0 795.2 875.0 797.4 875.9 799.7 876.9 801.9 877.8 804.1 878.7 806.4 879.6 808.6 880.5 810.9 881.4 813.1 882.4 815.4 883.4 817.6 884.4 819.9 885.4 822.1 886.5 824.3 887.6 826.6 888.8 828.8 890.0 831.1 891.2 833.3 892.4 835.6 893.7 837.8 894.9 840.0 896.2 842.3 897.5 844.5 898.8 846.8 900.2 849.0 901.5 851.3 902.8 853.5 904.2 855.8 905.5 858.0 906.9 860.2 908.2 862.5 909.5 864.7 910.9 867.0 912.2 869.2 913.5 871.5 914.8 873.7 916.1 876.0 917.4 878.2 918.6 880.4 919.9 882.7 921.2 884.9 922.4 887.2 923.7 889.4 925.0 891.7 926.3 893.9 927.6 896.2 928.8 898.4 930.1 900.6 931.4 902.9 932.7 905.1 934.0 907.4 935.3 909.6 936.6 911.9 937.9 914.1 939.2 916.4 940.5 918.6 941.8 920.8 943.1 923.1 944.4 925.3 945.7 927.6 947.1" stroke="#ff7800" stroke-width="1.7" fill="none" stroke-linejoin="round"/>
<path d="M144.3 714.2 146.5 715.9 148.8 717.7 151.0 719.5 153.3 721.3 155.5 723.1 157.8 725.0 160.0 726.9 162.3 728.9 164.5 730.8 166.7 732.9 169.0 734.9 171.2 737.0 173.5 739.1 175.7 741.2 178.0 743.3 180.2 745.5 182.5 747.6 184.7 749.8 186.9 752.0 189.2 754.3 191.4 756.5 193.7 758.7 195.9 761.0 198.2 763.2 200.4 765.5 202.7 767.8 204.9 770.0 207.1 772.3 209.4 774.6 211.6 776.9 213.9 779.1 216.1 781.4 218.4 783.8 220.6 786.1 222.9 788.5 225.1 790.8 227.3 793.2 229.6 795.6 231.8 798.0 234.1 800.4 236.3 802.8 238.6 805.2 240.8 807.6 243.1 810.0 245.3 812.4 247.5 814.7 249.8 817.1 252.0 819.4 254.3 821.7 256.5 824.1 258.8 826.4 261.0 828.7 263.3 831.0 265.5 833.2 267.7 835.5 270.0 837.8 272.2 840.1 274.5 842.4 276.7 844.6 279.0 846.9 281.2 849.2 283.4 851.4 285.7 853.7 287.9 855.9 290.2 858.2 292.4 860.5 294.7 862.7 296.9 865.0 299.2 867.2 301.4 869.4 303.6 871.7 305.9 873.9 308.1 876.2 310.4 878.4 312.6 880.7 314.9 882.9 317.1 885.1 319.4 887.4 321.6 889.6 323.8 891.9 326.1 894.1 328.3 896.3 330.6 898.6 332.8 900.8 335.1 903.1 337.3 905.3 339.6 907.6 341.8 909.8 344.0 912.1 346.3 914.4 348.5 916.7 350.8 918.9 353.0 921.3 355.3 923.6 357.5 925.9 359.8 928.2 362.0 930.6 364.2 933.0 366.5 935.3 368.7 937.7 371.0 940.1 373.2 942.4 375.5 944.8 377.7 947.2 380.0 949.6 382.2 952.0 384.4 954.4 386.7 956.8 388.9 959.1 391.2 961.5 393.4 963.9 395.7 966.3 397.9 968.6 400.2 971.0 402.4 973.3 404.6 975.7 406.9 978.0 409.1 980.3 411.4 982.6 413.6 984.9 415.9 987.2 418.1 989.5 420.4 991.7 422.6 993.9 424.8 996.2 427.1 998.4 429.3 1000.5 431.6 1002.7 433.8 1004.8 436.1 1006.9 438.3 1009.0 440.6 1011.1 442.8 1013.1 445.0 1015.1 447.3 1017.1 449.5 1019.1 451.8 1021.0 454.0 1022.9 456.3 1024.8 458.5 1026.7 460.8 1028.6 463.0 1030.5 465.2 1032.4 467.5 1034.3 469.7 1036.1 472.0 1038.0 474.2 1039.8 476.5 1041.6 478.7 1043.4 481.0 1045.2 483.2 1046.9 485.4 1048.5 487.7 1050.1 489.9 1051.6 492.2 1053.1 494.4 1054.5 496.7 1055.8 498.9 1057.0 501.2 1058.2 503.4 1059.2 505.6 1060.3 507.9 1061.3 510.1 1062.3 512.4 1063.4 514.6 1064.4 516.9 1065.5 519.1 1066.5 521.4 1067.4 523.6 1068.4 525.8 1069.3 528.1 1070.1 530.3 1070.9 532.6 1071.7 534.8 1072.3 537.1 1073.0 539.3 1073.5 541.6 1073.9 543.8 1074.3 546.0 1074.6 548.3 1074.7 550.5 1074.8 552.8 1074.7 555.0 1074.5 557.3 1074.2 559.5 1073.8 561.7 1073.3 564.0 1072.7 566.2 1072.0 568.5 1071.2 570.7 1070.3 573.0 1069.3 575.2 1068.3 577.5 1067.2 579.7 1066.0 581.9 1064.7 584.2 1063.4 586.4 1062.0 588.7 1060.6 590.9 1059.1 593.2 1057.6 595.4 1056.1 597.7 1054.5 599.9 1052.8 602.1 1051.2 604.4 1049.5 606.6 1047.9 608.9 1046.2 611.1 1044.5 613.4 1042.8 615.6 1041.1 617.9 1039.4 620.1 1037.6 622.3 1035.5 624.6 1033.1 626.8 1030.7 629.1 1028.1 631.3 1025.6 633.6 1023.2 635.8 1020.8 638.1 1018.3 640.3 1015.8 642.5 1013.3 644.8 1010.7 647.0 1008.1 649.3 1005.5 651.5 1002.8 653.8 1000.2 656.0 997.5 658.3 994.9 660.5 992.2 662.7 989.6 665.0 987.0 667.2 984.4 669.5 981.8 671.7 979.3 674.0 976.8 676.2 974.4 678.5 972.0 680.7 969.6 682.9 967.3 685.2 965.1 687.4 962.9 689.7 960.9 691.9 958.9 694.2 956.9 696.4 955.1 698.7 953.3 700.9 951.6 703.1 949.9 705.4 948.3 707.6 946.7 709.9 945.1 712.1 943.5 714.4 942.0 716.6 940.4 718.9 938.9 721.1 937.3 723.3 935.7 725.6 934.1 727.8 932.5 730.1 930.8 732.3 928.9 734.6 927.0 736.8 925.2 739.1 923.4 741.3 921.9 743.5 920.7 745.8 919.7 748.0 918.8 750.3 917.9 752.5 917.0 754.8 916.1 757.0 915.3 759.3 914.5 761.5 913.8 763.7 913.1 766.0 912.5 768.2 911.9 770.5 911.4 772.7 911.0 775.0 910.7 777.2 910.5 779.5 910.4 781.7 910.3 783.9 910.4 786.2 910.5 788.4 910.8 790.7 911.0 792.9 911.4 795.2 911.8 797.4 912.2 799.7 912.8 801.9 913.3 804.1 913.9 806.4 914.5 808.6 915.1 810.9 915.8 813.1 916.5 815.4 917.2 817.6 917.9 819.9 918.6 822.1 919.2 824.3 919.9 826.6 920.7 828.8 921.5 831.1 922.4 833.3 923.4 835.6 924.5 837.8 925.5 840.0 926.7 842.3 927.9 844.5 929.1 846.8 930.3 849.0 931.6 851.3 932.9 853.5 934.2 855.8 935.6 858.0 936.9 860.2 938.2 862.5 939.6 864.7 940.9 867.0 942.2 869.2 943.4 871.5 944.7 873.7 945.9 876.0 947.0 878.2 948.2 880.4 949.3 882.7 950.4 884.9 951.6 887.2 952.7 889.4 953.8 891.7 954.9 893.9 956.0 896.2 957.1 898.4 958.3 900.6 959.4 902.9 960.5 905.1 961.6 907.4 962.7 909.6 963.8 911.9 964.8 914.1 965.9 916.4 967.0 918.6 968.1 920.8 969.2 923.1 970.3 925.3 971.3 927.6 972.4" stroke="#7841c8" stroke-width="1.7" fill="none" stroke-linejoin="round"/>
<path d="M144.3 754.1 146.5 755.5 148.8 757.0 151.0 758.4 153.3 760.0 155.5 761.5 157.7 763.1 160.0 764.7 162.2 766.3 164.5 767.9 166.7 769.6 169.0 771.3 171.2 773.0 173.4 774.7 175.7 776.5 177.9 778.3 180.2 780.1 182.4 781.9 184.6 783.7 186.9 785.6 189.1 787.4 191.4 789.3 193.6 791.2 195.8 793.1 198.1 795.1 200.3 797.1 202.6 799.2 204.8 801.3 207.1 803.4 209.3 805.6 211.5 807.8 213.8 810.0 216.0 812.2 218.3 814.4 220.5 816.6 222.7 818.9 225.0 821.1 227.2 823.3 229.5 825.6 231.7 827.9 233.9 830.2 236.2 832.5 238.4 834.8 240.7 837.1 242.9 839.4 245.2 841.6 247.4 843.9 249.6 846.1 251.9 848.3 254.1 850.6 256.4 852.8 258.6 855.0 260.8 857.3 263.1 859.5 265.3 861.7 267.6 863.9 269.8 866.1 272.0 868.3 274.3 870.6 276.5 872.8 278.8 875.0 281.0 877.2 283.3 879.4 285.5 881.6 287.7 883.8 290.0 886.0 292.2 888.1 294.5 890.3 296.7 892.5 298.9 894.7 301.2 896.9 303.4 899.1 305.7 901.3 307.9 903.5 310.1 905.6 312.4 907.8 314.6 910.0 316.9 912.2 319.1 914.3 321.4 916.5 323.6 918.7 325.8 920.9 328.1 923.1 330.3 925.2 332.6 927.4 334.8 929.6 337.0 931.8 339.3 933.9 341.5 936.1 343.8 938.3 346.0 940.5 348.2 942.6 350.5 944.8 352.7 947.0 355.0 949.2 357.2 951.4 359.4 953.6 361.7 955.8 363.9 958.0 366.2 960.2 368.4 962.4 370.7 964.7 372.9 966.9 375.1 969.1 377.4 971.3 379.6 973.5 381.9 975.7 384.1 977.9 386.3 980.1 388.6 982.3 390.8 984.5 393.1 986.6 395.3 988.8 397.5 991.0 399.8 993.2 402.0 995.3 404.3 997.5 406.5 999.6 408.8 1001.7 411.0 1003.8 413.2 1005.9 415.5 1008.0 417.7 1010.1 420.0 1012.2 422.2 1014.3 424.4 1016.3 426.7 1018.3 428.9 1020.4 431.2 1022.4 433.4 1024.4 435.6 1026.3 437.9 1028.3 440.1 1030.2 442.4 1032.1 444.6 1034.0 446.9 1035.9 449.1 1037.7 451.3 1039.6 453.6 1041.4 455.8 1043.2 458.1 1045.1 460.3 1046.9 462.5 1048.8 464.8 1050.6 467.0 1052.4 469.3 1054.3 471.5 1056.2 473.7 1058.1 476.0 1060.1 478.2 1062.1 480.5 1064.1 482.7 1066.2 485.0 1068.3 487.2 1070.3 489.4 1072.4 491.7 1074.4 493.9 1076.4 496.2 1078.3 498.4 1080.1 500.6 1081.9 502.9 1083.6 505.1 1085.1 507.4 1086.6 509.6 1087.9 511.8 1089.2 514.1 1090.4 516.3 1091.7 518.6 1093.0 520.8 1094.3 523.1 1095.6 525.3 1096.8 527.5 1098.1 529.8 1099.3 532.0 1100.6 534.3 1101.8 536.5 1103.0 538.7 1104.2 541.0 1105.3 543.2 1106.4 545.5 1107.5 547.7 1108.6 549.9 1109.6 552.2 1110.6 554.4 1111.5 556.7 1112.4 558.9 1113.3 561.2 1114.1 563.4 1114.8 565.6 1115.5 567.9 1116.1 570.1 1116.7 572.4 1117.2 574.6 1117.7 576.8 1118.1 579.1 1118.4 581.3 1118.6 583.6 1118.8 585.8 1118.9 588.0 1118.8 590.3 1118.7 592.5 1118.5 594.8 1118.2 597.0 1117.8 599.3 1117.3 601.5 1116.7 603.7 1116.1 606.0 1115.4 608.2 1114.7 610.5 1113.9 612.7 1113.2 614.9 1112.4 617.2 1111.5 619.4 1110.3 621.7 1109.0 623.9 1107.5 626.1 1105.9 628.4 1104.1 630.6 1102.3 632.9 1100.5 635.1 1098.7 637.4 1096.8 639.6 1095.1 641.8 1093.4 644.1 1091.7 646.3 1090.1 648.6 1088.4 650.8 1086.7 653.0 1085.0 655.3 1083.2 657.5 1081.5 659.8 1079.8 662.0 1078.0 664.2 1076.2 666.5 1074.5 668.7 1072.7 671.0 1070.9 673.2 1069.1 675.5 1067.3 677.7 1065.5 679.9 1063.7 682.2 1061.9 684.4 1060.0 686.7 1058.2 688.9 1056.3 691.1 1054.5 693.4 1052.6 695.6 1050.7 697.9 1048.8 700.1 1046.9 702.3 1045.0 704.6 1043.1 706.8 1041.2 709.1 1039.3 711.3 1037.3 713.6 1035.3 715.8 1033.3 718.0 1031.3 720.3 1029.3 722.5 1027.2 724.8 1025.2 727.0 1023.2 729.2 1021.1 731.5 1019.0 733.7 1016.9 736.0 1014.7 738.2 1012.6 740.4 1010.5 742.7 1008.6 744.9 1006.7 747.2 1004.8 749.4 1002.9 751.6 1001.0 753.9 999.1 756.1 997.3 758.4 995.4 760.6 993.6 762.9 991.9 765.1 990.2 767.3 988.6 769.6 987.1 771.8 985.7 774.1 984.4 776.3 983.2 778.5 982.2 780.8 981.3 783.0 980.5 785.3 979.6 787.5 978.8 789.7 978.0 792.0 977.2 794.2 976.5 796.5 975.8 798.7 975.1 801.0 974.5 803.2 974.0 805.4 973.6 807.7 973.2 809.9 972.9 812.2 972.7 814.4 972.7 816.6 972.7 818.9 972.8 821.1 973.0 823.4 973.3 825.6 973.7 827.8 974.2 830.1 974.6 832.3 975.2 834.6 975.7 836.8 976.3 839.1 976.9 841.3 977.6 843.5 978.2 845.8 978.8 848.0 979.6 850.3 980.4 852.5 981.3 854.7 982.3 857.0 983.3 859.2 984.4 861.5 985.5 863.7 986.7 865.9 987.8 868.2 988.9 870.4 990.1 872.7 991.2 874.9 992.2 877.2 993.3 879.4 994.4 881.6 995.5 883.9 996.7 886.1 997.9 888.4 999.0 890.6 1000.1 892.8 1001.2 895.1 1002.2 897.3 1003.0 899.6 1003.8 901.8 1004.5 904.0 1005.3 906.3 1006.0 908.5 1006.6 910.8 1007.1 913.0 1007.5 915.3 1007.6 917.5 1007.5 919.7 1007.3 922.0 1007.0 924.2 1006.5 926.5 1006.0 928.7 1005.2" stroke="#e6147d" stroke-width="1.7" fill="none" stroke-linejoin="round"/>
<path d="M144.3 754.8 146.5 755.8 148.8 756.8 151.0 757.8 153.3 758.9 155.5 759.9 157.8 761.0 160.0 762.1 162.3 763.2 164.5 764.3 166.7 765.4 169.0 766.6 171.2 767.7 173.5 768.9 175.7 770.1 178.0 771.2 180.2 772.4 182.5 773.7 184.7 774.9 186.9 776.1 189.2 777.4 191.4 778.7 193.7 779.9 195.9 781.2 198.2 782.5 200.4 783.9 202.7 785.3 204.9 786.7 207.1 788.1 209.4 789.6 211.6 791.0 213.9 792.5 216.1 794.0 218.4 795.5 220.6 797.1 222.9 798.6 225.1 800.2 227.3 801.7 229.6 803.3 231.8 804.8 234.1 806.4 236.3 807.9 238.6 809.5 240.8 811.0 243.1 812.5 245.3 814.1 247.5 815.6 249.8 817.1 252.0 818.5 254.3 820.0 256.5 821.4 258.8 822.9 261.0 824.3 263.3 825.8 265.5 827.2 267.7 828.7 270.0 830.1 272.2 831.6 274.5 833.0 276.7 834.5 279.0 835.9 281.2 837.4 283.4 838.8 285.7 840.3 287.9 841.7 290.2 843.2 292.4 844.6 294.7 846.0 296.9 847.5 299.2 848.9 301.4 850.3 303.6 851.7 305.9 853.1 308.1 854.5 310.4 855.9 312.6 857.3 314.9 858.7 317.1 860.1 319.4 861.5 321.6 862.8 323.8 864.2 326.1 865.6 328.3 866.9 330.6 868.2 332.8 869.6 335.1 870.9 337.3 872.2 339.6 873.5 341.8 874.8 344.0 876.1 346.3 877.3 348.5 878.6 350.8 879.9 353.0 881.1 355.3 882.4 357.5 883.6 359.8 884.8 362.0 886.0 364.2 887.3 366.5 888.5 368.7 889.7 371.0 890.9 373.2 892.1 375.5 893.3 377.7 894.4 380.0 895.6 382.2 896.8 384.4 897.9 386.7 899.1 388.9 900.3 391.2 901.4 393.4 902.6 395.7 903.7 397.9 904.9 400.2 906.0 402.4 907.2 404.6 908.3 406.9 909.4 409.1 910.6 411.4 911.7 413.6 912.8 415.9 913.9 418.1 915.1 420.4 916.2 422.6 917.3 424.8 918.4 427.1 919.5 429.3 920.7 431.6 921.8 433.8 922.9 436.1 924.0 438.3 925.1 440.6 926.3 442.8 927.4 445.0 928.5 447.3 929.6 449.5 930.8 451.8 931.9 454.0 933.0 456.3 934.2 458.5 935.3 460.8 936.4 463.0 937.6 465.2 938.7 467.5 939.8 469.7 941.0 472.0 942.1 474.2 943.3 476.5 944.4 478.7 945.6 481.0 946.7 483.2 947.9 485.4 949.0 487.7 950.2 489.9 951.3 492.2 952.5 494.4 953.6 496.7 954.7 498.9 955.9 501.2 957.0 503.4 958.2 505.6 959.3 507.9 960.4 510.1 961.6 512.4 962.7 514.6 963.9 516.9 965.0 519.1 966.1 521.4 967.3 523.6 968.4 525.8 969.6 528.1 970.7 530.3 971.9 532.6 973.0 534.8 974.2 537.1 975.3 539.3 976.5 541.6 977.6 543.8 978.8 546.0 980.0 548.3 981.1 550.5 982.3 552.8 983.6 555.0 984.8 557.3 986.0 559.5 987.2 561.7 988.4 564.0 989.6 566.2 990.8 568.5 991.9 570.7 993.1 573.0 994.2 575.2 995.2 577.5 996.3 579.7 997.3 581.9 998.3 584.2 999.3 586.4 1000.3 588.7 1001.2 590.9 1002.2 593.2 1003.1 595.4 1004.1 597.7 1005.0 599.9 1005.9 602.1 1006.8 604.4 1007.7 606.6 1008.6 608.9 1009.5 611.1 1010.4 613.4 1011.2 615.6 1012.1 617.9 1012.9 620.1 1013.7 622.3 1014.6 624.6 1015.4 626.8 1016.2 629.1 1017.0 631.3 1017.8 633.6 1018.6 635.8 1019.4 638.1 1020.1 640.3 1020.9 642.5 1021.6 644.8 1022.4 647.0 1023.1 649.3 1023.9 651.5 1024.6 653.8 1025.3 656.0 1026.0 658.3 1026.7 660.5 1027.4 662.7 1028.1 665.0 1028.7 667.2 1029.4 669.5 1030.1 671.7 1030.7 674.0 1031.4 676.2 1032.0 678.5 1032.7 680.7 1033.3 682.9 1034.0 685.2 1034.6 687.4 1035.2 689.7 1035.8 691.9 1036.4 694.2 1037.0 696.4 1037.6 698.7 1038.2 700.9 1038.8 703.1 1039.4 705.4 1040.0 707.6 1040.6 709.9 1041.2 712.1 1041.7 714.4 1042.3 716.6 1042.8 718.9 1043.4 721.1 1043.9 723.3 1044.5 725.6 1045.0 727.8 1045.5 730.1 1046.1 732.3 1046.6 734.6 1047.1 736.8 1047.6 739.1 1048.2 741.3 1048.7 743.5 1049.2 745.8 1049.7 748.0 1050.2 750.3 1050.8 752.5 1051.3 754.8 1051.8 757.0 1052.3 759.3 1052.8 761.5 1053.3 763.7 1053.9 766.0 1054.4 768.2 1054.9 770.5 1055.4 772.7 1055.9 775.0 1056.4 777.2 1056.9 779.5 1057.4 781.7 1057.9 783.9 1058.4 786.2 1058.9 788.4 1059.4 790.7 1059.9 792.9 1060.4 795.2 1060.8 797.4 1061.3 799.7 1061.8 801.9 1062.2 804.1 1062.7 806.4 1063.1 808.6 1063.5 810.9 1063.9 813.1 1064.4 815.4 1064.8 817.6 1065.2 819.9 1065.6 822.1 1066.0 824.3 1066.4 826.6 1066.8 828.8 1067.2 831.1 1067.7 833.3 1068.1 835.6 1068.6 837.8 1069.0 840.0 1069.4 842.3 1069.9 844.5 1070.3 846.8 1070.7 849.0 1071.1 851.3 1071.5 853.5 1071.9 855.8 1072.2 858.0 1072.5 860.2 1072.8 862.5 1073.1 864.7 1073.4 867.0 1073.6 869.2 1073.8 871.5 1073.9 873.7 1074.1 876.0 1074.1 878.2 1074.2 880.4 1074.1 882.7 1073.9 884.9 1073.4 887.2 1072.8 889.4 1072.1 891.7 1071.2 893.9 1070.2 896.2 1069.2 898.4 1068.1 900.6 1066.9 902.9 1065.7 905.1 1064.6 907.4 1063.5 909.6 1062.3 911.9 1061.0 914.1 1059.7 916.4 1058.2 918.6 1056.7 920.8 1055.1 923.1 1053.4 925.3 1051.7 927.6 1049.9" stroke="#000000" stroke-width="1.7" fill="none" stroke-linejoin="round"/>
<path d="M144.3 898.3 146.5 899.8 148.8 901.3 151.0 902.8 153.3 904.3 155.5 905.8 157.8 907.2 160.0 908.7 162.3 910.2 164.5 911.7 166.8 913.2 169.0 914.7 171.2 916.1 173.5 917.6 175.7 919.1 178.0 920.6 180.2 922.0 182.5 923.5 184.7 925.0 187.0 926.4 189.2 927.9 191.5 929.4 193.7 930.8 195.9 932.3 198.2 933.8 200.4 935.2 202.7 936.7 204.9 938.2 207.2 939.6 209.4 941.1 211.7 942.5 213.9 944.0 216.2 945.4 218.4 946.9 220.6 948.3 222.9 949.8 225.1 951.2 227.4 952.7 229.6 954.1 231.9 955.6 234.1 957.0 236.4 958.5 238.6 959.9 240.8 961.4 243.1 962.8 245.3 964.2 247.6 965.7 249.8 967.1 252.1 968.6 254.3 970.0 256.6 971.4 258.8 972.9 261.1 974.3 263.3 975.8 265.5 977.2 267.8 978.6 270.0 980.1 272.3 981.5 274.5 982.9 276.8 984.4 279.0 985.8 281.3 987.2 283.5 988.7 285.8 990.1 288.0 991.5 290.2 993.0 292.5 994.4 294.7 995.8 297.0 997.2 299.2 998.7 301.5 1000.1 303.7 1001.5 306.0 1002.9 308.2 1004.3 310.5 1005.7 312.7 1007.1 314.9 1008.5 317.2 1009.9 319.4 1011.3 321.7 1012.7 323.9 1014.1 326.2 1015.5 328.4 1016.9 330.7 1018.3 332.9 1019.7 335.2 1021.0 337.4 1022.4 339.6 1023.8 341.9 1025.1 344.1 1026.5 346.4 1027.8 348.6 1029.2 350.9 1030.5 353.1 1031.8 355.4 1033.1 357.6 1034.4 359.9 1035.7 362.1 1037.0 364.3 1038.4 366.6 1039.8 368.8 1041.2 371.1 1042.6 373.3 1044.1 375.6 1045.5 377.8 1047.0 380.1 1048.5 382.3 1050.1 384.5 1051.6 386.8 1053.1 389.0 1054.7 391.3 1056.2 393.5 1057.8 395.8 1059.3 398.0 1060.9 400.3 1062.4 402.5 1064.0 404.8 1065.6 407.0 1067.1 409.2 1068.6 411.5 1070.2 413.7 1071.7 416.0 1073.2 418.2 1074.7 420.5 1076.2 422.7 1077.6 425.0 1079.1 427.2 1080.5 429.5 1081.9 431.7 1083.2 433.9 1084.6 436.2 1085.9 438.4 1087.2 440.7 1088.4 442.9 1089.7 445.2 1090.9 447.4 1092.2 449.7 1093.4 451.9 1094.6 454.2 1095.8 456.4 1097.0 458.6 1098.2 460.9 1099.4 463.1 1100.6 465.4 1101.8 467.6 1102.9 469.9 1104.1 472.1 1105.3 474.4 1106.4 476.6 1107.5 478.9 1108.7 481.1 1109.8 483.3 1110.9 485.6 1112.0 487.8 1113.1 490.1 1114.2 492.3 1115.2 494.6 1116.3 496.8 1117.3 499.1 1118.4 501.3 1119.4 503.6 1120.4 505.8 1121.4 508.0 1122.5 510.3 1123.4 512.5 1124.4 514.8 1125.4 517.0 1126.4 519.3 1127.3 521.5 1128.3 523.8 1129.2 526.0 1130.1 528.2 1131.0 530.5 1131.9 532.7 1132.8 535.0 1133.7 537.2 1134.5 539.5 1135.4 541.7 1136.2 544.0 1137.0 546.2 1137.8 548.5 1138.6 550.7 1139.4 552.9 1140.1 555.2 1140.9 557.4 1141.6 559.7 1142.4 561.9 1143.1 564.2 1143.8 566.4 1144.5 568.7 1145.2 570.9 1145.9 573.2 1146.6 575.4 1147.3 577.6 1148.0 579.9 1148.7 582.1 1149.4 584.4 1150.1 586.6 1150.7 588.9 1151.4 591.1 1152.1 593.4 1152.8 595.6 1153.4 597.9 1154.1 600.1 1154.8 602.3 1155.5 604.6 1156.2 606.8 1156.9 609.1 1157.6 611.3 1158.3 613.6 1159.0 615.8 1159.7 618.1 1160.4 620.3 1161.2 622.6 1161.9 624.8 1162.7 627.0 1163.5 629.3 1164.2 631.5 1165.1 633.8 1166.0 636.0 1166.9 638.3 1167.8 640.5 1168.6 642.8 1169.2 645.0 1169.8 647.3 1170.3 649.5 1170.8 651.7 1171.3 654.0 1171.8 656.2 1172.3 658.5 1172.8 660.7 1173.2 663.0 1173.6 665.2 1174.1 667.5 1174.5 669.7 1174.9 671.9 1175.2 674.2 1175.6 676.4 1176.0 678.7 1176.3 680.9 1176.6 683.2 1177.0 685.4 1177.3 687.7 1177.6 689.9 1177.9 692.2 1178.1 694.4 1178.4 696.6 1178.6 698.9 1178.9 701.1 1179.1 703.4 1179.3 705.6 1179.6 707.9 1179.8 710.1 1180.0 712.4 1180.2 714.6 1180.4 716.9 1180.6 719.1 1180.8 721.3 1181.0 723.6 1181.1 725.8 1181.3 728.1 1181.5 730.3 1181.7 732.6 1181.9 734.8 1182.1 737.1 1182.3 739.3 1182.4 741.6 1182.6 743.8 1182.8 746.0 1182.9 748.3 1183.1 750.5 1183.2 752.8 1183.4 755.0 1183.5 757.3 1183.6 759.5 1183.7 761.8 1183.8 764.0 1184.0 766.3 1184.0 768.5 1184.1 770.7 1184.2 773.0 1184.3 775.2 1184.3 777.5 1184.4 779.7 1184.4 782.0 1184.5 784.2 1184.5 786.5 1184.5 788.7 1184.5 791.0 1184.5 793.2 1184.4 795.4 1184.4 797.7 1184.4 799.9 1184.3 802.2 1184.2 804.4 1184.1 806.7 1184.0 808.9 1183.9 811.2 1183.8 813.4 1183.7 815.6 1183.5 817.9 1183.3 820.1 1183.2 822.4 1183.0 824.6 1182.8 826.9 1182.6 829.1 1182.4 831.4 1182.1 833.6 1181.9 835.9 1181.6 838.1 1181.4 840.3 1181.1 842.6 1180.8 844.8 1180.5 847.1 1180.2 849.3 1179.9 851.6 1179.5 853.8 1178.8 856.1 1178.0 858.3 1176.9 860.6 1175.6 862.8 1174.1 865.0 1172.5 867.3 1170.7 869.5 1168.9 871.8 1167.0 874.0 1165.0 876.3 1163.0 878.5 1161.0 880.8 1158.9 883.0 1156.3 885.3 1153.4 887.5 1150.4 889.7 1147.3 892.0 1144.2 894.2 1141.3 896.5 1138.6 898.7 1136.3 901.0 1134.4 903.2 1132.8 905.5 1131.0 907.7 1128.7 910.0 1125.8 912.2 1122.4 914.4 1118.6 916.7 1114.2 918.9 1109.4 921.2 1104.2 923.4 1098.6 925.7 1092.5 927.9 1086.0" stroke="#821414" stroke-width="1.7" fill="none" stroke-linejoin="round"/>
<path d="M553.5 755.0L883.9 1118.5" stroke="#000" stroke-width="2"/>
<path d="M893.3 1128.9L879.8 1122.2L888.0 1114.8Z" fill="#000"/>
<path d="M256.36 1223.80v-10.5M256.36 648.30v10.5M368.41 1223.80v-10.5M368.41 648.30v10.5M480.47 1223.80v-10.5M480.47 648.30v10.5M592.53 1223.80v-10.5M592.53 648.30v10.5M704.59 1223.80v-10.5M704.59 648.30v10.5M816.64 1223.80v-10.5M816.64 648.30v10.5M928.70 1223.80v-10.5M928.70 648.30v10.5M200.33 1223.80v-5.5M200.33 648.30v5.5M312.39 1223.80v-5.5M312.39 648.30v5.5M424.44 1223.80v-5.5M424.44 648.30v5.5M536.50 1223.80v-5.5M536.50 648.30v5.5M648.56 1223.80v-5.5M648.56 648.30v5.5M760.61 1223.80v-5.5M760.61 648.30v5.5M872.67 1223.80v-5.5M872.67 648.30v5.5M144.30 1223.80h12M928.70 1223.80h-12M144.30 1186.94h6M928.70 1186.94h-6M144.30 1165.38h6M928.70 1165.38h-6M144.30 1150.08h6M928.70 1150.08h-6M144.30 1138.21h6M928.70 1138.21h-6M144.30 1128.52h6M928.70 1128.52h-6M144.30 1120.32h6M928.70 1120.32h-6M144.30 1113.22h6M928.70 1113.22h-6M144.30 1106.95h6M928.70 1106.95h-6M144.30 1101.35h12M928.70 1101.35h-12M144.30 1064.49h6M928.70 1064.49h-6M144.30 1042.93h6M928.70 1042.93h-6M144.30 1027.63h6M928.70 1027.63h-6M144.30 1015.76h6M928.70 1015.76h-6M144.30 1006.07h6M928.70 1006.07h-6M144.30 997.87h6M928.70 997.87h-6M144.30 990.77h6M928.70 990.77h-6M144.30 984.50h6M928.70 984.50h-6M144.30 978.90h12M928.70 978.90h-12M144.30 942.04h6M928.70 942.04h-6M144.30 920.48h6M928.70 920.48h-6M144.30 905.18h6M928.70 905.18h-6M144.30 893.31h6M928.70 893.31h-6M144.30 883.62h6M928.70 883.62h-6M144.30 875.42h6M928.70 875.42h-6M144.30 868.32h6M928.70 868.32h-6M144.30 862.05h6M928.70 862.05h-6M144.30 856.45h12M928.70 856.45h-12M144.30 819.59h6M928.70 819.59h-6M144.30 798.03h6M928.70 798.03h-6M144.30 782.73h6M928.70 782.73h-6M144.30 770.86h6M928.70 770.86h-6M144.30 761.17h6M928.70 761.17h-6M144.30 752.97h6M928.70 752.97h-6M144.30 745.87h6M928.70 745.87h-6M144.30 739.60h6M928.70 739.60h-6M144.30 734.00h12M928.70 734.00h-12M144.30 697.14h6M928.70 697.14h-6M144.30 675.58h6M928.70 675.58h-6M144.30 660.28h6M928.70 660.28h-6M144.30 648.41h6M928.70 648.41h-6" stroke="#000" stroke-width="2.4" fill="none"/>
<rect x="144.30" y="648.30" width="784.40" height="575.50" stroke="#000" stroke-width="2.7" fill="none"/>
<text x="119.8" y="747.8" text-anchor="end" font-size="32">10</text>
<text x="131.2" y="734.4" text-anchor="end" font-size="22">1</text>
<text x="119.8" y="870.2" text-anchor="end" font-size="32">10</text>
<text x="131.2" y="856.8" text-anchor="end" font-size="22">0</text>
<text x="111.4" y="992.7" text-anchor="end" font-size="32">10</text>
<text x="131.2" y="979.3" text-anchor="end" font-size="22">-1</text>
<text x="111.4" y="1115.1" text-anchor="end" font-size="32">10</text>
<text x="131.2" y="1101.8" text-anchor="end" font-size="22">-2</text>
<text x="111.4" y="1237.6" text-anchor="end" font-size="32">10</text>
<text x="131.2" y="1224.2" text-anchor="end" font-size="22">-3</text>
<text x="144.3" y="1262.2" text-anchor="middle"  font-size="32">-1</text>
<text x="256.4" y="1262.2" text-anchor="middle"  font-size="32">0</text>
<text x="368.4" y="1262.2" text-anchor="middle"  font-size="32">1</text>
<text x="480.5" y="1262.2" text-anchor="middle"  font-size="32">2</text>
<text x="592.5" y="1262.2" text-anchor="middle"  font-size="32">3</text>
<text x="704.6" y="1262.2" text-anchor="middle"  font-size="32">4</text>
<text x="816.6" y="1262.2" text-anchor="middle"  font-size="32">5</text>
<text x="928.7" y="1262.2" text-anchor="middle"  font-size="32">6</text>
<path d="M267.7 1568.6 269.7 1570.5 271.7 1572.5 273.8 1574.4 275.8 1576.3 277.9 1578.3 279.9 1580.2 282.0 1582.0 284.0 1583.9 286.0 1585.7 288.1 1587.6 290.1 1589.4 292.2 1591.2 294.2 1592.9 296.2 1594.7 298.3 1596.4 300.3 1598.2 302.4 1599.9 304.4 1601.6 306.5 1603.2 308.5 1604.8 310.5 1606.4 312.6 1608.0 314.6 1609.5 316.7 1611.0 318.7 1612.6 320.8 1614.1 322.8 1615.6 324.8 1617.2 326.9 1618.7 328.9 1620.3 331.0 1621.9 333.0 1623.5 335.0 1625.1 337.1 1626.8 339.1 1628.4 341.2 1630.1 343.2 1631.8 345.3 1633.5 347.3 1635.2 349.3 1636.9 351.4 1638.6 353.4 1640.3 355.5 1642.0 357.5 1643.8 359.5 1645.5 361.6 1647.3 363.6 1649.0 365.7 1650.8 367.7 1652.5 369.8 1654.3 371.8 1656.1 373.8 1657.9 375.9 1659.7 377.9 1661.5 380.0 1663.3 382.0 1665.1 384.0 1667.0 386.1 1668.8 388.1 1670.6 390.2 1672.5 392.2 1674.4 394.3 1676.2 396.3 1678.1 398.3 1680.0 400.4 1681.9 402.4 1683.9 404.5 1685.8 406.5 1687.7 408.5 1689.7 410.6 1691.7 412.6 1693.7 414.7 1695.7 416.7 1697.7 418.8 1699.7 420.8 1701.8 422.8 1703.8 424.9 1705.9 426.9 1707.9 429.0 1710.0 431.0 1712.1 433.1 1714.1 435.1 1716.2 437.1 1718.3 439.2 1720.4 441.2 1722.5 443.3 1724.6 445.3 1726.7 447.3 1728.8 449.4 1730.9 451.4 1732.9 453.5 1735.0 455.5 1737.1 457.6 1739.2 459.6 1741.3 461.6 1743.3 463.7 1745.4 465.7 1747.5 467.8 1749.6 469.8 1751.7 471.8 1753.8 473.9 1755.9 475.9 1758.0 478.0 1760.1 480.0 1762.2 482.1 1764.4 484.1 1766.5 486.1 1768.6 488.2 1770.8 490.2 1772.9 492.3 1775.0 494.3 1777.2 496.3 1779.3 498.4 1781.4 500.4 1783.5 502.5 1785.6 504.5 1787.7 506.6 1789.8 508.6 1791.9 510.6 1794.0 512.7 1796.1 514.7 1798.1 516.8 1800.2 518.8 1802.2 520.8 1804.2 522.9 1806.2 524.9 1808.2 527.0 1810.2 529.0 1812.1 531.1 1814.1 533.1 1816.0 535.1 1817.9 537.2 1819.8 539.2 1821.6 541.3 1823.5 543.3 1825.3 545.3 1827.2 547.4 1829.0 549.4 1830.8 551.5 1832.6" stroke="#1a8a5a" stroke-width="2.7" fill="none" stroke-dasharray="5.2 7.8" stroke-linecap="round"/>
<path d="M163.1 1832.6 165.2 1831.8 167.2 1831.0 169.3 1830.2 171.3 1829.4 173.3 1828.6 175.4 1827.8 177.4 1827.0 179.5 1826.2 181.5 1825.4 183.6 1824.7 185.6 1823.9 187.6 1823.1 189.7 1822.3 191.7 1821.6 193.8 1820.8 195.8 1820.1 197.8 1819.3 199.9 1818.6 201.9 1817.8 204.0 1817.1 206.0 1816.3 208.0 1815.6 210.1 1814.8 212.1 1814.1 214.2 1813.4 216.2 1812.6 218.2 1811.9 220.3 1811.2 222.3 1810.5 224.4 1809.8 226.4 1809.1 228.4 1808.4 230.5 1807.7 232.5 1807.0 234.6 1806.3 236.6 1805.6 238.6 1804.9 240.7 1804.2 242.7 1803.5 244.8 1802.9 246.8 1802.2 248.9 1801.5 250.9 1800.9 252.9 1800.2 255.0 1799.5 257.0 1798.9 259.1 1798.2 261.1 1797.6 263.1 1796.9 265.2 1796.3 267.2 1795.7 269.3 1795.0 271.3 1794.4 273.3 1793.8 275.4 1793.1 277.4 1792.5 279.5 1791.9 281.5 1791.2 283.5 1790.6 285.6 1790.0 287.6 1789.3 289.7 1788.7 291.7 1788.1 293.7 1787.4 295.8 1786.8 297.8 1786.2 299.9 1785.6 301.9 1784.9 303.9 1784.3 306.0 1783.7 308.0 1783.1 310.1 1782.5 312.1 1781.9 314.2 1781.3 316.2 1780.7 318.2 1780.1 320.3 1779.6 322.3 1779.0 324.4 1778.4 326.4 1777.9 328.4 1777.4 330.5 1776.8 332.5 1776.3 334.6 1775.8 336.6 1775.3 338.6 1774.8 340.7 1774.3 342.7 1773.9 344.8 1773.4 346.8 1773.0 348.8 1772.5 350.9 1772.1 352.9 1771.7 355.0 1771.3 357.0 1771.0 359.0 1770.6 361.1 1770.2 363.1 1769.9 365.2 1769.5 367.2 1769.1 369.2 1768.8 371.3 1768.4 373.3 1768.0 375.4 1767.7 377.4 1767.3 379.5 1767.0 381.5 1766.6 383.5 1766.3 385.6 1766.0 387.6 1765.6 389.7 1765.3 391.7 1765.0 393.7 1764.7 395.8 1764.3 397.8 1764.0 399.9 1763.7 401.9 1763.5 403.9 1763.2 406.0 1762.9 408.0 1762.6 410.1 1762.4 412.1 1762.1 414.1 1761.9 416.2 1761.6 418.2 1761.4 420.3 1761.2 422.3 1761.0 424.3 1760.8 426.4 1760.6 428.4 1760.4 430.5 1760.3 432.5 1760.1 434.5 1760.0 436.6 1759.8 438.6 1759.7 440.7 1759.6 442.7 1759.5 444.8 1759.4 446.8 1759.3 448.8 1759.2 450.9 1759.1 452.9 1759.1 455.0 1759.0 457.0 1758.9 459.0 1758.8 461.1 1758.7 463.1 1758.7 465.2 1758.6 467.2 1758.5 469.2 1758.5 471.3 1758.4 473.3 1758.4 475.4 1758.3 477.4 1758.3 479.4 1758.3 481.5 1758.3 483.5 1758.3 485.6 1758.3 487.6 1758.3 489.6 1758.3 491.7 1758.3 493.7 1758.3 495.8 1758.3 497.8 1758.3 499.8 1758.3 501.9 1758.3 503.9 1758.3 506.0 1758.3 508.0 1758.3 510.1 1758.3 512.1 1758.3 514.1 1758.3 516.2 1758.3 518.2 1758.3 520.3 1758.3 522.3 1758.3 524.3 1758.3 526.4 1758.3 528.4 1758.3 530.5 1758.3 532.5 1758.3 534.5 1758.4 536.6 1758.4 538.6 1758.5 540.7 1758.5 542.7 1758.6 544.7 1758.7 546.8 1758.8 548.8 1758.9 550.9 1759.0 552.9 1759.2 554.9 1759.3 557.0 1759.5 559.0 1759.6 561.1 1759.8 563.1 1759.9 565.1 1760.1 567.2 1760.2 569.2 1760.4 571.3 1760.6 573.3 1760.8 575.4 1761.0 577.4 1761.3 579.4 1761.6 581.5 1761.9 583.5 1762.2 585.6 1762.6 587.6 1763.0 589.6 1763.4 591.7 1763.9 593.7 1764.3 595.8 1764.8 597.8 1765.3 599.8 1765.9 601.9 1766.4 603.9 1766.9 606.0 1767.5 608.0 1768.0 610.0 1768.6 612.1 1769.2 614.1 1769.8 616.2 1770.4 618.2 1770.9 620.2 1771.5 622.3 1772.1 624.3 1772.7 626.4 1773.3 628.4 1773.8 630.4 1774.4 632.5 1774.9 634.5 1775.5 636.6 1776.0 638.6 1776.6 640.7 1777.1 642.7 1777.7 644.7 1778.2 646.8 1778.8 648.8 1779.3 650.9 1779.9 652.9 1780.5 654.9 1781.1 657.0 1781.7 659.0 1782.2 661.1 1782.8 663.1 1783.4 665.1 1784.0 667.2 1784.6 669.2 1785.3 671.3 1785.9 673.3 1786.5 675.3 1787.1 677.4 1787.8 679.4 1788.4 681.5 1789.1 683.5 1789.7 685.5 1790.4 687.6 1791.1 689.6 1791.7 691.7 1792.4 693.7 1793.1 695.7 1793.8 697.8 1794.5 699.8 1795.2 701.9 1796.0 703.9 1796.7 706.0 1797.5 708.0 1798.3 710.0 1799.2 712.1 1800.0 714.1 1800.9 716.2 1801.7 718.2 1802.6 720.2 1803.4 722.3 1804.3 724.3 1805.2 726.4 1806.0 728.4 1806.8 730.4 1807.7 732.5 1808.5 734.5 1809.3 736.6 1810.0 738.6 1810.8 740.6 1811.5 742.7 1812.2 744.7 1812.9 746.8 1813.6 748.8 1814.3 750.8 1815.0 752.9 1815.6 754.9 1816.3 757.0 1817.0 759.0 1817.7 761.0 1818.3 763.1 1819.0 765.1 1819.6 767.2 1820.3 769.2 1820.9 771.3 1821.5 773.3 1822.2 775.3 1822.8 777.4 1823.4 779.4 1824.0 781.5 1824.6 783.5 1825.2 785.5 1825.8 787.6 1826.4 789.6 1826.9 791.7 1827.5 793.7 1828.1 795.7 1828.6 797.8 1829.2 799.8 1829.7 801.9 1830.2 803.9 1830.7 805.9 1831.2 808.0 1831.7" stroke="#1a8a5a" stroke-width="2.7" fill="none" stroke-dasharray="5.2 7.8" stroke-linecap="round"/>
<path d="M440.7 1832.6 442.8 1831.6 444.8 1830.7 446.9 1829.7 448.9 1828.7 450.9 1827.7 453.0 1826.8 455.0 1825.8 457.1 1824.8 459.1 1823.8 461.1 1822.8 463.2 1821.9 465.2 1820.9 467.3 1819.9 469.3 1818.9 471.3 1817.9 473.4 1816.9 475.4 1816.0 477.5 1815.0 479.5 1814.0 481.5 1813.0 483.6 1812.0 485.6 1811.0 487.7 1810.0 489.7 1809.0 491.7 1808.0 493.8 1807.1 495.8 1806.1 497.9 1805.1 499.9 1804.1 501.9 1803.1 504.0 1802.1 506.0 1801.1 508.1 1800.1 510.1 1799.1 512.1 1798.1 514.2 1797.1 516.2 1796.1 518.3 1795.1 520.3 1794.1 522.3 1793.1 524.4 1792.1 526.4 1791.1 528.5 1790.1 530.5 1789.1 532.5 1788.0 534.6 1787.0 536.6 1786.0 538.7 1784.9 540.7 1783.9 542.7 1782.8 544.8 1781.8 546.8 1780.7 548.9 1779.6 550.9 1778.6 552.9 1777.5 555.0 1776.4 557.0 1775.3 559.1 1774.2 561.1 1773.2 563.1 1772.1 565.2 1771.0 567.2 1769.9 569.3 1768.9 571.3 1767.8 573.3 1766.7 575.4 1765.7 577.4 1764.6 579.5 1763.6 581.5 1762.5 583.5 1761.5 585.6 1760.5 587.6 1759.4 589.7 1758.4 591.7 1757.4 593.7 1756.5 595.8 1755.5 597.8 1754.5 599.9 1753.6 601.9 1752.6 603.9 1751.7 606.0 1750.8 608.0 1749.9 610.1 1749.0 612.1 1748.2 614.1 1747.3 616.2 1746.5 618.2 1745.7 620.3 1744.8 622.3 1744.0 624.3 1743.2 626.4 1742.4 628.4 1741.5 630.5 1740.7 632.5 1739.9 634.5 1739.1 636.6 1738.3 638.6 1737.5 640.7 1736.8 642.7 1736.0 644.7 1735.2 646.8 1734.4 648.8 1733.7 650.9 1732.9 652.9 1732.2 654.9 1731.4 657.0 1730.7 659.0 1730.0 661.1 1729.3 663.1 1728.6 665.1 1727.9 667.2 1727.2 669.2 1726.5 671.3 1725.8 673.3 1725.2 675.3 1724.5 677.4 1723.9 679.4 1723.2 681.5 1722.6 683.5 1722.0 685.5 1721.4 687.6 1720.8 689.6 1720.3 691.7 1719.7 693.7 1719.1 695.7 1718.6 697.8 1718.1 699.8 1717.6 701.9 1717.1 703.9 1716.5 705.9 1716.0 708.0 1715.5 710.0 1715.0 712.1 1714.5 714.1 1714.0 716.1 1713.4 718.2 1712.9 720.2 1712.4 722.3 1711.9 724.3 1711.4 726.3 1711.0 728.4 1710.5 730.4 1710.0 732.5 1709.5 734.5 1709.1 736.5 1708.6 738.6 1708.2 740.6 1707.7 742.7 1707.3 744.7 1706.9 746.7 1706.4 748.8 1706.0 750.8 1705.7 752.9 1705.3 754.9 1704.9 756.9 1704.5 759.0 1704.2 761.0 1703.9 763.1 1703.5 765.1 1703.2 767.1 1702.9 769.2 1702.7 771.2 1702.4 773.3 1702.2 775.3 1701.9 777.3 1701.7 779.4 1701.5 781.4 1701.3 783.5 1701.2 785.5 1701.0 787.5 1700.8 789.6 1700.7 791.6 1700.5 793.7 1700.4 795.7 1700.2 797.7 1700.1 799.8 1699.9 801.8 1699.8 803.9 1699.6 805.9 1699.5 807.9 1699.3 810.0 1699.2 812.0 1699.1 814.1 1698.9 816.1 1698.8 818.1 1698.7 820.2 1698.6 822.2 1698.4 824.3 1698.3 826.3 1698.2 828.3 1698.1 830.4 1698.0 832.4 1697.9 834.5 1697.8 836.5 1697.7 838.5 1697.6 840.6 1697.6 842.6 1697.5 844.7 1697.4 846.7 1697.4 848.7 1697.3 850.8 1697.2 852.8 1697.2 854.9 1697.2 856.9 1697.1 858.9 1697.1 861.0 1697.1 863.0 1697.1 865.1 1697.0 867.1 1697.0 869.1 1697.0 871.2 1697.1 873.2 1697.1 875.3 1697.1 877.3 1697.1 879.3 1697.2 881.4 1697.2 883.4 1697.3 885.5 1697.4 887.5 1697.5 889.5 1697.5 891.6 1697.6 893.6 1697.7 895.7 1697.8 897.7 1697.9 899.7 1698.1 901.8 1698.2 903.8 1698.3 905.9 1698.5 907.9 1698.6 909.9 1698.8 912.0 1698.9 914.0 1699.1 916.1 1699.3 918.1 1699.4 920.1 1699.6 922.2 1699.8 924.2 1700.0 926.3 1700.2 928.3 1700.4" stroke="#1a8a5a" stroke-width="2.7" fill="none" stroke-dasharray="5.2 7.8" stroke-linecap="round"/>
<path d="M532.3 1654.7 534.4 1656.9 536.4 1659.2 538.5 1661.5 540.5 1663.8 542.6 1666.0 544.7 1668.3 546.7 1670.6 548.8 1672.9 550.8 1675.1 552.9 1677.4 554.9 1679.7 557.0 1681.9 559.0 1684.2 561.1 1686.5 563.2 1688.8 565.2 1691.0 567.3 1693.3 569.3 1695.6 571.4 1697.8 573.4 1700.1 575.5 1702.4 577.5 1704.7 579.6 1706.9 581.7 1709.2 583.7 1711.5 585.8 1713.7 587.8 1716.0 589.9 1718.3 591.9 1720.5 594.0 1722.8 596.1 1725.1 598.1 1727.3 600.2 1729.6 602.2 1731.9 604.3 1734.1 606.3 1736.4 608.4 1738.7 610.4 1740.9 612.5 1743.2 614.6 1745.5 616.6 1747.7 618.7 1750.0 620.7 1752.3 622.8 1754.6 624.8 1756.9 626.9 1759.2 628.9 1761.5 631.0 1763.8 633.1 1766.1 635.1 1768.4 637.2 1770.6 639.2 1772.9 641.3 1775.2 643.3 1777.4 645.4 1779.7 647.4 1781.9 649.5 1784.1 651.6 1786.3 653.6 1788.5 655.7 1790.6 657.7 1792.8 659.8 1794.9 661.8 1797.0 663.9 1799.1 665.9 1801.2 668.0 1803.3 670.1 1805.3 672.1 1807.4 674.2 1809.4 676.2 1811.4 678.3 1813.5 680.3 1815.5 682.4 1817.5 684.4 1819.5 686.5 1821.6 688.6 1823.6 690.6 1825.6 692.7 1827.7 694.7 1829.7 696.8 1831.7 698.8 1833.8 700.9 1835.9 702.9 1837.9 705.0 1840.0 707.1 1842.0 709.1 1844.1 711.2 1846.1 713.2 1848.2 715.3 1850.2 717.3 1852.3 719.4 1854.3 721.5 1856.4 723.5 1858.4 725.6 1860.5 727.6 1862.5 729.7 1864.6 731.7 1866.6 733.8 1868.7 735.8 1870.7 737.9 1872.8" stroke="#e8413c" stroke-width="2.7" fill="none" stroke-dasharray="5.2 7.8" stroke-linecap="round"/>
<path d="M470.3 1874.8 472.3 1873.5 474.4 1872.2 476.4 1870.9 478.5 1869.6 480.5 1868.3 482.6 1867.1 484.6 1865.8 486.6 1864.6 488.7 1863.3 490.7 1862.1 492.8 1860.8 494.8 1859.6 496.9 1858.4 498.9 1857.2 501.0 1856.0 503.0 1854.8 505.0 1853.6 507.1 1852.5 509.1 1851.3 511.2 1850.2 513.2 1849.0 515.3 1847.9 517.3 1846.8 519.4 1845.7 521.4 1844.6 523.4 1843.5 525.5 1842.4 527.5 1841.4 529.6 1840.3 531.6 1839.3 533.7 1838.2 535.7 1837.2 537.8 1836.1 539.8 1835.1 541.8 1834.1 543.9 1833.0 545.9 1832.0 548.0 1831.0 550.0 1829.9 552.1 1828.9 554.1 1827.9 556.2 1826.9 558.2 1825.9 560.3 1824.9 562.3 1823.9 564.3 1822.9 566.4 1822.0 568.4 1821.0 570.5 1820.1 572.5 1819.1 574.6 1818.2 576.6 1817.2 578.7 1816.3 580.7 1815.4 582.7 1814.5 584.8 1813.6 586.8 1812.8 588.9 1811.9 590.9 1811.1 593.0 1810.2 595.0 1809.4 597.1 1808.6 599.1 1807.8 601.1 1807.0 603.2 1806.3 605.2 1805.5 607.3 1804.8 609.3 1804.1 611.4 1803.4 613.4 1802.7 615.5 1802.0 617.5 1801.4 619.5 1800.7 621.6 1800.0 623.6 1799.3 625.7 1798.6 627.7 1798.0 629.8 1797.3 631.8 1796.6 633.9 1796.0 635.9 1795.3 637.9 1794.7 640.0 1794.0 642.0 1793.4 644.1 1792.8 646.1 1792.2 648.2 1791.7 650.2 1791.1 652.3 1790.6 654.3 1790.0 656.4 1789.5 658.4 1789.1 660.4 1788.6 662.5 1788.2 664.5 1787.8 666.6 1787.4 668.6 1787.1 670.7 1786.7 672.7 1786.5 674.8 1786.2 676.8 1786.0 678.8 1785.8 680.9 1785.6 682.9 1785.4 685.0 1785.2 687.0 1785.0 689.1 1784.8 691.1 1784.6 693.2 1784.4 695.2 1784.2 697.2 1784.1 699.3 1783.9 701.3 1783.7 703.4 1783.6 705.4 1783.4 707.5 1783.3 709.5 1783.2 711.6 1783.1 713.6 1783.0 715.6 1782.9 717.7 1782.8 719.7 1782.7 721.8 1782.6 723.8 1782.6 725.9 1782.5 727.9 1782.5 730.0 1782.5 732.0 1782.5 734.0 1782.5 736.1 1782.5 738.1 1782.6 740.2 1782.7 742.2 1782.8 744.3 1783.0 746.3 1783.1 748.4 1783.3 750.4 1783.5 752.5 1783.7 754.5 1784.0 756.5 1784.2 758.6 1784.5 760.6 1784.8 762.7 1785.0 764.7 1785.3 766.8 1785.6 768.8 1785.9 770.9 1786.2 772.9 1786.6 774.9 1786.9 777.0 1787.2 779.0 1787.5 781.1 1787.8 783.1 1788.1 785.2 1788.4 787.2 1788.8 789.3 1789.1 791.3 1789.5 793.3 1789.9 795.4 1790.3 797.4 1790.7 799.5 1791.2 801.5 1791.6 803.6 1792.1 805.6 1792.5 807.7 1793.0 809.7 1793.5 811.7 1794.0 813.8 1794.6 815.8 1795.1 817.9 1795.7 819.9 1796.2 822.0 1796.8 824.0 1797.4 826.1 1797.9 828.1 1798.5 830.1 1799.2 832.2 1799.8 834.2 1800.4 836.3 1801.0 838.3 1801.7 840.4 1802.3 842.4 1803.0 844.5 1803.6 846.5 1804.3 848.6 1805.0 850.6 1805.6 852.6 1806.3 854.7 1807.0 856.7 1807.7 858.8 1808.4 860.8 1809.1 862.9 1809.8 864.9 1810.5 867.0 1811.2 869.0 1811.9 871.0 1812.7 873.1 1813.4 875.1 1814.2 877.2 1815.0 879.2 1815.8 881.3 1816.6 883.3 1817.4 885.4 1818.3 887.4 1819.1 889.4 1820.0 891.5 1820.9 893.5 1821.8 895.6 1822.7 897.6 1823.6 899.7 1824.6 901.7 1825.5 903.8 1826.5 905.8 1827.5 907.8 1828.5 909.9 1829.5 911.9 1830.5 914.0 1831.5 916.0 1832.5 918.1 1833.5 920.1 1834.6 922.2 1835.6 924.2 1836.7 926.2 1837.8 928.3 1838.8" stroke="#e8413c" stroke-width="2.7" fill="none" stroke-dasharray="5.2 7.8" stroke-linecap="round"/>
<path d="M243.6 1699.0 245.7 1700.2 247.7 1701.4 249.7 1702.6 251.8 1703.8 253.8 1705.0 255.8 1706.1 257.9 1707.2 259.9 1708.2 262.0 1709.1 264.0 1709.9 266.0 1710.6 268.1 1711.2 270.1 1711.6 272.2 1711.8 274.2 1712.0 276.2 1712.2 278.3 1712.4 280.3 1712.6 282.3 1712.8 284.4 1712.9 286.4 1713.1 288.5 1713.3 290.5 1713.4 292.5 1713.6 294.6 1713.7 296.6 1713.9 298.6 1714.0 300.7 1714.2 302.7 1714.3 304.8 1714.4 306.8 1714.5 308.8 1714.6 310.9 1714.8 312.9 1714.9 314.9 1715.0 317.0 1715.1 319.0 1715.1 321.1 1715.2 323.1 1715.3 325.1 1715.4 327.2 1715.4 329.2 1715.5 331.2 1715.6 333.3 1715.6 335.3 1715.7 337.4 1715.7 339.4 1715.7 341.4 1715.8 343.5 1715.8 345.5 1715.8 347.5 1715.9 349.6 1715.9 351.6 1715.9 353.7 1715.9 355.7 1715.9 357.7 1715.9 359.8 1715.9 361.8 1715.9 363.8 1715.8 365.9 1715.8 367.9 1715.7 370.0 1715.7 372.0 1715.6 374.0 1715.5 376.1 1715.5 378.1 1715.4 380.2 1715.3 382.2 1715.2 384.2 1715.1 386.3 1715.0 388.3 1714.9 390.3 1714.8 392.4 1714.6 394.4 1714.5 396.5 1714.4 398.5 1714.3 400.5 1714.1 402.6 1714.0 404.6 1713.9 406.6 1713.7 408.7 1713.6 410.7 1713.5 412.8 1713.3 414.8 1713.2 416.8 1713.1 418.9 1712.9 420.9 1712.8 422.9 1712.7 425.0 1712.5 427.0 1712.4 429.1 1712.3 431.1 1712.2 433.1 1712.1 435.2 1712.0 437.2 1711.9 439.2 1711.8 441.3 1711.7 443.3 1711.6 445.4 1711.5 447.4 1711.4 449.4 1711.3 451.5 1711.2 453.5 1711.1 455.5 1711.0 457.6 1710.9 459.6 1710.7 461.7 1710.6 463.7 1710.5 465.7 1710.4 467.8 1710.3 469.8 1710.2 471.8 1710.1 473.9 1710.0 475.9 1709.9 478.0 1709.8 480.0 1709.6 482.0 1709.5 484.1 1709.4 486.1 1709.3 488.2 1709.2 490.2 1709.1 492.2 1709.0 494.3 1708.9 496.3 1708.8 498.3 1708.7 500.4 1708.6 502.4 1708.5 504.5 1708.4 506.5 1708.3 508.5 1708.3 510.6 1708.2 512.6 1708.1 514.6 1708.0 516.7 1708.0 518.7 1707.9 520.8 1707.8 522.8 1707.8 524.8 1707.7 526.9 1707.7 528.9 1707.6 530.9 1707.6 533.0 1707.6 535.0 1707.5 537.1 1707.5 539.1 1707.5 541.1 1707.5 543.2 1707.5 545.2 1707.5 547.2 1707.5 549.3 1707.5 551.3 1707.5 553.4 1707.5 555.4 1707.5 557.4 1707.5 559.5 1707.5 561.5 1707.5 563.5 1707.5 565.6 1707.5 567.6 1707.5 569.7 1707.5 571.7 1707.5 573.7 1707.5 575.8 1707.5 577.8 1707.5 579.8 1707.5 581.9 1707.5 583.9 1707.5 586.0 1707.5 588.0 1707.5 590.0 1707.5 592.1 1707.5 594.1 1707.5 596.2 1707.5 598.2 1707.5 600.2 1707.5 602.3 1707.5 604.3 1707.5 606.3 1707.5 608.4 1707.5 610.4 1707.5 612.5 1707.5 614.5 1707.5 616.5 1707.5 618.6 1707.5 620.6 1707.5 622.6 1707.5 624.7 1707.5 626.7 1707.5 628.8 1707.5 630.8 1707.5 632.8 1707.5 634.9 1707.5 636.9 1707.5 638.9 1707.5 641.0 1707.5 643.0 1707.5 645.1 1707.5 647.1 1707.5 649.1 1707.5 651.2 1707.5 653.2 1707.5 655.2 1707.5 657.3 1707.5 659.3 1707.5 661.4 1707.5 663.4 1707.6 665.4 1707.6 667.5 1707.7 669.5 1707.7 671.5 1707.8 673.6 1707.9 675.6 1708.0 677.7 1708.1 679.7 1708.2 681.7 1708.3 683.8 1708.4 685.8 1708.5 687.8 1708.7 689.9 1708.8 691.9 1708.9 694.0 1709.1 696.0 1709.2 698.0 1709.4 700.1 1709.6 702.1 1709.7 704.2 1709.9 706.2 1710.1 708.2 1710.2 710.3 1710.4 712.3 1710.6 714.3 1710.8 716.4 1710.9 718.4 1711.1 720.5 1711.3 722.5 1711.5 724.5 1711.7 726.6 1711.8 728.6 1712.0 730.6 1712.2 732.7 1712.4 734.7 1712.6 736.8 1712.7 738.8 1712.9 740.8 1713.1 742.9 1713.2 744.9 1713.4 746.9 1713.6 749.0 1713.8 751.0 1714.0 753.1 1714.2 755.1 1714.4 757.1 1714.6 759.2 1714.9 761.2 1715.1 763.2 1715.3 765.3 1715.5 767.3 1715.8 769.4 1716.0 771.4 1716.3 773.4 1716.5 775.5 1716.8 777.5 1717.0 779.5 1717.2 781.6 1717.5 783.6 1717.7 785.7 1718.0 787.7 1718.2 789.7 1718.5 791.8 1718.7 793.8 1719.0 795.8 1719.2 797.9 1719.5 799.9 1719.7 802.0 1720.0 804.0 1720.2 806.0 1720.4 808.1 1720.6 810.1 1720.9 812.2 1721.1 814.2 1721.3 816.2 1721.5 818.3 1721.7 820.3 1721.9 822.3 1722.1 824.4 1722.3 826.4 1722.5 828.5 1722.7 830.5 1722.8 832.5 1723.0 834.6 1723.2 836.6 1723.3 838.6 1723.5 840.7 1723.7 842.7 1723.8 844.8 1724.0 846.8 1724.1 848.8 1724.3 850.9 1724.4 852.9 1724.6 854.9 1724.7 857.0 1724.9 859.0 1725.0 861.1 1725.2 863.1 1725.3 865.1 1725.4" stroke="#8c46be" stroke-width="2.0" fill="none" stroke-linejoin="round"/>
<path d="M265.4 1704.1l5.2 -9.0l5.2 9.0zM273.3 1718.3l5.2 -9.0l5.2 9.0zM281.1 1715.9l5.2 -9.0l5.2 9.0zM288.9 1714.2l5.2 -9.0l5.2 9.0zM296.7 1722.1l5.2 -9.0l5.2 9.0zM304.6 1717.7l5.2 -9.0l5.2 9.0zM312.4 1718.1l5.2 -9.0l5.2 9.0zM320.2 1729.3l5.2 -9.0l5.2 9.0zM328.0 1712.3l5.2 -9.0l5.2 9.0zM335.8 1715.0l5.2 -9.0l5.2 9.0zM343.7 1722.7l5.2 -9.0l5.2 9.0zM351.5 1720.0l5.2 -9.0l5.2 9.0zM359.3 1715.7l5.2 -9.0l5.2 9.0zM367.1 1720.2l5.2 -9.0l5.2 9.0zM375.0 1719.8l5.2 -9.0l5.2 9.0zM382.8 1726.9l5.2 -9.0l5.2 9.0zM390.6 1714.0l5.2 -9.0l5.2 9.0zM398.4 1716.1l5.2 -9.0l5.2 9.0zM406.2 1714.7l5.2 -9.0l5.2 9.0zM414.1 1725.4l5.2 -9.0l5.2 9.0zM421.9 1705.1l5.2 -9.0l5.2 9.0zM429.7 1714.0l5.2 -9.0l5.2 9.0zM437.5 1717.0l5.2 -9.0l5.2 9.0zM445.4 1701.6l5.2 -9.0l5.2 9.0zM453.2 1714.1l5.2 -9.0l5.2 9.0zM461.0 1722.4l5.2 -9.0l5.2 9.0zM468.8 1714.2l5.2 -9.0l5.2 9.0zM476.7 1719.6l5.2 -9.0l5.2 9.0zM484.5 1708.9l5.2 -9.0l5.2 9.0zM492.3 1713.0l5.2 -9.0l5.2 9.0zM500.1 1711.4l5.2 -9.0l5.2 9.0zM507.9 1711.1l5.2 -9.0l5.2 9.0zM515.8 1710.8l5.2 -9.0l5.2 9.0zM523.6 1710.6l5.2 -9.0l5.2 9.0zM531.4 1710.5l5.2 -9.0l5.2 9.0zM539.2 1710.5l5.2 -9.0l5.2 9.0zM547.1 1710.5l5.2 -9.0l5.2 9.0zM554.9 1710.5l5.2 -9.0l5.2 9.0zM562.7 1710.5l5.2 -9.0l5.2 9.0zM570.5 1710.5l5.2 -9.0l5.2 9.0zM578.3 1710.5l5.2 -9.0l5.2 9.0zM586.2 1710.5l5.2 -9.0l5.2 9.0zM594.0 1710.5l5.2 -9.0l5.2 9.0zM601.8 1710.5l5.2 -9.0l5.2 9.0zM609.6 1710.5l5.2 -9.0l5.2 9.0zM617.5 1710.5l5.2 -9.0l5.2 9.0zM625.3 1710.5l5.2 -9.0l5.2 9.0zM633.1 1710.5l5.2 -9.0l5.2 9.0zM640.9 1710.5l5.2 -9.0l5.2 9.0zM648.7 1710.5l5.2 -9.0l5.2 9.0zM656.6 1710.5l5.2 -9.0l5.2 9.0zM664.4 1710.7l5.2 -9.0l5.2 9.0zM672.2 1711.0l5.2 -9.0l5.2 9.0zM680.0 1711.5l5.2 -9.0l5.2 9.0zM687.9 1712.0l5.2 -9.0l5.2 9.0zM695.7 1712.6l5.2 -9.0l5.2 9.0zM703.5 1713.3l5.2 -9.0l5.2 9.0zM711.3 1713.9l5.2 -9.0l5.2 9.0zM719.2 1714.6l5.2 -9.0l5.2 9.0zM727.0 1715.3l5.2 -9.0l5.2 9.0zM734.8 1716.0l5.2 -9.0l5.2 9.0zM742.6 1716.7l5.2 -9.0l5.2 9.0zM750.4 1717.5l5.2 -9.0l5.2 9.0zM758.3 1718.3l5.2 -9.0l5.2 9.0zM766.1 1719.2l5.2 -9.0l5.2 9.0zM773.9 1720.2l5.2 -9.0l5.2 9.0zM781.7 1721.1l5.2 -9.0l5.2 9.0zM789.6 1722.1l5.2 -9.0l5.2 9.0zM797.4 1723.0l5.2 -9.0l5.2 9.0zM805.2 1723.9l5.2 -9.0l5.2 9.0zM813.0 1724.7l5.2 -9.0l5.2 9.0zM820.8 1725.4l5.2 -9.0l5.2 9.0zM828.7 1726.1l5.2 -9.0l5.2 9.0zM836.5 1726.7l5.2 -9.0l5.2 9.0zM844.3 1727.3l5.2 -9.0l5.2 9.0zM852.1 1727.9l5.2 -9.0l5.2 9.0zM860.0 1728.4l5.2 -9.0l5.2 9.0z" stroke="#8c46be" stroke-width="1.6" fill="none"/>
<path d="M237.2 1684.2 239.2 1685.0 241.3 1685.8 243.3 1686.6 245.4 1687.4 247.4 1688.2 249.5 1689.0 251.5 1689.8 253.5 1690.5 255.6 1691.2 257.6 1692.0 259.7 1692.6 261.7 1693.3 263.8 1693.9 265.8 1694.5 267.8 1695.1 269.9 1695.7 271.9 1696.2 274.0 1696.7 276.0 1697.1 278.1 1697.5 280.1 1697.9 282.1 1698.3 284.2 1698.7 286.2 1699.1 288.3 1699.5 290.3 1699.9 292.4 1700.2 294.4 1700.6 296.4 1700.9 298.5 1701.2 300.5 1701.6 302.6 1701.9 304.6 1702.2 306.7 1702.5 308.7 1702.8 310.7 1703.1 312.8 1703.3 314.8 1703.6 316.9 1703.8 318.9 1704.1 321.0 1704.3 323.0 1704.5 325.0 1704.7 327.1 1704.9 329.1 1705.0 331.2 1705.2 333.2 1705.4 335.3 1705.5 337.3 1705.6 339.3 1705.8 341.4 1705.9 343.4 1706.0 345.5 1706.2 347.5 1706.3 349.6 1706.4 351.6 1706.5 353.6 1706.7 355.7 1706.8 357.7 1706.9 359.8 1707.0 361.8 1707.1 363.9 1707.3 365.9 1707.4 367.9 1707.5 370.0 1707.6 372.0 1707.7 374.1 1707.8 376.1 1707.9 378.2 1708.0 380.2 1708.1 382.2 1708.2 384.3 1708.3 386.3 1708.4 388.4 1708.5 390.4 1708.6 392.5 1708.6 394.5 1708.7 396.5 1708.8 398.6 1708.9 400.6 1708.9 402.7 1709.0 404.7 1709.1 406.8 1709.1 408.8 1709.2 410.8 1709.3 412.9 1709.3 414.9 1709.4 417.0 1709.4 419.0 1709.5 421.1 1709.5 423.1 1709.5 425.1 1709.6 427.2 1709.6 429.2 1709.6 431.3 1709.6 433.3 1709.7 435.4 1709.7 437.4 1709.7 439.4 1709.7 441.5 1709.7 443.5 1709.7 445.6 1709.7 447.6 1709.6 449.7 1709.6 451.7 1709.5 453.7 1709.5 455.8 1709.4 457.8 1709.3 459.9 1709.2 461.9 1709.1 464.0 1709.0 466.0 1708.9 468.0 1708.8 470.1 1708.7 472.1 1708.6 474.2 1708.4 476.2 1708.3 478.2 1708.1 480.3 1708.0 482.3 1707.8 484.4 1707.7 486.4 1707.5 488.5 1707.4 490.5 1707.2 492.5 1707.0 494.6 1706.8 496.6 1706.7 498.7 1706.5 500.7 1706.3 502.8 1706.2 504.8 1706.0 506.8 1705.8 508.9 1705.6 510.9 1705.5 513.0 1705.3 515.0 1705.1 517.1 1705.0 519.1 1704.8 521.1 1704.7 523.2 1704.5 525.2 1704.4 527.3 1704.2 529.3 1704.1 531.4 1703.9 533.4 1703.8 535.4 1703.7 537.5 1703.6 539.5 1703.5 541.6 1703.4 543.6 1703.3 545.7 1703.2 547.7 1703.1 549.7 1703.0 551.8 1702.9 553.8 1702.8 555.9 1702.8 557.9 1702.7 560.0 1702.6 562.0 1702.5 564.0 1702.4 566.1 1702.3 568.1 1702.3 570.2 1702.2 572.2 1702.1 574.3 1702.0 576.3 1702.0 578.3 1701.9 580.4 1701.8 582.4 1701.7 584.5 1701.7 586.5 1701.6 588.6 1701.5 590.6 1701.5 592.6 1701.4 594.7 1701.3 596.7 1701.3 598.8 1701.2 600.8 1701.1 602.9 1701.1 604.9 1701.0 606.9 1701.0 609.0 1700.9 611.0 1700.9 613.1 1700.8 615.1 1700.8 617.2 1700.7 619.2 1700.7 621.2 1700.6 623.3 1700.6 625.3 1700.5 627.4 1700.5 629.4 1700.5 631.5 1700.4 633.5 1700.4 635.5 1700.3 637.6 1700.3 639.6 1700.2 641.7 1700.2 643.7 1700.2 645.8 1700.1 647.8 1700.1 649.8 1700.0 651.9 1700.0 653.9 1700.0 656.0 1699.9 658.0 1699.9 660.1 1699.8 662.1 1699.8 664.1 1699.8 666.2 1699.7 668.2 1699.7 670.3 1699.7 672.3 1699.7 674.4 1699.6 676.4 1699.6 678.4 1699.6 680.5 1699.6 682.5 1699.5 684.6 1699.5 686.6 1699.5 688.7 1699.5 690.7 1699.5 692.7 1699.5 694.8 1699.5 696.8 1699.5 698.9 1699.5 700.9 1699.5 703.0 1699.5 705.0 1699.5 707.0 1699.6 709.1 1699.6 711.1 1699.6 713.2 1699.7 715.2 1699.7 717.3 1699.8 719.3 1699.9 721.3 1699.9 723.4 1700.0 725.4 1700.1 727.5 1700.2 729.5 1700.3 731.6 1700.4 733.6 1700.5 735.6 1700.6 737.7 1700.7 739.7 1700.8 741.8 1700.9 743.8 1701.0 745.8 1701.2 747.9 1701.3 749.9 1701.4 752.0 1701.6 754.0 1701.7 756.1 1701.9 758.1 1702.0 760.1 1702.1 762.2 1702.3 764.2 1702.5 766.3 1702.6 768.3 1702.8 770.4 1702.9 772.4 1703.1 774.4 1703.3 776.5 1703.4 778.5 1703.6 780.6 1703.8 782.6 1703.9 784.7 1704.1 786.7 1704.3 788.7 1704.5 790.8 1704.6 792.8 1704.8 794.9 1705.0 796.9 1705.2 799.0 1705.3 801.0 1705.5 803.0 1705.7 805.1 1705.8 807.1 1706.0 809.2 1706.2 811.2 1706.4 813.3 1706.5 815.3 1706.7 817.3 1706.9 819.4 1707.0 821.4 1707.2 823.5 1707.4 825.5 1707.5 827.6 1707.7 829.6 1707.9 831.6 1708.0 833.7 1708.2 835.7 1708.4 837.8 1708.5 839.8 1708.7 841.9 1708.9 843.9 1709.1 845.9 1709.3 848.0 1709.5 850.0 1709.7 852.1 1709.9 854.1 1710.0 856.2 1710.2 858.2 1710.4 860.2 1710.6 862.3 1710.9 864.3 1711.1 866.4 1711.3 868.4 1711.5 870.5 1711.7 872.5 1711.9 874.5 1712.1 876.6 1712.3 878.6 1712.6 880.7 1712.8 882.7 1713.0 884.8 1713.2 886.8 1713.4 888.8 1713.7 890.9 1713.9 892.9 1714.1 895.0 1714.3 897.0 1714.6 899.1 1714.8" stroke="#5fcfd2" stroke-width="2.0" fill="none" stroke-linejoin="round"/>
<path d="M268.6 1694.1L269.9 1697.6L273.6 1697.8L270.8 1700.1L271.7 1703.7L268.6 1701.7L265.5 1703.7L266.4 1700.1L263.6 1697.8L267.2 1697.6zM276.5 1686.0L277.8 1689.4L281.5 1689.6L278.6 1692.0L279.6 1695.5L276.5 1693.6L273.4 1695.5L274.3 1692.0L271.4 1689.6L275.1 1689.4zM284.3 1702.6L285.7 1706.1L289.4 1706.3L286.5 1708.6L287.5 1712.2L284.3 1710.2L281.2 1712.2L282.2 1708.6L279.3 1706.3L283.0 1706.1zM292.2 1691.9L293.6 1695.4L297.3 1695.6L294.4 1697.9L295.3 1701.5L292.2 1699.5L289.1 1701.5L290.0 1697.9L287.2 1695.6L290.9 1695.4zM300.1 1707.7L301.5 1711.1L305.1 1711.3L302.3 1713.7L303.2 1717.2L300.1 1715.3L297.0 1717.2L297.9 1713.7L295.1 1711.3L298.8 1711.1zM308.0 1701.1L309.3 1704.5L313.0 1704.7L310.2 1707.1L311.1 1710.6L308.0 1708.7L304.9 1710.6L305.8 1707.1L303.0 1704.7L306.6 1704.5zM315.9 1705.1L317.2 1708.5L320.9 1708.7L318.1 1711.1L319.0 1714.7L315.9 1712.7L312.8 1714.7L313.7 1711.1L310.8 1708.7L314.5 1708.5zM323.7 1691.2L325.1 1694.6L328.8 1694.8L325.9 1697.2L326.9 1700.7L323.7 1698.8L320.6 1700.7L321.6 1697.2L318.7 1694.8L322.4 1694.6zM331.6 1690.2L333.0 1693.6L336.7 1693.8L333.8 1696.2L334.7 1699.7L331.6 1697.7L328.5 1699.7L329.4 1696.2L326.6 1693.8L330.3 1693.6zM339.5 1702.3L340.9 1705.7L344.5 1706.0L341.7 1708.3L342.6 1711.9L339.5 1709.9L336.4 1711.9L337.3 1708.3L334.5 1706.0L338.2 1705.7zM347.4 1696.3L348.7 1699.8L352.4 1700.0L349.6 1702.3L350.5 1705.9L347.4 1703.9L344.3 1705.9L345.2 1702.3L342.4 1700.0L346.0 1699.8zM355.3 1702.5L356.6 1705.9L360.3 1706.1L357.5 1708.5L358.4 1712.0L355.3 1710.1L352.2 1712.0L353.1 1708.5L350.2 1706.1L353.9 1705.9zM363.2 1698.8L364.5 1702.2L368.2 1702.4L365.3 1704.8L366.3 1708.3L363.2 1706.4L360.0 1708.3L361.0 1704.8L358.1 1702.4L361.8 1702.2zM371.0 1706.5L372.4 1710.0L376.1 1710.2L373.2 1712.5L374.1 1716.1L371.0 1714.1L367.9 1716.1L368.8 1712.5L366.0 1710.2L369.7 1710.0zM378.9 1712.2L380.3 1715.7L383.9 1715.9L381.1 1718.2L382.0 1721.8L378.9 1719.8L375.8 1721.8L376.7 1718.2L373.9 1715.9L377.6 1715.7zM386.8 1713.1L388.1 1716.5L391.8 1716.8L389.0 1719.1L389.9 1722.7L386.8 1720.7L383.7 1722.7L384.6 1719.1L381.8 1716.8L385.4 1716.5zM394.7 1701.3L396.0 1704.7L399.7 1705.0L396.9 1707.3L397.8 1710.9L394.7 1708.9L391.6 1710.9L392.5 1707.3L389.6 1705.0L393.3 1704.7zM402.6 1691.3L403.9 1694.7L407.6 1694.9L404.7 1697.3L405.7 1700.8L402.6 1698.8L399.4 1700.8L400.4 1697.3L397.5 1694.9L401.2 1694.7zM410.4 1702.5L411.8 1705.9L415.5 1706.1L412.6 1708.5L413.5 1712.0L410.4 1710.1L407.3 1712.0L408.3 1708.5L405.4 1706.1L409.1 1705.9zM418.3 1707.1L419.7 1710.5L423.4 1710.7L420.5 1713.1L421.4 1716.6L418.3 1714.7L415.2 1716.6L416.1 1713.1L413.3 1710.7L417.0 1710.5zM426.2 1693.7L427.6 1697.1L431.2 1697.3L428.4 1699.7L429.3 1703.3L426.2 1701.3L423.1 1703.3L424.0 1699.7L421.2 1697.3L424.8 1697.1zM434.1 1703.1L435.4 1706.5L439.1 1706.7L436.3 1709.1L437.2 1712.6L434.1 1710.6L431.0 1712.6L431.9 1709.1L429.0 1706.7L432.7 1706.5zM442.0 1704.1L443.3 1707.5L447.0 1707.8L444.1 1710.1L445.1 1713.7L442.0 1711.7L438.9 1713.7L439.8 1710.1L436.9 1707.8L440.6 1707.5zM449.8 1703.6L451.2 1707.0L454.9 1707.2L452.0 1709.6L453.0 1713.2L449.8 1711.2L446.7 1713.2L447.7 1709.6L444.8 1707.2L448.5 1707.0zM457.7 1704.4L459.1 1707.8L462.8 1708.1L459.9 1710.4L460.8 1714.0L457.7 1712.0L454.6 1714.0L455.5 1710.4L452.7 1708.1L456.4 1707.8zM465.6 1704.5L467.0 1707.9L470.6 1708.2L467.8 1710.5L468.7 1714.1L465.6 1712.1L462.5 1714.1L463.4 1710.5L460.6 1708.2L464.3 1707.9zM473.5 1703.2L474.8 1706.6L478.5 1706.8L475.7 1709.2L476.6 1712.7L473.5 1710.8L470.4 1712.7L471.3 1709.2L468.5 1706.8L472.1 1706.6zM481.4 1702.6L482.7 1706.0L486.4 1706.3L483.6 1708.6L484.5 1712.2L481.4 1710.2L478.3 1712.2L479.2 1708.6L476.3 1706.3L480.0 1706.0zM489.2 1702.0L490.6 1705.4L494.3 1705.7L491.4 1708.0L492.4 1711.6L489.2 1709.6L486.1 1711.6L487.1 1708.0L484.2 1705.7L487.9 1705.4zM497.1 1701.3L498.5 1704.8L502.2 1705.0L499.3 1707.3L500.2 1710.9L497.1 1708.9L494.0 1710.9L494.9 1707.3L492.1 1705.0L495.8 1704.8zM505.0 1700.7L506.4 1704.1L510.0 1704.3L507.2 1706.7L508.1 1710.3L505.0 1708.3L501.9 1710.3L502.8 1706.7L500.0 1704.3L503.7 1704.1zM512.9 1700.0L514.2 1703.5L517.9 1703.7L515.1 1706.0L516.0 1709.6L512.9 1707.6L509.8 1709.6L510.7 1706.0L507.9 1703.7L511.5 1703.5zM520.8 1699.4L522.1 1702.8L525.8 1703.1L523.0 1705.4L523.9 1709.0L520.8 1707.0L517.7 1709.0L518.6 1705.4L515.7 1703.1L519.4 1702.8zM528.7 1698.8L530.0 1702.3L533.7 1702.5L530.8 1704.8L531.8 1708.4L528.7 1706.4L525.5 1708.4L526.5 1704.8L523.6 1702.5L527.3 1702.3zM536.5 1698.3L537.9 1701.8L541.6 1702.0L538.7 1704.3L539.6 1707.9L536.5 1705.9L533.4 1707.9L534.3 1704.3L531.5 1702.0L535.2 1701.8zM544.4 1697.9L545.8 1701.4L549.4 1701.6L546.6 1703.9L547.5 1707.5L544.4 1705.5L541.3 1707.5L542.2 1703.9L539.4 1701.6L543.1 1701.4zM552.3 1697.6L553.6 1701.0L557.3 1701.3L554.5 1703.6L555.4 1707.2L552.3 1705.2L549.2 1707.2L550.1 1703.6L547.3 1701.3L550.9 1701.0zM560.2 1697.3L561.5 1700.7L565.2 1700.9L562.4 1703.3L563.3 1706.9L560.2 1704.9L557.1 1706.9L558.0 1703.3L555.1 1700.9L558.8 1700.7zM568.1 1697.0L569.4 1700.4L573.1 1700.6L570.2 1703.0L571.2 1706.5L568.1 1704.6L564.9 1706.5L565.9 1703.0L563.0 1700.6L566.7 1700.4zM575.9 1696.7L577.3 1700.1L581.0 1700.3L578.1 1702.7L579.0 1706.3L575.9 1704.3L572.8 1706.3L573.8 1702.7L570.9 1700.3L574.6 1700.1zM583.8 1696.4L585.2 1699.8L588.8 1700.1L586.0 1702.4L586.9 1706.0L583.8 1704.0L580.7 1706.0L581.6 1702.4L578.8 1700.1L582.5 1699.8zM591.7 1696.1L593.1 1699.6L596.7 1699.8L593.9 1702.1L594.8 1705.7L591.7 1703.7L588.6 1705.7L589.5 1702.1L586.7 1699.8L590.3 1699.6zM599.6 1695.9L600.9 1699.3L604.6 1699.5L601.8 1701.9L602.7 1705.5L599.6 1703.5L596.5 1705.5L597.4 1701.9L594.5 1699.5L598.2 1699.3zM607.5 1695.7L608.8 1699.1L612.5 1699.3L609.6 1701.7L610.6 1705.2L607.5 1703.3L604.4 1705.2L605.3 1701.7L602.4 1699.3L606.1 1699.1zM615.3 1695.5L616.7 1698.9L620.4 1699.1L617.5 1701.5L618.5 1705.0L615.3 1703.1L612.2 1705.0L613.2 1701.5L610.3 1699.1L614.0 1698.9zM623.2 1695.3L624.6 1698.7L628.3 1699.0L625.4 1701.3L626.3 1704.9L623.2 1702.9L620.1 1704.9L621.0 1701.3L618.2 1699.0L621.9 1698.7zM631.1 1695.1L632.5 1698.6L636.1 1698.8L633.3 1701.1L634.2 1704.7L631.1 1702.7L628.0 1704.7L628.9 1701.1L626.1 1698.8L629.8 1698.6zM639.0 1695.0L640.3 1698.4L644.0 1698.6L641.2 1701.0L642.1 1704.5L639.0 1702.6L635.9 1704.5L636.8 1701.0L634.0 1698.6L637.6 1698.4zM646.9 1694.8L648.2 1698.2L651.9 1698.5L649.1 1700.8L650.0 1704.4L646.9 1702.4L643.8 1704.4L644.7 1700.8L641.8 1698.5L645.5 1698.2zM654.7 1694.7L656.1 1698.1L659.8 1698.3L656.9 1700.7L657.9 1704.2L654.7 1702.2L651.6 1704.2L652.6 1700.7L649.7 1698.3L653.4 1698.1zM662.6 1694.5L664.0 1697.9L667.7 1698.2L664.8 1700.5L665.7 1704.1L662.6 1702.1L659.5 1704.1L660.4 1700.5L657.6 1698.2L661.3 1697.9zM670.5 1694.4L671.9 1697.8L675.5 1698.0L672.7 1700.4L673.6 1704.0L670.5 1702.0L667.4 1704.0L668.3 1700.4L665.5 1698.0L669.2 1697.8zM678.4 1694.3L679.7 1697.7L683.4 1698.0L680.6 1700.3L681.5 1703.9L678.4 1701.9L675.3 1703.9L676.2 1700.3L673.4 1698.0L677.0 1697.7zM686.3 1694.2L687.6 1697.7L691.3 1697.9L688.5 1700.2L689.4 1703.8L686.3 1701.8L683.2 1703.8L684.1 1700.2L681.2 1697.9L684.9 1697.7zM694.2 1694.2L695.5 1697.6L699.2 1697.8L696.3 1700.2L697.3 1703.8L694.2 1701.8L691.0 1703.8L692.0 1700.2L689.1 1697.8L692.8 1697.6zM702.0 1694.2L703.4 1697.6L707.1 1697.9L704.2 1700.2L705.1 1703.8L702.0 1701.8L698.9 1703.8L699.8 1700.2L697.0 1697.9L700.7 1697.6zM709.9 1694.3L711.3 1697.7L714.9 1698.0L712.1 1700.3L713.0 1703.9L709.9 1701.9L706.8 1703.9L707.7 1700.3L704.9 1698.0L708.6 1697.7zM717.8 1694.5L719.1 1697.9L722.8 1698.2L720.0 1700.5L720.9 1704.1L717.8 1702.1L714.7 1704.1L715.6 1700.5L712.8 1698.2L716.4 1697.9zM725.7 1694.8L727.0 1698.2L730.7 1698.5L727.9 1700.8L728.8 1704.4L725.7 1702.4L722.6 1704.4L723.5 1700.8L720.6 1698.5L724.3 1698.2zM733.6 1695.2L734.9 1698.6L738.6 1698.8L735.7 1701.2L736.7 1704.7L733.6 1702.8L730.4 1704.7L731.4 1701.2L728.5 1698.8L732.2 1698.6zM741.4 1695.6L742.8 1699.0L746.5 1699.3L743.6 1701.6L744.5 1705.2L741.4 1703.2L738.3 1705.2L739.2 1701.6L736.4 1699.3L740.1 1699.0zM749.3 1696.1L750.7 1699.5L754.3 1699.8L751.5 1702.1L752.4 1705.7L749.3 1703.7L746.2 1705.7L747.1 1702.1L744.3 1699.8L748.0 1699.5zM757.2 1696.6L758.6 1700.1L762.2 1700.3L759.4 1702.6L760.3 1706.2L757.2 1704.2L754.1 1706.2L755.0 1702.6L752.2 1700.3L755.8 1700.1zM765.1 1697.2L766.4 1700.7L770.1 1700.9L767.3 1703.2L768.2 1706.8L765.1 1704.8L762.0 1706.8L762.9 1703.2L760.0 1700.9L763.7 1700.7zM773.0 1697.9L774.3 1701.3L778.0 1701.5L775.1 1703.9L776.1 1707.4L773.0 1705.4L769.9 1707.4L770.8 1703.9L767.9 1701.5L771.6 1701.3zM780.8 1698.5L782.2 1701.9L785.9 1702.2L783.0 1704.5L784.0 1708.1L780.8 1706.1L777.7 1708.1L778.7 1704.5L775.8 1702.2L779.5 1701.9zM788.7 1699.2L790.1 1702.6L793.8 1702.8L790.9 1705.2L791.8 1708.7L788.7 1706.8L785.6 1708.7L786.5 1705.2L783.7 1702.8L787.4 1702.6zM796.6 1699.8L798.0 1703.3L801.6 1703.5L798.8 1705.8L799.7 1709.4L796.6 1707.4L793.5 1709.4L794.4 1705.8L791.6 1703.5L795.3 1703.3zM804.5 1700.5L805.8 1703.9L809.5 1704.2L806.7 1706.5L807.6 1710.1L804.5 1708.1L801.4 1710.1L802.3 1706.5L799.5 1704.2L803.1 1703.9zM812.4 1701.2L813.7 1704.6L817.4 1704.8L814.6 1707.2L815.5 1710.7L812.4 1708.8L809.3 1710.7L810.2 1707.2L807.3 1704.8L811.0 1704.6zM820.2 1701.8L821.6 1705.2L825.3 1705.5L822.4 1707.8L823.4 1711.4L820.2 1709.4L817.1 1711.4L818.1 1707.8L815.2 1705.5L818.9 1705.2zM828.1 1702.4L829.5 1705.9L833.2 1706.1L830.3 1708.4L831.2 1712.0L828.1 1710.0L825.0 1712.0L825.9 1708.4L823.1 1706.1L826.8 1705.9zM836.0 1703.1L837.4 1706.5L841.0 1706.8L838.2 1709.1L839.1 1712.7L836.0 1710.7L832.9 1712.7L833.8 1709.1L831.0 1706.8L834.7 1706.5zM843.9 1703.8L845.2 1707.2L848.9 1707.5L846.1 1709.8L847.0 1713.4L843.9 1711.4L840.8 1713.4L841.7 1709.8L838.9 1707.5L842.5 1707.2zM851.8 1704.5L853.1 1708.0L856.8 1708.2L854.0 1710.5L854.9 1714.1L851.8 1712.1L848.7 1714.1L849.6 1710.5L846.7 1708.2L850.4 1708.0zM859.7 1705.3L861.0 1708.7L864.7 1709.0L861.8 1711.3L862.8 1714.9L859.7 1712.9L856.5 1714.9L857.5 1711.3L854.6 1709.0L858.3 1708.7zM867.5 1706.1L868.9 1709.5L872.6 1709.8L869.7 1712.1L870.6 1715.7L867.5 1713.7L864.4 1715.7L865.3 1712.1L862.5 1709.8L866.2 1709.5zM875.4 1706.9L876.8 1710.3L880.4 1710.6L877.6 1712.9L878.5 1716.5L875.4 1714.5L872.3 1716.5L873.2 1712.9L870.4 1710.6L874.1 1710.3zM883.3 1707.8L884.6 1711.2L888.3 1711.4L885.5 1713.8L886.4 1717.3L883.3 1715.4L880.2 1717.3L881.1 1713.8L878.3 1711.4L881.9 1711.2zM891.2 1708.6L892.5 1712.1L896.2 1712.3L893.4 1714.6L894.3 1718.2L891.2 1716.2L888.1 1718.2L889.0 1714.6L886.1 1712.3L889.8 1712.1zM899.1 1709.5L900.4 1712.9L904.1 1713.2L901.2 1715.5L902.2 1719.1L899.1 1717.1L895.9 1719.1L896.9 1715.5L894.0 1713.2L897.7 1712.9z" stroke="#5fcfd2" stroke-width="1.6" fill="none"/>
<path d="M264.8 1663.1 266.9 1663.7 268.9 1664.2 270.9 1664.8 273.0 1665.4 275.0 1665.9 277.0 1666.5 279.1 1667.0 281.1 1667.6 283.2 1668.1 285.2 1668.7 287.2 1669.2 289.3 1669.7 291.3 1670.3 293.4 1670.8 295.4 1671.3 297.4 1671.8 299.5 1672.3 301.5 1672.8 303.6 1673.3 305.6 1673.8 307.6 1674.3 309.7 1674.8 311.7 1675.2 313.8 1675.7 315.8 1676.1 317.8 1676.6 319.9 1677.0 321.9 1677.4 324.0 1677.9 326.0 1678.3 328.0 1678.7 330.1 1679.1 332.1 1679.5 334.2 1679.8 336.2 1680.2 338.2 1680.6 340.3 1680.9 342.3 1681.3 344.3 1681.7 346.4 1682.1 348.4 1682.4 350.5 1682.8 352.5 1683.2 354.5 1683.5 356.6 1683.9 358.6 1684.3 360.7 1684.6 362.7 1685.0 364.7 1685.3 366.8 1685.7 368.8 1686.1 370.9 1686.4 372.9 1686.8 374.9 1687.1 377.0 1687.4 379.0 1687.8 381.1 1688.1 383.1 1688.4 385.1 1688.8 387.2 1689.1 389.2 1689.4 391.3 1689.7 393.3 1690.0 395.3 1690.3 397.4 1690.6 399.4 1690.9 401.5 1691.1 403.5 1691.4 405.5 1691.7 407.6 1691.9 409.6 1692.2 411.6 1692.4 413.7 1692.6 415.7 1692.9 417.8 1693.1 419.8 1693.3 421.8 1693.5 423.9 1693.7 425.9 1693.8 428.0 1694.0 430.0 1694.2 432.0 1694.3 434.1 1694.4 436.1 1694.6 438.2 1694.7 440.2 1694.8 442.2 1694.9 444.3 1695.0 446.3 1695.1 448.4 1695.2 450.4 1695.3 452.4 1695.3 454.5 1695.4 456.5 1695.5 458.6 1695.6 460.6 1695.7 462.6 1695.8 464.7 1695.9 466.7 1695.9 468.7 1696.0 470.8 1696.1 472.8 1696.2 474.9 1696.3 476.9 1696.3 478.9 1696.4 481.0 1696.5 483.0 1696.6 485.1 1696.6 487.1 1696.7 489.1 1696.8 491.2 1696.8 493.2 1696.9 495.3 1696.9 497.3 1697.0 499.3 1697.1 501.4 1697.1 503.4 1697.2 505.5 1697.2 507.5 1697.3 509.5 1697.3 511.6 1697.4 513.6 1697.4 515.7 1697.4 517.7 1697.5 519.7 1697.5 521.8 1697.5 523.8 1697.6 525.9 1697.6 527.9 1697.6 529.9 1697.6 532.0 1697.7 534.0 1697.7 536.0 1697.7 538.1 1697.7 540.1 1697.7 542.2 1697.7 544.2 1697.7 546.2 1697.7 548.3 1697.7 550.3 1697.6 552.4 1697.6 554.4 1697.5 556.4 1697.5 558.5 1697.4 560.5 1697.3 562.6 1697.2 564.6 1697.1 566.6 1696.9 568.7 1696.8 570.7 1696.7 572.8 1696.5 574.8 1696.4 576.8 1696.2 578.9 1696.1 580.9 1695.9 583.0 1695.7 585.0 1695.5 587.0 1695.3 589.1 1695.2 591.1 1695.0 593.2 1694.8 595.2 1694.6 597.2 1694.4 599.3 1694.2 601.3 1694.0 603.3 1693.8 605.4 1693.6 607.4 1693.4 609.5 1693.2 611.5 1693.0 613.5 1692.9 615.6 1692.7 617.6 1692.5 619.7 1692.3 621.7 1692.2 623.7 1692.0 625.8 1691.8 627.8 1691.7 629.9 1691.5 631.9 1691.4 633.9 1691.3 636.0 1691.2 638.0 1691.1 640.1 1691.0 642.1 1690.9 644.1 1690.8 646.2 1690.7 648.2 1690.7 650.3 1690.6 652.3 1690.6 654.3 1690.6 656.4 1690.6 658.4 1690.6 660.4 1690.6 662.5 1690.6 664.5 1690.6 666.6 1690.7 668.6 1690.7 670.6 1690.7 672.7 1690.7 674.7 1690.8 676.8 1690.8 678.8 1690.9 680.8 1690.9 682.9 1690.9 684.9 1691.0 687.0 1691.0 689.0 1691.1 691.0 1691.2 693.1 1691.2 695.1 1691.3 697.2 1691.3 699.2 1691.4 701.2 1691.5 703.3 1691.5 705.3 1691.6 707.4 1691.7 709.4 1691.8 711.4 1691.8 713.5 1691.9 715.5 1692.0 717.6 1692.1 719.6 1692.2 721.6 1692.3 723.7 1692.4 725.7 1692.4 727.7 1692.5 729.8 1692.6 731.8 1692.7 733.9 1692.8 735.9 1692.9 737.9 1693.0 740.0 1693.1 742.0 1693.2 744.1 1693.3 746.1 1693.4 748.1 1693.5 750.2 1693.6 752.2 1693.7 754.3 1693.8 756.3 1693.9 758.3 1694.0 760.4 1694.0 762.4 1694.1 764.5 1694.2 766.5 1694.3 768.5 1694.4 770.6 1694.5 772.6 1694.6 774.7 1694.7 776.7 1694.8 778.7 1694.9 780.8 1695.0 782.8 1695.1 784.9 1695.1 786.9 1695.2 788.9 1695.3 791.0 1695.4 793.0 1695.5 795.0 1695.6 797.1 1695.7 799.1 1695.8 801.2 1695.9 803.2 1696.0 805.2 1696.1 807.3 1696.2 809.3 1696.3 811.4 1696.4 813.4 1696.5 815.4 1696.6 817.5 1696.7 819.5 1696.8 821.6 1696.9 823.6 1697.0 825.6 1697.1 827.7 1697.2 829.7 1697.3 831.8 1697.4 833.8 1697.5 835.8 1697.6 837.9 1697.7 839.9 1697.8 842.0 1697.9 844.0 1698.0 846.0 1698.1 848.1 1698.3 850.1 1698.4 852.2 1698.5 854.2 1698.6 856.2 1698.7 858.3 1698.8 860.3 1698.9 862.3 1699.1 864.4 1699.2 866.4 1699.3 868.5 1699.4 870.5 1699.5 872.5 1699.7 874.6 1699.8 876.6 1699.9 878.7 1700.0 880.7 1700.1 882.7 1700.3 884.8 1700.4 886.8 1700.5 888.9 1700.6 890.9 1700.8 892.9 1700.9 895.0 1701.0 897.0 1701.1 899.1 1701.3" stroke="#d4a017" stroke-width="2.0" fill="none" stroke-linejoin="round"/>
<path d="M267.8 1663.6l-9.0 5.2l9.0 5.2zM275.6 1658.1l-9.0 5.2l9.0 5.2zM283.5 1662.6l-9.0 5.2l9.0 5.2zM291.3 1659.5l-9.0 5.2l9.0 5.2zM299.1 1667.8l-9.0 5.2l9.0 5.2zM307.0 1675.8l-9.0 5.2l9.0 5.2zM314.8 1670.5l-9.0 5.2l9.0 5.2zM322.6 1665.0l-9.0 5.2l9.0 5.2zM330.4 1674.9l-9.0 5.2l9.0 5.2zM338.3 1678.4l-9.0 5.2l9.0 5.2zM346.1 1681.1l-9.0 5.2l9.0 5.2zM353.9 1681.9l-9.0 5.2l9.0 5.2zM361.8 1680.3l-9.0 5.2l9.0 5.2zM369.6 1685.2l-9.0 5.2l9.0 5.2zM377.4 1675.9l-9.0 5.2l9.0 5.2zM385.3 1684.3l-9.0 5.2l9.0 5.2zM393.1 1683.9l-9.0 5.2l9.0 5.2zM400.9 1679.7l-9.0 5.2l9.0 5.2zM408.7 1680.5l-9.0 5.2l9.0 5.2zM416.6 1687.9l-9.0 5.2l9.0 5.2zM424.4 1687.6l-9.0 5.2l9.0 5.2zM432.2 1687.5l-9.0 5.2l9.0 5.2zM440.1 1689.8l-9.0 5.2l9.0 5.2zM447.9 1689.8l-9.0 5.2l9.0 5.2zM455.7 1690.2l-9.0 5.2l9.0 5.2zM463.6 1690.5l-9.0 5.2l9.0 5.2zM471.4 1690.8l-9.0 5.2l9.0 5.2zM479.2 1691.1l-9.0 5.2l9.0 5.2zM487.0 1691.4l-9.0 5.2l9.0 5.2zM494.9 1691.7l-9.0 5.2l9.0 5.2zM502.7 1691.9l-9.0 5.2l9.0 5.2zM510.5 1692.1l-9.0 5.2l9.0 5.2zM518.4 1692.3l-9.0 5.2l9.0 5.2zM526.2 1692.4l-9.0 5.2l9.0 5.2zM534.0 1692.5l-9.0 5.2l9.0 5.2zM541.9 1692.5l-9.0 5.2l9.0 5.2zM549.7 1692.5l-9.0 5.2l9.0 5.2zM557.5 1692.4l-9.0 5.2l9.0 5.2zM565.3 1692.0l-9.0 5.2l9.0 5.2zM573.2 1691.5l-9.0 5.2l9.0 5.2zM581.0 1691.0l-9.0 5.2l9.0 5.2zM588.8 1690.3l-9.0 5.2l9.0 5.2zM596.7 1689.6l-9.0 5.2l9.0 5.2zM604.5 1688.8l-9.0 5.2l9.0 5.2zM612.3 1688.1l-9.0 5.2l9.0 5.2zM620.2 1687.4l-9.0 5.2l9.0 5.2zM628.0 1686.7l-9.0 5.2l9.0 5.2zM635.8 1686.2l-9.0 5.2l9.0 5.2zM643.7 1685.8l-9.0 5.2l9.0 5.2zM651.5 1685.5l-9.0 5.2l9.0 5.2zM659.3 1685.4l-9.0 5.2l9.0 5.2zM667.1 1685.5l-9.0 5.2l9.0 5.2zM675.0 1685.6l-9.0 5.2l9.0 5.2zM682.8 1685.7l-9.0 5.2l9.0 5.2zM690.6 1685.9l-9.0 5.2l9.0 5.2zM698.5 1686.1l-9.0 5.2l9.0 5.2zM706.3 1686.4l-9.0 5.2l9.0 5.2zM714.1 1686.7l-9.0 5.2l9.0 5.2zM722.0 1687.0l-9.0 5.2l9.0 5.2zM729.8 1687.3l-9.0 5.2l9.0 5.2zM737.6 1687.7l-9.0 5.2l9.0 5.2zM745.4 1688.0l-9.0 5.2l9.0 5.2zM753.3 1688.4l-9.0 5.2l9.0 5.2zM761.1 1688.8l-9.0 5.2l9.0 5.2zM768.9 1689.1l-9.0 5.2l9.0 5.2zM776.8 1689.5l-9.0 5.2l9.0 5.2zM784.6 1689.8l-9.0 5.2l9.0 5.2zM792.4 1690.2l-9.0 5.2l9.0 5.2zM800.3 1690.5l-9.0 5.2l9.0 5.2zM808.1 1690.9l-9.0 5.2l9.0 5.2zM815.9 1691.3l-9.0 5.2l9.0 5.2zM823.7 1691.6l-9.0 5.2l9.0 5.2zM831.6 1692.0l-9.0 5.2l9.0 5.2zM839.4 1692.5l-9.0 5.2l9.0 5.2zM847.2 1692.9l-9.0 5.2l9.0 5.2zM855.1 1693.3l-9.0 5.2l9.0 5.2zM862.9 1693.7l-9.0 5.2l9.0 5.2zM870.7 1694.2l-9.0 5.2l9.0 5.2zM878.6 1694.7l-9.0 5.2l9.0 5.2zM886.4 1695.1l-9.0 5.2l9.0 5.2zM894.2 1695.6l-9.0 5.2l9.0 5.2zM902.0 1696.1l-9.0 5.2l9.0 5.2z" stroke="#d4a017" stroke-width="1.6" fill="none"/>
<path d="M264.8 1622.7 266.9 1623.7 268.9 1624.6 270.9 1625.6 273.0 1626.5 275.0 1627.5 277.1 1628.4 279.1 1629.3 281.2 1630.2 283.2 1631.2 285.2 1632.1 287.3 1633.0 289.3 1633.9 291.4 1634.8 293.4 1635.7 295.5 1636.6 297.5 1637.4 299.5 1638.3 301.6 1639.2 303.6 1640.0 305.7 1640.9 307.7 1641.7 309.8 1642.6 311.8 1643.4 313.8 1644.3 315.9 1645.1 317.9 1645.9 320.0 1646.7 322.0 1647.5 324.1 1648.3 326.1 1649.1 328.2 1649.9 330.2 1650.7 332.2 1651.5 334.3 1652.2 336.3 1653.0 338.4 1653.8 340.4 1654.6 342.5 1655.4 344.5 1656.2 346.5 1657.0 348.6 1657.8 350.6 1658.6 352.7 1659.4 354.7 1660.2 356.8 1661.0 358.8 1661.8 360.8 1662.6 362.9 1663.4 364.9 1664.1 367.0 1664.9 369.0 1665.6 371.1 1666.4 373.1 1667.1 375.1 1667.8 377.2 1668.4 379.2 1669.1 381.3 1669.7 383.3 1670.3 385.4 1670.9 387.4 1671.4 389.4 1671.9 391.5 1672.4 393.5 1672.8 395.6 1673.3 397.6 1673.6 399.7 1674.0 401.7 1674.3 403.7 1674.6 405.8 1675.0 407.8 1675.3 409.9 1675.6 411.9 1676.0 414.0 1676.3 416.0 1676.6 418.0 1676.9 420.1 1677.2 422.1 1677.6 424.2 1677.9 426.2 1678.2 428.3 1678.5 430.3 1678.8 432.4 1679.1 434.4 1679.4 436.4 1679.7 438.5 1680.0 440.5 1680.3 442.6 1680.5 444.6 1680.8 446.7 1681.1 448.7 1681.4 450.7 1681.6 452.8 1681.9 454.8 1682.2 456.9 1682.4 458.9 1682.7 461.0 1682.9 463.0 1683.2 465.0 1683.4 467.1 1683.6 469.1 1683.9 471.2 1684.1 473.2 1684.3 475.3 1684.5 477.3 1684.7 479.3 1684.9 481.4 1685.1 483.4 1685.3 485.5 1685.5 487.5 1685.7 489.6 1685.9 491.6 1686.1 493.6 1686.2 495.7 1686.4 497.7 1686.6 499.8 1686.7 501.8 1686.9 503.9 1687.0 505.9 1687.1 507.9 1687.2 510.0 1687.4 512.0 1687.5 514.1 1687.6 516.1 1687.7 518.2 1687.8 520.2 1687.9 522.3 1688.0 524.3 1688.0 526.3 1688.1 528.4 1688.2 530.4 1688.2 532.5 1688.3 534.5 1688.3 536.6 1688.3 538.6 1688.4 540.6 1688.4 542.7 1688.4 544.7 1688.4 546.8 1688.4 548.8 1688.4 550.9 1688.4 552.9 1688.4 554.9 1688.4 557.0 1688.4 559.0 1688.4 561.1 1688.4 563.1 1688.4 565.2 1688.4 567.2 1688.4 569.2 1688.4 571.3 1688.4 573.3 1688.4 575.4 1688.4 577.4 1688.4 579.5 1688.4 581.5 1688.4 583.5 1688.4 585.6 1688.4 587.6 1688.4 589.7 1688.4 591.7 1688.4 593.8 1688.4 595.8 1688.4 597.8 1688.4 599.9 1688.4 601.9 1688.4 604.0 1688.4 606.0 1688.4 608.1 1688.4 610.1 1688.4 612.1 1688.4 614.2 1688.4 616.2 1688.4 618.3 1688.4 620.3 1688.4 622.4 1688.4 624.4 1688.4 626.5 1688.4 628.5 1688.4 630.5 1688.4 632.6 1688.4 634.6 1688.4 636.7 1688.4 638.7 1688.4 640.8 1688.4 642.8 1688.4 644.8 1688.4 646.9 1688.4 648.9 1688.4 651.0 1688.4 653.0 1688.4 655.1 1688.4 657.1 1688.4 659.1 1688.4 661.2 1688.4 663.2 1688.4 665.3 1688.4 667.3 1688.4 669.4 1688.4 671.4 1688.4 673.4 1688.4 675.5 1688.4 677.5 1688.4 679.6 1688.4 681.6 1688.4 683.7 1688.4 685.7 1688.4 687.7 1688.4 689.8 1688.4 691.8 1688.4 693.9 1688.4 695.9 1688.4 698.0 1688.4 700.0 1688.4 702.0 1688.4 704.1 1688.4 706.1 1688.4 708.2 1688.4 710.2 1688.4 712.3 1688.4 714.3 1688.4 716.3 1688.4 718.4 1688.4 720.4 1688.4 722.5 1688.4 724.5 1688.4 726.6 1688.4 728.6 1688.4 730.7 1688.4 732.7 1688.4 734.7 1688.4 736.8 1688.4 738.8 1688.4 740.9 1688.5 742.9 1688.5 745.0 1688.5 747.0 1688.5 749.0 1688.5 751.1 1688.5 753.1 1688.5 755.2 1688.5 757.2 1688.5 759.3 1688.5 761.3 1688.5 763.3 1688.5 765.4 1688.5 767.4 1688.6 769.5 1688.6 771.5 1688.6 773.6 1688.6 775.6 1688.6 777.6 1688.6 779.7 1688.6 781.7 1688.6 783.8 1688.6 785.8 1688.6 787.9 1688.7 789.9 1688.7 791.9 1688.7 794.0 1688.7 796.0 1688.7 798.1 1688.7 800.1 1688.7 802.2 1688.7 804.2 1688.7 806.2 1688.8 808.3 1688.8 810.3 1688.8 812.4 1688.8 814.4 1688.8 816.5 1688.8 818.5 1688.8 820.6 1688.8 822.6 1688.9 824.6 1688.9 826.7 1688.9 828.7 1688.9 830.8 1688.9 832.8 1688.9 834.9 1688.9 836.9 1689.0 838.9 1689.0 841.0 1689.0 843.0 1689.0 845.1 1689.0 847.1 1689.0 849.2 1689.0 851.2 1689.1 853.2 1689.1 855.3 1689.1 857.3 1689.1 859.4 1689.1 861.4 1689.1 863.5 1689.1 865.5 1689.2 867.5 1689.2 869.6 1689.2 871.6 1689.2 873.7 1689.2 875.7 1689.2 877.8 1689.3 879.8 1689.3" stroke="#7b4a3e" stroke-width="2.0" fill="none" stroke-linejoin="round"/>
<path d="M269.2 1628.4L264.8 1630.9L260.4 1628.4L260.4 1623.3L264.8 1620.8L269.2 1623.3zM277.1 1627.7L272.7 1630.3L268.3 1627.7L268.3 1622.7L272.7 1620.2L277.1 1622.7zM285.0 1630.9L280.6 1633.5L276.2 1630.9L276.2 1625.9L280.6 1623.3L285.0 1625.9zM292.8 1635.3L288.5 1637.8L284.1 1635.3L284.1 1630.2L288.5 1627.7L292.8 1630.2zM300.7 1641.1L296.4 1643.6L292.0 1641.1L292.0 1636.0L296.4 1633.5L300.7 1636.0zM308.6 1643.2L304.2 1645.7L299.9 1643.2L299.9 1638.1L304.2 1635.6L308.6 1638.1zM316.5 1647.1L312.1 1649.7L307.7 1647.1L307.7 1642.1L312.1 1639.5L316.5 1642.1zM324.4 1649.8L320.0 1652.3L315.6 1649.8L315.6 1644.7L320.0 1642.2L324.4 1644.7zM332.3 1650.0L327.9 1652.6L323.5 1650.0L323.5 1645.0L327.9 1642.5L332.3 1645.0zM340.2 1652.6L335.8 1655.1L331.4 1652.6L331.4 1647.6L335.8 1645.0L340.2 1647.6zM348.0 1657.2L343.7 1659.7L339.3 1657.2L339.3 1652.1L343.7 1649.6L348.0 1652.1zM355.9 1660.5L351.5 1663.0L347.2 1660.5L347.2 1655.5L351.5 1652.9L355.9 1655.5zM363.8 1663.4L359.4 1665.9L355.0 1663.4L355.0 1658.3L359.4 1655.8L363.8 1658.3zM371.7 1667.6L367.3 1670.1L362.9 1667.6L362.9 1662.5L367.3 1660.0L371.7 1662.5zM379.6 1670.4L375.2 1673.0L370.8 1670.4L370.8 1665.4L375.2 1662.9L379.6 1665.4zM387.5 1673.4L383.1 1675.9L378.7 1673.4L378.7 1668.3L383.1 1665.8L387.5 1668.3zM395.3 1674.9L391.0 1677.4L386.6 1674.9L386.6 1669.8L391.0 1667.3L395.3 1669.8zM403.2 1674.4L398.8 1676.9L394.5 1674.4L394.5 1669.3L398.8 1666.8L403.2 1669.3zM411.1 1676.9L406.7 1679.4L402.4 1676.9L402.4 1671.8L406.7 1669.3L411.1 1671.8zM419.0 1678.9L414.6 1681.5L410.2 1678.9L410.2 1673.9L414.6 1671.3L419.0 1673.9zM426.9 1680.1L422.5 1682.7L418.1 1680.1L418.1 1675.1L422.5 1672.6L426.9 1675.1zM434.8 1681.3L430.4 1683.9L426.0 1681.3L426.0 1676.3L430.4 1673.7L434.8 1676.3zM442.7 1682.5L438.3 1685.0L433.9 1682.5L433.9 1677.4L438.3 1674.9L442.7 1677.4zM450.5 1683.6L446.2 1686.1L441.8 1683.6L441.8 1678.5L446.2 1676.0L450.5 1678.5zM458.4 1684.6L454.0 1687.1L449.7 1684.6L449.7 1679.5L454.0 1677.0L458.4 1679.5zM466.3 1685.6L461.9 1688.1L457.5 1685.6L457.5 1680.5L461.9 1678.0L466.3 1680.5zM474.2 1686.5L469.8 1689.0L465.4 1686.5L465.4 1681.4L469.8 1678.9L474.2 1681.4zM482.1 1687.3L477.7 1689.8L473.3 1687.3L473.3 1682.2L477.7 1679.7L482.1 1682.2zM490.0 1688.1L485.6 1690.6L481.2 1688.1L481.2 1683.0L485.6 1680.5L490.0 1683.0zM497.8 1688.7L493.5 1691.3L489.1 1688.7L489.1 1683.7L493.5 1681.2L497.8 1683.7zM505.7 1689.3L501.3 1691.9L497.0 1689.3L497.0 1684.3L501.3 1681.8L505.7 1684.3zM513.6 1689.9L509.2 1692.4L504.8 1689.9L504.8 1684.8L509.2 1682.3L513.6 1684.8zM521.5 1690.3L517.1 1692.8L512.7 1690.3L512.7 1685.2L517.1 1682.7L521.5 1685.2zM529.4 1690.6L525.0 1693.1L520.6 1690.6L520.6 1685.5L525.0 1683.0L529.4 1685.5zM537.3 1690.8L532.9 1693.3L528.5 1690.8L528.5 1685.7L532.9 1683.2L537.3 1685.7zM545.2 1690.9L540.8 1693.4L536.4 1690.9L536.4 1685.8L540.8 1683.3L545.2 1685.8zM553.0 1690.9L548.7 1693.4L544.3 1690.9L544.3 1685.9L548.7 1683.3L553.0 1685.9zM560.9 1690.9L556.5 1693.4L552.2 1690.9L552.2 1685.9L556.5 1683.3L560.9 1685.9zM568.8 1690.9L564.4 1693.4L560.0 1690.9L560.0 1685.9L564.4 1683.3L568.8 1685.9zM576.7 1690.9L572.3 1693.4L567.9 1690.9L567.9 1685.9L572.3 1683.3L576.7 1685.9zM584.6 1690.9L580.2 1693.4L575.8 1690.9L575.8 1685.9L580.2 1683.3L584.6 1685.9zM592.5 1690.9L588.1 1693.4L583.7 1690.9L583.7 1685.9L588.1 1683.3L592.5 1685.9zM600.3 1690.9L596.0 1693.4L591.6 1690.9L591.6 1685.9L596.0 1683.3L600.3 1685.9zM608.2 1690.9L603.8 1693.4L599.5 1690.9L599.5 1685.9L603.8 1683.3L608.2 1685.9zM616.1 1690.9L611.7 1693.4L607.3 1690.9L607.3 1685.9L611.7 1683.3L616.1 1685.9zM624.0 1690.9L619.6 1693.4L615.2 1690.9L615.2 1685.9L619.6 1683.3L624.0 1685.9zM631.9 1690.9L627.5 1693.4L623.1 1690.9L623.1 1685.9L627.5 1683.3L631.9 1685.9zM639.8 1690.9L635.4 1693.4L631.0 1690.9L631.0 1685.9L635.4 1683.3L639.8 1685.9zM647.6 1690.9L643.3 1693.4L638.9 1690.9L638.9 1685.9L643.3 1683.3L647.6 1685.9zM655.5 1690.9L651.2 1693.4L646.8 1690.9L646.8 1685.9L651.2 1683.3L655.5 1685.9zM663.4 1690.9L659.0 1693.4L654.7 1690.9L654.7 1685.9L659.0 1683.3L663.4 1685.9zM671.3 1690.9L666.9 1693.4L662.5 1690.9L662.5 1685.9L666.9 1683.3L671.3 1685.9zM679.2 1690.9L674.8 1693.4L670.4 1690.9L670.4 1685.9L674.8 1683.3L679.2 1685.9zM687.1 1690.9L682.7 1693.4L678.3 1690.9L678.3 1685.9L682.7 1683.3L687.1 1685.9zM695.0 1690.9L690.6 1693.4L686.2 1690.9L686.2 1685.9L690.6 1683.3L695.0 1685.9zM702.8 1690.9L698.5 1693.4L694.1 1690.9L694.1 1685.9L698.5 1683.3L702.8 1685.9zM710.7 1690.9L706.3 1693.4L702.0 1690.9L702.0 1685.9L706.3 1683.3L710.7 1685.9zM718.6 1690.9L714.2 1693.5L709.8 1690.9L709.8 1685.9L714.2 1683.3L718.6 1685.9zM726.5 1690.9L722.1 1693.5L717.7 1690.9L717.7 1685.9L722.1 1683.3L726.5 1685.9zM734.4 1691.0L730.0 1693.5L725.6 1691.0L725.6 1685.9L730.0 1683.4L734.4 1685.9zM742.3 1691.0L737.9 1693.5L733.5 1691.0L733.5 1685.9L737.9 1683.4L742.3 1685.9zM750.1 1691.0L745.8 1693.5L741.4 1691.0L741.4 1685.9L745.8 1683.4L750.1 1685.9zM758.0 1691.0L753.7 1693.6L749.3 1691.0L749.3 1686.0L753.7 1683.4L758.0 1686.0zM765.9 1691.1L761.5 1693.6L757.2 1691.1L757.2 1686.0L761.5 1683.5L765.9 1686.0zM773.8 1691.1L769.4 1693.6L765.0 1691.1L765.0 1686.0L769.4 1683.5L773.8 1686.0zM781.7 1691.1L777.3 1693.7L772.9 1691.1L772.9 1686.1L777.3 1683.5L781.7 1686.1zM789.6 1691.2L785.2 1693.7L780.8 1691.2L780.8 1686.1L785.2 1683.6L789.6 1686.1zM797.5 1691.2L793.1 1693.7L788.7 1691.2L788.7 1686.1L793.1 1683.6L797.5 1686.1zM805.3 1691.3L801.0 1693.8L796.6 1691.3L796.6 1686.2L801.0 1683.7L805.3 1686.2zM813.2 1691.3L808.8 1693.8L804.5 1691.3L804.5 1686.2L808.8 1683.7L813.2 1686.2zM821.1 1691.4L816.7 1693.9L812.3 1691.4L812.3 1686.3L816.7 1683.8L821.1 1686.3zM829.0 1691.4L824.6 1693.9L820.2 1691.4L820.2 1686.3L824.6 1683.8L829.0 1686.3zM836.9 1691.5L832.5 1694.0L828.1 1691.5L828.1 1686.4L832.5 1683.9L836.9 1686.4zM844.8 1691.5L840.4 1694.0L836.0 1691.5L836.0 1686.5L840.4 1683.9L844.8 1686.5zM852.6 1691.6L848.3 1694.1L843.9 1691.6L843.9 1686.5L848.3 1684.0L852.6 1686.5zM860.5 1691.6L856.1 1694.2L851.8 1691.6L851.8 1686.6L856.1 1684.0L860.5 1686.6zM868.4 1691.7L864.0 1694.2L859.7 1691.7L859.7 1686.6L864.0 1684.1L868.4 1686.6zM876.3 1691.7L871.9 1694.3L867.5 1691.7L867.5 1686.7L871.9 1684.2L876.3 1686.7zM884.2 1691.8L879.8 1694.3L875.4 1691.8L875.4 1686.7L879.8 1684.2L884.2 1686.7z" stroke="#7b4a3e" stroke-width="1.6" fill="none"/>
<path d="M266.0 1555.9 268.1 1557.2 270.1 1558.5 272.2 1559.8 274.2 1561.0 276.2 1562.3 278.3 1563.6 280.3 1564.9 282.4 1566.2 284.4 1567.5 286.5 1568.9 288.5 1570.2 290.5 1571.5 292.6 1572.8 294.6 1574.1 296.7 1575.4 298.7 1576.8 300.7 1578.1 302.8 1579.4 304.8 1580.8 306.9 1582.1 308.9 1583.5 311.0 1584.8 313.0 1586.2 315.0 1587.5 317.1 1588.9 319.1 1590.2 321.2 1591.6 323.2 1592.9 325.3 1594.3 327.3 1595.7 329.3 1597.1 331.4 1598.6 333.4 1600.0 335.5 1601.5 337.5 1603.0 339.5 1604.5 341.6 1606.1 343.6 1607.6 345.7 1609.1 347.7 1610.6 349.8 1612.1 351.8 1613.6 353.8 1615.1 355.9 1616.5 357.9 1618.0 360.0 1619.4 362.0 1620.7 364.1 1622.0 366.1 1623.3 368.1 1624.5 370.2 1625.7 372.2 1626.8 374.3 1627.8 376.3 1628.9 378.3 1629.9 380.4 1630.9 382.4 1631.9 384.5 1632.9 386.5 1633.8 388.6 1634.8 390.6 1635.7 392.6 1636.7 394.7 1637.6 396.7 1638.4 398.8 1639.3 400.8 1640.2 402.8 1641.0 404.9 1641.9 406.9 1642.7 409.0 1643.5 411.0 1644.3 413.1 1645.1 415.1 1645.9 417.1 1646.6 419.2 1647.4 421.2 1648.1 423.3 1648.9 425.3 1649.6 427.4 1650.3 429.4 1651.0 431.4 1651.7 433.5 1652.3 435.5 1653.0 437.6 1653.7 439.6 1654.3 441.6 1654.9 443.7 1655.6 445.7 1656.2 447.8 1656.9 449.8 1657.5 451.9 1658.2 453.9 1658.9 455.9 1659.6 458.0 1660.2 460.0 1660.9 462.1 1661.6 464.1 1662.3 466.2 1663.0 468.2 1663.7 470.2 1664.3 472.3 1665.0 474.3 1665.7 476.4 1666.3 478.4 1667.0 480.4 1667.7 482.5 1668.3 484.5 1668.9 486.6 1669.6 488.6 1670.2 490.7 1670.8 492.7 1671.4 494.7 1672.0 496.8 1672.5 498.8 1673.1 500.9 1673.6 502.9 1674.2 504.9 1674.7 507.0 1675.2 509.0 1675.6 511.1 1676.1 513.1 1676.5 515.2 1676.9 517.2 1677.3 519.2 1677.7 521.3 1678.0 523.3 1678.3 525.4 1678.6 527.4 1678.9 529.5 1679.1 531.5 1679.3 533.5 1679.5 535.6 1679.7 537.6 1679.8 539.7 1679.9 541.7 1679.9 543.7 1680.0 545.8 1680.0 547.8 1680.0 549.9 1679.9 551.9 1679.9 554.0 1679.9 556.0 1679.9 558.0 1679.9 560.1 1679.9 562.1 1679.9 564.2 1679.9 566.2 1679.9 568.3 1679.9 570.3 1679.9 572.3 1679.9 574.4 1679.9 576.4 1679.9 578.5 1679.9 580.5 1679.9 582.5 1679.9 584.6 1679.9 586.6 1679.9 588.7 1679.9 590.7 1679.9 592.8 1679.9 594.8 1679.8 596.8 1679.8 598.9 1679.8 600.9 1679.8 603.0 1679.8 605.0 1679.8 607.0 1679.8 609.1 1679.8 611.1 1679.8 613.2 1679.8 615.2 1679.7 617.3 1679.7 619.3 1679.7 621.3 1679.7 623.4 1679.7 625.4 1679.7 627.5 1679.7 629.5 1679.7 631.6 1679.7 633.6 1679.6 635.6 1679.6 637.7 1679.6 639.7 1679.6 641.8 1679.6 643.8 1679.6 645.8 1679.6 647.9 1679.6 649.9 1679.5 652.0 1679.5 654.0 1679.5 656.1 1679.5 658.1 1679.5 660.1 1679.5 662.2 1679.4 664.2 1679.4 666.3 1679.4 668.3 1679.4 670.4 1679.3 672.4 1679.3 674.4 1679.2 676.5 1679.2 678.5 1679.1 680.6 1679.1 682.6 1679.1 684.6 1679.0 686.7 1678.9 688.7 1678.9 690.8 1678.8 692.8 1678.8 694.9 1678.7 696.9 1678.7 698.9 1678.6 701.0 1678.5 703.0 1678.5 705.1 1678.4 707.1 1678.3 709.1 1678.3 711.2 1678.2 713.2 1678.1 715.3 1678.1 717.3 1678.0 719.4 1677.9 721.4 1677.9 723.4 1677.8 725.5 1677.7 727.5 1677.7 729.6 1677.6 731.6 1677.6 733.7 1677.5 735.7 1677.4 737.7 1677.4 739.8 1677.3 741.8 1677.3 743.9 1677.2 745.9 1677.1 747.9 1677.1 750.0 1677.0 752.0 1677.0 754.1 1677.0 756.1 1676.9 758.2 1676.9 760.2 1676.8 762.2 1676.8 764.3 1676.8 766.3 1676.7 768.4 1676.7 770.4 1676.7 772.5 1676.7 774.5 1676.7 776.5 1676.6 778.6 1676.6 780.6 1676.6 782.7 1676.6 784.7 1676.6 786.7 1676.6 788.8 1676.6 790.8 1676.6 792.9 1676.6 794.9 1676.7 797.0 1676.7 799.0 1676.7 801.0 1676.7 803.1 1676.7 805.1 1676.7 807.2 1676.8 809.2 1676.8 811.2 1676.8 813.3 1676.8 815.3 1676.9 817.4 1676.9 819.4 1676.9 821.5 1677.0 823.5 1677.0 825.5 1677.0 827.6 1677.1 829.6 1677.1 831.7 1677.2 833.7 1677.2 835.8 1677.3 837.8 1677.3 839.8 1677.4 841.9 1677.4 843.9 1677.5 846.0 1677.5 848.0 1677.6 850.0 1677.6 852.1 1677.7 854.1 1677.7 856.2 1677.8 858.2 1677.9 860.3 1677.9 862.3 1678.0 864.3 1678.1 866.4 1678.2 868.4 1678.2 870.5 1678.3 872.5 1678.4 874.6 1678.5 876.6 1678.5 878.6 1678.6 880.7 1678.7 882.7 1678.8 884.8 1678.9 886.8 1679.0 888.8 1679.0 890.9 1679.1 892.9 1679.2 895.0 1679.3 897.0 1679.4 899.1 1679.5" stroke="#1a8a5a" stroke-width="2.0" fill="none" stroke-linejoin="round"/>
<path d="M270.4 1558.4L266.0 1561.0L261.7 1558.4L261.7 1553.4L266.0 1550.8L270.4 1553.4zM278.2 1563.4L273.8 1565.9L269.5 1563.4L269.5 1558.3L273.8 1555.8L278.2 1558.3zM286.0 1568.3L281.7 1570.8L277.3 1568.3L277.3 1563.3L281.7 1560.7L286.0 1563.3zM293.9 1573.3L289.5 1575.9L285.1 1573.3L285.1 1568.3L289.5 1565.7L293.9 1568.3zM301.7 1578.4L297.3 1580.9L292.9 1578.4L292.9 1573.3L297.3 1570.8L301.7 1573.3zM309.5 1583.5L305.1 1586.0L300.7 1583.5L300.7 1578.4L305.1 1575.9L309.5 1578.4zM317.3 1588.6L312.9 1591.2L308.5 1588.6L308.5 1583.6L312.9 1581.0L317.3 1583.6zM325.1 1593.8L320.7 1596.3L316.4 1593.8L316.4 1588.8L320.7 1586.2L325.1 1588.8zM332.9 1599.1L328.6 1601.6L324.2 1599.1L324.2 1594.0L328.6 1591.5L332.9 1594.0zM340.8 1604.7L336.4 1607.2L332.0 1604.7L332.0 1599.7L336.4 1597.1L340.8 1599.7zM348.6 1610.5L344.2 1613.1L339.8 1610.5L339.8 1605.5L344.2 1602.9L348.6 1605.5zM356.4 1616.3L352.0 1618.8L347.6 1616.3L347.6 1611.2L352.0 1608.7L356.4 1611.2zM364.2 1621.8L359.8 1624.3L355.4 1621.8L355.4 1616.7L359.8 1614.2L364.2 1616.7zM372.0 1626.7L367.6 1629.3L363.2 1626.7L363.2 1621.7L367.6 1619.2L372.0 1621.7zM379.8 1631.0L375.4 1633.5L371.1 1631.0L371.1 1625.9L375.4 1623.4L379.8 1625.9zM387.6 1634.8L383.3 1637.4L378.9 1634.8L378.9 1629.8L383.3 1627.2L387.6 1629.8zM395.5 1638.5L391.1 1641.0L386.7 1638.5L386.7 1633.4L391.1 1630.9L395.5 1633.4zM403.3 1641.9L398.9 1644.4L394.5 1641.9L394.5 1636.9L398.9 1634.3L403.3 1636.9zM411.1 1645.1L406.7 1647.7L402.3 1645.1L402.3 1640.1L406.7 1637.6L411.1 1640.1zM418.9 1648.2L414.5 1650.7L410.1 1648.2L410.1 1643.1L414.5 1640.6L418.9 1643.1zM426.7 1651.1L422.3 1653.6L418.0 1651.1L418.0 1646.0L422.3 1643.5L426.7 1646.0zM434.5 1653.8L430.2 1656.3L425.8 1653.8L425.8 1648.7L430.2 1646.2L434.5 1648.7zM442.3 1656.3L438.0 1658.8L433.6 1656.3L433.6 1651.3L438.0 1648.7L442.3 1651.3zM450.2 1658.8L445.8 1661.3L441.4 1658.8L441.4 1653.7L445.8 1651.2L450.2 1653.7zM458.0 1661.3L453.6 1663.9L449.2 1661.3L449.2 1656.3L453.6 1653.7L458.0 1656.3zM465.8 1663.9L461.4 1666.5L457.0 1663.9L457.0 1658.9L461.4 1656.3L465.8 1658.9zM473.6 1666.5L469.2 1669.1L464.8 1666.5L464.8 1661.5L469.2 1658.9L473.6 1661.5zM481.4 1669.1L477.0 1671.6L472.7 1669.1L472.7 1664.0L477.0 1661.5L481.4 1664.0zM489.2 1671.6L484.9 1674.1L480.5 1671.6L480.5 1666.5L484.9 1664.0L489.2 1666.5zM497.1 1673.9L492.7 1676.4L488.3 1673.9L488.3 1668.9L492.7 1666.3L497.1 1668.9zM504.9 1676.1L500.5 1678.6L496.1 1676.1L496.1 1671.0L500.5 1668.5L504.9 1671.0zM512.7 1678.0L508.3 1680.5L503.9 1678.0L503.9 1672.9L508.3 1670.4L512.7 1672.9zM520.5 1679.6L516.1 1682.2L511.7 1679.6L511.7 1674.6L516.1 1672.0L520.5 1674.6zM528.3 1680.9L523.9 1683.5L519.6 1680.9L519.6 1675.9L523.9 1673.4L528.3 1675.9zM536.1 1681.9L531.7 1684.4L527.4 1681.9L527.4 1676.8L531.7 1674.3L536.1 1676.8zM543.9 1682.4L539.6 1684.9L535.2 1682.4L535.2 1677.3L539.6 1674.8L543.9 1677.3zM551.8 1682.5L547.4 1685.0L543.0 1682.5L543.0 1677.4L547.4 1674.9L551.8 1677.4zM559.6 1682.5L555.2 1685.0L550.8 1682.5L550.8 1677.4L555.2 1674.9L559.6 1677.4zM567.4 1682.5L563.0 1685.0L558.6 1682.5L558.6 1677.4L563.0 1674.9L567.4 1677.4zM575.2 1682.4L570.8 1685.0L566.4 1682.4L566.4 1677.4L570.8 1674.9L575.2 1677.4zM583.0 1682.4L578.6 1685.0L574.3 1682.4L574.3 1677.4L578.6 1674.8L583.0 1677.4zM590.8 1682.4L586.5 1684.9L582.1 1682.4L582.1 1677.3L586.5 1674.8L590.8 1677.3zM598.6 1682.4L594.3 1684.9L589.9 1682.4L589.9 1677.3L594.3 1674.8L598.6 1677.3zM606.5 1682.3L602.1 1684.9L597.7 1682.3L597.7 1677.3L602.1 1674.8L606.5 1677.3zM614.3 1682.3L609.9 1684.8L605.5 1682.3L605.5 1677.2L609.9 1674.7L614.3 1677.2zM622.1 1682.3L617.7 1684.8L613.3 1682.3L613.3 1677.2L617.7 1674.7L622.1 1677.2zM629.9 1682.2L625.5 1684.8L621.1 1682.2L621.1 1677.2L625.5 1674.6L629.9 1677.2zM637.7 1682.2L633.3 1684.7L629.0 1682.2L629.0 1677.1L633.3 1674.6L637.7 1677.1zM645.5 1682.1L641.2 1684.7L636.8 1682.1L636.8 1677.1L641.2 1674.5L645.5 1677.1zM653.4 1682.1L649.0 1684.6L644.6 1682.1L644.6 1677.0L649.0 1674.5L653.4 1677.0zM661.2 1682.0L656.8 1684.6L652.4 1682.0L652.4 1677.0L656.8 1674.4L661.2 1677.0zM669.0 1681.9L664.6 1684.5L660.2 1681.9L660.2 1676.9L664.6 1674.3L669.0 1676.9zM676.8 1681.8L672.4 1684.3L668.0 1681.8L668.0 1676.7L672.4 1674.2L676.8 1676.7zM684.6 1681.6L680.2 1684.2L675.9 1681.6L675.9 1676.6L680.2 1674.0L684.6 1676.6zM692.4 1681.4L688.0 1684.0L683.7 1681.4L683.7 1676.4L688.0 1673.9L692.4 1676.4zM700.2 1681.2L695.9 1683.7L691.5 1681.2L691.5 1676.2L695.9 1673.6L700.2 1676.2zM708.1 1681.0L703.7 1683.5L699.3 1681.0L699.3 1675.9L703.7 1673.4L708.1 1675.9zM715.9 1680.7L711.5 1683.3L707.1 1680.7L707.1 1675.7L711.5 1673.1L715.9 1675.7zM723.7 1680.5L719.3 1683.0L714.9 1680.5L714.9 1675.4L719.3 1672.9L723.7 1675.4zM731.5 1680.2L727.1 1682.8L722.7 1680.2L722.7 1675.2L727.1 1672.6L731.5 1675.2zM739.3 1680.0L734.9 1682.5L730.6 1680.0L730.6 1674.9L734.9 1672.4L739.3 1674.9zM747.1 1679.8L742.8 1682.3L738.4 1679.8L738.4 1674.7L742.8 1672.2L747.1 1674.7zM755.0 1679.6L750.6 1682.1L746.2 1679.6L746.2 1674.5L750.6 1672.0L755.0 1674.5zM762.8 1679.4L758.4 1681.9L754.0 1679.4L754.0 1674.3L758.4 1671.8L762.8 1674.3zM770.6 1679.3L766.2 1681.8L761.8 1679.3L761.8 1674.2L766.2 1671.7L770.6 1674.2zM778.4 1679.2L774.0 1681.7L769.6 1679.2L769.6 1674.1L774.0 1671.6L778.4 1674.1zM786.2 1679.2L781.8 1681.7L777.4 1679.2L777.4 1674.1L781.8 1671.6L786.2 1674.1zM794.0 1679.2L789.6 1681.7L785.3 1679.2L785.3 1674.1L789.6 1671.6L794.0 1674.1zM801.8 1679.2L797.5 1681.7L793.1 1679.2L793.1 1674.1L797.5 1671.6L801.8 1674.1zM809.7 1679.3L805.3 1681.8L800.9 1679.3L800.9 1674.2L805.3 1671.7L809.7 1674.2zM817.5 1679.4L813.1 1681.9L808.7 1679.4L808.7 1674.3L813.1 1671.8L817.5 1674.3zM825.3 1679.5L820.9 1682.0L816.5 1679.5L816.5 1674.4L820.9 1671.9L825.3 1674.4zM833.1 1679.6L828.7 1682.2L824.3 1679.6L824.3 1674.6L828.7 1672.0L833.1 1674.6zM840.9 1679.8L836.5 1682.3L832.2 1679.8L832.2 1674.7L836.5 1672.2L840.9 1674.7zM848.7 1680.0L844.4 1682.5L840.0 1680.0L840.0 1674.9L844.4 1672.4L848.7 1674.9zM856.5 1680.2L852.2 1682.7L847.8 1680.2L847.8 1675.2L852.2 1672.6L856.5 1675.2zM864.4 1680.5L860.0 1683.0L855.6 1680.5L855.6 1675.4L860.0 1672.9L864.4 1675.4zM872.2 1680.7L867.8 1683.3L863.4 1680.7L863.4 1675.7L867.8 1673.1L872.2 1675.7zM880.0 1681.0L875.6 1683.6L871.2 1681.0L871.2 1676.0L875.6 1673.4L880.0 1676.0zM887.8 1681.3L883.4 1683.9L879.0 1681.3L879.0 1676.3L883.4 1673.7L887.8 1676.3zM895.6 1681.7L891.2 1684.2L886.9 1681.7L886.9 1676.6L891.2 1674.1L895.6 1676.6zM903.4 1682.0L899.1 1684.6L894.7 1682.0L894.7 1677.0L899.1 1674.4L903.4 1677.0z" stroke="#1a8a5a" stroke-width="1.6" fill="none"/>
<path d="M169.2 1425.0 171.2 1426.1 173.2 1427.2 175.3 1428.4 177.3 1429.5 179.4 1430.7 181.4 1431.9 183.4 1433.1 185.5 1434.3 187.5 1435.5 189.5 1436.8 191.6 1438.0 193.6 1439.3 195.7 1440.6 197.7 1441.9 199.7 1443.2 201.8 1444.5 203.8 1445.9 205.9 1447.2 207.9 1448.6 209.9 1450.0 212.0 1451.3 214.0 1452.7 216.0 1454.1 218.1 1455.5 220.1 1457.0 222.2 1458.4 224.2 1459.8 226.2 1461.3 228.3 1462.8 230.3 1464.3 232.4 1465.9 234.4 1467.4 236.4 1469.0 238.5 1470.7 240.5 1472.3 242.6 1474.0 244.6 1475.8 246.6 1477.6 248.7 1479.5 250.7 1481.6 252.7 1483.7 254.8 1485.9 256.8 1488.1 258.9 1490.4 260.9 1492.7 262.9 1495.0 265.0 1497.3 267.0 1499.6 269.1 1501.8 271.1 1503.9 273.1 1506.0 275.2 1508.0 277.2 1509.8 279.3 1511.6 281.3 1513.2 283.3 1514.9 285.4 1516.4 287.4 1517.9 289.4 1519.4 291.5 1520.9 293.5 1522.3 295.6 1523.8 297.6 1525.2 299.6 1526.7 301.7 1528.1 303.7 1529.6 305.8 1531.2 307.8 1532.8 309.8 1534.5 311.9 1536.2 313.9 1538.0 316.0 1539.8 318.0 1541.6 320.0 1543.5 322.1 1545.4 324.1 1547.3 326.1 1549.2 328.2 1551.1 330.2 1553.0 332.3 1554.9 334.3 1556.8 336.3 1558.6 338.4 1560.3 340.4 1562.0 342.5 1563.7 344.5 1565.3 346.5 1566.9 348.6 1568.5 350.6 1570.1 352.7 1571.7 354.7 1573.2 356.7 1574.8 358.8 1576.3 360.8 1577.8 362.8 1579.3 364.9 1580.7 366.9 1582.2 369.0 1583.6 371.0 1585.1 373.0 1586.5 375.1 1587.9 377.1 1589.3 379.2 1590.7 381.2 1592.1 383.2 1593.6 385.3 1595.0 387.3 1596.4 389.3 1597.8 391.4 1599.2 393.4 1600.6 395.5 1602.0 397.5 1603.4 399.5 1604.8 401.6 1606.1 403.6 1607.5 405.7 1608.8 407.7 1610.2 409.7 1611.5 411.8 1612.8 413.8 1614.1 415.9 1615.4 417.9 1616.6 419.9 1617.9 422.0 1619.1 424.0 1620.3 426.0 1621.4 428.1 1622.6 430.1 1623.7 432.2 1624.8 434.2 1625.9 436.2 1626.9 438.3 1627.9 440.3 1628.9 442.4 1629.9 444.4 1630.9 446.4 1631.8 448.5 1632.8 450.5 1633.7 452.6 1634.7 454.6 1635.6 456.6 1636.6 458.7 1637.5 460.7 1638.4 462.7 1639.3 464.8 1640.3 466.8 1641.2 468.9 1642.1 470.9 1643.0 472.9 1643.8 475.0 1644.7 477.0 1645.6 479.1 1646.5 481.1 1647.3 483.1 1648.1 485.2 1649.0 487.2 1649.8 489.3 1650.6 491.3 1651.4 493.3 1652.2 495.4 1653.0 497.4 1653.8 499.4 1654.5 501.5 1655.2 503.5 1656.0 505.6 1656.7 507.6 1657.4 509.6 1658.1 511.7 1658.8 513.7 1659.4 515.8 1660.1 517.8 1660.7 519.8 1661.3 521.9 1661.9 523.9 1662.5 526.0 1663.0 528.0 1663.6 530.0 1664.1 532.1 1664.6 534.1 1665.1 536.1 1665.6 538.2 1666.1 540.2 1666.5 542.3 1666.9 544.3 1667.3 546.3 1667.7 548.4 1668.1 550.4 1668.5 552.5 1668.9 554.5 1669.3 556.5 1669.7 558.6 1670.0 560.6 1670.4 562.6 1670.8 564.7 1671.2 566.7 1671.5 568.8 1671.9 570.8 1672.2 572.8 1672.5 574.9 1672.9 576.9 1673.2 579.0 1673.5 581.0 1673.8 583.0 1674.1 585.1 1674.4 587.1 1674.6 589.2 1674.9 591.2 1675.1 593.2 1675.3 595.3 1675.5 597.3 1675.7 599.3 1675.9 601.4 1676.1 603.4 1676.2 605.5 1676.3 607.5 1676.4 609.5 1676.5 611.6 1676.6 613.6 1676.6 615.7 1676.7 617.7 1676.7 619.7 1676.8 621.8 1676.8 623.8 1676.8 625.9 1676.9 627.9 1676.9 629.9 1676.9 632.0 1677.0 634.0 1677.0 636.0 1677.0 638.1 1677.1 640.1 1677.1 642.2 1677.1 644.2 1677.2 646.2 1677.2 648.3 1677.2 650.3 1677.2 652.4 1677.3 654.4 1677.3 656.4 1677.3 658.5 1677.3 660.5 1677.3 662.6 1677.4 664.6 1677.4 666.6 1677.4 668.7 1677.4 670.7 1677.4 672.7 1677.5 674.8 1677.5 676.8 1677.5 678.9 1677.5 680.9 1677.5 682.9 1677.5 685.0 1677.6 687.0 1677.6 689.1 1677.6 691.1 1677.6 693.1 1677.6 695.2 1677.6 697.2 1677.6 699.3 1677.7 701.3 1677.7 703.3 1677.7 705.4 1677.7 707.4 1677.7 709.4 1677.7 711.5 1677.7 713.5 1677.8 715.6 1677.8 717.6 1677.8 719.6 1677.8 721.7 1677.8 723.7 1677.8 725.8 1677.8 727.8 1677.9 729.8 1677.9 731.9 1677.9 733.9 1677.9 735.9 1677.9 738.0 1677.9 740.0 1678.0 742.1 1678.0 744.1 1678.0 746.1 1678.0 748.2 1678.0 750.2 1678.0 752.3 1678.1 754.3 1678.1 756.3 1678.1 758.4 1678.1 760.4 1678.1 762.5 1678.1 764.5 1678.2 766.5 1678.2 768.6 1678.2 770.6 1678.2 772.6 1678.2 774.7 1678.2 776.7 1678.3 778.8 1678.3 780.8 1678.3 782.8 1678.3 784.9 1678.3 786.9 1678.3 789.0 1678.3 791.0 1678.4 793.0 1678.4 795.1 1678.4 797.1 1678.4 799.2 1678.4 801.2 1678.4 803.2 1678.5 805.3 1678.5 807.3 1678.5 809.3 1678.5 811.4 1678.5 813.4 1678.5 815.5 1678.5 817.5 1678.6 819.5 1678.6 821.6 1678.6 823.6 1678.6 825.7 1678.6 827.7 1678.6 829.7 1678.6 831.8 1678.7 833.8 1678.7 835.9 1678.7 837.9 1678.7 839.9 1678.7 842.0 1678.7 844.0 1678.7 846.0 1678.8 848.1 1678.8 850.1 1678.8 852.2 1678.8 854.2 1678.8 856.2 1678.8 858.3 1678.8 860.3 1678.8 862.4 1678.9 864.4 1678.9 866.4 1678.9 868.5 1678.9 870.5 1678.9 872.6 1678.9 874.6 1678.9 876.6 1678.9 878.7 1679.0 880.7 1679.0 882.7 1679.0 884.8 1679.0 886.8 1679.0 888.9 1679.0 890.9 1679.0 892.9 1679.0 895.0 1679.0 897.0 1679.1 899.1 1679.1" stroke="#6c9bd2" stroke-width="2.0" fill="none" stroke-linejoin="round"/>
<path d="M165.1 1425.0a4.0 4.0 0 1 0 8.0 0a4.0 4.0 0 1 0 -8.0 0M173.0 1429.3a4.0 4.0 0 1 0 8.0 0a4.0 4.0 0 1 0 -8.0 0M180.8 1433.9a4.0 4.0 0 1 0 8.0 0a4.0 4.0 0 1 0 -8.0 0M188.7 1438.7a4.0 4.0 0 1 0 8.0 0a4.0 4.0 0 1 0 -8.0 0M196.5 1443.7a4.0 4.0 0 1 0 8.0 0a4.0 4.0 0 1 0 -8.0 0M204.4 1448.9a4.0 4.0 0 1 0 8.0 0a4.0 4.0 0 1 0 -8.0 0M212.2 1454.3a4.0 4.0 0 1 0 8.0 0a4.0 4.0 0 1 0 -8.0 0M220.1 1459.8a4.0 4.0 0 1 0 8.0 0a4.0 4.0 0 1 0 -8.0 0M227.9 1465.5a4.0 4.0 0 1 0 8.0 0a4.0 4.0 0 1 0 -8.0 0M235.8 1471.7a4.0 4.0 0 1 0 8.0 0a4.0 4.0 0 1 0 -8.0 0M243.6 1478.6a4.0 4.0 0 1 0 8.0 0a4.0 4.0 0 1 0 -8.0 0M251.5 1486.7a4.0 4.0 0 1 0 8.0 0a4.0 4.0 0 1 0 -8.0 0M259.3 1495.5a4.0 4.0 0 1 0 8.0 0a4.0 4.0 0 1 0 -8.0 0M267.2 1504.0a4.0 4.0 0 1 0 8.0 0a4.0 4.0 0 1 0 -8.0 0M275.0 1511.4a4.0 4.0 0 1 0 8.0 0a4.0 4.0 0 1 0 -8.0 0M282.9 1517.5a4.0 4.0 0 1 0 8.0 0a4.0 4.0 0 1 0 -8.0 0M290.7 1523.2a4.0 4.0 0 1 0 8.0 0a4.0 4.0 0 1 0 -8.0 0M298.6 1528.8a4.0 4.0 0 1 0 8.0 0a4.0 4.0 0 1 0 -8.0 0M306.4 1535.0a4.0 4.0 0 1 0 8.0 0a4.0 4.0 0 1 0 -8.0 0M314.3 1541.9a4.0 4.0 0 1 0 8.0 0a4.0 4.0 0 1 0 -8.0 0M322.1 1549.2a4.0 4.0 0 1 0 8.0 0a4.0 4.0 0 1 0 -8.0 0M329.9 1556.5a4.0 4.0 0 1 0 8.0 0a4.0 4.0 0 1 0 -8.0 0M337.8 1563.2a4.0 4.0 0 1 0 8.0 0a4.0 4.0 0 1 0 -8.0 0M345.6 1569.4a4.0 4.0 0 1 0 8.0 0a4.0 4.0 0 1 0 -8.0 0M353.5 1575.4a4.0 4.0 0 1 0 8.0 0a4.0 4.0 0 1 0 -8.0 0M361.3 1581.1a4.0 4.0 0 1 0 8.0 0a4.0 4.0 0 1 0 -8.0 0M369.2 1586.6a4.0 4.0 0 1 0 8.0 0a4.0 4.0 0 1 0 -8.0 0M377.0 1592.0a4.0 4.0 0 1 0 8.0 0a4.0 4.0 0 1 0 -8.0 0M384.9 1597.5a4.0 4.0 0 1 0 8.0 0a4.0 4.0 0 1 0 -8.0 0M392.7 1602.9a4.0 4.0 0 1 0 8.0 0a4.0 4.0 0 1 0 -8.0 0M400.6 1608.2a4.0 4.0 0 1 0 8.0 0a4.0 4.0 0 1 0 -8.0 0M408.4 1613.2a4.0 4.0 0 1 0 8.0 0a4.0 4.0 0 1 0 -8.0 0M416.3 1618.1a4.0 4.0 0 1 0 8.0 0a4.0 4.0 0 1 0 -8.0 0M424.1 1622.6a4.0 4.0 0 1 0 8.0 0a4.0 4.0 0 1 0 -8.0 0M432.0 1626.8a4.0 4.0 0 1 0 8.0 0a4.0 4.0 0 1 0 -8.0 0M439.8 1630.6a4.0 4.0 0 1 0 8.0 0a4.0 4.0 0 1 0 -8.0 0M447.7 1634.3a4.0 4.0 0 1 0 8.0 0a4.0 4.0 0 1 0 -8.0 0M455.5 1637.9a4.0 4.0 0 1 0 8.0 0a4.0 4.0 0 1 0 -8.0 0M463.4 1641.4a4.0 4.0 0 1 0 8.0 0a4.0 4.0 0 1 0 -8.0 0M471.2 1644.8a4.0 4.0 0 1 0 8.0 0a4.0 4.0 0 1 0 -8.0 0M479.1 1648.1a4.0 4.0 0 1 0 8.0 0a4.0 4.0 0 1 0 -8.0 0M486.9 1651.3a4.0 4.0 0 1 0 8.0 0a4.0 4.0 0 1 0 -8.0 0M494.8 1654.3a4.0 4.0 0 1 0 8.0 0a4.0 4.0 0 1 0 -8.0 0M502.6 1657.1a4.0 4.0 0 1 0 8.0 0a4.0 4.0 0 1 0 -8.0 0M510.5 1659.7a4.0 4.0 0 1 0 8.0 0a4.0 4.0 0 1 0 -8.0 0M518.3 1662.0a4.0 4.0 0 1 0 8.0 0a4.0 4.0 0 1 0 -8.0 0M526.2 1664.2a4.0 4.0 0 1 0 8.0 0a4.0 4.0 0 1 0 -8.0 0M534.0 1666.0a4.0 4.0 0 1 0 8.0 0a4.0 4.0 0 1 0 -8.0 0M541.9 1667.6a4.0 4.0 0 1 0 8.0 0a4.0 4.0 0 1 0 -8.0 0M549.7 1669.1a4.0 4.0 0 1 0 8.0 0a4.0 4.0 0 1 0 -8.0 0M557.6 1670.6a4.0 4.0 0 1 0 8.0 0a4.0 4.0 0 1 0 -8.0 0M565.4 1672.0a4.0 4.0 0 1 0 8.0 0a4.0 4.0 0 1 0 -8.0 0M573.2 1673.2a4.0 4.0 0 1 0 8.0 0a4.0 4.0 0 1 0 -8.0 0M581.1 1674.4a4.0 4.0 0 1 0 8.0 0a4.0 4.0 0 1 0 -8.0 0M588.9 1675.3a4.0 4.0 0 1 0 8.0 0a4.0 4.0 0 1 0 -8.0 0M596.8 1676.0a4.0 4.0 0 1 0 8.0 0a4.0 4.0 0 1 0 -8.0 0M604.6 1676.5a4.0 4.0 0 1 0 8.0 0a4.0 4.0 0 1 0 -8.0 0M612.5 1676.7a4.0 4.0 0 1 0 8.0 0a4.0 4.0 0 1 0 -8.0 0M620.3 1676.8a4.0 4.0 0 1 0 8.0 0a4.0 4.0 0 1 0 -8.0 0M628.2 1677.0a4.0 4.0 0 1 0 8.0 0a4.0 4.0 0 1 0 -8.0 0M636.0 1677.1a4.0 4.0 0 1 0 8.0 0a4.0 4.0 0 1 0 -8.0 0M643.9 1677.2a4.0 4.0 0 1 0 8.0 0a4.0 4.0 0 1 0 -8.0 0M651.7 1677.3a4.0 4.0 0 1 0 8.0 0a4.0 4.0 0 1 0 -8.0 0M659.6 1677.4a4.0 4.0 0 1 0 8.0 0a4.0 4.0 0 1 0 -8.0 0M667.4 1677.4a4.0 4.0 0 1 0 8.0 0a4.0 4.0 0 1 0 -8.0 0M675.3 1677.5a4.0 4.0 0 1 0 8.0 0a4.0 4.0 0 1 0 -8.0 0M683.1 1677.6a4.0 4.0 0 1 0 8.0 0a4.0 4.0 0 1 0 -8.0 0M691.0 1677.6a4.0 4.0 0 1 0 8.0 0a4.0 4.0 0 1 0 -8.0 0M698.8 1677.7a4.0 4.0 0 1 0 8.0 0a4.0 4.0 0 1 0 -8.0 0M706.7 1677.7a4.0 4.0 0 1 0 8.0 0a4.0 4.0 0 1 0 -8.0 0M714.5 1677.8a4.0 4.0 0 1 0 8.0 0a4.0 4.0 0 1 0 -8.0 0M722.4 1677.8a4.0 4.0 0 1 0 8.0 0a4.0 4.0 0 1 0 -8.0 0M730.2 1677.9a4.0 4.0 0 1 0 8.0 0a4.0 4.0 0 1 0 -8.0 0M738.1 1678.0a4.0 4.0 0 1 0 8.0 0a4.0 4.0 0 1 0 -8.0 0M745.9 1678.0a4.0 4.0 0 1 0 8.0 0a4.0 4.0 0 1 0 -8.0 0M753.8 1678.1a4.0 4.0 0 1 0 8.0 0a4.0 4.0 0 1 0 -8.0 0M761.6 1678.2a4.0 4.0 0 1 0 8.0 0a4.0 4.0 0 1 0 -8.0 0M769.5 1678.2a4.0 4.0 0 1 0 8.0 0a4.0 4.0 0 1 0 -8.0 0M777.3 1678.3a4.0 4.0 0 1 0 8.0 0a4.0 4.0 0 1 0 -8.0 0M785.2 1678.4a4.0 4.0 0 1 0 8.0 0a4.0 4.0 0 1 0 -8.0 0M793.0 1678.4a4.0 4.0 0 1 0 8.0 0a4.0 4.0 0 1 0 -8.0 0M800.9 1678.5a4.0 4.0 0 1 0 8.0 0a4.0 4.0 0 1 0 -8.0 0M808.7 1678.5a4.0 4.0 0 1 0 8.0 0a4.0 4.0 0 1 0 -8.0 0M816.5 1678.6a4.0 4.0 0 1 0 8.0 0a4.0 4.0 0 1 0 -8.0 0M824.4 1678.6a4.0 4.0 0 1 0 8.0 0a4.0 4.0 0 1 0 -8.0 0M832.2 1678.7a4.0 4.0 0 1 0 8.0 0a4.0 4.0 0 1 0 -8.0 0M840.1 1678.7a4.0 4.0 0 1 0 8.0 0a4.0 4.0 0 1 0 -8.0 0M847.9 1678.8a4.0 4.0 0 1 0 8.0 0a4.0 4.0 0 1 0 -8.0 0M855.8 1678.8a4.0 4.0 0 1 0 8.0 0a4.0 4.0 0 1 0 -8.0 0M863.6 1678.9a4.0 4.0 0 1 0 8.0 0a4.0 4.0 0 1 0 -8.0 0M871.5 1678.9a4.0 4.0 0 1 0 8.0 0a4.0 4.0 0 1 0 -8.0 0M879.3 1679.0a4.0 4.0 0 1 0 8.0 0a4.0 4.0 0 1 0 -8.0 0M887.2 1679.0a4.0 4.0 0 1 0 8.0 0a4.0 4.0 0 1 0 -8.0 0M895.0 1679.1a4.0 4.0 0 1 0 8.0 0a4.0 4.0 0 1 0 -8.0 0" stroke="#6c9bd2" stroke-width="1.6" fill="none"/>
<path d="M205.4 1646.0 207.5 1642.4 209.5 1638.9 211.5 1635.3 213.6 1631.8 215.6 1628.3 217.7 1624.8 219.7 1621.3 221.7 1617.9 223.8 1614.5 225.8 1611.1 227.9 1607.7 229.9 1604.3 231.9 1600.9 234.0 1597.6 236.0 1594.3 238.1 1591.1 240.1 1587.9 242.1 1584.7 244.2 1581.6 246.2 1578.5 248.3 1575.3 250.3 1572.2 252.3 1569.0 254.4 1565.9 256.4 1562.6 258.5 1559.3 260.5 1556.0 262.5 1552.5 264.6 1548.9 266.6 1545.3 268.7 1541.6 270.7 1537.9 272.7 1534.2 274.8 1530.5 276.8 1527.0 278.9 1523.5 280.9 1520.2 282.9 1517.1 285.0 1514.1 287.0 1511.2 289.1 1508.2 291.1 1505.3 293.1 1502.5 295.2 1499.7 297.2 1497.0 299.3 1494.5 301.3 1492.1 303.3 1489.8 305.4 1487.7 307.4 1485.7 309.5 1484.0 311.5 1482.4 313.5 1480.8 315.6 1479.2 317.6 1477.7 319.7 1476.2 321.7 1474.8 323.7 1473.5 325.8 1472.2 327.8 1471.0 329.9 1469.9 331.9 1468.8 333.9 1467.9 336.0 1467.0 338.0 1466.3 340.1 1465.6 342.1 1465.0 344.1 1464.4 346.2 1463.9 348.2 1463.4 350.3 1462.9 352.3 1462.6 354.3 1462.4 356.4 1462.3 358.4 1462.3 360.5 1462.4 362.5 1462.7 364.5 1463.0 366.6 1463.4 368.6 1463.8 370.7 1464.3 372.7 1464.9 374.8 1465.5 376.8 1466.1 378.8 1466.8 380.9 1467.5 382.9 1468.2 385.0 1468.9 387.0 1469.6 389.0 1470.3 391.1 1471.0 393.1 1471.9 395.2 1472.8 397.2 1473.7 399.2 1474.8 401.3 1475.9 403.3 1477.0 405.4 1478.2 407.4 1479.4 409.4 1480.7 411.5 1481.9 413.5 1483.2 415.6 1484.6 417.6 1485.9 419.6 1487.2 421.7 1488.6 423.7 1490.0 425.8 1491.4 427.8 1492.9 429.8 1494.4 431.9 1496.0 433.9 1497.6 436.0 1499.3 438.0 1500.9 440.0 1502.6 442.1 1504.4 444.1 1506.1 446.2 1507.9 448.2 1509.6 450.2 1511.4 452.3 1513.2 454.3 1515.0 456.4 1516.9 458.4 1518.8 460.4 1520.7 462.5 1522.6 464.5 1524.6 466.6 1526.6 468.6 1528.6 470.6 1530.6 472.7 1532.6 474.7 1534.7 476.8 1536.7 478.8 1538.8 480.8 1540.9 482.9 1543.0 484.9 1545.1 487.0 1547.3 489.0 1549.4 491.0 1551.6 493.1 1553.7 495.1 1555.9 497.2 1558.1 499.2 1560.2 501.2 1562.4 503.3 1564.6 505.3 1566.8 507.4 1569.0 509.4 1571.1 511.4 1573.3 513.5 1575.5 515.5 1577.7 517.6 1579.8 519.6 1582.0 521.6 1584.2 523.7 1586.3 525.7 1588.4 527.8 1590.6 529.8 1592.7 531.8 1594.8 533.9 1597.0 535.9 1599.1 538.0 1601.3 540.0 1603.5 542.0 1605.7 544.1 1607.9 546.1 1610.0 548.2 1612.2 550.2 1614.4 552.2 1616.6 554.3 1618.8 556.3 1620.9 558.4 1623.1 560.4 1625.2 562.4 1627.3 564.5 1629.4 566.5 1631.5 568.6 1633.6 570.6 1635.6 572.6 1637.7 574.7 1639.7 576.7 1641.7 578.8 1643.7 580.8 1645.8 582.8 1647.8 584.9 1649.7 586.9 1651.7 589.0 1653.7 591.0 1655.7 593.0 1657.6 595.1 1659.5 597.1 1661.5 599.2 1663.4 601.2 1665.2 603.2 1667.1 605.3 1669.0 607.3 1670.8 609.4 1672.6 611.4 1674.4 613.4 1676.2 615.5 1678.0 617.5 1679.7 619.6 1681.5 621.6 1683.3 623.6 1685.0 625.7 1686.8 627.7 1688.5 629.8 1690.3 631.8 1692.0 633.8 1693.7 635.9 1695.3 637.9 1697.0 640.0 1698.6 642.0 1700.2 644.0 1701.7 646.1 1703.3 648.1 1704.8 650.2 1706.2 652.2 1707.6 654.2 1709.0 656.3 1710.3 658.3 1711.6 660.4 1712.9 662.4 1714.2 664.4 1715.4 666.5 1716.7 668.5 1717.9 670.6 1719.0 672.6 1720.2 674.6 1721.3 676.7 1722.5 678.7 1723.6 680.8 1724.7 682.8 1725.7 684.8 1726.8 686.9 1727.8 688.9 1728.8 691.0 1729.8 693.0 1730.8 695.0 1731.8 697.1 1732.7 699.1 1733.7 701.2 1734.6 703.2 1735.5 705.2 1736.4 707.3 1737.3 709.3 1738.1 711.4 1739.0 713.4 1739.8 715.4 1740.7 717.5 1741.5 719.5 1742.3 721.6 1743.1 723.6 1743.9 725.6 1744.6 727.7 1745.4 729.7 1746.2 731.8 1746.9 733.8 1747.6 735.8 1748.4 737.9 1749.1 739.9 1749.8 742.0 1750.5 744.0 1751.2 746.0 1751.9 748.1 1752.6 750.1 1753.2 752.2 1753.9 754.2 1754.6 756.2 1755.2 758.3 1755.9 760.3 1756.5 762.4 1757.2 764.4 1757.8 766.4 1758.4 768.5 1759.0 770.5 1759.6 772.6 1760.2 774.6 1760.7 776.6 1761.3 778.7 1761.8 780.7 1762.3 782.8 1762.8 784.8 1763.3 786.9 1763.8 788.9 1764.3 790.9 1764.8 793.0 1765.2 795.0 1765.7 797.1 1766.2 799.1 1766.6 801.1 1767.1 803.2 1767.5 805.2 1767.9 807.3 1768.3 809.3 1768.7 811.3 1769.1 813.4 1769.5 815.4 1769.8 817.5 1770.1 819.5 1770.5 821.5 1770.7 823.6 1771.0 825.6 1771.2 827.7 1771.5 829.7 1771.7 831.7 1772.0 833.8 1772.2 835.8 1772.5 837.9 1772.7 839.9 1772.9 841.9 1773.1 844.0 1773.3 846.0 1773.5 848.1 1773.6 850.1 1773.8 852.1 1773.9 854.2 1774.0 856.2 1774.0 858.3 1774.0 860.3 1774.0 862.3 1774.0 864.4 1774.0 866.4 1774.0 868.5 1774.0 870.5 1774.0 872.5 1774.0 874.6 1774.0 876.6 1774.0 878.7 1773.9 880.7 1773.9 882.7 1773.9 884.8 1773.8 886.8 1773.7 888.9 1773.7 890.9 1773.6 892.9 1773.5 895.0 1773.4 897.0 1773.3 899.1 1773.1" stroke="#404040" stroke-width="2.0" fill="none" stroke-linejoin="round"/>
<path d="M205.9 1634.7h7.6v7.6h-7.6zM213.7 1621.2h7.6v7.6h-7.6zM221.6 1608.0h7.6v7.6h-7.6zM229.4 1595.1h7.6v7.6h-7.6zM237.2 1582.6h7.6v7.6h-7.6zM245.1 1570.6h7.6v7.6h-7.6zM252.9 1558.4h7.6v7.6h-7.6zM260.7 1545.2h7.6v7.6h-7.6zM268.6 1531.0h7.6v7.6h-7.6zM276.4 1517.5h7.6v7.6h-7.6zM284.2 1505.9h7.6v7.6h-7.6zM292.1 1495.0h7.6v7.6h-7.6zM299.9 1485.6h7.6v7.6h-7.6zM307.7 1478.5h7.6v7.6h-7.6zM315.6 1472.6h7.6v7.6h-7.6zM323.4 1467.6h7.6v7.6h-7.6zM331.2 1463.6h7.6v7.6h-7.6zM339.1 1461.0h7.6v7.6h-7.6zM346.9 1459.1h7.6v7.6h-7.6zM354.7 1458.5h7.6v7.6h-7.6zM362.6 1459.5h7.6v7.6h-7.6zM370.4 1461.5h7.6v7.6h-7.6zM378.2 1464.1h7.6v7.6h-7.6zM386.1 1466.8h7.6v7.6h-7.6zM393.9 1470.2h7.6v7.6h-7.6zM401.7 1474.5h7.6v7.6h-7.6zM409.6 1479.4h7.6v7.6h-7.6zM417.4 1484.5h7.6v7.6h-7.6zM425.2 1490.0h7.6v7.6h-7.6zM433.1 1496.2h7.6v7.6h-7.6zM440.9 1502.8h7.6v7.6h-7.6zM448.7 1509.7h7.6v7.6h-7.6zM456.6 1516.8h7.6v7.6h-7.6zM464.4 1524.4h7.6v7.6h-7.6zM472.2 1532.2h7.6v7.6h-7.6zM480.1 1540.3h7.6v7.6h-7.6zM487.9 1548.5h7.6v7.6h-7.6zM495.7 1556.8h7.6v7.6h-7.6zM503.6 1565.2h7.6v7.6h-7.6zM511.4 1573.6h7.6v7.6h-7.6zM519.2 1581.8h7.6v7.6h-7.6zM527.1 1590.0h7.6v7.6h-7.6zM534.9 1598.3h7.6v7.6h-7.6zM542.7 1606.7h7.6v7.6h-7.6zM550.6 1615.1h7.6v7.6h-7.6zM558.4 1623.3h7.6v7.6h-7.6zM566.3 1631.3h7.6v7.6h-7.6zM574.1 1639.1h7.6v7.6h-7.6zM581.9 1646.8h7.6v7.6h-7.6zM589.8 1654.3h7.6v7.6h-7.6zM597.6 1661.6h7.6v7.6h-7.6zM605.4 1668.7h7.6v7.6h-7.6zM613.3 1675.5h7.6v7.6h-7.6zM621.1 1682.3h7.6v7.6h-7.6zM628.9 1688.9h7.6v7.6h-7.6zM636.8 1695.2h7.6v7.6h-7.6zM644.6 1701.1h7.6v7.6h-7.6zM652.4 1706.5h7.6v7.6h-7.6zM660.3 1711.4h7.6v7.6h-7.6zM668.1 1716.0h7.6v7.6h-7.6zM675.9 1720.3h7.6v7.6h-7.6zM683.8 1724.3h7.6v7.6h-7.6zM691.6 1728.1h7.6v7.6h-7.6zM699.4 1731.7h7.6v7.6h-7.6zM707.3 1735.1h7.6v7.6h-7.6zM715.1 1738.2h7.6v7.6h-7.6zM722.9 1741.2h7.6v7.6h-7.6zM730.8 1744.1h7.6v7.6h-7.6zM738.6 1746.8h7.6v7.6h-7.6zM746.4 1749.5h7.6v7.6h-7.6zM754.3 1752.0h7.6v7.6h-7.6zM762.1 1754.4h7.6v7.6h-7.6zM769.9 1756.7h7.6v7.6h-7.6zM777.8 1758.7h7.6v7.6h-7.6zM785.6 1760.6h7.6v7.6h-7.6zM793.4 1762.4h7.6v7.6h-7.6zM801.3 1764.1h7.6v7.6h-7.6zM809.1 1765.6h7.6v7.6h-7.6zM816.9 1766.8h7.6v7.6h-7.6zM824.8 1767.8h7.6v7.6h-7.6zM832.6 1768.7h7.6v7.6h-7.6zM840.4 1769.5h7.6v7.6h-7.6zM848.3 1770.1h7.6v7.6h-7.6zM856.1 1770.2h7.6v7.6h-7.6zM863.9 1770.2h7.6v7.6h-7.6zM871.8 1770.2h7.6v7.6h-7.6zM879.6 1770.0h7.6v7.6h-7.6zM887.4 1769.8h7.6v7.6h-7.6zM895.3 1769.4h7.6v7.6h-7.6z" stroke="#404040" stroke-width="1.6" fill="none"/>
<path d="M163.1 1371.3 165.2 1369.3 167.2 1367.3 169.3 1365.4 171.3 1363.6 173.3 1361.9 175.4 1360.3 177.4 1358.8 179.5 1357.4 181.5 1356.2 183.5 1355.1 185.6 1354.2 187.6 1353.3 189.6 1352.5 191.7 1351.6 193.7 1350.8 195.8 1350.1 197.8 1349.4 199.8 1348.9 201.9 1348.4 203.9 1348.0 205.9 1347.8 208.0 1347.8 210.0 1347.9 212.1 1348.1 214.1 1348.6 216.1 1349.1 218.2 1349.7 220.2 1350.5 222.3 1351.3 224.3 1352.2 226.3 1353.1 228.4 1354.1 230.4 1355.1 232.4 1356.1 234.5 1357.1 236.5 1358.0 238.6 1359.0 240.6 1360.0 242.6 1361.2 244.7 1362.3 246.7 1363.5 248.8 1364.8 250.8 1366.1 252.8 1367.5 254.9 1369.0 256.9 1370.5 258.9 1372.0 261.0 1373.6 263.0 1375.2 265.1 1376.9 267.1 1378.6 269.1 1380.4 271.2 1382.2 273.2 1384.2 275.2 1386.5 277.3 1389.0 279.3 1391.6 281.4 1394.2 283.4 1396.7 285.4 1398.9 287.5 1401.0 289.5 1402.8 291.6 1404.6 293.6 1406.3 295.6 1407.9 297.7 1409.4 299.7 1411.0 301.7 1412.4 303.8 1413.9 305.8 1415.3 307.9 1416.7 309.9 1418.2 311.9 1419.6 314.0 1421.1 316.0 1422.7 318.1 1424.3 320.1 1426.0 322.1 1427.7 324.2 1429.6 326.2 1431.6 328.2 1433.7 330.3 1436.0 332.3 1438.4 334.4 1440.8 336.4 1443.4 338.4 1446.0 340.5 1448.6 342.5 1451.3 344.6 1453.9 346.6 1456.6 348.6 1459.1 350.7 1461.7 352.7 1464.1 354.7 1466.5 356.8 1468.7 358.8 1470.8 360.9 1472.9 362.9 1474.9 364.9 1476.9 367.0 1478.8 369.0 1480.7 371.0 1482.6 373.1 1484.5 375.1 1486.3 377.2 1488.2 379.2 1490.0 381.2 1491.9 383.3 1493.8 385.3 1495.7 387.4 1497.7 389.4 1499.6 391.4 1501.6 393.5 1503.7 395.5 1505.7 397.5 1507.7 399.6 1509.8 401.6 1511.8 403.7 1513.9 405.7 1516.0 407.7 1518.0 409.8 1520.1 411.8 1522.1 413.9 1524.2 415.9 1526.2 417.9 1528.2 420.0 1530.2 422.0 1532.2 424.0 1534.1 426.1 1536.0 428.1 1538.0 430.2 1539.8 432.2 1541.7 434.2 1543.6 436.3 1545.5 438.3 1547.4 440.3 1549.4 442.4 1551.3 444.4 1553.3 446.5 1555.3 448.5 1557.4 450.5 1559.5 452.6 1561.6 454.6 1563.9 456.7 1566.2 458.7 1568.5 460.7 1570.9 462.8 1573.4 464.8 1575.8 466.8 1578.2 468.9 1580.7 470.9 1583.1 473.0 1585.5 475.0 1587.9 477.0 1590.2 479.1 1592.5 481.1 1594.7 483.2 1596.8 485.2 1598.8 487.2 1600.9 489.3 1602.9 491.3 1604.8 493.3 1606.8 495.4 1608.7 497.4 1610.6 499.5 1612.5 501.5 1614.4 503.5 1616.2 505.6 1618.0 507.6 1619.9 509.6 1621.7 511.7 1623.4 513.7 1625.2 515.8 1627.0 517.8 1628.7 519.8 1630.5 521.9 1632.2 523.9 1634.0 526.0 1635.7 528.0 1637.4 530.0 1639.2 532.1 1640.9 534.1 1642.6 536.1 1644.3 538.2 1646.0 540.2 1647.7 542.3 1649.3 544.3 1651.0 546.3 1652.7 548.4 1654.3 550.4 1655.9 552.5 1657.6 554.5 1659.2 556.5 1660.8 558.6 1662.4 560.6 1664.0 562.6 1665.5 564.7 1667.1 566.7 1668.7 568.8 1670.2 570.8 1671.7 572.8 1673.3 574.9 1674.8 576.9 1676.3 578.9 1677.9 581.0 1679.4 583.0 1681.0 585.1 1682.5 587.1 1684.0 589.1 1685.6 591.2 1687.1 593.2 1688.5 595.3 1690.0 597.3 1691.4 599.3 1692.8 601.4 1694.2 603.4 1695.5 605.4 1696.8 607.5 1698.1 609.5 1699.3 611.6 1700.5 613.6 1701.6 615.6 1702.7 617.7 1703.8 619.7 1704.9 621.8 1705.9 623.8 1706.9 625.8 1707.9 627.9 1708.9 629.9 1709.9 631.9 1710.8 634.0 1711.8 636.0 1712.7 638.1 1713.5 640.1 1714.4 642.1 1715.3 644.2 1716.1 646.2 1716.9 648.2 1717.7 650.3 1718.5 652.3 1719.3 654.4 1720.0 656.4 1720.7 658.4 1721.4 660.5 1722.1 662.5 1722.8 664.6 1723.5 666.6 1724.1 668.6 1724.8 670.7 1725.4 672.7 1726.0 674.7 1726.6 676.8 1727.2 678.8 1727.8 680.9 1728.4 682.9 1728.9 684.9 1729.5 687.0 1730.1 689.0 1730.6 691.1 1731.2 693.1 1731.7 695.1 1732.3 697.2 1732.9 699.2 1733.4 701.2 1734.0 703.3 1734.5 705.3 1735.1 707.4 1735.7 709.4 1736.2 711.4 1736.8 713.5 1737.4 715.5 1737.9 717.6 1738.5 719.6 1739.0 721.6 1739.6 723.7 1740.1 725.7 1740.6 727.7 1741.1 729.8 1741.5 731.8 1742.0 733.9 1742.4 735.9 1742.9 737.9 1743.2 740.0 1743.6 742.0 1744.0 744.0 1744.3 746.1 1744.6 748.1 1745.0 750.2 1745.3 752.2 1745.6 754.2 1745.9 756.3 1746.2 758.3 1746.4 760.4 1746.7 762.4 1747.0 764.4 1747.3 766.5 1747.5 768.5 1747.7 770.5 1748.0 772.6 1748.2 774.6 1748.4 776.7 1748.6 778.7 1748.8 780.7 1749.0 782.8 1749.2 784.8 1749.4 786.9 1749.6 788.9 1749.8 790.9 1750.0 793.0 1750.2 795.0 1750.4 797.0 1750.5 799.1 1750.7 801.1 1750.9 803.2 1751.1 805.2 1751.2 807.2 1751.4 809.3 1751.5 811.3 1751.6 813.3 1751.8 815.4 1751.9 817.4 1751.9 819.5 1752.0 821.5 1752.0 823.5 1752.1 825.6 1752.1 827.6 1752.1 829.7 1752.1 831.7 1752.1 833.7 1752.1 835.8 1752.1 837.8 1752.1 839.8 1752.1 841.9 1752.1 843.9 1752.1 846.0 1752.1 848.0 1752.1 850.0 1752.1 852.1 1752.1 854.1 1752.1 856.2 1752.1 858.2 1752.1 860.2 1752.1 862.3 1752.1 864.3 1752.1 866.3 1752.1 868.4 1752.1 870.4 1752.1 872.5 1752.1 874.5 1752.1 876.5 1752.1 878.6 1752.1 880.6 1752.1 882.6 1752.1 884.7 1752.1 886.7 1752.1 888.8 1752.1 890.8 1752.1 892.8 1752.1 894.9 1752.1 896.9 1752.1" stroke="#e8413c" stroke-width="2.0" fill="none" stroke-linejoin="round"/>
<path d="M167.5 1373.8L163.1 1376.3L158.8 1373.8L158.8 1368.8L163.1 1366.2L167.5 1368.8zM175.3 1366.4L171.0 1369.0L166.6 1366.4L166.6 1361.4L171.0 1358.8L175.3 1361.4zM183.1 1360.4L178.8 1362.9L174.4 1360.4L174.4 1355.3L178.8 1352.8L183.1 1355.3zM190.9 1356.3L186.6 1358.8L182.2 1356.3L182.2 1351.2L186.6 1348.7L190.9 1351.2zM198.8 1353.1L194.4 1355.6L190.0 1353.1L190.0 1348.1L194.4 1345.5L198.8 1348.1zM206.6 1350.9L202.2 1353.4L197.8 1350.9L197.8 1345.8L202.2 1343.3L206.6 1345.8zM214.4 1350.4L210.0 1352.9L205.6 1350.4L205.6 1345.3L210.0 1342.8L214.4 1345.3zM222.2 1352.1L217.8 1354.7L213.4 1352.1L213.4 1347.1L217.8 1344.5L222.2 1347.1zM230.0 1355.3L225.6 1357.8L221.2 1355.3L221.2 1350.3L225.6 1347.7L230.0 1350.3zM237.8 1359.1L233.4 1361.6L229.0 1359.1L229.0 1354.0L233.4 1351.5L237.8 1354.0zM245.6 1362.9L241.2 1365.4L236.8 1362.9L236.8 1357.8L241.2 1355.3L245.6 1357.8zM253.4 1367.5L249.0 1370.0L244.6 1367.5L244.6 1362.5L249.0 1359.9L253.4 1362.5zM261.2 1372.9L256.8 1375.5L252.4 1372.9L252.4 1367.9L256.8 1365.3L261.2 1367.9zM269.0 1379.1L264.6 1381.6L260.2 1379.1L260.2 1374.0L264.6 1371.5L269.0 1374.0zM276.8 1385.9L272.4 1388.5L268.0 1385.9L268.0 1380.9L272.4 1378.3L276.8 1380.9zM284.6 1395.3L280.2 1397.8L275.9 1395.3L275.9 1390.2L280.2 1387.7L284.6 1390.2zM292.4 1404.0L288.0 1406.5L283.7 1404.0L283.7 1399.0L288.0 1396.4L292.4 1399.0zM300.2 1410.6L295.8 1413.1L291.5 1410.6L291.5 1405.5L295.8 1403.0L300.2 1405.5zM308.0 1416.3L303.7 1418.8L299.3 1416.3L299.3 1411.2L303.7 1408.7L308.0 1411.2zM315.8 1421.8L311.5 1424.3L307.1 1421.8L307.1 1416.8L311.5 1414.2L315.8 1416.8zM323.6 1427.8L319.3 1430.3L314.9 1427.8L314.9 1422.8L319.3 1420.2L323.6 1422.8zM331.5 1435.0L327.1 1437.5L322.7 1435.0L322.7 1429.9L327.1 1427.4L331.5 1429.9zM339.3 1444.0L334.9 1446.5L330.5 1444.0L330.5 1438.9L334.9 1436.4L339.3 1438.9zM347.1 1454.0L342.7 1456.6L338.3 1454.0L338.3 1449.0L342.7 1446.4L347.1 1449.0zM354.9 1464.0L350.5 1466.5L346.1 1464.0L346.1 1458.9L350.5 1456.4L354.9 1458.9zM362.7 1472.8L358.3 1475.3L353.9 1472.8L353.9 1467.7L358.3 1465.2L362.7 1467.7zM370.5 1480.5L366.1 1483.0L361.7 1480.5L361.7 1475.5L366.1 1472.9L370.5 1475.5zM378.3 1487.8L373.9 1490.3L369.5 1487.8L369.5 1482.7L373.9 1480.2L378.3 1482.7zM386.1 1494.9L381.7 1497.4L377.3 1494.9L377.3 1489.8L381.7 1487.3L386.1 1489.8zM393.9 1502.3L389.5 1504.8L385.1 1502.3L385.1 1497.2L389.5 1494.7L393.9 1497.2zM401.7 1510.0L397.3 1512.6L392.9 1510.0L392.9 1505.0L397.3 1502.5L401.7 1505.0zM409.5 1517.9L405.1 1520.4L400.8 1517.9L400.8 1512.9L405.1 1510.3L409.5 1512.9zM417.3 1525.8L412.9 1528.3L408.6 1525.8L408.6 1520.7L412.9 1518.2L417.3 1520.7zM425.1 1533.5L420.7 1536.0L416.4 1533.5L416.4 1528.4L420.7 1525.9L425.1 1528.4zM432.9 1540.9L428.6 1543.4L424.2 1540.9L424.2 1535.8L428.6 1533.3L432.9 1535.8zM440.7 1548.1L436.4 1550.7L432.0 1548.1L432.0 1543.1L436.4 1540.5L440.7 1543.1zM448.5 1555.6L444.2 1558.1L439.8 1555.6L439.8 1550.5L444.2 1548.0L448.5 1550.5zM456.4 1563.5L452.0 1566.0L447.6 1563.5L447.6 1558.4L452.0 1555.9L456.4 1558.4zM464.2 1572.3L459.8 1574.9L455.4 1572.3L455.4 1567.3L459.8 1564.8L464.2 1567.3zM472.0 1581.7L467.6 1584.2L463.2 1581.7L463.2 1576.6L467.6 1574.1L472.0 1576.6zM479.8 1590.9L475.4 1593.4L471.0 1590.9L471.0 1585.8L475.4 1583.3L479.8 1585.8zM487.6 1599.3L483.2 1601.9L478.8 1599.3L478.8 1594.3L483.2 1591.8L487.6 1594.3zM495.4 1607.1L491.0 1609.6L486.6 1607.1L486.6 1602.0L491.0 1599.5L495.4 1602.0zM503.2 1614.4L498.8 1617.0L494.4 1614.4L494.4 1609.4L498.8 1606.8L503.2 1609.4zM511.0 1621.5L506.6 1624.0L502.2 1621.5L502.2 1616.4L506.6 1613.9L511.0 1616.4zM518.8 1628.3L514.4 1630.9L510.0 1628.3L510.0 1623.3L514.4 1620.8L518.8 1623.3zM526.6 1635.1L522.2 1637.6L517.8 1635.1L517.8 1630.0L522.2 1627.5L526.6 1630.0zM534.4 1641.7L530.0 1644.2L525.6 1641.7L525.6 1636.6L530.0 1634.1L534.4 1636.6zM542.2 1648.2L537.8 1650.8L533.5 1648.2L533.5 1643.2L537.8 1640.6L542.2 1643.2zM550.0 1654.6L545.6 1657.2L541.3 1654.6L541.3 1649.6L545.6 1647.0L550.0 1649.6zM557.8 1660.9L553.4 1663.4L549.1 1660.9L549.1 1655.8L553.4 1653.3L557.8 1655.8zM565.6 1667.0L561.3 1669.5L556.9 1667.0L556.9 1661.9L561.3 1659.4L565.6 1661.9zM573.4 1673.0L569.1 1675.5L564.7 1673.0L564.7 1667.9L569.1 1665.4L573.4 1667.9zM581.2 1678.8L576.9 1681.4L572.5 1678.8L572.5 1673.8L576.9 1671.2L581.2 1673.8zM589.1 1684.7L584.7 1687.3L580.3 1684.7L580.3 1679.7L584.7 1677.2L589.1 1679.7zM596.9 1690.5L592.5 1693.1L588.1 1690.5L588.1 1685.5L592.5 1682.9L596.9 1685.5zM604.7 1696.0L600.3 1698.5L595.9 1696.0L595.9 1690.9L600.3 1688.4L604.7 1690.9zM612.5 1701.0L608.1 1703.5L603.7 1701.0L603.7 1695.9L608.1 1693.4L612.5 1695.9zM620.3 1705.4L615.9 1707.9L611.5 1705.4L611.5 1700.3L615.9 1697.8L620.3 1700.3zM628.1 1709.4L623.7 1712.0L619.3 1709.4L619.3 1704.4L623.7 1701.8L628.1 1704.4zM635.9 1713.2L631.5 1715.7L627.1 1713.2L627.1 1708.1L631.5 1705.6L635.9 1708.1zM643.7 1716.6L639.3 1719.1L634.9 1716.6L634.9 1711.6L639.3 1709.0L643.7 1711.6zM651.5 1719.8L647.1 1722.3L642.7 1719.8L642.7 1714.7L647.1 1712.2L651.5 1714.7zM659.3 1722.7L654.9 1725.3L650.5 1722.7L650.5 1717.7L654.9 1715.2L659.3 1717.7zM667.1 1725.4L662.7 1728.0L658.4 1725.4L658.4 1720.4L662.7 1717.8L667.1 1720.4zM674.9 1727.9L670.5 1730.4L666.2 1727.9L666.2 1722.8L670.5 1720.3L674.9 1722.8zM682.7 1730.2L678.3 1732.7L674.0 1730.2L674.0 1725.1L678.3 1722.6L682.7 1725.1zM690.5 1732.4L686.2 1734.9L681.8 1732.4L681.8 1727.3L686.2 1724.8L690.5 1727.3zM698.3 1734.5L694.0 1737.0L689.6 1734.5L689.6 1729.4L694.0 1726.9L698.3 1729.4zM706.1 1736.6L701.8 1739.2L697.4 1736.6L697.4 1731.6L701.8 1729.1L706.1 1731.6zM714.0 1738.8L709.6 1741.4L705.2 1738.8L705.2 1733.8L709.6 1731.2L714.0 1733.8zM721.8 1741.0L717.4 1743.5L713.0 1741.0L713.0 1735.9L717.4 1733.4L721.8 1735.9zM729.6 1743.0L725.2 1745.5L720.8 1743.0L720.8 1737.9L725.2 1735.4L729.6 1737.9zM737.4 1744.8L733.0 1747.3L728.6 1744.8L728.6 1739.7L733.0 1737.2L737.4 1739.7zM745.2 1746.3L740.8 1748.8L736.4 1746.3L736.4 1741.2L740.8 1738.7L745.2 1741.2zM753.0 1747.6L748.6 1750.1L744.2 1747.6L744.2 1742.5L748.6 1740.0L753.0 1742.5zM760.8 1748.7L756.4 1751.2L752.0 1748.7L752.0 1743.7L756.4 1741.1L760.8 1743.7zM768.6 1749.8L764.2 1752.3L759.8 1749.8L759.8 1744.7L764.2 1742.2L768.6 1744.7zM776.4 1750.7L772.0 1753.2L767.6 1750.7L767.6 1745.6L772.0 1743.1L776.4 1745.6zM784.2 1751.5L779.8 1754.0L775.4 1751.5L775.4 1746.4L779.8 1743.9L784.2 1746.4zM792.0 1752.2L787.6 1754.7L783.2 1752.2L783.2 1747.1L787.6 1744.6L792.0 1747.1zM799.8 1752.9L795.4 1755.5L791.1 1752.9L791.1 1747.9L795.4 1745.3L799.8 1747.9zM807.6 1753.6L803.2 1756.1L798.9 1753.6L798.9 1748.5L803.2 1746.0L807.6 1748.5zM815.4 1754.2L811.0 1756.7L806.7 1754.2L806.7 1749.1L811.0 1746.6L815.4 1749.1zM823.2 1754.5L818.9 1757.0L814.5 1754.5L814.5 1749.4L818.9 1746.9L823.2 1749.4zM831.0 1754.6L826.7 1757.1L822.3 1754.6L822.3 1749.5L826.7 1747.0L831.0 1749.5zM838.9 1754.6L834.5 1757.1L830.1 1754.6L830.1 1749.5L834.5 1747.0L838.9 1749.5zM846.7 1754.6L842.3 1757.1L837.9 1754.6L837.9 1749.5L842.3 1747.0L846.7 1749.5zM854.5 1754.6L850.1 1757.1L845.7 1754.6L845.7 1749.5L850.1 1747.0L854.5 1749.5zM862.3 1754.6L857.9 1757.1L853.5 1754.6L853.5 1749.5L857.9 1747.0L862.3 1749.5zM870.1 1754.6L865.7 1757.1L861.3 1754.6L861.3 1749.5L865.7 1747.0L870.1 1749.5zM877.9 1754.6L873.5 1757.1L869.1 1754.6L869.1 1749.5L873.5 1747.0L877.9 1749.5zM885.7 1754.6L881.3 1757.1L876.9 1754.6L876.9 1749.5L881.3 1747.0L885.7 1749.5zM893.5 1754.6L889.1 1757.1L884.7 1754.6L884.7 1749.5L889.1 1747.0L893.5 1749.5zM901.3 1754.6L896.9 1757.1L892.5 1754.6L892.5 1749.5L896.9 1747.0L901.3 1749.5z" stroke="#e8413c" stroke-width="1.6" fill="none"/>
<path d="M245.7 1340.3L374.9 1438.6" stroke="#000" stroke-width="2.4"/>
<path d="M387.6 1448.3L371.2 1443.4L378.5 1433.8Z" fill="#000"/>
<path d="M164.67 1875.80v-10.5M164.67 1299.80v10.5M368.41 1875.80v-10.5M368.41 1299.80v10.5M572.15 1875.80v-10.5M572.15 1299.80v10.5M775.89 1875.80v-10.5M775.89 1299.80v10.5M266.54 1875.80v-5.5M266.54 1299.80v5.5M470.28 1875.80v-5.5M470.28 1299.80v5.5M674.02 1875.80v-5.5M674.02 1299.80v5.5M877.76 1875.80v-5.5M877.76 1299.80v5.5M144.30 1837.70h6M928.70 1837.70h-6M144.30 1809.97h6M928.70 1809.97h-6M144.30 1788.47h6M928.70 1788.47h-6M144.30 1770.90h6M928.70 1770.90h-6M144.30 1756.04h6M928.70 1756.04h-6M144.30 1743.17h6M928.70 1743.17h-6M144.30 1731.82h6M928.70 1731.82h-6M144.30 1721.67h12M928.70 1721.67h-12M144.30 1654.87h6M928.70 1654.87h-6M144.30 1615.80h6M928.70 1615.80h-6M144.30 1588.07h6M928.70 1588.07h-6M144.30 1566.57h6M928.70 1566.57h-6M144.30 1549.00h6M928.70 1549.00h-6M144.30 1534.14h6M928.70 1534.14h-6M144.30 1521.27h6M928.70 1521.27h-6M144.30 1509.92h6M928.70 1509.92h-6M144.30 1499.77h12M928.70 1499.77h-12M144.30 1432.97h6M928.70 1432.97h-6M144.30 1393.90h6M928.70 1393.90h-6M144.30 1366.17h6M928.70 1366.17h-6M144.30 1344.67h6M928.70 1344.67h-6M144.30 1327.10h6M928.70 1327.10h-6M144.30 1312.24h6M928.70 1312.24h-6" stroke="#000" stroke-width="2.4" fill="none"/>
<rect x="144.30" y="1299.80" width="784.40" height="576.00" stroke="#000" stroke-width="2.7" fill="none"/>
<text x="111.4" y="1513.6" text-anchor="end" font-size="32">10</text>
<text x="131.2" y="1500.2" text-anchor="end" font-size="22">-1</text>
<text x="111.4" y="1735.5" text-anchor="end" font-size="32">10</text>
<text x="131.2" y="1722.1" text-anchor="end" font-size="22">-2</text>
<text x="164.7" y="1914.2" text-anchor="middle"  font-size="32">-2</text>
<text x="368.4" y="1914.2" text-anchor="middle"  font-size="32">0</text>
<text x="572.2" y="1914.2" text-anchor="middle"  font-size="32">2</text>
<text x="775.9" y="1914.2" text-anchor="middle"  font-size="32">4</text>
<g transform="translate(41.4,266.4)" fill="none" stroke="#000"><path d="M3.8,2.2 C0.3,4 -0.3,12.5 4.5,14.2 C7.6,15.2 9.6,11 9.7,3.6 C10,11 12,15.6 15,14.9 C20,13.8 20.2,5 16,1.9" stroke-width="2.5"/><circle cx="3.9" cy="2.4" r="1.9" fill="#000" stroke="none"/><circle cx="15.9" cy="2.0" r="1.9" fill="#000" stroke="none"/><path d="M-10.4,-15.2 L-0.4,-14.3 Q0.8,-13.1 -0.4,-11.9 L-10.4,-11 Z M-10.4,-7.2 L-0.4,-6.3 Q0.8,-5.1 -0.4,-3.9 L-10.4,-3 Z" fill="#000" stroke="none"/></g>
<g transform="translate(10,927.8)" fill="none" stroke="#000"><path d="M3.8,2.2 C0.3,4 -0.3,12.5 4.5,14.2 C7.6,15.2 9.6,11 9.7,3.6 C10,11 12,15.6 15,14.9 C20,13.8 20.2,5 16,1.9" stroke-width="2.5"/><circle cx="3.9" cy="2.4" r="1.9" fill="#000" stroke="none"/><circle cx="15.9" cy="2.0" r="1.9" fill="#000" stroke="none"/><path d="M-10.4,-15.2 L-0.4,-14.3 Q0.8,-13.1 -0.4,-11.9 L-10.4,-11 Z M-10.4,-7.2 L-0.4,-6.3 Q0.8,-5.1 -0.4,-3.9 L-10.4,-3 Z" fill="#000" stroke="none"/></g>
<g transform="translate(34.7,1591.8)" fill="none" stroke="#000"><path d="M3.8,2.2 C0.3,4 -0.3,12.5 4.5,14.2 C7.6,15.2 9.6,11 9.7,3.6 C10,11 12,15.6 15,14.9 C20,13.8 20.2,5 16,1.9" stroke-width="2.5"/><circle cx="3.9" cy="2.4" r="1.9" fill="#000" stroke="none"/><circle cx="15.9" cy="2.0" r="1.9" fill="#000" stroke="none"/><path d="M-10.4,-15.2 L-0.4,-14.3 Q0.8,-13.1 -0.4,-11.9 L-10.4,-11 Z M-10.4,-7.2 L-0.4,-6.3 Q0.8,-5.1 -0.4,-3.9 L-10.4,-3 Z" fill="#000" stroke="none"/></g>
<text x="848.5" y="549.6" font-size="44" fill="#000" text-anchor="start">(a)</text>
<text x="849.5" y="704.6" font-size="44" fill="#000" text-anchor="start">(b)</text>
<text x="851" y="1358.7" font-size="44" fill="#000" text-anchor="start">(c)</text>
<text x="470" y="1964.9" font-size="32">log<tspan font-size="22" dy="8">10</tspan><tspan dy="-8">(ν [Hz])</tspan></text>
<text x="389" y="43.6" font-size="24" fill="#009a3e" text-anchor="start">236K</text>
<text x="581" y="43.6" font-size="24" fill="#f58220" text-anchor="start">254K</text>
<text x="684.5" y="43.6" font-size="24" fill="#0a8a3c" text-anchor="start">272K</text>
<text x="863.5" y="36" font-size="24" fill="#000" text-anchor="start">338K</text>
<text x="857.5" y="93.8" font-size="24" fill="#c850c0" text-anchor="start">308K</text>
<text x="162.5" y="192" font-size="24" fill="#bcd600" text-anchor="start">218K</text>
<text x="187.5" y="418.8" font-size="24" fill="#5cc882" text-anchor="start">182K</text>
<text x="633" y="482" font-size="24" fill="#2a2a2a" text-anchor="start">200K</text>
<text x="529" y="731.7" font-size="28" fill="#6db4e1" text-anchor="start">240 K</text>
<text x="227" y="1044.9" font-size="28" fill="#8c1a1a" text-anchor="start">260 K</text>
<text x="170.5" y="1330.4" font-size="28" fill="#f07070" text-anchor="start">211 K</text>
<text x="396" y="1457.6" font-size="28" fill="#333" text-anchor="start">215 K</text>
<text x="159" y="1552" font-size="28" fill="#148c5a" text-anchor="start">199 K</text>
<text x="174.5" y="1747.7" font-size="28" fill="#8c46be" text-anchor="start">167 K</text>
</svg></body></html>
